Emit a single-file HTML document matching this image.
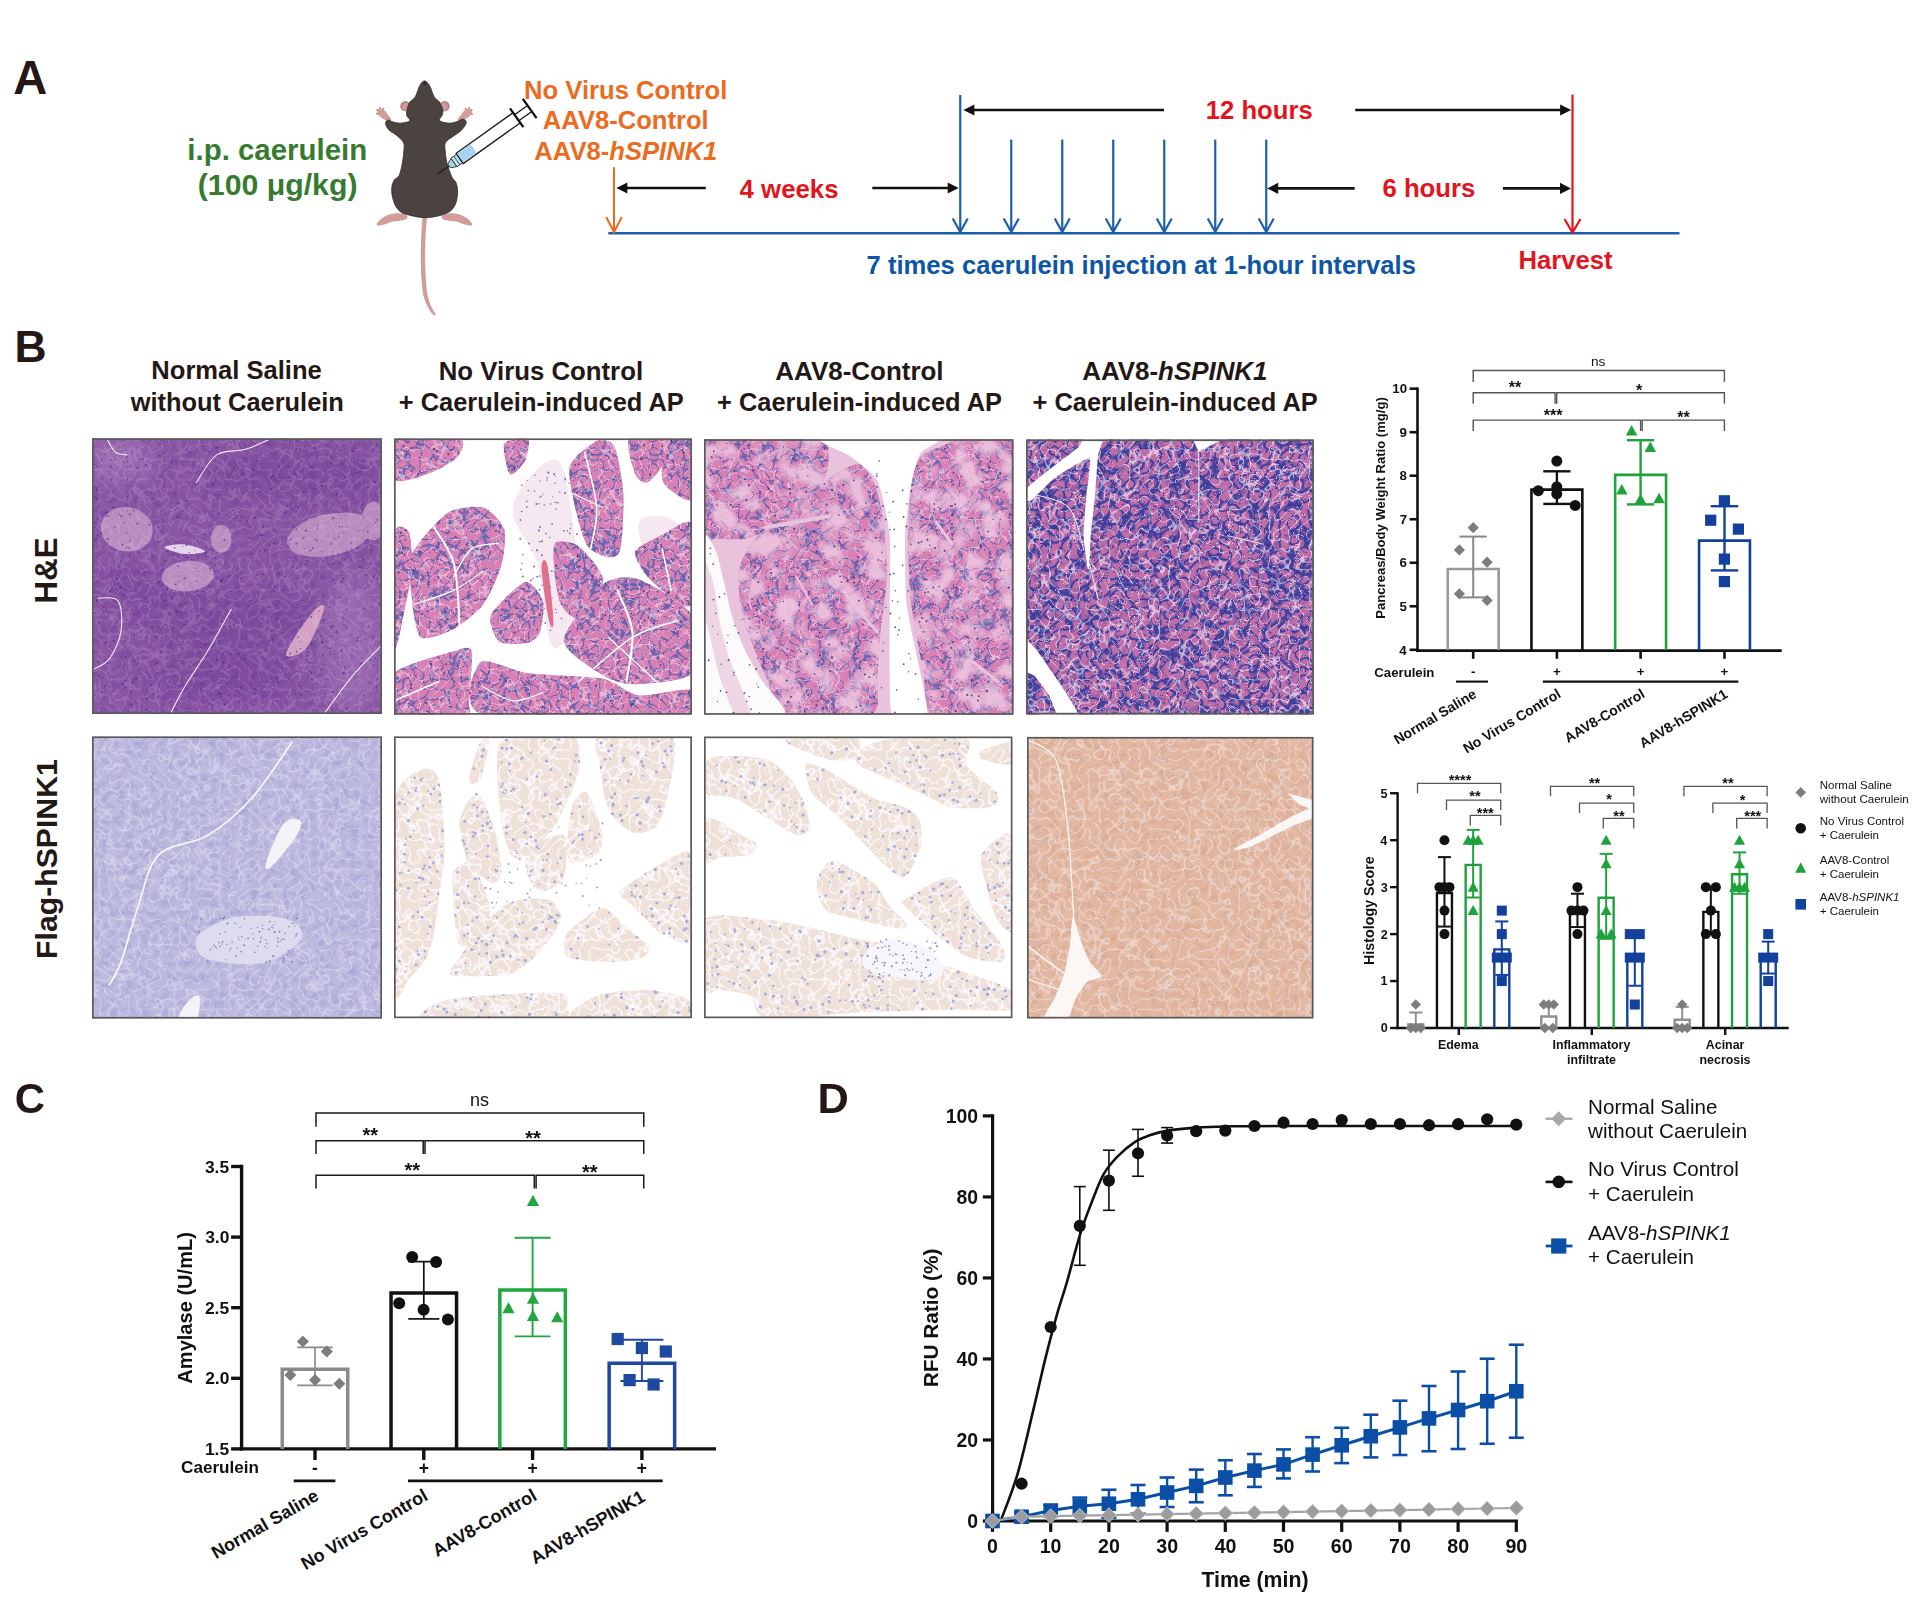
<!DOCTYPE html>
<html><head><meta charset="utf-8"><title>Figure</title>
<style>html,body{margin:0;padding:0;background:#fff;width:1920px;height:1608px;overflow:hidden;font-family:"Liberation Sans",sans-serif}svg{display:block}</style>
</head><body>
<svg width="1920" height="1608" viewBox="0 0 1920 1608"><text x="13.22" y="93.70" font-size="47.16" fill="#231815" font-family="'Liberation Sans', sans-serif"><tspan font-weight="bold" font-style="normal">A</tspan></text>
<text x="187.34" y="160.00" font-size="29.43" fill="#367b2f" font-family="'Liberation Sans', sans-serif"><tspan font-weight="bold" font-style="normal">i.p. caerulein</tspan></text>
<text x="197.79" y="194.60" font-size="30.25" fill="#367b2f" font-family="'Liberation Sans', sans-serif"><tspan font-weight="bold" font-style="normal">(100 μg/kg)</tspan></text>
<text x="523.93" y="98.70" font-size="25.66" fill="#eb6c1f" font-family="'Liberation Sans', sans-serif"><tspan font-weight="bold" font-style="normal">No Virus Control</tspan></text>
<text x="542.86" y="129.30" font-size="25.59" fill="#eb6c1f" font-family="'Liberation Sans', sans-serif"><tspan font-weight="bold" font-style="normal">AAV8-Control</tspan></text>
<text x="534.36" y="159.80" font-size="25.60" fill="#eb6c1f" font-family="'Liberation Sans', sans-serif"><tspan font-weight="bold" font-style="normal">AAV8-</tspan><tspan font-weight="bold" font-style="italic">hSPINK1</tspan></text>
<text x="739.61" y="197.70" font-size="25.77" fill="#e2141c" font-family="'Liberation Sans', sans-serif"><tspan font-weight="bold" font-style="normal">4 weeks</tspan></text>
<text x="1205.76" y="119.30" font-size="25.66" fill="#e2141c" font-family="'Liberation Sans', sans-serif"><tspan font-weight="bold" font-style="normal">12 hours</tspan></text>
<text x="1382.50" y="197.40" font-size="25.69" fill="#e2141c" font-family="'Liberation Sans', sans-serif"><tspan font-weight="bold" font-style="normal">6 hours</tspan></text>
<text x="1518.43" y="269.10" font-size="25.68" fill="#e2141c" font-family="'Liberation Sans', sans-serif"><tspan font-weight="bold" font-style="normal">Harvest</tspan></text>
<text x="866.58" y="274.00" font-size="25.62" fill="#0d56a6" font-family="'Liberation Sans', sans-serif"><tspan font-weight="bold" font-style="normal">7 times caerulein injection at 1-hour intervals</tspan></text>
<line x1="608.30" y1="233.30" x2="1679.50" y2="233.30" stroke="#1b5fae" stroke-width="2.40" stroke-linecap="butt" />
<line x1="614.00" y1="167.30" x2="614.00" y2="231.00" stroke="#eb6c1f" stroke-width="2.00" stroke-linecap="butt" /><polyline points="606.20,217.00 614.00,232.00 621.80,217.00" fill="none" stroke="#eb6c1f" stroke-width="2.00"/>
<line x1="960.25" y1="95.00" x2="960.25" y2="231.00" stroke="#1b5fae" stroke-width="2.20" stroke-linecap="butt" /><polyline points="952.75,218.50 960.25,232.00 967.75,218.50" fill="none" stroke="#1b5fae" stroke-width="2.20"/>
<line x1="1011.25" y1="139.60" x2="1011.25" y2="231.00" stroke="#1b5fae" stroke-width="2.20" stroke-linecap="butt" /><polyline points="1003.75,218.50 1011.25,232.00 1018.75,218.50" fill="none" stroke="#1b5fae" stroke-width="2.20"/>
<line x1="1062.25" y1="139.60" x2="1062.25" y2="231.00" stroke="#1b5fae" stroke-width="2.20" stroke-linecap="butt" /><polyline points="1054.75,218.50 1062.25,232.00 1069.75,218.50" fill="none" stroke="#1b5fae" stroke-width="2.20"/>
<line x1="1113.25" y1="139.60" x2="1113.25" y2="231.00" stroke="#1b5fae" stroke-width="2.20" stroke-linecap="butt" /><polyline points="1105.75,218.50 1113.25,232.00 1120.75,218.50" fill="none" stroke="#1b5fae" stroke-width="2.20"/>
<line x1="1164.25" y1="139.60" x2="1164.25" y2="231.00" stroke="#1b5fae" stroke-width="2.20" stroke-linecap="butt" /><polyline points="1156.75,218.50 1164.25,232.00 1171.75,218.50" fill="none" stroke="#1b5fae" stroke-width="2.20"/>
<line x1="1215.25" y1="139.60" x2="1215.25" y2="231.00" stroke="#1b5fae" stroke-width="2.20" stroke-linecap="butt" /><polyline points="1207.75,218.50 1215.25,232.00 1222.75,218.50" fill="none" stroke="#1b5fae" stroke-width="2.20"/>
<line x1="1266.25" y1="139.60" x2="1266.25" y2="231.00" stroke="#1b5fae" stroke-width="2.20" stroke-linecap="butt" /><polyline points="1258.75,218.50 1266.25,232.00 1273.75,218.50" fill="none" stroke="#1b5fae" stroke-width="2.20"/>
<line x1="1572.50" y1="94.60" x2="1572.50" y2="231.50" stroke="#e2141c" stroke-width="2.20" stroke-linecap="butt" /><polyline points="1564.50,219.00 1572.50,232.50 1580.50,219.00" fill="none" stroke="#e2141c" stroke-width="2.20"/>
<line x1="626.40" y1="188.00" x2="705.80" y2="188.00" stroke="#111111" stroke-width="2.60" stroke-linecap="butt" /><polygon points="616.40,188.00 627.40,182.40 627.40,193.60" fill="#111111" />
<line x1="872.30" y1="188.00" x2="948.70" y2="188.00" stroke="#111111" stroke-width="2.60" stroke-linecap="butt" /><polygon points="958.70,188.00 947.70,182.40 947.70,193.60" fill="#111111" />
<line x1="973.40" y1="110.00" x2="1164.00" y2="110.00" stroke="#111111" stroke-width="2.60" stroke-linecap="butt" /><polygon points="963.40,110.00 974.40,104.40 974.40,115.60" fill="#111111" />
<line x1="1355.20" y1="110.00" x2="1561.10" y2="110.00" stroke="#111111" stroke-width="2.60" stroke-linecap="butt" /><polygon points="1571.10,110.00 1560.10,104.40 1560.10,115.60" fill="#111111" />
<line x1="1277.20" y1="188.40" x2="1354.70" y2="188.40" stroke="#111111" stroke-width="2.60" stroke-linecap="butt" /><polygon points="1267.20,188.40 1278.20,182.80 1278.20,194.00" fill="#111111" />
<line x1="1502.90" y1="188.40" x2="1561.00" y2="188.40" stroke="#111111" stroke-width="2.60" stroke-linecap="butt" /><polygon points="1571.00,188.40 1560.00,182.80 1560.00,194.00" fill="#111111" />
<g transform="translate(360,70) scale(0.15545)"><path d="M403,940 C390,1080 384,1260 402,1420 C415,1500 448,1552 476,1580 L490,1572 C462,1540 440,1490 430,1420 C414,1270 416,1090 432,940 Z" fill="#d29d99" stroke="none" stroke-width="1.00" /><path d="M300.0,935.0 C292.0,929.0 270.0,922.5 250.0,922.0 C230.0,921.5 200.3,924.8 180.0,932.0 C159.7,939.2 140.0,954.0 128.0,965.0 C116.0,976.0 104.3,992.8 108.0,998.0 C111.7,1003.2 134.7,999.3 150.0,996.0 C165.3,992.7 184.2,982.0 200.0,978.0 C215.8,974.0 228.7,975.3 245.0,972.0 C261.3,968.7 288.8,964.2 298.0,958.0 C307.2,951.8 308.0,941.0 300.0,935.0 Z" fill="#d29d99" stroke="none" stroke-width="1.00" /><path d="M530.0,935.0 C538.0,929.0 560.0,922.5 580.0,922.0 C600.0,921.5 629.7,924.8 650.0,932.0 C670.3,939.2 690.0,954.0 702.0,965.0 C714.0,976.0 725.7,992.8 722.0,998.0 C718.3,1003.2 695.3,999.3 680.0,996.0 C664.7,992.7 645.8,982.0 630.0,978.0 C614.2,974.0 601.3,975.3 585.0,972.0 C568.7,968.7 541.2,964.2 532.0,958.0 C522.8,951.8 522.0,941.0 530.0,935.0 Z" fill="#d29d99" stroke="none" stroke-width="1.00" /><path d="M190.0,330.0 C181.7,330.0 162.0,321.7 150.0,315.0 C138.0,308.3 124.3,298.8 118.0,290.0 C111.7,281.2 109.7,268.7 112.0,262.0 C114.3,255.3 124.0,250.0 132.0,250.0 C140.0,250.0 152.0,255.3 160.0,262.0 C168.0,268.7 173.3,281.2 180.0,290.0 C186.7,298.8 198.3,308.3 200.0,315.0 C201.7,321.7 198.3,330.0 190.0,330.0 Z" fill="#d29d99" stroke="none" stroke-width="1.00" /><path d="M640.0,330.0 C648.3,330.0 668.0,321.7 680.0,315.0 C692.0,308.3 705.7,298.8 712.0,290.0 C718.3,281.2 720.3,268.7 718.0,262.0 C715.7,255.3 706.0,250.0 698.0,250.0 C690.0,250.0 678.0,255.3 670.0,262.0 C662.0,268.7 656.7,281.2 650.0,290.0 C643.3,298.8 631.7,308.3 630.0,315.0 C628.3,321.7 631.7,330.0 640.0,330.0 Z" fill="#d29d99" stroke="none" stroke-width="1.00" /><circle cx="112.00" cy="258.00" r="7.00" fill="#c08c8a" /><circle cx="128.00" cy="245.00" r="7.00" fill="#c08c8a" /><circle cx="150.00" cy="250.00" r="7.00" fill="#c08c8a" /><circle cx="110.00" cy="282.00" r="7.00" fill="#c08c8a" /><circle cx="718.00" cy="258.00" r="7.00" fill="#c08c8a" /><circle cx="702.00" cy="245.00" r="7.00" fill="#c08c8a" /><circle cx="680.00" cy="250.00" r="7.00" fill="#c08c8a" /><circle cx="720.00" cy="282.00" r="7.00" fill="#c08c8a" /><circle cx="292.00" cy="233.00" r="33.00" fill="#b98280" /><circle cx="296.00" cy="236.00" r="24.00" fill="#d29d99" /><circle cx="544.00" cy="233.00" r="33.00" fill="#b98280" /><circle cx="540.00" cy="236.00" r="24.00" fill="#d29d99" /><path d="M415.0,70.0 C425.3,70.0 436.7,82.0 447.0,99.0 C457.3,116.0 466.5,154.3 477.0,172.0 C487.5,189.7 500.8,191.5 510.0,205.0 C519.2,218.5 528.8,238.8 532.0,253.0 C535.2,267.2 532.3,278.0 529.0,290.0 C525.7,302.0 504.7,316.3 512.0,325.0 C519.3,333.7 553.3,341.2 573.0,342.0 C592.7,342.8 615.2,334.3 630.0,330.0 C644.8,325.7 653.0,314.7 662.0,316.0 C671.0,317.3 685.3,326.3 684.0,338.0 C682.7,349.7 668.8,370.7 654.0,386.0 C639.2,401.3 612.3,416.5 595.0,430.0 C577.7,443.5 557.8,452.0 550.0,467.0 C542.2,482.0 546.3,497.8 548.0,520.0 C549.7,542.2 552.7,571.7 560.0,600.0 C567.3,628.3 582.3,669.2 592.0,690.0 C601.7,710.8 612.0,709.2 618.0,725.0 C624.0,740.8 628.0,763.8 628.0,785.0 C628.0,806.2 624.0,833.2 618.0,852.0 C612.0,870.8 601.7,886.7 592.0,898.0 C582.3,909.3 572.8,913.7 560.0,920.0 C547.2,926.3 530.3,931.7 515.0,936.0 C499.7,940.3 484.7,943.7 468.0,946.0 C451.3,948.3 432.7,950.3 415.0,950.0 C397.3,949.7 379.2,947.0 362.0,944.0 C344.8,941.0 327.7,936.3 312.0,932.0 C296.3,927.7 281.3,926.7 268.0,918.0 C254.7,909.3 241.7,896.0 232.0,880.0 C222.3,864.0 214.7,842.0 210.0,822.0 C205.3,802.0 202.3,779.0 204.0,760.0 C205.7,741.0 212.0,721.7 220.0,708.0 C228.0,694.3 243.3,696.0 252.0,678.0 C260.7,660.0 267.0,626.3 272.0,600.0 C277.0,573.7 280.7,542.2 282.0,520.0 C283.3,497.8 288.0,483.8 280.0,467.0 C272.0,450.2 249.7,432.5 234.0,419.0 C218.3,405.5 197.5,398.3 186.0,386.0 C174.5,373.7 166.3,355.7 165.0,345.0 C163.7,334.3 169.7,323.7 178.0,322.0 C186.3,320.3 200.8,331.7 215.0,335.0 C229.2,338.3 245.5,343.3 263.0,342.0 C280.5,340.7 313.8,335.7 320.0,327.0 C326.2,318.3 302.2,304.7 300.0,290.0 C297.8,275.3 303.3,253.2 307.0,239.0 C310.7,224.8 313.8,216.2 322.0,205.0 C330.2,193.8 345.5,189.7 356.0,172.0 C366.5,154.3 375.2,116.0 385.0,99.0 C394.8,82.0 404.7,70.0 415.0,70.0 Z" fill="#4a4340" stroke="#2f2a28" stroke-width="5.00" /><path d="M415.0,72.0 C418.3,72.0 425.0,84.0 425.0,88.0 C425.0,92.0 418.3,96.0 415.0,96.0 C411.7,96.0 405.0,92.0 405.0,88.0 C405.0,84.0 411.7,72.0 415.0,72.0 Z" fill="#2a2524" stroke="none" stroke-width="1.00" /></g>
<g transform="translate(437.7,174.1) rotate(-35.5)"><line x1="0.00" y1="0.00" x2="15.00" y2="0.00" stroke="#222" stroke-width="1.30" stroke-linecap="butt" /><polygon points="14.00,-2.20 20.00,-5.00 20.00,5.00 14.00,2.20" fill="#a8d8ec" stroke="#333" stroke-width="0.9"/><rect x="20.00" y="-5.20" width="7.00" height="10.40" fill="#bfe3f1" stroke="#333" stroke-width="0.9"/><line x1="23.50" y1="-5.20" x2="23.50" y2="5.20" stroke="#333" stroke-width="0.80" stroke-linecap="butt" /><rect x="27.00" y="-6.20" width="70.00" height="12.40" fill="#ffffff" stroke="#1a1a1a" stroke-width="1.3"/><rect x="27.70" y="-5.50" width="16.50" height="11.00" fill="#a9d2ee" /><line x1="97.00" y1="-11.50" x2="97.00" y2="11.50" stroke="#111" stroke-width="2.30" stroke-linecap="butt" /><line x1="97.00" y1="-3.60" x2="113.00" y2="-3.60" stroke="#111" stroke-width="1.20" stroke-linecap="butt" /><line x1="97.00" y1="3.60" x2="113.00" y2="3.60" stroke="#111" stroke-width="1.20" stroke-linecap="butt" /><line x1="113.00" y1="-11.80" x2="113.00" y2="11.80" stroke="#111" stroke-width="2.30" stroke-linecap="butt" /></g>
<text x="14.41" y="361.50" font-size="44.43" fill="#231815" font-family="'Liberation Sans', sans-serif"><tspan font-weight="bold" font-style="normal">B</tspan></text>
<text x="151.34" y="379.40" font-size="25.57" fill="#231815" font-family="'Liberation Sans', sans-serif"><tspan font-weight="bold" font-style="normal">Normal Saline</tspan></text>
<text x="130.73" y="411.00" font-size="25.42" fill="#231815" font-family="'Liberation Sans', sans-serif"><tspan font-weight="bold" font-style="normal">without Caerulein</tspan></text>
<text x="438.72" y="379.50" font-size="25.79" fill="#231815" font-family="'Liberation Sans', sans-serif"><tspan font-weight="bold" font-style="normal">No Virus Control</tspan></text>
<text x="398.78" y="411.00" font-size="25.41" fill="#231815" font-family="'Liberation Sans', sans-serif"><tspan font-weight="bold" font-style="normal">+ Caerulein-induced AP</tspan></text>
<text x="775.35" y="379.50" font-size="25.96" fill="#231815" font-family="'Liberation Sans', sans-serif"><tspan font-weight="bold" font-style="normal">AAV8-Control</tspan></text>
<text x="717.08" y="411.00" font-size="25.41" fill="#231815" font-family="'Liberation Sans', sans-serif"><tspan font-weight="bold" font-style="normal">+ Caerulein-induced AP</tspan></text>
<text x="1082.35" y="379.50" font-size="25.90" fill="#231815" font-family="'Liberation Sans', sans-serif"><tspan font-weight="bold" font-style="normal">AAV8-</tspan><tspan font-weight="bold" font-style="italic">hSPINK1</tspan></text>
<text x="1032.48" y="411.00" font-size="25.45" fill="#231815" font-family="'Liberation Sans', sans-serif"><tspan font-weight="bold" font-style="normal">+ Caerulein-induced AP</tspan></text>
<text transform="translate(57.20,603.43) rotate(-90)" x="0" y="0" font-size="31.24" fill="#231815" font-family="'Liberation Sans', sans-serif"><tspan font-weight="bold" font-style="normal">H&amp;E</tspan></text>
<text transform="translate(57.20,958.96) rotate(-90)" x="0" y="0" font-size="30.21" fill="#231815" font-family="'Liberation Sans', sans-serif"><tspan font-weight="bold" font-style="normal">Flag-hSPINK1</tspan></text>
<defs><clipPath id="c0"><rect x="92.00" y="438.30" width="290.00" height="275.70"/></clipPath><clipPath id="c1"><rect x="394.00" y="438.40" width="298.00" height="276.30"/></clipPath><clipPath id="c2"><rect x="704.00" y="439.20" width="309.50" height="275.60"/></clipPath><clipPath id="c3"><rect x="1026.00" y="439.40" width="288.00" height="275.10"/></clipPath><clipPath id="c4"><rect x="92.00" y="736.40" width="290.00" height="282.20"/></clipPath><clipPath id="c5"><rect x="394.00" y="736.40" width="298.00" height="281.80"/></clipPath><clipPath id="c6"><rect x="704.00" y="736.50" width="308.50" height="281.70"/></clipPath><clipPath id="c7"><rect x="1027.00" y="736.90" width="286.50" height="281.60"/></clipPath><filter id="t1" x="0" y="0" width="100%" height="100%" color-interpolation-filters="sRGB"><feTurbulence type="fractalNoise" baseFrequency="0.12" numOctaves="2" seed="3"/><feColorMatrix type="matrix" values="0 0 0 0 0.373 0 0 0 0 0.196 0 0 0 0 0.588 1.500 0 0 0 -0.600"/></filter><filter id="t1b" x="0" y="0" width="100%" height="100%" color-interpolation-filters="sRGB"><feTurbulence type="turbulence" baseFrequency="0.1" numOctaves="1" seed="7"/><feColorMatrix type="matrix" values="0 0 0 0 0.922 0 0 0 0 0.843 0 0 0 0 0.941 -9.00 0 0 0 1.00"/></filter><filter id="t2" x="0" y="0" width="100%" height="100%" color-interpolation-filters="sRGB"><feTurbulence type="turbulence" baseFrequency="0.1" numOctaves="1" seed="5"/><feColorMatrix type="matrix" values="0 0 0 0 0.333 0 0 0 0 0.361 0 0 0 0 0.675 -11.00 0 0 0 1.15"/></filter><filter id="t2b" x="0" y="0" width="100%" height="100%" color-interpolation-filters="sRGB"><feTurbulence type="turbulence" baseFrequency="0.1" numOctaves="1" seed="6"/><feColorMatrix type="matrix" values="0 0 0 0 1.000 0 0 0 0 0.980 0 0 0 0 1.000 -12.00 0 0 0 0.90"/></filter><filter id="t4" x="0" y="0" width="100%" height="100%" color-interpolation-filters="sRGB"><feTurbulence type="turbulence" baseFrequency="0.1" numOctaves="1" seed="9"/><feColorMatrix type="matrix" values="0 0 0 0 0.243 0 0 0 0 0.251 0 0 0 0 0.620 -8.00 0 0 0 1.30"/></filter><filter id="t4b" x="0" y="0" width="100%" height="100%" color-interpolation-filters="sRGB"><feTurbulence type="turbulence" baseFrequency="0.1" numOctaves="1" seed="10"/><feColorMatrix type="matrix" values="0 0 0 0 0.980 0 0 0 0 0.961 0 0 0 0 1.000 -11.00 0 0 0 1.00"/></filter><filter id="t4c" x="0" y="0" width="100%" height="100%" color-interpolation-filters="sRGB"><feTurbulence type="fractalNoise" baseFrequency="0.15" numOctaves="1" seed="12"/><feColorMatrix type="matrix" values="0 0 0 0 0.235 0 0 0 0 0.196 0 0 0 0 0.588 3.000 0 0 0 -1.600"/></filter><filter id="t3p" x="0" y="0" width="100%" height="100%" color-interpolation-filters="sRGB"><feTurbulence type="fractalNoise" baseFrequency="0.045" numOctaves="2" seed="31"/><feColorMatrix type="matrix" values="0 0 0 0 0.933 0 0 0 0 0.769 0 0 0 0 0.871 4.000 0 0 0 -1.750"/></filter><filter id="t5" x="0" y="0" width="100%" height="100%" color-interpolation-filters="sRGB"><feTurbulence type="fractalNoise" baseFrequency="0.12" numOctaves="2" seed="11"/><feColorMatrix type="matrix" values="0 0 0 0 0.588 0 0 0 0 0.569 0 0 0 0 0.804 1.500 0 0 0 -0.600"/></filter><filter id="t5b" x="0" y="0" width="100%" height="100%" color-interpolation-filters="sRGB"><feTurbulence type="turbulence" baseFrequency="0.1" numOctaves="1" seed="13"/><feColorMatrix type="matrix" values="0 0 0 0 0.973 0 0 0 0 0.973 0 0 0 0 1.000 -10.00 0 0 0 1.00"/></filter><filter id="t6" x="0" y="0" width="100%" height="100%" color-interpolation-filters="sRGB"><feTurbulence type="turbulence" baseFrequency="0.1" numOctaves="1" seed="17"/><feColorMatrix type="matrix" values="0 0 0 0 0.988 0 0 0 0 0.980 0 0 0 0 1.000 -9.00 0 0 0 1.10"/></filter><filter id="t8" x="0" y="0" width="100%" height="100%" color-interpolation-filters="sRGB"><feTurbulence type="fractalNoise" baseFrequency="0.12" numOctaves="2" seed="19"/><feColorMatrix type="matrix" values="0 0 0 0 0.784 0 0 0 0 0.529 0 0 0 0 0.412 1.400 0 0 0 -0.600"/></filter><filter id="t8b" x="0" y="0" width="100%" height="100%" color-interpolation-filters="sRGB"><feTurbulence type="turbulence" baseFrequency="0.1" numOctaves="1" seed="23"/><feColorMatrix type="matrix" values="0 0 0 0 0.973 0 0 0 0 0.933 0 0 0 0 0.949 -9.00 0 0 0 1.00"/></filter><filter id="blur8" x="-50%" y="-50%" width="200%" height="200%"><feGaussianBlur stdDeviation="10"/></filter></defs>
<g clip-path="url(#c0)"><rect x="92.00" y="438.30" width="290.00" height="275.70" fill="#8c58a5" /><rect x="92.00" y="438.30" width="290.00" height="275.70" fill="#000" filter="url(#t1)" opacity="0.55"/><g filter="url(#blur8)"><ellipse cx="295.0" cy="474.2" rx="87.0" ry="22.1" fill="#5a2a88" opacity="0.25"/><ellipse cx="135.5" cy="590.1" rx="43.5" ry="16.6" fill="#5a2a88" opacity="0.22"/><ellipse cx="237.0" cy="620.5" rx="87.0" ry="27.6" fill="#5a2a88" opacity="0.25"/><ellipse cx="222.5" cy="675.7" rx="72.5" ry="24.8" fill="#5a2a88" opacity="0.22"/><ellipse cx="121.0" cy="460.4" rx="34.8" ry="22.1" fill="#d8b8e0" opacity="0.25"/><ellipse cx="353.0" cy="645.3" rx="29.0" ry="69.0" fill="#d8b8e0" opacity="0.20"/></g><ellipse cx="126.8" cy="529.3" rx="26.1" ry="22.1" fill="#b98cbf" transform="rotate(10 126.8 529.3)"/><ellipse cx="221.1" cy="538.9" rx="10.2" ry="13.8" fill="#b98cbf" transform="rotate(0 221.1 538.9)"/><ellipse cx="187.7" cy="576.1" rx="26.1" ry="15.2" fill="#b98cbf" transform="rotate(-5 187.7 576.1)"/><ellipse cx="329.8" cy="534.8" rx="43.5" ry="20.7" fill="#b98cbf" transform="rotate(-12 329.8 534.8)"/><ellipse cx="373.3" cy="521.0" rx="11.6" ry="19.3" fill="#b98cbf" transform="rotate(0 373.3 521.0)"/><path d="M164.50,547.20 C164.50,545.59 178.03,543.76 184.80,544.44 C191.57,545.13 205.10,549.73 205.10,551.34 C205.10,552.95 191.57,554.78 184.80,554.09 C178.03,553.40 164.50,548.81 164.50,547.20 Z" fill="#e6d2ea" stroke="none" stroke-width="1.00" /><path d="M295.00,636.80 C299.83,628.99 310.47,613.83 315.30,609.23 C320.13,604.64 325.45,602.80 324.00,609.23 C322.55,615.67 312.88,640.02 306.60,647.83 C300.32,655.64 288.23,657.94 286.30,656.10 C284.37,654.27 290.17,644.62 295.00,636.80 Z" fill="#d3a0c4" stroke="none" stroke-width="1.00" /><rect x="92.00" y="438.30" width="290.00" height="275.70" fill="#000" filter="url(#t1b)" opacity="0.18"/><g fill="#3e2478" opacity="0.60"><circle cx="260.5" cy="492.0" r="1.0"/><circle cx="360.0" cy="567.1" r="0.8"/><circle cx="154.2" cy="499.4" r="0.6"/><circle cx="292.8" cy="496.9" r="1.0"/><circle cx="112.4" cy="491.6" r="0.5"/><circle cx="315.3" cy="539.3" r="0.7"/><circle cx="186.5" cy="614.0" r="0.7"/><circle cx="152.4" cy="556.9" r="0.7"/><circle cx="124.1" cy="665.3" r="0.8"/><circle cx="284.8" cy="681.6" r="0.7"/><circle cx="202.0" cy="554.9" r="0.7"/><circle cx="286.0" cy="440.1" r="0.7"/><circle cx="247.2" cy="533.6" r="0.5"/><circle cx="296.3" cy="440.9" r="0.8"/><circle cx="136.5" cy="447.8" r="0.6"/><circle cx="111.1" cy="479.9" r="0.8"/><circle cx="303.2" cy="538.3" r="0.8"/><circle cx="229.8" cy="575.7" r="0.9"/><circle cx="182.3" cy="678.2" r="0.8"/><circle cx="290.2" cy="439.9" r="0.5"/><circle cx="101.3" cy="533.6" r="1.0"/><circle cx="346.0" cy="669.5" r="0.6"/><circle cx="296.7" cy="651.8" r="0.9"/><circle cx="321.7" cy="477.0" r="0.6"/><circle cx="321.8" cy="641.8" r="0.9"/><circle cx="221.5" cy="683.6" r="0.6"/><circle cx="369.6" cy="682.1" r="0.7"/><circle cx="111.6" cy="589.5" r="0.8"/><circle cx="193.6" cy="454.2" r="0.6"/><circle cx="331.1" cy="463.3" r="1.0"/><circle cx="164.5" cy="494.7" r="0.6"/><circle cx="376.5" cy="686.7" r="0.7"/><circle cx="119.7" cy="618.4" r="0.9"/><circle cx="95.5" cy="612.8" r="0.9"/><circle cx="225.1" cy="595.3" r="0.9"/><circle cx="161.2" cy="513.6" r="0.8"/><circle cx="252.2" cy="585.9" r="0.7"/><circle cx="363.7" cy="517.7" r="0.8"/><circle cx="351.3" cy="548.8" r="0.5"/><circle cx="155.9" cy="456.6" r="0.6"/><circle cx="126.9" cy="532.7" r="0.7"/><circle cx="221.7" cy="621.7" r="0.8"/><circle cx="291.3" cy="538.8" r="0.8"/><circle cx="251.4" cy="473.5" r="0.8"/><circle cx="184.3" cy="624.6" r="0.9"/><circle cx="161.8" cy="558.3" r="0.7"/><circle cx="178.1" cy="449.5" r="0.5"/><circle cx="379.9" cy="642.3" r="0.7"/><circle cx="285.3" cy="512.5" r="0.9"/><circle cx="367.7" cy="651.5" r="0.7"/><circle cx="377.2" cy="692.5" r="0.5"/><circle cx="211.4" cy="562.9" r="0.6"/><circle cx="270.8" cy="477.8" r="0.9"/><circle cx="340.7" cy="455.3" r="0.8"/><circle cx="169.1" cy="614.3" r="0.8"/><circle cx="375.2" cy="658.3" r="0.7"/><circle cx="303.7" cy="478.8" r="0.9"/><circle cx="213.0" cy="511.4" r="0.6"/><circle cx="154.9" cy="657.9" r="0.5"/><circle cx="159.4" cy="491.3" r="0.6"/><circle cx="303.7" cy="600.2" r="0.8"/><circle cx="353.1" cy="562.0" r="0.5"/><circle cx="146.9" cy="580.7" r="0.9"/><circle cx="358.4" cy="579.2" r="0.6"/><circle cx="263.9" cy="696.0" r="0.7"/><circle cx="362.0" cy="687.5" r="0.8"/><circle cx="231.5" cy="473.8" r="0.6"/><circle cx="103.9" cy="606.9" r="0.9"/><circle cx="380.1" cy="604.4" r="1.0"/><circle cx="208.8" cy="475.2" r="0.5"/><circle cx="175.6" cy="584.6" r="1.0"/><circle cx="178.2" cy="503.1" r="0.9"/><circle cx="204.6" cy="592.2" r="0.6"/><circle cx="339.4" cy="691.8" r="0.9"/><circle cx="363.4" cy="530.0" r="0.5"/><circle cx="180.4" cy="685.8" r="0.7"/><circle cx="150.1" cy="480.0" r="0.6"/><circle cx="219.3" cy="693.5" r="0.9"/><circle cx="311.7" cy="646.8" r="0.6"/><circle cx="317.5" cy="500.1" r="0.8"/><circle cx="101.7" cy="684.3" r="0.6"/><circle cx="263.9" cy="620.9" r="0.8"/><circle cx="289.9" cy="540.1" r="0.9"/><circle cx="364.2" cy="608.4" r="1.0"/><circle cx="338.5" cy="453.6" r="0.8"/><circle cx="118.5" cy="620.6" r="0.7"/><circle cx="339.8" cy="450.6" r="1.0"/><circle cx="104.6" cy="453.9" r="0.5"/><circle cx="128.4" cy="710.2" r="0.9"/><circle cx="357.9" cy="489.7" r="0.8"/><circle cx="322.6" cy="638.7" r="0.6"/><circle cx="373.5" cy="639.1" r="0.8"/><circle cx="174.5" cy="547.8" r="0.9"/><circle cx="241.7" cy="572.8" r="1.0"/><circle cx="213.9" cy="675.1" r="0.5"/><circle cx="245.8" cy="634.9" r="0.5"/><circle cx="293.9" cy="517.2" r="0.8"/><circle cx="272.7" cy="475.9" r="1.0"/><circle cx="162.4" cy="475.9" r="0.7"/><circle cx="110.6" cy="466.2" r="0.9"/><circle cx="120.3" cy="587.5" r="0.9"/><circle cx="223.6" cy="662.8" r="0.9"/><circle cx="139.7" cy="459.4" r="0.9"/><circle cx="343.2" cy="673.5" r="0.9"/><circle cx="239.9" cy="702.4" r="0.9"/><circle cx="313.2" cy="689.6" r="0.5"/><circle cx="306.9" cy="599.4" r="0.5"/><circle cx="166.1" cy="635.7" r="0.8"/><circle cx="255.1" cy="517.5" r="0.8"/><circle cx="346.9" cy="708.5" r="0.8"/><circle cx="304.1" cy="462.4" r="0.6"/><circle cx="254.2" cy="666.2" r="0.6"/><circle cx="134.8" cy="576.1" r="0.7"/><circle cx="132.7" cy="482.0" r="0.7"/><circle cx="321.9" cy="485.5" r="0.9"/><circle cx="113.6" cy="507.4" r="0.8"/><circle cx="94.1" cy="527.1" r="0.6"/><circle cx="158.8" cy="682.8" r="0.6"/><circle cx="300.8" cy="689.2" r="0.6"/><circle cx="342.1" cy="526.7" r="0.9"/><circle cx="260.5" cy="534.9" r="0.9"/><circle cx="293.8" cy="526.3" r="0.8"/><circle cx="177.4" cy="517.1" r="1.0"/><circle cx="374.9" cy="481.8" r="1.0"/><circle cx="299.0" cy="441.4" r="0.6"/><circle cx="218.4" cy="683.0" r="0.9"/><circle cx="164.7" cy="561.1" r="1.0"/><circle cx="152.8" cy="467.1" r="0.7"/><circle cx="289.4" cy="678.9" r="0.9"/><circle cx="95.4" cy="486.7" r="0.6"/><circle cx="264.8" cy="550.2" r="1.0"/><circle cx="270.5" cy="607.8" r="0.8"/><circle cx="151.4" cy="685.0" r="0.9"/><circle cx="330.5" cy="654.0" r="0.6"/><circle cx="107.4" cy="538.9" r="0.9"/><circle cx="150.2" cy="677.9" r="0.9"/><circle cx="294.0" cy="571.8" r="0.6"/><circle cx="326.7" cy="485.9" r="0.7"/><circle cx="311.9" cy="613.5" r="0.6"/><circle cx="346.9" cy="526.7" r="0.7"/><circle cx="219.2" cy="631.7" r="0.5"/><circle cx="277.1" cy="572.8" r="0.9"/><circle cx="198.1" cy="595.8" r="1.0"/><circle cx="108.9" cy="656.7" r="0.7"/><circle cx="179.0" cy="514.0" r="0.6"/><circle cx="336.6" cy="494.2" r="1.0"/><circle cx="241.8" cy="516.9" r="0.9"/><circle cx="260.6" cy="682.1" r="0.6"/><circle cx="292.7" cy="446.0" r="0.6"/><circle cx="212.3" cy="524.6" r="0.6"/><circle cx="257.1" cy="644.2" r="0.7"/><circle cx="239.5" cy="653.9" r="0.6"/><circle cx="381.4" cy="444.8" r="0.7"/><circle cx="331.3" cy="503.2" r="0.7"/><circle cx="141.5" cy="706.9" r="0.9"/><circle cx="115.6" cy="586.8" r="0.6"/><circle cx="97.2" cy="499.2" r="0.9"/><circle cx="245.3" cy="517.5" r="0.8"/><circle cx="115.9" cy="532.7" r="0.5"/><circle cx="331.0" cy="543.8" r="0.9"/><circle cx="189.3" cy="552.8" r="0.8"/><circle cx="167.2" cy="589.2" r="0.9"/><circle cx="113.5" cy="493.1" r="0.5"/><circle cx="233.7" cy="468.7" r="0.8"/><circle cx="138.7" cy="583.3" r="0.6"/><circle cx="309.3" cy="663.1" r="1.0"/><circle cx="226.4" cy="683.5" r="0.9"/><circle cx="189.4" cy="708.5" r="1.0"/><circle cx="137.6" cy="645.5" r="0.8"/><circle cx="270.7" cy="634.3" r="0.6"/><circle cx="333.9" cy="637.3" r="0.6"/><circle cx="372.1" cy="640.5" r="0.5"/><circle cx="101.4" cy="485.0" r="0.8"/><circle cx="301.5" cy="695.0" r="0.9"/><circle cx="151.3" cy="491.9" r="0.5"/><circle cx="205.1" cy="555.0" r="0.7"/><circle cx="330.1" cy="607.3" r="0.9"/><circle cx="342.1" cy="649.3" r="0.8"/><circle cx="210.7" cy="586.1" r="0.7"/><circle cx="285.9" cy="673.2" r="0.8"/><circle cx="165.8" cy="593.9" r="0.7"/><circle cx="127.7" cy="467.4" r="0.7"/><circle cx="364.9" cy="632.1" r="0.5"/><circle cx="357.8" cy="638.1" r="0.8"/><circle cx="93.8" cy="523.8" r="0.7"/><circle cx="231.9" cy="472.1" r="0.8"/><circle cx="269.4" cy="614.9" r="0.7"/><circle cx="253.7" cy="469.5" r="0.9"/><circle cx="343.8" cy="673.0" r="0.9"/><circle cx="162.3" cy="519.3" r="0.5"/><circle cx="319.8" cy="675.3" r="1.0"/><circle cx="266.2" cy="658.6" r="0.9"/><circle cx="127.0" cy="457.1" r="0.9"/><circle cx="373.5" cy="635.7" r="0.8"/><circle cx="206.8" cy="675.0" r="0.6"/><circle cx="107.7" cy="659.9" r="0.5"/><circle cx="299.6" cy="617.5" r="0.6"/><circle cx="218.6" cy="513.4" r="0.9"/><circle cx="317.4" cy="529.1" r="0.6"/><circle cx="191.3" cy="559.5" r="0.8"/><circle cx="366.9" cy="526.8" r="0.6"/><circle cx="273.6" cy="555.6" r="0.9"/><circle cx="284.0" cy="589.2" r="0.9"/><circle cx="148.8" cy="654.1" r="0.6"/><circle cx="231.1" cy="591.5" r="0.8"/><circle cx="124.5" cy="564.9" r="0.6"/><circle cx="172.2" cy="554.5" r="0.7"/><circle cx="151.9" cy="627.3" r="1.0"/><circle cx="366.9" cy="488.0" r="0.6"/><circle cx="210.0" cy="602.2" r="0.8"/><circle cx="262.9" cy="574.2" r="1.0"/><circle cx="370.8" cy="659.9" r="0.6"/><circle cx="314.5" cy="448.2" r="1.0"/><circle cx="295.4" cy="693.4" r="0.7"/><circle cx="298.2" cy="507.4" r="1.0"/><circle cx="143.8" cy="440.8" r="0.6"/><circle cx="284.7" cy="586.4" r="0.9"/><circle cx="290.3" cy="653.5" r="1.0"/><circle cx="111.2" cy="467.5" r="0.6"/><circle cx="130.8" cy="590.4" r="0.9"/><circle cx="144.7" cy="575.1" r="0.6"/><circle cx="96.9" cy="511.3" r="0.6"/><circle cx="291.5" cy="705.4" r="0.5"/><circle cx="234.2" cy="566.3" r="0.8"/><circle cx="135.0" cy="702.0" r="0.6"/><circle cx="259.8" cy="550.9" r="0.8"/><circle cx="347.3" cy="608.6" r="0.7"/><circle cx="368.2" cy="486.8" r="1.0"/><circle cx="287.3" cy="505.8" r="1.0"/><circle cx="343.1" cy="578.5" r="0.9"/><circle cx="119.2" cy="514.1" r="0.7"/><circle cx="365.7" cy="540.2" r="1.0"/><circle cx="260.2" cy="636.3" r="0.9"/><circle cx="130.4" cy="691.6" r="0.8"/><circle cx="127.4" cy="480.0" r="0.9"/><circle cx="254.9" cy="694.0" r="0.9"/><circle cx="251.2" cy="553.8" r="0.9"/><circle cx="375.6" cy="522.8" r="0.8"/><circle cx="126.3" cy="450.5" r="0.5"/><circle cx="200.6" cy="608.5" r="0.9"/><circle cx="309.5" cy="704.0" r="0.6"/><circle cx="339.7" cy="526.7" r="0.7"/><circle cx="249.6" cy="713.0" r="0.7"/><circle cx="108.9" cy="539.3" r="0.8"/><circle cx="290.1" cy="480.6" r="0.6"/><circle cx="140.2" cy="579.7" r="0.7"/><circle cx="184.5" cy="578.4" r="0.9"/><circle cx="270.7" cy="640.6" r="0.7"/><circle cx="360.6" cy="470.5" r="0.5"/><circle cx="120.0" cy="570.8" r="0.7"/><circle cx="149.6" cy="440.3" r="0.9"/><circle cx="108.8" cy="612.4" r="1.0"/><circle cx="165.1" cy="600.7" r="0.9"/><circle cx="219.1" cy="691.8" r="0.5"/><circle cx="258.0" cy="652.7" r="0.7"/><circle cx="332.5" cy="708.9" r="0.9"/><circle cx="230.8" cy="628.9" r="0.9"/><circle cx="272.7" cy="451.1" r="0.6"/><circle cx="269.1" cy="470.1" r="0.6"/><circle cx="373.9" cy="576.7" r="1.0"/><circle cx="334.9" cy="654.1" r="0.7"/><circle cx="159.9" cy="456.6" r="0.6"/><circle cx="236.1" cy="606.2" r="0.6"/><circle cx="224.4" cy="539.9" r="0.9"/><circle cx="178.5" cy="669.2" r="0.8"/><circle cx="363.4" cy="515.3" r="0.6"/><circle cx="233.3" cy="510.2" r="0.8"/><circle cx="368.3" cy="584.9" r="0.6"/><circle cx="107.4" cy="611.9" r="0.7"/><circle cx="94.7" cy="539.8" r="0.9"/><circle cx="273.7" cy="530.6" r="1.0"/><circle cx="376.7" cy="445.7" r="0.6"/><circle cx="268.9" cy="532.0" r="0.6"/><circle cx="325.0" cy="687.3" r="0.7"/><circle cx="371.6" cy="597.0" r="0.8"/><circle cx="241.3" cy="657.7" r="1.0"/><circle cx="237.3" cy="570.0" r="0.9"/><circle cx="336.0" cy="619.7" r="0.6"/><circle cx="129.4" cy="538.7" r="0.5"/><circle cx="194.4" cy="538.1" r="0.6"/><circle cx="133.7" cy="614.1" r="0.9"/><circle cx="155.7" cy="637.5" r="0.7"/><circle cx="95.1" cy="695.4" r="0.6"/><circle cx="231.6" cy="443.0" r="0.6"/><circle cx="194.5" cy="542.9" r="0.8"/><circle cx="372.5" cy="607.3" r="0.7"/><circle cx="333.6" cy="563.8" r="0.8"/><circle cx="221.4" cy="644.4" r="0.5"/><circle cx="142.2" cy="630.6" r="0.9"/><circle cx="196.6" cy="449.7" r="0.8"/><circle cx="122.4" cy="545.0" r="0.9"/><circle cx="324.2" cy="664.9" r="0.6"/><circle cx="304.3" cy="446.6" r="1.0"/><circle cx="307.5" cy="651.4" r="0.9"/><circle cx="329.9" cy="648.3" r="1.0"/><circle cx="110.9" cy="460.2" r="0.9"/><circle cx="126.2" cy="659.7" r="0.7"/><circle cx="310.5" cy="467.4" r="0.8"/><circle cx="300.3" cy="641.8" r="0.6"/><circle cx="161.9" cy="672.2" r="0.9"/><circle cx="239.6" cy="443.5" r="0.9"/><circle cx="311.0" cy="617.0" r="1.0"/><circle cx="275.6" cy="663.3" r="0.6"/><circle cx="175.6" cy="708.5" r="1.0"/><circle cx="123.2" cy="610.1" r="0.8"/><circle cx="268.9" cy="545.3" r="0.7"/><circle cx="359.4" cy="476.8" r="0.5"/><circle cx="308.8" cy="442.3" r="0.7"/><circle cx="254.3" cy="625.4" r="0.6"/><circle cx="276.7" cy="619.3" r="0.9"/><circle cx="228.8" cy="695.2" r="0.7"/><circle cx="357.7" cy="547.8" r="0.9"/><circle cx="176.6" cy="611.3" r="0.9"/><circle cx="109.9" cy="651.8" r="0.5"/><circle cx="321.0" cy="477.9" r="0.6"/><circle cx="183.3" cy="510.7" r="0.8"/><circle cx="193.2" cy="665.0" r="0.7"/><circle cx="317.6" cy="525.5" r="0.8"/><circle cx="262.4" cy="535.1" r="0.9"/><circle cx="273.7" cy="591.1" r="0.8"/><circle cx="158.3" cy="526.8" r="0.9"/><circle cx="293.0" cy="566.5" r="1.0"/><circle cx="365.5" cy="633.8" r="0.6"/><circle cx="205.3" cy="546.8" r="0.8"/><circle cx="178.1" cy="566.2" r="0.9"/><circle cx="124.2" cy="462.4" r="0.8"/><circle cx="96.8" cy="538.6" r="0.6"/><circle cx="315.6" cy="489.1" r="0.8"/><circle cx="344.0" cy="624.4" r="0.7"/><circle cx="146.8" cy="699.0" r="0.9"/><circle cx="291.8" cy="508.9" r="0.6"/><circle cx="345.0" cy="667.5" r="0.9"/><circle cx="180.2" cy="635.6" r="0.9"/><circle cx="351.9" cy="634.9" r="0.5"/><circle cx="107.4" cy="516.1" r="0.9"/><circle cx="189.7" cy="452.0" r="0.7"/><circle cx="139.0" cy="552.2" r="0.9"/><circle cx="237.8" cy="587.8" r="0.8"/><circle cx="371.2" cy="694.2" r="0.8"/><circle cx="126.3" cy="630.4" r="0.6"/><circle cx="94.8" cy="464.3" r="0.7"/><circle cx="340.4" cy="575.6" r="0.9"/><circle cx="245.9" cy="637.7" r="0.8"/><circle cx="304.2" cy="536.4" r="0.6"/><circle cx="322.8" cy="655.0" r="0.9"/><circle cx="287.8" cy="657.0" r="0.8"/><circle cx="284.4" cy="629.2" r="0.7"/><circle cx="103.0" cy="677.6" r="0.9"/><circle cx="186.0" cy="557.3" r="0.6"/><circle cx="362.7" cy="459.5" r="0.7"/><circle cx="99.4" cy="675.7" r="0.8"/><circle cx="315.5" cy="597.3" r="0.8"/><circle cx="354.6" cy="462.7" r="0.6"/><circle cx="125.2" cy="568.5" r="0.5"/><circle cx="276.9" cy="605.3" r="0.9"/><circle cx="332.1" cy="456.4" r="0.5"/><circle cx="221.0" cy="581.7" r="0.9"/><circle cx="189.3" cy="696.6" r="0.8"/><circle cx="233.7" cy="625.0" r="1.0"/><circle cx="306.2" cy="683.7" r="0.6"/><circle cx="123.4" cy="444.8" r="0.8"/><circle cx="302.8" cy="492.1" r="0.8"/><circle cx="152.4" cy="601.5" r="1.0"/><circle cx="345.4" cy="514.7" r="0.5"/><circle cx="162.6" cy="585.7" r="0.7"/><circle cx="221.4" cy="580.4" r="1.0"/><circle cx="194.7" cy="550.6" r="0.7"/><circle cx="252.5" cy="482.1" r="0.8"/><circle cx="241.8" cy="659.0" r="0.8"/><circle cx="359.0" cy="531.0" r="0.7"/><circle cx="193.9" cy="439.1" r="0.9"/><circle cx="294.9" cy="704.0" r="0.5"/><circle cx="341.1" cy="651.0" r="0.9"/><circle cx="133.8" cy="510.6" r="0.9"/><circle cx="288.0" cy="465.7" r="0.5"/><circle cx="372.5" cy="636.9" r="0.7"/><circle cx="228.2" cy="483.9" r="0.6"/><circle cx="370.7" cy="463.9" r="1.0"/><circle cx="317.0" cy="540.4" r="0.9"/><circle cx="250.6" cy="614.2" r="0.8"/><circle cx="213.7" cy="699.7" r="0.9"/><circle cx="208.8" cy="586.5" r="0.6"/><circle cx="129.7" cy="514.5" r="0.9"/><circle cx="158.2" cy="512.2" r="0.5"/><circle cx="376.2" cy="510.3" r="0.6"/><circle cx="298.8" cy="463.9" r="0.9"/><circle cx="300.5" cy="449.0" r="0.9"/><circle cx="154.5" cy="464.3" r="0.9"/><circle cx="362.1" cy="538.1" r="0.6"/><circle cx="237.7" cy="654.6" r="1.0"/><circle cx="289.0" cy="543.9" r="0.7"/><circle cx="343.7" cy="512.5" r="0.7"/><circle cx="146.9" cy="709.5" r="0.9"/><circle cx="161.2" cy="652.6" r="1.0"/><circle cx="180.3" cy="529.4" r="0.6"/><circle cx="339.0" cy="562.7" r="0.9"/><circle cx="205.4" cy="644.8" r="1.0"/><circle cx="232.7" cy="488.4" r="0.9"/><circle cx="371.1" cy="550.1" r="0.9"/><circle cx="380.4" cy="705.0" r="0.9"/><circle cx="223.9" cy="528.2" r="0.6"/><circle cx="166.0" cy="514.1" r="0.6"/><circle cx="92.3" cy="525.5" r="0.6"/><circle cx="310.4" cy="550.4" r="1.0"/><circle cx="290.5" cy="505.9" r="0.8"/><circle cx="266.0" cy="706.3" r="0.9"/><circle cx="170.9" cy="486.8" r="0.7"/><circle cx="186.7" cy="500.9" r="0.9"/><circle cx="179.7" cy="581.1" r="0.7"/><circle cx="276.3" cy="486.9" r="0.7"/><circle cx="171.9" cy="598.5" r="0.8"/><circle cx="342.1" cy="621.2" r="0.5"/><circle cx="309.6" cy="671.3" r="1.0"/><circle cx="158.2" cy="599.5" r="0.6"/><circle cx="273.2" cy="639.3" r="0.9"/><circle cx="243.4" cy="593.5" r="0.6"/><circle cx="119.8" cy="555.2" r="0.6"/><circle cx="291.0" cy="503.8" r="0.7"/><circle cx="95.6" cy="523.4" r="0.9"/><circle cx="125.4" cy="577.7" r="0.9"/><circle cx="365.4" cy="616.0" r="0.5"/><circle cx="311.6" cy="673.0" r="0.9"/><circle cx="320.9" cy="636.0" r="0.9"/><circle cx="217.8" cy="454.2" r="0.6"/><circle cx="228.3" cy="577.3" r="1.0"/><circle cx="198.0" cy="558.2" r="0.9"/><circle cx="176.4" cy="542.5" r="0.6"/><circle cx="233.4" cy="478.7" r="0.8"/><circle cx="222.0" cy="491.1" r="0.6"/><circle cx="263.0" cy="526.8" r="1.0"/><circle cx="372.5" cy="546.3" r="0.8"/><circle cx="164.2" cy="486.1" r="0.9"/><circle cx="363.0" cy="505.3" r="0.7"/><circle cx="274.1" cy="480.2" r="0.6"/><circle cx="234.4" cy="558.8" r="0.6"/><circle cx="234.8" cy="515.2" r="0.7"/><circle cx="319.2" cy="600.6" r="0.7"/><circle cx="224.5" cy="704.8" r="1.0"/><circle cx="346.1" cy="646.2" r="0.7"/><circle cx="242.6" cy="473.9" r="1.0"/><circle cx="142.9" cy="458.4" r="0.8"/><circle cx="122.8" cy="643.6" r="0.7"/><circle cx="306.2" cy="589.7" r="0.6"/><circle cx="241.7" cy="622.1" r="0.5"/><circle cx="130.4" cy="541.2" r="0.8"/><circle cx="210.0" cy="549.8" r="0.8"/><circle cx="162.1" cy="520.1" r="0.7"/><circle cx="363.0" cy="549.7" r="0.5"/><circle cx="158.7" cy="582.0" r="1.0"/><circle cx="278.8" cy="585.2" r="0.6"/><circle cx="189.2" cy="679.6" r="1.0"/><circle cx="199.2" cy="615.8" r="0.8"/><circle cx="302.7" cy="516.6" r="0.6"/><circle cx="198.9" cy="571.5" r="0.6"/><circle cx="102.2" cy="691.7" r="0.7"/><circle cx="234.4" cy="518.2" r="1.0"/><circle cx="282.0" cy="675.5" r="0.6"/><circle cx="313.2" cy="559.1" r="0.6"/><circle cx="279.0" cy="466.4" r="1.0"/><circle cx="133.6" cy="660.7" r="0.7"/><circle cx="133.2" cy="651.8" r="0.5"/><circle cx="330.3" cy="500.1" r="0.6"/><circle cx="101.7" cy="460.1" r="0.9"/><circle cx="322.5" cy="561.1" r="0.9"/><circle cx="173.2" cy="556.1" r="0.7"/><circle cx="196.0" cy="581.4" r="0.7"/><circle cx="300.4" cy="648.8" r="0.7"/><circle cx="216.8" cy="592.6" r="0.6"/><circle cx="112.2" cy="449.9" r="0.9"/><circle cx="137.8" cy="467.9" r="0.9"/><circle cx="286.7" cy="559.9" r="0.6"/><circle cx="354.1" cy="503.6" r="0.6"/><circle cx="305.8" cy="501.9" r="1.0"/><circle cx="351.1" cy="559.5" r="0.9"/><circle cx="137.2" cy="624.5" r="0.7"/><circle cx="146.6" cy="636.8" r="1.0"/><circle cx="250.2" cy="654.8" r="0.7"/><circle cx="195.5" cy="633.2" r="0.8"/><circle cx="95.3" cy="496.5" r="0.8"/><circle cx="238.2" cy="477.9" r="0.7"/><circle cx="360.7" cy="472.6" r="0.5"/><circle cx="109.9" cy="591.5" r="1.0"/><circle cx="371.1" cy="593.5" r="0.6"/><circle cx="125.6" cy="680.3" r="0.9"/><circle cx="273.3" cy="701.0" r="0.8"/><circle cx="304.7" cy="548.7" r="0.5"/><circle cx="353.8" cy="565.4" r="0.5"/><circle cx="326.0" cy="473.6" r="0.6"/><circle cx="330.9" cy="627.0" r="1.0"/><circle cx="343.7" cy="533.0" r="0.7"/><circle cx="137.9" cy="658.7" r="0.9"/><circle cx="216.8" cy="660.1" r="1.0"/><circle cx="279.6" cy="574.3" r="0.8"/><circle cx="250.3" cy="538.1" r="0.8"/><circle cx="339.1" cy="513.1" r="0.5"/><circle cx="370.0" cy="485.2" r="0.6"/><circle cx="176.2" cy="704.6" r="0.8"/><circle cx="331.6" cy="635.9" r="0.9"/><circle cx="96.8" cy="466.6" r="0.8"/><circle cx="314.8" cy="653.6" r="0.7"/><circle cx="200.8" cy="688.7" r="0.9"/><circle cx="190.7" cy="635.2" r="0.5"/><circle cx="316.4" cy="517.0" r="0.6"/><circle cx="265.2" cy="587.2" r="0.8"/><circle cx="157.8" cy="672.5" r="0.8"/><circle cx="99.2" cy="708.0" r="0.6"/><circle cx="116.3" cy="622.1" r="0.8"/><circle cx="126.9" cy="497.2" r="0.7"/><circle cx="340.8" cy="486.3" r="0.6"/><circle cx="97.5" cy="535.3" r="0.5"/><circle cx="224.6" cy="563.1" r="0.6"/><circle cx="197.4" cy="590.5" r="0.9"/><circle cx="356.8" cy="472.7" r="0.9"/><circle cx="215.6" cy="480.4" r="0.7"/><circle cx="163.7" cy="674.2" r="0.5"/><circle cx="153.6" cy="587.3" r="0.6"/><circle cx="342.0" cy="463.8" r="1.0"/><circle cx="285.0" cy="675.5" r="0.7"/><circle cx="107.6" cy="662.9" r="0.7"/><circle cx="256.3" cy="644.6" r="0.6"/><circle cx="160.9" cy="526.2" r="0.6"/><circle cx="343.4" cy="617.5" r="0.7"/><circle cx="307.9" cy="648.7" r="0.7"/><circle cx="311.6" cy="643.5" r="0.9"/><circle cx="327.7" cy="445.7" r="0.7"/><circle cx="215.1" cy="558.3" r="1.0"/><circle cx="264.1" cy="685.7" r="0.7"/><circle cx="213.0" cy="516.6" r="0.8"/><circle cx="329.4" cy="635.3" r="0.5"/><circle cx="189.8" cy="440.2" r="0.6"/><circle cx="152.2" cy="498.5" r="0.6"/><circle cx="148.5" cy="698.1" r="0.5"/><circle cx="321.4" cy="668.9" r="0.9"/><circle cx="132.4" cy="682.6" r="1.0"/><circle cx="325.2" cy="694.7" r="0.7"/><circle cx="321.7" cy="559.7" r="0.5"/><circle cx="253.3" cy="469.7" r="0.9"/><circle cx="302.5" cy="582.3" r="0.9"/><circle cx="360.2" cy="513.3" r="0.8"/><circle cx="316.4" cy="450.8" r="0.6"/><circle cx="370.6" cy="564.0" r="1.0"/><circle cx="241.4" cy="687.8" r="1.0"/><circle cx="300.9" cy="668.8" r="0.9"/><circle cx="251.0" cy="526.1" r="0.9"/><circle cx="357.0" cy="669.5" r="0.8"/><circle cx="180.8" cy="642.4" r="0.6"/><circle cx="134.2" cy="635.3" r="0.6"/><circle cx="316.5" cy="640.8" r="0.7"/><circle cx="377.1" cy="500.6" r="0.7"/><circle cx="295.2" cy="450.0" r="0.7"/><circle cx="254.8" cy="689.0" r="1.0"/><circle cx="147.3" cy="505.5" r="0.7"/><circle cx="159.6" cy="455.2" r="0.8"/><circle cx="296.3" cy="449.1" r="1.0"/><circle cx="276.3" cy="628.0" r="0.7"/><circle cx="342.5" cy="657.7" r="0.7"/><circle cx="251.7" cy="683.8" r="0.8"/><circle cx="110.7" cy="446.5" r="0.9"/><circle cx="296.5" cy="568.4" r="0.8"/><circle cx="224.9" cy="455.1" r="0.8"/><circle cx="108.5" cy="501.9" r="0.7"/><circle cx="210.3" cy="613.3" r="0.9"/><circle cx="221.5" cy="581.4" r="0.8"/><circle cx="291.1" cy="501.2" r="0.7"/><circle cx="338.6" cy="537.2" r="0.8"/><circle cx="340.2" cy="597.3" r="1.0"/><circle cx="229.9" cy="522.8" r="0.7"/><circle cx="218.5" cy="601.8" r="1.0"/><circle cx="338.0" cy="556.9" r="0.7"/><circle cx="115.5" cy="459.4" r="0.9"/><circle cx="229.9" cy="626.5" r="1.0"/><circle cx="256.5" cy="674.5" r="0.7"/><circle cx="151.6" cy="643.9" r="0.7"/><circle cx="139.5" cy="668.7" r="1.0"/><circle cx="158.8" cy="632.1" r="0.9"/><circle cx="205.7" cy="553.3" r="1.0"/><circle cx="106.5" cy="513.0" r="0.8"/><circle cx="156.6" cy="663.0" r="1.0"/><circle cx="209.9" cy="568.2" r="1.0"/><circle cx="276.7" cy="613.3" r="0.7"/><circle cx="276.1" cy="553.5" r="0.9"/><circle cx="124.9" cy="687.3" r="0.8"/><circle cx="366.2" cy="575.1" r="0.9"/><circle cx="205.0" cy="706.3" r="0.6"/><circle cx="166.7" cy="698.4" r="0.6"/><circle cx="134.0" cy="660.5" r="0.9"/><circle cx="296.1" cy="506.3" r="0.6"/><circle cx="292.4" cy="689.0" r="0.6"/><circle cx="216.4" cy="447.8" r="1.0"/><circle cx="113.5" cy="669.4" r="0.8"/><circle cx="149.1" cy="559.6" r="0.9"/><circle cx="218.4" cy="447.4" r="0.9"/><circle cx="201.8" cy="461.9" r="0.5"/><circle cx="248.3" cy="605.8" r="0.7"/><circle cx="324.1" cy="619.8" r="0.8"/><circle cx="189.7" cy="699.6" r="0.9"/><circle cx="237.1" cy="516.0" r="0.9"/><circle cx="293.0" cy="486.6" r="0.9"/><circle cx="118.8" cy="602.2" r="0.7"/><circle cx="347.1" cy="627.3" r="0.9"/><circle cx="322.0" cy="551.7" r="0.8"/><circle cx="142.3" cy="585.6" r="0.6"/><circle cx="302.3" cy="471.1" r="0.5"/><circle cx="340.0" cy="518.2" r="0.5"/><circle cx="113.8" cy="640.7" r="1.0"/><circle cx="203.6" cy="629.1" r="1.0"/><circle cx="123.5" cy="594.8" r="0.9"/><circle cx="331.7" cy="504.3" r="0.7"/><circle cx="167.4" cy="605.4" r="0.7"/><circle cx="360.9" cy="641.5" r="0.5"/><circle cx="261.5" cy="611.8" r="0.9"/><circle cx="222.3" cy="677.1" r="0.7"/><circle cx="196.7" cy="443.6" r="0.5"/><circle cx="238.8" cy="605.4" r="0.8"/><circle cx="349.2" cy="466.3" r="0.7"/><circle cx="201.5" cy="684.0" r="0.8"/><circle cx="118.5" cy="626.5" r="0.6"/><circle cx="125.2" cy="708.5" r="0.6"/><circle cx="127.9" cy="670.4" r="0.7"/><circle cx="231.1" cy="654.1" r="0.9"/><circle cx="363.6" cy="695.3" r="0.9"/><circle cx="158.4" cy="630.3" r="0.5"/><circle cx="158.5" cy="541.8" r="0.9"/><circle cx="96.6" cy="489.6" r="0.9"/><circle cx="103.6" cy="631.1" r="0.6"/><circle cx="348.6" cy="589.7" r="0.9"/><circle cx="144.0" cy="597.5" r="1.0"/><circle cx="177.8" cy="645.1" r="0.9"/><circle cx="131.5" cy="704.8" r="0.8"/><circle cx="148.9" cy="674.6" r="0.7"/><circle cx="378.6" cy="575.6" r="0.6"/><circle cx="188.1" cy="558.3" r="0.8"/><circle cx="375.9" cy="537.6" r="0.6"/><circle cx="184.3" cy="666.1" r="0.6"/><circle cx="218.4" cy="453.1" r="0.8"/><circle cx="282.5" cy="632.4" r="0.6"/><circle cx="212.9" cy="484.7" r="1.0"/><circle cx="283.0" cy="668.6" r="1.0"/><circle cx="97.3" cy="661.6" r="0.7"/><circle cx="105.7" cy="642.5" r="1.0"/><circle cx="122.5" cy="684.2" r="0.9"/><circle cx="124.2" cy="523.0" r="0.8"/><circle cx="273.8" cy="501.9" r="0.7"/><circle cx="92.8" cy="636.6" r="0.6"/><circle cx="181.7" cy="653.4" r="0.7"/><circle cx="121.5" cy="475.3" r="0.7"/><circle cx="209.0" cy="619.1" r="0.7"/><circle cx="97.4" cy="535.6" r="0.9"/><circle cx="341.8" cy="581.6" r="0.9"/><circle cx="105.9" cy="497.6" r="0.8"/><circle cx="320.1" cy="507.8" r="0.6"/><circle cx="168.8" cy="445.5" r="0.6"/><circle cx="247.8" cy="495.7" r="0.7"/><circle cx="234.9" cy="602.5" r="0.5"/><circle cx="159.4" cy="628.0" r="0.8"/><circle cx="268.2" cy="486.8" r="0.6"/><circle cx="121.1" cy="516.1" r="1.0"/><circle cx="105.6" cy="512.5" r="0.9"/><circle cx="201.2" cy="500.9" r="0.6"/><circle cx="199.9" cy="652.9" r="0.8"/><circle cx="361.3" cy="663.6" r="0.9"/><circle cx="93.1" cy="663.8" r="1.0"/><circle cx="163.5" cy="464.4" r="0.7"/><circle cx="145.8" cy="464.8" r="1.0"/><circle cx="354.3" cy="469.5" r="0.6"/><circle cx="261.2" cy="516.1" r="0.8"/><circle cx="283.2" cy="462.1" r="0.5"/><circle cx="188.2" cy="689.3" r="0.5"/><circle cx="362.4" cy="658.5" r="0.8"/><circle cx="93.2" cy="539.8" r="0.6"/><circle cx="209.8" cy="472.0" r="0.8"/><circle cx="186.5" cy="517.1" r="0.7"/><circle cx="344.6" cy="559.7" r="0.9"/><circle cx="160.2" cy="444.2" r="0.9"/><circle cx="284.5" cy="576.8" r="1.0"/><circle cx="202.9" cy="591.1" r="0.9"/><circle cx="256.4" cy="660.5" r="0.7"/><circle cx="305.9" cy="564.4" r="0.9"/><circle cx="242.4" cy="494.0" r="0.9"/><circle cx="359.4" cy="630.4" r="0.6"/><circle cx="171.6" cy="462.2" r="0.8"/><circle cx="208.7" cy="451.7" r="0.8"/><circle cx="181.1" cy="606.0" r="0.8"/><circle cx="282.5" cy="591.1" r="0.7"/><circle cx="351.4" cy="543.0" r="0.7"/><circle cx="348.0" cy="455.4" r="0.6"/><circle cx="270.8" cy="489.0" r="1.0"/><circle cx="336.6" cy="632.2" r="0.9"/><circle cx="257.5" cy="461.1" r="0.8"/><circle cx="200.7" cy="514.1" r="0.6"/><circle cx="175.0" cy="660.9" r="0.5"/><circle cx="254.6" cy="518.5" r="0.7"/><circle cx="280.8" cy="702.3" r="0.8"/><circle cx="149.2" cy="524.7" r="0.9"/><circle cx="302.5" cy="606.6" r="0.5"/><circle cx="96.3" cy="573.8" r="0.7"/><circle cx="179.1" cy="660.5" r="0.8"/><circle cx="288.5" cy="546.8" r="0.9"/><circle cx="178.6" cy="655.6" r="0.6"/><circle cx="377.4" cy="519.8" r="0.9"/><circle cx="362.8" cy="509.4" r="0.8"/><circle cx="247.3" cy="520.9" r="0.9"/><circle cx="222.4" cy="693.6" r="0.9"/><circle cx="267.5" cy="607.2" r="0.8"/><circle cx="125.1" cy="640.9" r="0.9"/><circle cx="170.7" cy="598.2" r="0.7"/><circle cx="153.4" cy="694.0" r="1.0"/><circle cx="305.9" cy="530.8" r="1.0"/><circle cx="167.6" cy="550.8" r="0.8"/><circle cx="125.6" cy="657.5" r="0.9"/><circle cx="261.0" cy="690.1" r="0.9"/><circle cx="180.4" cy="530.2" r="0.7"/><circle cx="338.8" cy="554.6" r="0.9"/><circle cx="111.1" cy="595.3" r="0.5"/><circle cx="182.6" cy="641.6" r="0.9"/><circle cx="238.3" cy="623.5" r="0.6"/><circle cx="274.3" cy="487.1" r="0.5"/><circle cx="356.4" cy="672.4" r="0.7"/><circle cx="190.5" cy="709.9" r="0.7"/><circle cx="144.3" cy="572.5" r="0.6"/><circle cx="166.1" cy="624.3" r="0.9"/><circle cx="129.1" cy="547.8" r="0.9"/><circle cx="363.9" cy="467.9" r="1.0"/><circle cx="129.8" cy="643.4" r="0.7"/><circle cx="237.0" cy="676.8" r="0.6"/><circle cx="96.3" cy="561.9" r="0.6"/><circle cx="318.3" cy="637.6" r="0.6"/><circle cx="116.2" cy="665.7" r="0.6"/><circle cx="170.8" cy="644.7" r="0.7"/><circle cx="238.6" cy="501.9" r="0.7"/><circle cx="277.8" cy="681.9" r="0.9"/><circle cx="319.3" cy="441.7" r="0.8"/><circle cx="376.3" cy="687.7" r="0.6"/><circle cx="174.1" cy="492.8" r="0.9"/><circle cx="127.1" cy="547.3" r="0.7"/><circle cx="275.1" cy="586.8" r="1.0"/><circle cx="376.8" cy="679.8" r="0.9"/><circle cx="328.0" cy="679.5" r="0.7"/><circle cx="175.6" cy="683.2" r="0.6"/><circle cx="194.8" cy="473.3" r="0.7"/><circle cx="375.9" cy="455.0" r="0.8"/><circle cx="298.3" cy="637.1" r="0.8"/><circle cx="344.4" cy="458.1" r="0.8"/><circle cx="203.9" cy="534.1" r="0.6"/><circle cx="272.4" cy="703.7" r="0.9"/><circle cx="242.7" cy="560.5" r="0.6"/><circle cx="171.0" cy="522.1" r="0.8"/><circle cx="250.5" cy="600.7" r="0.8"/><circle cx="115.1" cy="526.9" r="0.8"/><circle cx="228.6" cy="477.0" r="0.6"/><circle cx="245.2" cy="658.9" r="0.9"/><circle cx="211.2" cy="671.2" r="0.7"/><circle cx="202.7" cy="666.9" r="0.7"/><circle cx="186.2" cy="481.4" r="0.7"/><circle cx="210.4" cy="570.2" r="0.7"/><circle cx="274.3" cy="543.3" r="1.0"/><circle cx="297.5" cy="671.6" r="0.8"/><circle cx="202.7" cy="690.4" r="0.8"/><circle cx="322.6" cy="595.2" r="0.7"/><circle cx="290.2" cy="674.7" r="0.8"/><circle cx="176.6" cy="638.5" r="0.8"/><circle cx="322.5" cy="465.5" r="0.6"/><circle cx="137.8" cy="539.3" r="0.7"/><circle cx="252.9" cy="475.4" r="0.9"/><circle cx="104.3" cy="686.4" r="0.8"/><circle cx="305.3" cy="474.0" r="0.5"/><circle cx="260.3" cy="446.0" r="0.6"/><circle cx="257.9" cy="707.4" r="0.5"/><circle cx="337.0" cy="695.3" r="0.7"/><circle cx="305.4" cy="560.8" r="0.6"/><circle cx="288.4" cy="477.0" r="0.6"/><circle cx="292.7" cy="526.3" r="0.7"/><circle cx="239.7" cy="591.0" r="0.7"/><circle cx="217.8" cy="610.5" r="0.6"/><circle cx="153.6" cy="693.7" r="0.8"/><circle cx="247.1" cy="438.4" r="0.9"/><circle cx="132.2" cy="656.8" r="0.7"/><circle cx="289.7" cy="556.8" r="0.5"/><circle cx="373.9" cy="664.9" r="0.7"/><circle cx="258.0" cy="440.1" r="0.8"/><circle cx="93.5" cy="456.4" r="0.8"/><circle cx="136.0" cy="606.9" r="0.6"/><circle cx="360.1" cy="483.8" r="1.0"/><circle cx="219.0" cy="640.4" r="0.9"/><circle cx="135.9" cy="643.8" r="0.6"/><circle cx="281.7" cy="668.3" r="0.8"/><circle cx="213.2" cy="499.7" r="0.8"/><circle cx="296.4" cy="529.1" r="0.9"/><circle cx="333.1" cy="579.2" r="0.8"/><circle cx="211.0" cy="695.1" r="0.9"/><circle cx="127.9" cy="587.1" r="0.5"/><circle cx="198.7" cy="604.5" r="0.5"/><circle cx="241.1" cy="578.0" r="0.9"/><circle cx="137.3" cy="523.5" r="0.9"/><circle cx="184.9" cy="685.4" r="0.8"/><circle cx="315.3" cy="504.6" r="0.6"/><circle cx="127.0" cy="500.4" r="0.8"/><circle cx="313.0" cy="548.3" r="1.0"/><circle cx="129.5" cy="555.2" r="0.7"/><circle cx="295.4" cy="557.3" r="0.9"/><circle cx="130.8" cy="465.9" r="0.8"/><circle cx="182.7" cy="546.4" r="0.6"/><circle cx="261.8" cy="443.9" r="0.7"/><circle cx="289.7" cy="471.1" r="0.6"/><circle cx="96.9" cy="600.7" r="0.9"/><circle cx="142.1" cy="459.0" r="0.9"/><circle cx="242.4" cy="645.9" r="0.7"/><circle cx="207.9" cy="491.7" r="1.0"/><circle cx="102.2" cy="584.1" r="0.5"/><circle cx="146.8" cy="672.3" r="0.8"/><circle cx="118.0" cy="583.8" r="0.8"/><circle cx="307.3" cy="560.2" r="0.8"/><circle cx="308.7" cy="602.1" r="0.6"/><circle cx="212.3" cy="647.7" r="0.6"/><circle cx="270.7" cy="518.2" r="0.9"/><circle cx="297.4" cy="578.2" r="0.7"/><circle cx="97.5" cy="518.8" r="0.9"/><circle cx="345.2" cy="477.8" r="0.9"/><circle cx="368.7" cy="626.4" r="1.0"/><circle cx="354.0" cy="511.6" r="0.7"/><circle cx="357.5" cy="640.7" r="1.0"/><circle cx="163.2" cy="453.6" r="0.8"/><circle cx="233.0" cy="710.2" r="0.8"/><circle cx="262.6" cy="481.8" r="0.6"/><circle cx="333.2" cy="518.3" r="1.0"/><circle cx="334.8" cy="538.4" r="0.7"/><circle cx="256.3" cy="575.4" r="0.8"/><circle cx="374.4" cy="645.2" r="0.8"/><circle cx="104.9" cy="712.2" r="0.8"/><circle cx="370.0" cy="656.2" r="0.9"/><circle cx="304.9" cy="491.2" r="0.8"/><circle cx="303.8" cy="465.0" r="0.8"/><circle cx="210.1" cy="438.6" r="0.9"/><circle cx="206.3" cy="662.6" r="0.9"/><circle cx="127.5" cy="461.3" r="0.7"/><circle cx="322.3" cy="642.0" r="1.0"/><circle cx="136.2" cy="678.4" r="0.9"/><circle cx="179.1" cy="637.4" r="0.5"/><circle cx="329.2" cy="560.1" r="0.5"/><circle cx="93.0" cy="643.7" r="0.9"/><circle cx="197.4" cy="540.9" r="0.8"/><circle cx="208.6" cy="624.0" r="0.6"/><circle cx="333.1" cy="626.0" r="0.9"/><circle cx="319.1" cy="611.2" r="0.7"/><circle cx="353.2" cy="451.5" r="0.9"/><circle cx="156.3" cy="637.4" r="0.7"/><circle cx="215.1" cy="565.4" r="0.6"/><circle cx="97.4" cy="487.4" r="0.8"/><circle cx="195.2" cy="568.5" r="0.7"/><circle cx="284.5" cy="620.4" r="0.6"/><circle cx="200.7" cy="647.6" r="0.7"/><circle cx="179.2" cy="461.4" r="0.5"/><circle cx="281.4" cy="439.1" r="0.8"/><circle cx="180.6" cy="490.6" r="0.7"/><circle cx="146.9" cy="465.3" r="0.5"/><circle cx="363.0" cy="559.4" r="0.9"/><circle cx="219.0" cy="668.0" r="0.7"/><circle cx="186.4" cy="545.3" r="1.0"/><circle cx="376.7" cy="444.4" r="0.9"/><circle cx="213.8" cy="482.8" r="0.8"/><circle cx="226.9" cy="686.2" r="0.7"/><circle cx="222.8" cy="673.6" r="0.9"/><circle cx="144.0" cy="467.0" r="0.6"/><circle cx="110.2" cy="613.6" r="0.6"/><circle cx="99.1" cy="623.3" r="0.7"/><circle cx="307.1" cy="655.9" r="0.8"/><circle cx="164.7" cy="457.1" r="0.8"/><circle cx="235.0" cy="695.5" r="0.9"/><circle cx="127.6" cy="511.6" r="0.6"/><circle cx="328.2" cy="472.1" r="0.7"/><circle cx="332.5" cy="692.1" r="1.0"/><circle cx="372.9" cy="558.8" r="0.6"/><circle cx="345.2" cy="461.1" r="0.8"/><circle cx="222.7" cy="653.7" r="1.0"/><circle cx="205.1" cy="533.7" r="0.9"/><circle cx="193.7" cy="686.1" r="0.5"/><circle cx="239.8" cy="520.6" r="0.8"/><circle cx="189.0" cy="607.1" r="0.6"/><circle cx="260.1" cy="543.9" r="0.7"/><circle cx="224.9" cy="458.4" r="0.6"/><circle cx="311.9" cy="679.8" r="0.9"/><circle cx="188.3" cy="693.3" r="0.7"/><circle cx="367.8" cy="531.5" r="0.9"/><circle cx="377.8" cy="670.4" r="0.7"/><circle cx="157.7" cy="544.3" r="0.6"/><circle cx="175.2" cy="509.9" r="0.9"/><circle cx="358.7" cy="459.9" r="0.8"/><circle cx="296.4" cy="543.7" r="0.9"/><circle cx="199.6" cy="663.4" r="0.9"/><circle cx="94.0" cy="592.3" r="0.7"/><circle cx="267.8" cy="512.7" r="0.9"/><circle cx="149.8" cy="580.3" r="0.7"/><circle cx="219.1" cy="503.1" r="0.5"/><circle cx="116.6" cy="578.8" r="0.9"/><circle cx="116.7" cy="660.0" r="0.8"/><circle cx="295.1" cy="474.6" r="0.9"/><circle cx="118.7" cy="659.9" r="0.6"/><circle cx="223.7" cy="653.1" r="0.5"/><circle cx="296.8" cy="475.7" r="0.7"/><circle cx="134.0" cy="575.1" r="0.5"/></g><path d="M97.80,598.21 C101.18,598.67 114.23,595.45 118.10,600.96 C121.97,606.48 122.45,621.64 121.00,631.29 C119.55,640.94 114.23,652.43 109.40,658.86 C104.57,665.29 94.90,668.05 92.00,669.89" fill="none" stroke="#f4ecf6" stroke-width="1.10" stroke-linecap="round" stroke-linejoin="round"/><path d="M231.20,609.23 C227.33,616.13 215.73,637.72 208.00,650.59 C200.27,663.45 191.08,675.86 184.80,686.43 C178.52,697.00 172.72,709.40 170.30,714.00" fill="none" stroke="#f4ecf6" stroke-width="1.10" stroke-linecap="round" stroke-linejoin="round"/><path d="M382.00,645.08 C377.17,650.13 362.67,663.91 353.00,675.40 C343.33,686.89 328.83,707.57 324.00,714.00" fill="none" stroke="#f4ecf6" stroke-width="1.10" stroke-linecap="round" stroke-linejoin="round"/><path d="M196.40,482.41 C199.78,477.82 208.48,460.36 216.70,454.84 C224.92,449.33 236.52,452.09 245.70,449.33 C254.88,446.57 267.45,440.14 271.80,438.30" fill="none" stroke="#f4ecf6" stroke-width="1.10" stroke-linecap="round" stroke-linejoin="round"/><path d="M106.50,438.30 C107.95,440.60 111.82,449.33 115.20,452.09 C118.58,454.84 124.87,454.38 126.80,454.84" fill="none" stroke="#f4ecf6" stroke-width="1.10" stroke-linecap="round" stroke-linejoin="round"/></g>
<defs><clipPath id="L1"><path d="M394.00,438.40 C402.19,433.22 451.74,435.98 459.56,438.40 C467.38,440.82 460.68,453.25 456.58,457.74 C452.48,462.23 434.60,471.56 426.78,474.32 C418.96,477.08 398.10,484.33 394.00,479.84 C389.90,475.36 385.81,443.58 394.00,438.40 Z" fill="none" stroke="none" stroke-width="1.00" /><path d="M504.26,443.93 C506.50,439.44 525.49,436.33 528.10,438.40 C530.71,440.47 527.36,456.01 525.12,460.50 C522.88,464.99 512.83,476.39 510.22,474.32 C507.61,472.25 502.02,448.42 504.26,443.93 Z" fill="none" stroke="none" stroke-width="1.00" /><path d="M411.88,554.45 C416.35,543.74 438.70,518.87 447.64,513.00 C456.58,507.13 476.32,505.40 483.40,507.48 C490.48,509.55 502.02,522.33 504.26,529.58 C506.50,536.83 503.89,556.17 501.28,565.50 C498.67,574.82 489.36,596.24 483.40,604.18 C477.44,612.12 461.42,624.90 453.60,629.05 C445.78,633.19 426.03,641.14 420.82,637.34 C415.61,633.54 413.00,609.02 411.88,598.65 C410.76,588.29 407.41,565.15 411.88,554.45 Z" fill="none" stroke="none" stroke-width="1.00" /><path d="M394.00,535.11 C395.86,520.60 406.66,528.20 408.90,532.34 C411.13,536.49 412.62,557.55 411.88,568.26 C411.13,578.97 405.18,607.98 402.94,618.00 C400.70,628.01 395.12,658.75 394.00,648.39 C392.88,638.03 392.14,549.61 394.00,535.11 Z" fill="none" stroke="none" stroke-width="1.00" /><path d="M569.82,466.03 C572.43,457.40 591.05,443.58 596.64,441.16 C602.23,438.75 611.17,440.13 614.52,446.69 C617.87,453.25 622.72,480.88 623.46,493.66 C624.21,506.44 622.34,540.98 620.48,548.92 C618.62,556.86 612.66,557.55 608.56,557.21 C604.46,556.86 591.80,552.03 587.70,546.16 C583.60,540.29 578.01,520.25 575.78,510.24 C573.54,500.22 567.21,474.66 569.82,466.03 Z" fill="none" stroke="none" stroke-width="1.00" /><path d="M629.42,438.40 C633.89,433.91 667.04,434.95 671.14,438.40 C675.24,441.85 665.18,460.50 662.20,466.03 C659.22,471.56 650.65,481.57 647.30,482.61 C643.95,483.64 637.62,479.84 635.38,474.32 C633.14,468.79 624.95,442.89 629.42,438.40 Z" fill="none" stroke="none" stroke-width="1.00" /><path d="M674.12,438.40 C677.85,434.95 689.76,430.80 692.00,438.40 C694.24,446.00 695.35,493.31 692.00,499.19 C688.65,505.06 668.91,489.52 665.18,485.37 C661.46,481.23 661.08,471.90 662.20,466.03 C663.32,460.16 670.39,441.85 674.12,438.40 Z" fill="none" stroke="none" stroke-width="1.00" /><path d="M554.92,543.39 C557.90,539.59 572.80,542.01 578.76,546.16 C584.72,550.30 600.37,569.30 602.60,576.55 C604.84,583.80 599.99,599.00 596.64,604.18 C593.29,609.36 580.25,618.00 575.78,618.00 C571.31,618.00 563.49,609.36 560.88,604.18 C558.27,599.00 555.67,584.15 554.92,576.55 C554.18,568.95 551.94,547.19 554.92,543.39 Z" fill="none" stroke="none" stroke-width="1.00" /><path d="M492.34,612.47 C496.44,606.60 518.79,583.46 525.12,582.08 C531.45,580.69 541.14,595.20 543.00,601.42 C544.86,607.63 541.88,626.63 540.02,631.81 C538.16,636.99 532.94,641.48 528.10,642.86 C523.26,644.24 505.75,644.59 501.28,642.86 C496.81,641.14 493.46,632.85 492.34,629.05 C491.22,625.25 488.24,618.34 492.34,612.47 Z" fill="none" stroke="none" stroke-width="1.00" /><path d="M635.38,551.68 C637.24,546.50 655.12,538.56 662.20,535.11 C669.28,531.65 688.27,515.76 692.00,524.05 C695.73,532.34 693.86,591.75 692.00,601.42 C690.14,611.09 682.69,604.53 677.10,601.42 C671.51,598.31 652.51,582.77 647.30,576.55 C642.08,570.33 633.52,556.86 635.38,551.68 Z" fill="none" stroke="none" stroke-width="1.00" /><path d="M563.86,640.10 C564.23,629.05 593.29,592.44 602.60,584.84 C611.91,577.24 627.19,575.51 638.36,579.31 C649.53,583.11 685.29,603.49 692.00,615.23 C698.71,626.97 699.45,664.62 692.00,673.25 C684.55,681.89 643.95,684.31 632.40,684.31 C620.85,684.31 608.19,678.78 599.62,673.25 C591.05,667.73 563.49,651.15 563.86,640.10 Z" fill="none" stroke="none" stroke-width="1.00" /><path d="M394.00,673.25 C401.45,665.31 443.92,653.91 453.60,651.15 C463.29,648.39 469.62,644.93 471.48,651.15 C473.34,657.37 469.25,692.94 468.50,700.88 C467.75,708.83 474.83,712.97 465.52,714.70 C456.21,716.43 402.94,719.88 394.00,714.70 C385.06,709.52 386.55,681.20 394.00,673.25 Z" fill="none" stroke="none" stroke-width="1.00" /><path d="M480.42,662.20 C486.01,657.02 512.83,671.18 528.10,673.25 C543.37,675.33 588.82,676.02 602.60,678.78 C616.38,681.54 627.19,693.98 638.36,695.36 C649.53,696.74 685.29,687.42 692.00,689.83 C698.71,692.25 718.08,711.59 692.00,714.70 C665.92,717.81 509.85,721.26 483.40,714.70 C456.95,708.14 474.83,667.38 480.42,662.20 Z" fill="none" stroke="none" stroke-width="1.00" /></clipPath></defs><g clip-path="url(#c1)"><rect x="394.00" y="438.40" width="298.00" height="276.30" fill="#ffffff" /><path d="M525.12,482.61 C532.57,473.40 549.95,454.06 557.90,460.50 C565.85,466.95 569.32,496.42 572.80,521.29 C576.28,546.16 580.75,588.98 578.76,609.71 C576.77,630.43 565.85,641.02 560.88,645.62 C555.91,650.23 552.93,651.15 548.96,637.34 C544.99,623.52 543.00,583.00 537.04,562.74 C531.08,542.47 515.19,529.12 513.20,515.76 C511.21,502.41 517.67,491.82 525.12,482.61 Z" fill="#f6e8f0" stroke="none" stroke-width="1.00" /><path d="M638.36,524.05 C640.84,513.00 668.16,513.00 677.10,524.05 C686.04,535.11 694.48,579.31 692.00,590.37 C689.52,601.42 671.14,601.42 662.20,590.37 C653.26,579.31 635.88,535.11 638.36,524.05 Z" fill="#f6e8f0" stroke="none" stroke-width="1.00" /><g fill="#3a3c8a" opacity="0.70"><circle cx="564.7" cy="575.2" r="0.8"/><circle cx="531.0" cy="580.4" r="1.0"/><circle cx="544.7" cy="608.3" r="0.6"/><circle cx="550.6" cy="504.0" r="0.8"/><circle cx="555.6" cy="609.2" r="0.8"/><circle cx="570.9" cy="524.1" r="0.7"/><circle cx="546.9" cy="586.6" r="0.9"/><circle cx="521.4" cy="511.6" r="0.7"/><circle cx="547.3" cy="610.1" r="0.7"/><circle cx="521.9" cy="615.9" r="0.9"/><circle cx="565.1" cy="477.9" r="0.7"/><circle cx="529.7" cy="618.6" r="0.6"/><circle cx="526.8" cy="507.1" r="0.9"/><circle cx="531.0" cy="629.6" r="0.7"/><circle cx="557.9" cy="502.5" r="0.7"/><circle cx="570.7" cy="631.9" r="0.7"/><circle cx="540.0" cy="480.9" r="0.7"/><circle cx="542.0" cy="555.4" r="0.8"/><circle cx="540.0" cy="497.0" r="0.8"/><circle cx="540.0" cy="527.1" r="1.0"/><circle cx="554.2" cy="474.1" r="1.0"/><circle cx="577.0" cy="534.3" r="1.0"/><circle cx="525.4" cy="619.2" r="0.7"/><circle cx="570.7" cy="580.5" r="1.0"/><circle cx="537.2" cy="576.7" r="1.0"/><circle cx="526.8" cy="501.4" r="0.8"/><circle cx="527.1" cy="480.4" r="0.6"/><circle cx="539.8" cy="576.1" r="0.8"/><circle cx="555.2" cy="475.9" r="0.6"/><circle cx="552.9" cy="496.8" r="0.6"/><circle cx="522.8" cy="576.4" r="1.0"/><circle cx="548.7" cy="472.7" r="0.7"/><circle cx="559.8" cy="599.0" r="0.7"/><circle cx="547.0" cy="477.5" r="0.8"/><circle cx="564.2" cy="551.9" r="0.9"/><circle cx="533.1" cy="578.6" r="0.8"/><circle cx="555.1" cy="483.3" r="0.8"/><circle cx="556.1" cy="509.3" r="0.8"/><circle cx="520.3" cy="538.8" r="1.0"/><circle cx="557.7" cy="553.0" r="0.9"/><circle cx="560.5" cy="553.4" r="0.8"/><circle cx="571.2" cy="562.3" r="0.8"/><circle cx="541.3" cy="496.2" r="0.7"/><circle cx="555.1" cy="558.0" r="0.9"/><circle cx="545.9" cy="533.4" r="0.8"/><circle cx="534.1" cy="626.1" r="0.9"/><circle cx="537.1" cy="550.6" r="0.9"/><circle cx="575.8" cy="584.1" r="1.0"/><circle cx="567.2" cy="530.7" r="0.8"/><circle cx="546.9" cy="480.0" r="0.8"/><circle cx="552.1" cy="598.1" r="0.7"/><circle cx="577.4" cy="590.3" r="0.8"/><circle cx="532.7" cy="621.7" r="0.9"/><circle cx="556.9" cy="502.8" r="0.7"/><circle cx="530.9" cy="619.2" r="0.8"/><circle cx="561.0" cy="582.8" r="0.9"/><circle cx="536.4" cy="504.1" r="1.0"/><circle cx="527.5" cy="632.3" r="0.8"/><circle cx="520.4" cy="520.0" r="0.9"/><circle cx="543.3" cy="494.0" r="0.6"/><circle cx="522.1" cy="563.5" r="0.7"/><circle cx="559.6" cy="491.9" r="0.7"/><circle cx="552.1" cy="523.9" r="0.9"/><circle cx="534.7" cy="592.3" r="0.9"/><circle cx="543.7" cy="584.8" r="0.7"/><circle cx="574.0" cy="590.8" r="0.7"/><circle cx="569.8" cy="572.5" r="0.9"/><circle cx="561.5" cy="618.5" r="0.8"/><circle cx="539.7" cy="589.8" r="1.0"/><circle cx="550.4" cy="586.7" r="0.8"/><circle cx="539.0" cy="503.8" r="0.8"/><circle cx="529.1" cy="543.5" r="0.9"/><circle cx="541.9" cy="541.2" r="1.0"/><circle cx="554.4" cy="558.5" r="0.7"/><circle cx="563.8" cy="530.8" r="0.9"/><circle cx="576.0" cy="605.2" r="0.7"/><circle cx="574.5" cy="578.6" r="0.7"/><circle cx="521.8" cy="511.5" r="0.8"/><circle cx="548.1" cy="472.4" r="1.0"/><circle cx="523.1" cy="606.4" r="0.8"/><circle cx="566.8" cy="601.8" r="0.9"/><circle cx="541.7" cy="555.0" r="0.7"/><circle cx="534.8" cy="475.2" r="0.7"/><circle cx="572.9" cy="587.3" r="0.6"/><circle cx="539.6" cy="541.8" r="0.8"/><circle cx="549.6" cy="606.2" r="0.7"/><circle cx="557.3" cy="575.7" r="0.6"/><circle cx="528.2" cy="490.6" r="0.8"/><circle cx="570.3" cy="613.3" r="0.9"/><circle cx="551.8" cy="571.1" r="0.9"/><circle cx="537.0" cy="549.5" r="0.7"/><circle cx="538.9" cy="530.4" r="1.0"/><circle cx="531.6" cy="550.1" r="0.6"/><circle cx="522.8" cy="554.6" r="0.8"/><circle cx="550.4" cy="630.4" r="0.8"/><circle cx="556.5" cy="612.4" r="0.7"/><circle cx="565.0" cy="492.9" r="1.0"/><circle cx="564.4" cy="597.1" r="0.9"/><circle cx="521.8" cy="485.1" r="0.8"/><circle cx="523.1" cy="618.0" r="0.7"/><circle cx="533.0" cy="588.1" r="0.6"/><circle cx="570.5" cy="528.2" r="0.8"/><circle cx="569.0" cy="483.3" r="0.7"/><circle cx="541.9" cy="585.3" r="0.7"/><circle cx="544.3" cy="505.0" r="0.8"/><circle cx="544.1" cy="575.8" r="0.6"/><circle cx="552.4" cy="623.3" r="0.7"/><circle cx="533.3" cy="595.7" r="0.7"/><circle cx="549.6" cy="537.5" r="0.7"/><circle cx="538.8" cy="599.9" r="0.9"/><circle cx="534.0" cy="566.6" r="1.0"/><circle cx="528.5" cy="588.8" r="0.7"/><circle cx="534.6" cy="491.1" r="0.8"/><circle cx="558.2" cy="586.0" r="0.8"/><circle cx="555.0" cy="502.2" r="0.7"/><circle cx="527.1" cy="629.5" r="0.6"/><circle cx="569.7" cy="533.3" r="0.9"/><circle cx="545.3" cy="623.0" r="0.9"/><circle cx="565.3" cy="479.5" r="0.9"/><circle cx="520.9" cy="569.4" r="0.8"/></g><g clip-path="url(#L1)"><rect x="394.00" y="438.40" width="298.00" height="276.30" fill="#d880b4" /><rect x="394.00" y="438.40" width="298.00" height="276.30" fill="#000" filter="url(#t2)" opacity="0.85"/><rect x="394.00" y="438.40" width="298.00" height="276.30" fill="#000" filter="url(#t2b)" opacity="0.50"/><g fill="#2c2f80" opacity="0.80"><circle cx="512.8" cy="659.3" r="0.8"/><circle cx="530.8" cy="503.6" r="0.9"/><circle cx="470.0" cy="706.7" r="0.7"/><circle cx="680.6" cy="464.8" r="0.8"/><circle cx="558.7" cy="701.1" r="1.0"/><circle cx="486.4" cy="613.4" r="1.0"/><circle cx="446.1" cy="664.3" r="1.0"/><circle cx="681.4" cy="499.1" r="1.0"/><circle cx="530.4" cy="702.4" r="1.0"/><circle cx="399.2" cy="698.8" r="1.0"/><circle cx="478.6" cy="704.9" r="0.7"/><circle cx="674.3" cy="603.1" r="0.6"/><circle cx="635.7" cy="525.8" r="0.6"/><circle cx="443.2" cy="462.5" r="0.8"/><circle cx="479.5" cy="692.3" r="0.8"/><circle cx="425.8" cy="439.5" r="1.0"/><circle cx="426.2" cy="703.1" r="1.0"/><circle cx="563.4" cy="596.6" r="0.7"/><circle cx="663.2" cy="524.0" r="0.7"/><circle cx="566.3" cy="677.5" r="1.1"/><circle cx="507.1" cy="504.5" r="0.8"/><circle cx="426.0" cy="603.9" r="0.7"/><circle cx="482.5" cy="656.1" r="1.1"/><circle cx="578.9" cy="516.3" r="1.1"/><circle cx="571.5" cy="591.2" r="0.8"/><circle cx="640.2" cy="527.6" r="0.7"/><circle cx="500.7" cy="526.0" r="0.7"/><circle cx="432.0" cy="630.9" r="0.7"/><circle cx="651.6" cy="618.1" r="1.0"/><circle cx="593.5" cy="454.7" r="1.0"/><circle cx="402.2" cy="552.9" r="1.0"/><circle cx="557.8" cy="689.5" r="0.9"/><circle cx="624.4" cy="548.0" r="0.8"/><circle cx="584.0" cy="571.1" r="0.8"/><circle cx="629.5" cy="547.3" r="1.1"/><circle cx="547.3" cy="552.8" r="1.1"/><circle cx="553.0" cy="545.7" r="0.9"/><circle cx="544.2" cy="448.4" r="0.7"/><circle cx="481.2" cy="607.8" r="0.8"/><circle cx="517.7" cy="533.2" r="1.0"/><circle cx="500.4" cy="490.2" r="0.7"/><circle cx="629.0" cy="525.8" r="0.8"/><circle cx="434.0" cy="449.2" r="1.1"/><circle cx="402.5" cy="507.5" r="0.7"/><circle cx="473.9" cy="676.1" r="0.6"/><circle cx="678.4" cy="570.8" r="0.8"/><circle cx="547.6" cy="682.1" r="0.7"/><circle cx="536.3" cy="490.4" r="1.0"/><circle cx="461.3" cy="678.5" r="0.9"/><circle cx="688.6" cy="692.2" r="0.9"/><circle cx="399.1" cy="541.4" r="0.9"/><circle cx="554.5" cy="605.1" r="0.7"/><circle cx="427.2" cy="572.3" r="1.0"/><circle cx="401.3" cy="656.4" r="0.8"/><circle cx="491.2" cy="596.4" r="0.9"/><circle cx="447.5" cy="619.3" r="1.0"/><circle cx="490.5" cy="695.0" r="1.0"/><circle cx="643.6" cy="591.6" r="0.9"/><circle cx="398.6" cy="572.6" r="1.1"/><circle cx="683.7" cy="452.6" r="1.1"/><circle cx="446.1" cy="555.6" r="0.7"/><circle cx="456.1" cy="609.3" r="1.0"/><circle cx="502.4" cy="645.7" r="0.9"/><circle cx="446.8" cy="466.9" r="1.0"/><circle cx="529.5" cy="704.4" r="0.8"/><circle cx="423.8" cy="682.2" r="1.0"/><circle cx="688.3" cy="526.3" r="1.0"/><circle cx="452.4" cy="678.0" r="0.9"/><circle cx="477.1" cy="482.1" r="0.9"/><circle cx="592.7" cy="576.2" r="1.1"/><circle cx="454.7" cy="542.7" r="0.6"/><circle cx="430.7" cy="664.0" r="1.0"/><circle cx="614.8" cy="549.7" r="0.9"/><circle cx="448.4" cy="454.2" r="1.0"/><circle cx="444.7" cy="646.1" r="1.1"/><circle cx="408.9" cy="521.9" r="0.7"/><circle cx="448.8" cy="699.8" r="0.9"/><circle cx="584.8" cy="543.4" r="0.9"/><circle cx="544.2" cy="496.1" r="0.7"/><circle cx="461.2" cy="522.7" r="0.8"/><circle cx="573.2" cy="480.2" r="0.7"/><circle cx="608.5" cy="600.0" r="0.6"/><circle cx="525.6" cy="611.2" r="1.0"/><circle cx="456.9" cy="480.6" r="0.9"/><circle cx="637.2" cy="447.0" r="0.8"/><circle cx="587.3" cy="531.3" r="0.6"/><circle cx="661.4" cy="626.9" r="0.7"/><circle cx="418.7" cy="513.0" r="0.9"/><circle cx="606.2" cy="713.8" r="0.6"/><circle cx="567.9" cy="662.6" r="0.7"/><circle cx="469.9" cy="693.1" r="0.9"/><circle cx="662.6" cy="499.0" r="1.0"/><circle cx="657.7" cy="568.2" r="0.6"/><circle cx="657.6" cy="658.8" r="1.0"/><circle cx="587.1" cy="632.4" r="0.7"/><circle cx="410.7" cy="684.5" r="0.9"/><circle cx="577.2" cy="628.4" r="0.7"/><circle cx="626.5" cy="692.9" r="1.0"/><circle cx="503.3" cy="487.1" r="0.9"/><circle cx="444.2" cy="673.4" r="1.1"/><circle cx="516.8" cy="608.3" r="1.1"/><circle cx="558.1" cy="615.2" r="1.0"/><circle cx="544.9" cy="679.6" r="0.6"/><circle cx="592.3" cy="668.2" r="0.8"/><circle cx="473.1" cy="682.4" r="0.9"/><circle cx="401.5" cy="449.9" r="1.0"/><circle cx="401.5" cy="622.3" r="0.8"/><circle cx="656.5" cy="480.3" r="1.0"/><circle cx="551.6" cy="607.5" r="0.8"/><circle cx="482.6" cy="554.2" r="0.6"/><circle cx="520.2" cy="552.1" r="0.8"/><circle cx="669.7" cy="675.5" r="0.7"/><circle cx="579.6" cy="566.4" r="1.0"/><circle cx="496.0" cy="531.0" r="0.9"/><circle cx="551.3" cy="463.9" r="0.9"/><circle cx="621.8" cy="613.7" r="0.9"/><circle cx="515.4" cy="563.6" r="0.8"/><circle cx="653.5" cy="578.4" r="1.1"/><circle cx="449.8" cy="706.8" r="0.6"/><circle cx="425.8" cy="510.9" r="0.9"/><circle cx="552.6" cy="640.5" r="1.0"/><circle cx="578.5" cy="464.2" r="1.0"/><circle cx="471.9" cy="697.4" r="0.9"/><circle cx="420.4" cy="551.9" r="1.1"/><circle cx="556.1" cy="565.5" r="1.1"/><circle cx="666.9" cy="504.5" r="0.7"/><circle cx="635.9" cy="551.7" r="1.0"/><circle cx="398.7" cy="493.6" r="0.8"/><circle cx="610.4" cy="701.1" r="0.7"/><circle cx="396.8" cy="651.1" r="0.8"/><circle cx="590.0" cy="570.1" r="0.7"/><circle cx="529.8" cy="498.1" r="1.0"/><circle cx="455.9" cy="462.8" r="1.1"/><circle cx="667.6" cy="454.9" r="1.0"/><circle cx="525.5" cy="470.1" r="1.0"/><circle cx="402.9" cy="482.2" r="0.7"/><circle cx="435.9" cy="460.1" r="0.9"/><circle cx="546.2" cy="607.1" r="0.7"/><circle cx="674.7" cy="487.7" r="0.9"/><circle cx="441.5" cy="440.1" r="0.9"/><circle cx="404.6" cy="554.7" r="0.9"/><circle cx="552.3" cy="667.7" r="1.0"/><circle cx="540.1" cy="615.3" r="1.0"/><circle cx="514.5" cy="467.1" r="1.0"/><circle cx="625.2" cy="681.1" r="0.7"/><circle cx="584.8" cy="546.8" r="1.0"/><circle cx="617.1" cy="585.5" r="0.6"/><circle cx="605.2" cy="615.1" r="1.1"/><circle cx="578.0" cy="556.3" r="1.1"/><circle cx="685.0" cy="619.6" r="0.6"/><circle cx="573.1" cy="698.2" r="0.9"/><circle cx="404.7" cy="626.7" r="0.6"/><circle cx="633.1" cy="693.6" r="0.6"/><circle cx="584.3" cy="651.6" r="0.9"/><circle cx="632.2" cy="618.7" r="0.8"/><circle cx="577.0" cy="492.5" r="1.1"/><circle cx="493.7" cy="526.8" r="0.7"/><circle cx="680.5" cy="590.3" r="0.7"/><circle cx="590.1" cy="660.4" r="0.9"/><circle cx="644.0" cy="445.2" r="1.0"/><circle cx="668.7" cy="462.3" r="0.6"/><circle cx="550.4" cy="585.1" r="0.8"/><circle cx="499.8" cy="582.8" r="0.9"/><circle cx="579.1" cy="559.9" r="0.9"/><circle cx="636.8" cy="537.0" r="1.0"/><circle cx="397.6" cy="483.6" r="1.1"/><circle cx="598.7" cy="678.8" r="0.8"/><circle cx="560.8" cy="614.5" r="0.9"/><circle cx="631.5" cy="613.6" r="0.8"/><circle cx="533.9" cy="512.4" r="1.0"/><circle cx="650.3" cy="474.4" r="1.1"/><circle cx="632.2" cy="703.8" r="0.9"/><circle cx="631.1" cy="462.5" r="0.7"/><circle cx="644.2" cy="546.9" r="1.0"/><circle cx="506.8" cy="447.8" r="0.7"/><circle cx="474.1" cy="695.4" r="0.7"/><circle cx="620.7" cy="596.0" r="1.0"/><circle cx="642.0" cy="622.6" r="0.6"/><circle cx="419.9" cy="644.9" r="0.7"/><circle cx="591.4" cy="607.5" r="0.8"/><circle cx="502.4" cy="610.5" r="0.7"/><circle cx="594.2" cy="655.0" r="0.6"/><circle cx="436.0" cy="465.3" r="0.7"/><circle cx="406.3" cy="454.5" r="1.0"/><circle cx="631.8" cy="704.9" r="1.1"/><circle cx="508.1" cy="441.6" r="0.9"/><circle cx="680.7" cy="467.1" r="0.6"/><circle cx="405.1" cy="540.0" r="0.7"/><circle cx="453.7" cy="612.8" r="0.8"/><circle cx="498.7" cy="507.2" r="0.6"/><circle cx="591.2" cy="509.7" r="0.7"/><circle cx="592.3" cy="657.7" r="0.8"/><circle cx="631.2" cy="570.5" r="1.1"/><circle cx="600.7" cy="519.4" r="0.6"/><circle cx="444.3" cy="688.1" r="0.7"/><circle cx="619.3" cy="661.2" r="0.6"/><circle cx="628.4" cy="491.3" r="0.6"/><circle cx="542.4" cy="706.9" r="1.1"/><circle cx="527.7" cy="677.8" r="0.7"/><circle cx="474.6" cy="579.5" r="0.6"/><circle cx="664.3" cy="589.9" r="0.6"/><circle cx="547.8" cy="506.9" r="0.7"/><circle cx="428.8" cy="581.7" r="1.1"/><circle cx="418.2" cy="474.1" r="1.1"/><circle cx="436.2" cy="450.7" r="0.7"/><circle cx="484.7" cy="474.6" r="1.1"/><circle cx="450.8" cy="645.5" r="0.8"/><circle cx="396.8" cy="555.5" r="1.1"/><circle cx="649.4" cy="608.8" r="1.0"/><circle cx="504.7" cy="709.4" r="1.0"/><circle cx="395.8" cy="620.9" r="0.6"/><circle cx="560.2" cy="523.3" r="0.8"/><circle cx="450.6" cy="449.9" r="1.0"/><circle cx="639.9" cy="573.4" r="0.7"/><circle cx="557.0" cy="684.2" r="0.7"/><circle cx="599.9" cy="604.8" r="0.7"/><circle cx="411.7" cy="492.3" r="0.8"/><circle cx="594.3" cy="670.1" r="0.6"/><circle cx="508.9" cy="691.6" r="0.9"/><circle cx="653.5" cy="623.5" r="0.8"/><circle cx="495.4" cy="485.9" r="0.8"/><circle cx="453.4" cy="528.9" r="0.7"/><circle cx="639.8" cy="535.1" r="0.9"/><circle cx="589.6" cy="508.3" r="0.6"/><circle cx="538.1" cy="460.3" r="1.0"/><circle cx="681.3" cy="501.2" r="0.6"/><circle cx="500.0" cy="679.6" r="0.9"/><circle cx="542.8" cy="613.6" r="0.9"/><circle cx="524.3" cy="531.6" r="0.8"/><circle cx="466.5" cy="544.9" r="1.1"/><circle cx="644.1" cy="590.0" r="0.7"/><circle cx="612.7" cy="610.4" r="0.6"/><circle cx="563.7" cy="623.9" r="1.0"/><circle cx="656.1" cy="508.6" r="0.8"/><circle cx="468.1" cy="482.3" r="1.1"/><circle cx="536.1" cy="536.6" r="0.6"/><circle cx="536.7" cy="667.7" r="0.7"/><circle cx="472.9" cy="672.4" r="0.8"/><circle cx="442.8" cy="484.9" r="0.8"/><circle cx="413.9" cy="570.5" r="0.9"/><circle cx="526.0" cy="480.3" r="0.9"/><circle cx="658.5" cy="654.4" r="0.6"/><circle cx="463.0" cy="633.2" r="0.9"/><circle cx="508.5" cy="470.6" r="1.1"/><circle cx="463.3" cy="647.0" r="1.1"/><circle cx="592.6" cy="510.1" r="0.9"/><circle cx="592.5" cy="511.4" r="0.9"/><circle cx="555.7" cy="584.4" r="0.9"/><circle cx="662.2" cy="446.1" r="0.9"/><circle cx="672.7" cy="607.4" r="0.7"/><circle cx="640.8" cy="481.4" r="1.1"/><circle cx="523.5" cy="465.0" r="0.9"/><circle cx="691.0" cy="523.0" r="0.9"/><circle cx="411.9" cy="585.5" r="0.8"/><circle cx="640.3" cy="458.3" r="0.9"/><circle cx="450.4" cy="706.7" r="0.6"/><circle cx="652.6" cy="445.2" r="1.0"/><circle cx="422.3" cy="613.8" r="1.0"/><circle cx="537.2" cy="630.3" r="0.7"/><circle cx="657.3" cy="591.7" r="0.9"/><circle cx="534.3" cy="663.4" r="0.8"/><circle cx="464.1" cy="493.2" r="0.7"/><circle cx="668.7" cy="592.7" r="1.1"/><circle cx="618.3" cy="709.1" r="0.8"/><circle cx="671.7" cy="441.1" r="0.9"/><circle cx="569.7" cy="649.5" r="1.0"/><circle cx="605.4" cy="583.4" r="0.8"/><circle cx="459.6" cy="569.6" r="0.8"/><circle cx="538.7" cy="614.2" r="0.6"/><circle cx="557.4" cy="665.1" r="0.7"/><circle cx="471.7" cy="465.8" r="1.0"/><circle cx="406.1" cy="530.2" r="1.0"/><circle cx="595.3" cy="524.0" r="0.8"/><circle cx="541.3" cy="464.9" r="0.8"/><circle cx="550.7" cy="501.9" r="1.0"/><circle cx="446.1" cy="611.6" r="0.8"/><circle cx="675.3" cy="628.9" r="1.0"/><circle cx="546.7" cy="588.7" r="0.6"/><circle cx="424.3" cy="490.3" r="0.8"/><circle cx="610.8" cy="595.5" r="0.9"/><circle cx="472.1" cy="554.7" r="0.9"/><circle cx="596.0" cy="686.0" r="1.0"/><circle cx="536.1" cy="652.8" r="0.8"/><circle cx="403.3" cy="446.4" r="1.1"/><circle cx="407.3" cy="486.6" r="0.8"/><circle cx="424.3" cy="713.8" r="0.7"/><circle cx="644.5" cy="620.6" r="1.0"/><circle cx="424.3" cy="688.9" r="1.1"/><circle cx="607.2" cy="547.8" r="0.8"/><circle cx="515.4" cy="690.8" r="1.0"/><circle cx="455.7" cy="536.7" r="0.8"/><circle cx="463.2" cy="572.9" r="0.8"/><circle cx="427.4" cy="711.3" r="1.0"/><circle cx="546.5" cy="646.2" r="1.1"/><circle cx="654.6" cy="477.7" r="0.7"/><circle cx="411.1" cy="688.3" r="0.9"/><circle cx="563.2" cy="466.3" r="0.6"/><circle cx="467.1" cy="573.4" r="0.6"/><circle cx="639.6" cy="604.5" r="1.0"/><circle cx="427.3" cy="611.2" r="0.9"/><circle cx="560.1" cy="594.0" r="0.7"/><circle cx="561.4" cy="455.1" r="0.9"/><circle cx="485.1" cy="459.4" r="0.7"/><circle cx="642.0" cy="458.8" r="1.0"/><circle cx="601.8" cy="618.9" r="0.7"/><circle cx="409.1" cy="703.5" r="0.8"/><circle cx="507.0" cy="596.9" r="0.8"/><circle cx="430.4" cy="679.1" r="0.8"/><circle cx="438.4" cy="555.5" r="0.6"/><circle cx="595.5" cy="568.3" r="0.7"/><circle cx="479.8" cy="616.1" r="1.1"/><circle cx="561.6" cy="469.5" r="0.7"/><circle cx="457.0" cy="624.2" r="0.9"/><circle cx="585.7" cy="557.7" r="0.8"/><circle cx="467.9" cy="567.8" r="0.6"/><circle cx="437.7" cy="451.5" r="0.7"/><circle cx="485.4" cy="598.2" r="0.6"/><circle cx="640.4" cy="465.8" r="0.6"/><circle cx="575.0" cy="464.8" r="0.9"/><circle cx="646.4" cy="668.1" r="1.0"/><circle cx="547.6" cy="468.6" r="0.9"/><circle cx="412.7" cy="616.5" r="0.8"/><circle cx="490.3" cy="553.3" r="0.7"/><circle cx="614.1" cy="501.0" r="1.0"/><circle cx="512.5" cy="530.8" r="0.8"/><circle cx="673.1" cy="460.7" r="0.9"/><circle cx="634.6" cy="515.3" r="0.7"/><circle cx="618.5" cy="587.3" r="0.8"/><circle cx="645.2" cy="491.5" r="0.9"/><circle cx="505.8" cy="600.9" r="1.0"/><circle cx="531.7" cy="681.8" r="0.6"/><circle cx="473.5" cy="610.5" r="0.8"/><circle cx="626.7" cy="491.2" r="1.0"/><circle cx="585.9" cy="620.2" r="0.7"/><circle cx="506.2" cy="452.0" r="0.8"/><circle cx="660.5" cy="664.6" r="0.8"/><circle cx="657.2" cy="539.3" r="0.7"/><circle cx="575.4" cy="534.8" r="0.7"/><circle cx="659.7" cy="553.5" r="0.9"/><circle cx="557.5" cy="506.2" r="0.7"/><circle cx="519.9" cy="582.3" r="1.0"/><circle cx="627.1" cy="509.3" r="0.9"/><circle cx="426.9" cy="475.8" r="0.9"/><circle cx="609.5" cy="674.3" r="1.0"/><circle cx="552.5" cy="577.7" r="0.8"/><circle cx="418.2" cy="661.8" r="1.1"/><circle cx="496.7" cy="488.0" r="0.6"/><circle cx="490.5" cy="634.0" r="1.0"/><circle cx="443.8" cy="586.8" r="0.7"/><circle cx="442.5" cy="541.7" r="1.0"/><circle cx="505.0" cy="467.5" r="0.8"/><circle cx="534.8" cy="480.8" r="0.9"/><circle cx="464.0" cy="644.3" r="0.8"/><circle cx="528.3" cy="525.6" r="0.8"/><circle cx="400.9" cy="532.8" r="1.0"/><circle cx="608.9" cy="567.6" r="0.8"/><circle cx="478.0" cy="570.3" r="0.6"/><circle cx="577.4" cy="630.5" r="0.8"/><circle cx="619.8" cy="696.5" r="1.1"/><circle cx="608.4" cy="620.6" r="1.0"/><circle cx="443.0" cy="554.5" r="0.8"/><circle cx="434.7" cy="580.2" r="0.7"/><circle cx="569.9" cy="631.2" r="0.7"/><circle cx="612.0" cy="703.3" r="0.8"/><circle cx="478.7" cy="660.1" r="0.9"/><circle cx="596.1" cy="539.9" r="0.9"/><circle cx="619.3" cy="606.0" r="0.8"/><circle cx="589.2" cy="546.2" r="0.8"/><circle cx="619.3" cy="441.3" r="0.9"/><circle cx="423.2" cy="638.4" r="0.6"/><circle cx="418.0" cy="538.1" r="0.6"/><circle cx="571.4" cy="608.9" r="0.7"/><circle cx="658.1" cy="611.0" r="0.9"/><circle cx="411.3" cy="471.4" r="0.7"/><circle cx="480.8" cy="654.5" r="0.7"/><circle cx="570.8" cy="660.9" r="1.1"/><circle cx="636.2" cy="678.0" r="0.9"/><circle cx="575.2" cy="478.3" r="0.7"/><circle cx="506.2" cy="681.3" r="1.1"/><circle cx="682.7" cy="449.5" r="1.0"/></g><path d="M453.60,576.55 C456.58,571.94 464.03,554.45 471.48,548.92 C478.93,543.39 493.83,544.32 498.30,543.39" fill="none" stroke="#ffffff" stroke-width="1.40" stroke-linecap="round" stroke-linejoin="round"/><path d="M578.76,681.54 C587.70,674.18 616.01,647.47 632.40,637.34 C648.79,627.21 669.65,623.52 677.10,620.76" fill="none" stroke="#ffffff" stroke-width="1.40" stroke-linecap="round" stroke-linejoin="round"/><path d="M608.56,637.34 C617.50,645.62 653.26,678.78 662.20,687.07" fill="none" stroke="#ffffff" stroke-width="1.20" stroke-linecap="round" stroke-linejoin="round"/><path d="M414.86,604.18 C421.32,601.88 442.18,595.89 453.60,590.37 C465.02,584.84 478.43,574.25 483.40,571.02" fill="none" stroke="#ffffff" stroke-width="1.20" stroke-linecap="round" stroke-linejoin="round"/><path d="M572.80,493.66 C577.77,495.96 597.63,505.17 602.60,507.48" fill="none" stroke="#ffffff" stroke-width="1.20" stroke-linecap="round" stroke-linejoin="round"/><path d="M483.40,687.07 C488.37,689.37 503.27,699.96 513.20,700.88 C523.13,701.81 538.03,693.98 543.00,692.60" fill="none" stroke="#ffffff" stroke-width="1.20" stroke-linecap="round" stroke-linejoin="round"/><path d="M429.76,521.29 C433.73,528.20 448.63,545.24 453.60,562.74 C458.57,580.23 458.57,615.69 459.56,626.28" fill="none" stroke="#ffffff" stroke-width="2.00" stroke-linecap="round" stroke-linejoin="round"/><path d="M617.50,590.37 C619.98,597.27 630.91,616.61 632.40,631.81 C633.89,647.01 627.43,673.26 626.44,681.54" fill="none" stroke="#ffffff" stroke-width="2.00" stroke-linecap="round" stroke-linejoin="round"/><path d="M394.00,700.88 C401.45,697.66 431.25,684.77 438.70,681.54" fill="none" stroke="#ffffff" stroke-width="1.60" stroke-linecap="round" stroke-linejoin="round"/><path d="M584.72,452.21 C586.71,461.42 595.65,491.36 596.64,507.48 C597.63,523.59 591.67,542.01 590.68,548.92" fill="none" stroke="#ffffff" stroke-width="1.60" stroke-linecap="round" stroke-linejoin="round"/><path d="M662.20,548.92 C663.69,555.83 669.65,583.46 671.14,590.37" fill="none" stroke="#ffffff" stroke-width="1.60" stroke-linecap="round" stroke-linejoin="round"/></g><path d="M541.51,568.26 C541.26,559.05 545.48,556.75 547.47,565.50 C549.46,574.25 553.18,611.55 553.43,620.76 C553.68,629.97 550.95,629.51 548.96,620.76 C546.97,612.01 541.76,577.47 541.51,568.26 Z" fill="#e0708f" stroke="none" stroke-width="1.00" /></g>
<defs><clipPath id="L2"><path d="M704.00,439.20 C718.31,426.80 803.04,435.75 818.51,439.20 C833.99,442.64 828.19,459.87 827.80,466.76 C827.41,473.65 821.22,487.43 815.42,494.32 C809.62,501.21 789.89,516.37 781.38,521.88 C772.86,527.39 755.45,536.35 747.33,538.42 C739.21,540.48 721.80,538.42 716.38,538.42 C710.96,538.42 705.55,550.82 704.00,538.42 C702.45,526.01 689.69,451.60 704.00,439.20 Z" fill="none" stroke="none" stroke-width="1.00" /><path d="M747.33,549.44 C751.59,542.55 765.13,528.08 772.09,521.88 C779.05,515.68 795.30,505.69 803.04,499.83 C810.78,493.98 827.03,479.51 833.99,475.03 C840.95,470.55 853.72,462.97 858.75,464.00 C863.78,465.04 871.13,476.06 874.23,483.30 C877.32,490.53 881.96,510.17 883.51,521.88 C885.06,533.59 886.99,563.22 886.61,577.00 C886.22,590.78 881.58,619.72 880.41,632.12 C879.25,644.52 878.48,665.88 877.32,676.22 C876.16,686.55 882.35,709.98 871.13,714.80 C859.91,719.62 800.72,719.62 787.57,714.80 C774.41,709.98 771.32,687.93 765.90,676.22 C760.48,664.50 747.72,633.50 744.24,621.10 C740.75,608.69 737.66,585.96 738.04,577.00 C738.43,568.04 743.07,556.33 747.33,549.44 Z" fill="none" stroke="none" stroke-width="1.00" /><path d="M914.46,466.76 C918.33,455.74 926.84,450.91 939.22,447.47 C951.60,444.02 1004.22,405.78 1013.50,439.20 C1022.78,472.62 1023.56,680.35 1013.50,714.80 C1003.44,749.25 944.25,719.97 933.03,714.80 C921.81,709.63 926.45,687.24 923.75,673.46 C921.04,659.68 913.30,621.78 911.37,604.56 C909.43,587.33 907.88,552.88 908.27,535.66 C908.66,518.43 910.59,477.78 914.46,466.76 Z" fill="none" stroke="none" stroke-width="1.00" /></clipPath></defs><g clip-path="url(#c2)"><rect x="704.00" y="439.20" width="309.50" height="275.60" fill="#e9c3dc" /><path d="M704.00,521.88 C715.99,506.38 791.05,461.59 812.33,452.98 C833.60,444.37 863.78,444.37 874.23,452.98 C884.67,461.59 893.18,499.49 895.89,521.88 C898.60,544.27 896.66,608.00 895.89,632.12 C895.12,656.23 905.95,704.46 889.70,714.80 C873.45,725.13 785.24,721.69 765.90,714.80 C746.56,707.91 741.14,676.90 734.95,659.68 C728.76,642.45 720.25,594.23 716.38,577.00 C712.51,559.77 692.01,537.38 704.00,521.88 Z" fill="#e9c3dc" stroke="none" stroke-width="1.00" /><path d="M902.08,466.76 C906.72,446.09 931.48,442.64 945.41,439.20 C959.34,435.75 1004.99,404.75 1013.50,439.20 C1022.01,473.65 1025.11,680.35 1013.50,714.80 C1001.89,749.25 933.80,728.58 920.65,714.80 C907.50,701.02 910.59,635.56 908.27,604.56 C905.95,573.55 897.44,487.43 902.08,466.76 Z" fill="#e9c3dc" stroke="none" stroke-width="1.00" /><g clip-path="url(#L2)"><rect x="704.00" y="439.20" width="309.50" height="275.60" fill="#d880b4" /><rect x="704.00" y="439.20" width="309.50" height="275.60" fill="#000" filter="url(#t2)" opacity="0.85"/><rect x="704.00" y="439.20" width="309.50" height="275.60" fill="#000" filter="url(#t2b)" opacity="0.50"/><rect x="704.00" y="439.20" width="309.50" height="275.60" fill="#000" filter="url(#t3p)" opacity="0.90"/><g fill="#2c2f80" opacity="0.80"><circle cx="858.0" cy="557.1" r="1.0"/><circle cx="950.0" cy="658.0" r="0.8"/><circle cx="999.2" cy="490.8" r="1.0"/><circle cx="911.1" cy="490.9" r="1.1"/><circle cx="913.1" cy="459.6" r="1.0"/><circle cx="913.6" cy="584.4" r="0.6"/><circle cx="908.0" cy="706.6" r="1.1"/><circle cx="796.0" cy="622.9" r="0.7"/><circle cx="865.9" cy="502.8" r="0.9"/><circle cx="755.2" cy="568.0" r="0.8"/><circle cx="786.7" cy="680.6" r="1.1"/><circle cx="888.2" cy="656.9" r="0.9"/><circle cx="938.1" cy="507.4" r="0.7"/><circle cx="799.7" cy="579.0" r="0.9"/><circle cx="986.7" cy="661.6" r="0.8"/><circle cx="819.8" cy="632.7" r="1.0"/><circle cx="720.0" cy="556.0" r="0.6"/><circle cx="918.4" cy="708.9" r="0.7"/><circle cx="881.6" cy="698.3" r="0.8"/><circle cx="719.4" cy="599.8" r="0.9"/><circle cx="907.8" cy="679.9" r="0.8"/><circle cx="894.4" cy="695.6" r="0.7"/><circle cx="721.4" cy="599.6" r="0.7"/><circle cx="957.2" cy="683.7" r="0.9"/><circle cx="909.0" cy="626.1" r="0.6"/><circle cx="711.7" cy="457.2" r="1.0"/><circle cx="973.1" cy="518.0" r="0.7"/><circle cx="855.4" cy="653.8" r="0.9"/><circle cx="710.4" cy="475.7" r="0.7"/><circle cx="1005.2" cy="712.6" r="0.6"/><circle cx="955.7" cy="711.1" r="1.1"/><circle cx="780.9" cy="691.5" r="0.7"/><circle cx="704.4" cy="459.4" r="0.6"/><circle cx="1000.6" cy="570.4" r="1.0"/><circle cx="807.7" cy="594.6" r="1.0"/><circle cx="784.9" cy="705.2" r="0.6"/><circle cx="953.5" cy="472.7" r="0.9"/><circle cx="791.0" cy="662.6" r="0.7"/><circle cx="822.3" cy="637.2" r="0.9"/><circle cx="806.2" cy="491.7" r="1.0"/><circle cx="910.1" cy="443.3" r="0.8"/><circle cx="808.2" cy="704.5" r="0.6"/><circle cx="952.4" cy="505.7" r="0.8"/><circle cx="764.1" cy="688.2" r="1.1"/><circle cx="826.6" cy="512.3" r="0.8"/><circle cx="993.0" cy="468.5" r="0.7"/><circle cx="754.4" cy="677.4" r="0.7"/><circle cx="860.1" cy="668.1" r="1.1"/><circle cx="834.1" cy="713.4" r="1.1"/><circle cx="1000.3" cy="519.2" r="0.7"/><circle cx="927.4" cy="539.8" r="1.1"/><circle cx="807.0" cy="654.1" r="1.0"/><circle cx="988.1" cy="681.9" r="0.9"/><circle cx="871.3" cy="641.8" r="0.8"/><circle cx="917.8" cy="694.0" r="0.8"/><circle cx="935.1" cy="547.9" r="1.0"/><circle cx="908.7" cy="479.1" r="0.8"/><circle cx="876.0" cy="538.0" r="1.0"/><circle cx="856.2" cy="707.2" r="0.9"/><circle cx="752.6" cy="700.6" r="0.8"/><circle cx="870.7" cy="664.9" r="0.8"/><circle cx="824.3" cy="704.1" r="0.7"/><circle cx="988.4" cy="582.4" r="0.8"/><circle cx="734.1" cy="440.8" r="0.8"/><circle cx="867.7" cy="585.5" r="0.8"/><circle cx="925.3" cy="489.8" r="1.0"/><circle cx="772.5" cy="480.9" r="1.0"/><circle cx="777.6" cy="529.3" r="0.8"/><circle cx="874.9" cy="513.7" r="0.7"/><circle cx="771.6" cy="616.4" r="1.0"/><circle cx="870.4" cy="492.2" r="0.9"/><circle cx="933.7" cy="482.3" r="0.8"/><circle cx="1003.4" cy="631.0" r="0.7"/><circle cx="783.8" cy="620.7" r="0.9"/><circle cx="826.7" cy="504.7" r="1.1"/><circle cx="757.2" cy="601.4" r="0.8"/><circle cx="879.7" cy="518.2" r="0.7"/><circle cx="876.1" cy="486.2" r="1.0"/><circle cx="1002.6" cy="502.7" r="0.8"/><circle cx="847.5" cy="581.1" r="1.1"/><circle cx="748.9" cy="485.3" r="1.1"/><circle cx="983.2" cy="481.9" r="0.8"/><circle cx="936.6" cy="713.8" r="0.6"/><circle cx="796.4" cy="679.0" r="0.8"/><circle cx="823.2" cy="708.0" r="1.0"/><circle cx="762.0" cy="598.3" r="0.9"/><circle cx="770.3" cy="578.1" r="0.7"/><circle cx="938.3" cy="615.3" r="0.8"/><circle cx="808.4" cy="695.0" r="0.8"/><circle cx="794.4" cy="656.6" r="0.6"/><circle cx="925.1" cy="592.4" r="1.0"/><circle cx="830.2" cy="671.1" r="1.0"/><circle cx="863.3" cy="624.4" r="0.8"/><circle cx="843.2" cy="651.0" r="0.8"/><circle cx="978.0" cy="700.6" r="1.0"/><circle cx="705.0" cy="583.7" r="1.0"/><circle cx="922.3" cy="618.0" r="1.0"/><circle cx="753.6" cy="470.3" r="1.0"/><circle cx="716.9" cy="505.0" r="0.8"/><circle cx="762.3" cy="701.3" r="1.0"/><circle cx="834.5" cy="573.6" r="0.7"/><circle cx="757.3" cy="632.8" r="0.7"/><circle cx="878.4" cy="559.9" r="0.9"/><circle cx="738.6" cy="659.4" r="0.7"/><circle cx="757.4" cy="475.9" r="0.7"/><circle cx="925.4" cy="643.8" r="0.7"/><circle cx="775.2" cy="515.7" r="1.1"/><circle cx="832.0" cy="657.4" r="1.1"/><circle cx="799.6" cy="602.6" r="1.1"/><circle cx="881.2" cy="561.0" r="0.7"/><circle cx="858.6" cy="639.7" r="0.8"/><circle cx="952.0" cy="523.9" r="1.0"/><circle cx="968.3" cy="592.3" r="0.7"/><circle cx="920.1" cy="676.4" r="0.8"/><circle cx="742.4" cy="620.1" r="0.9"/><circle cx="841.6" cy="643.5" r="0.9"/><circle cx="1001.2" cy="507.2" r="0.8"/><circle cx="767.7" cy="487.7" r="0.6"/><circle cx="817.3" cy="518.5" r="1.0"/><circle cx="943.3" cy="590.8" r="1.0"/><circle cx="763.1" cy="603.8" r="0.9"/><circle cx="864.8" cy="655.7" r="0.6"/><circle cx="800.8" cy="651.3" r="0.9"/><circle cx="903.2" cy="549.6" r="0.6"/><circle cx="871.0" cy="529.3" r="0.9"/><circle cx="711.5" cy="523.9" r="0.8"/><circle cx="933.3" cy="587.5" r="0.9"/><circle cx="930.7" cy="564.0" r="0.7"/><circle cx="914.0" cy="656.7" r="0.7"/><circle cx="718.2" cy="577.8" r="1.0"/><circle cx="868.2" cy="597.1" r="1.0"/><circle cx="825.1" cy="562.5" r="0.9"/><circle cx="802.0" cy="439.8" r="0.9"/><circle cx="935.6" cy="439.7" r="0.8"/><circle cx="967.0" cy="637.3" r="0.8"/><circle cx="971.8" cy="607.8" r="0.8"/><circle cx="902.4" cy="695.0" r="0.7"/><circle cx="857.5" cy="561.2" r="0.9"/><circle cx="809.5" cy="558.2" r="0.7"/><circle cx="708.8" cy="503.1" r="0.6"/><circle cx="959.7" cy="685.8" r="0.6"/><circle cx="988.1" cy="531.5" r="0.9"/><circle cx="952.6" cy="539.4" r="0.8"/><circle cx="1001.5" cy="624.9" r="0.8"/><circle cx="964.8" cy="636.1" r="0.7"/><circle cx="742.3" cy="696.1" r="0.8"/><circle cx="911.1" cy="668.8" r="0.8"/><circle cx="977.8" cy="528.1" r="1.1"/><circle cx="708.5" cy="541.1" r="0.9"/><circle cx="770.4" cy="569.2" r="0.8"/><circle cx="853.8" cy="480.4" r="0.9"/><circle cx="763.2" cy="649.2" r="1.1"/><circle cx="865.0" cy="599.0" r="0.8"/><circle cx="942.6" cy="680.8" r="0.8"/><circle cx="942.9" cy="662.6" r="1.0"/><circle cx="771.7" cy="442.1" r="0.7"/><circle cx="751.1" cy="714.5" r="1.1"/><circle cx="719.5" cy="698.5" r="0.8"/><circle cx="995.0" cy="582.0" r="0.8"/><circle cx="743.6" cy="553.2" r="0.7"/><circle cx="705.8" cy="603.9" r="0.7"/><circle cx="893.6" cy="591.5" r="1.1"/><circle cx="846.1" cy="624.3" r="0.7"/><circle cx="914.1" cy="703.3" r="0.8"/><circle cx="784.1" cy="544.1" r="0.7"/><circle cx="733.5" cy="708.0" r="0.6"/><circle cx="777.2" cy="469.0" r="0.7"/><circle cx="940.3" cy="509.0" r="0.9"/><circle cx="746.2" cy="500.1" r="1.1"/><circle cx="814.6" cy="673.9" r="0.9"/><circle cx="989.6" cy="467.2" r="1.0"/><circle cx="887.4" cy="497.6" r="1.0"/><circle cx="866.6" cy="450.3" r="1.0"/><circle cx="996.1" cy="708.6" r="0.7"/><circle cx="924.3" cy="579.6" r="1.1"/><circle cx="955.1" cy="504.2" r="1.0"/><circle cx="923.5" cy="631.8" r="0.9"/><circle cx="1007.0" cy="682.3" r="0.8"/><circle cx="995.1" cy="613.0" r="0.6"/><circle cx="1000.2" cy="473.2" r="1.0"/><circle cx="922.8" cy="517.2" r="1.1"/><circle cx="909.5" cy="565.5" r="0.9"/><circle cx="746.5" cy="712.7" r="0.6"/><circle cx="807.0" cy="534.6" r="0.9"/><circle cx="1003.8" cy="492.0" r="0.9"/><circle cx="816.5" cy="705.4" r="1.1"/><circle cx="754.9" cy="657.0" r="0.8"/><circle cx="939.1" cy="586.5" r="0.8"/><circle cx="847.0" cy="537.6" r="0.6"/><circle cx="944.6" cy="550.8" r="1.0"/><circle cx="889.7" cy="641.3" r="1.1"/><circle cx="768.6" cy="489.0" r="1.0"/><circle cx="713.1" cy="667.6" r="0.8"/><circle cx="856.7" cy="646.6" r="1.0"/><circle cx="945.0" cy="448.7" r="1.0"/><circle cx="778.9" cy="666.3" r="0.9"/><circle cx="757.8" cy="517.6" r="0.9"/><circle cx="927.2" cy="570.2" r="0.7"/><circle cx="837.6" cy="613.6" r="0.8"/><circle cx="820.8" cy="439.5" r="0.8"/><circle cx="914.1" cy="690.6" r="1.1"/><circle cx="904.4" cy="640.9" r="0.7"/><circle cx="939.8" cy="529.4" r="1.0"/><circle cx="947.9" cy="607.5" r="0.8"/><circle cx="918.6" cy="542.7" r="1.0"/><circle cx="914.8" cy="673.3" r="0.8"/><circle cx="869.3" cy="677.2" r="0.9"/><circle cx="977.3" cy="638.8" r="1.1"/><circle cx="902.6" cy="479.5" r="0.7"/><circle cx="877.4" cy="580.5" r="1.0"/><circle cx="931.1" cy="696.8" r="0.8"/><circle cx="744.2" cy="449.0" r="0.8"/><circle cx="955.2" cy="680.7" r="0.6"/><circle cx="875.8" cy="465.6" r="1.0"/><circle cx="934.4" cy="509.6" r="1.0"/><circle cx="705.2" cy="532.9" r="0.9"/><circle cx="833.5" cy="593.1" r="0.8"/><circle cx="764.4" cy="711.2" r="0.7"/><circle cx="726.6" cy="627.5" r="1.0"/><circle cx="745.0" cy="479.3" r="1.0"/><circle cx="923.4" cy="445.2" r="0.7"/><circle cx="769.2" cy="480.4" r="0.7"/><circle cx="993.7" cy="661.3" r="0.7"/><circle cx="704.8" cy="538.8" r="1.1"/><circle cx="759.7" cy="668.3" r="0.9"/><circle cx="910.6" cy="579.8" r="0.8"/><circle cx="893.2" cy="475.1" r="0.8"/><circle cx="961.2" cy="476.4" r="0.8"/><circle cx="717.9" cy="664.7" r="0.9"/><circle cx="899.3" cy="577.5" r="0.7"/><circle cx="996.9" cy="510.8" r="0.6"/><circle cx="905.9" cy="542.8" r="0.9"/><circle cx="708.2" cy="552.2" r="1.0"/><circle cx="921.6" cy="453.5" r="0.6"/><circle cx="899.0" cy="501.5" r="0.6"/><circle cx="971.7" cy="680.0" r="1.0"/><circle cx="789.8" cy="489.1" r="1.1"/><circle cx="705.4" cy="538.9" r="0.8"/><circle cx="854.2" cy="671.1" r="0.9"/><circle cx="818.2" cy="666.0" r="0.9"/><circle cx="893.8" cy="614.9" r="1.1"/><circle cx="787.0" cy="706.5" r="0.7"/><circle cx="889.7" cy="566.5" r="0.7"/><circle cx="774.2" cy="705.6" r="0.7"/><circle cx="902.9" cy="527.6" r="0.7"/><circle cx="1009.7" cy="514.3" r="0.8"/><circle cx="952.2" cy="534.2" r="1.0"/><circle cx="929.8" cy="545.2" r="0.8"/><circle cx="799.2" cy="605.0" r="1.0"/><circle cx="971.7" cy="695.4" r="1.0"/><circle cx="743.8" cy="664.1" r="1.1"/><circle cx="777.2" cy="566.2" r="1.0"/><circle cx="951.4" cy="481.6" r="0.9"/><circle cx="929.9" cy="466.8" r="0.7"/><circle cx="981.0" cy="545.4" r="1.0"/><circle cx="952.7" cy="642.2" r="1.1"/><circle cx="750.0" cy="627.5" r="0.7"/><circle cx="743.4" cy="619.3" r="1.0"/><circle cx="868.0" cy="491.5" r="0.8"/><circle cx="733.5" cy="627.6" r="0.9"/><circle cx="854.6" cy="691.1" r="0.6"/><circle cx="839.7" cy="562.1" r="0.8"/><circle cx="783.3" cy="447.0" r="0.7"/><circle cx="939.3" cy="688.7" r="0.6"/><circle cx="748.3" cy="445.3" r="0.8"/><circle cx="791.0" cy="696.7" r="1.0"/><circle cx="841.5" cy="582.1" r="0.9"/><circle cx="864.8" cy="674.5" r="1.0"/><circle cx="860.7" cy="705.7" r="1.0"/><circle cx="989.0" cy="619.7" r="0.8"/><circle cx="783.2" cy="601.5" r="0.8"/><circle cx="735.7" cy="677.6" r="0.9"/><circle cx="718.3" cy="581.5" r="0.9"/><circle cx="728.8" cy="665.8" r="0.9"/><circle cx="814.2" cy="531.0" r="1.1"/><circle cx="832.9" cy="451.7" r="0.8"/><circle cx="830.2" cy="575.9" r="0.7"/><circle cx="824.8" cy="448.5" r="1.0"/><circle cx="961.4" cy="682.3" r="0.8"/><circle cx="886.8" cy="499.2" r="0.9"/><circle cx="945.8" cy="600.1" r="0.6"/><circle cx="950.9" cy="506.0" r="1.1"/><circle cx="1009.8" cy="513.4" r="0.7"/><circle cx="968.3" cy="501.5" r="0.6"/><circle cx="977.0" cy="683.1" r="1.0"/><circle cx="931.2" cy="446.6" r="0.9"/><circle cx="978.9" cy="696.3" r="1.0"/><circle cx="732.1" cy="688.2" r="1.0"/><circle cx="771.3" cy="573.0" r="1.1"/><circle cx="919.5" cy="605.5" r="0.7"/><circle cx="858.9" cy="600.8" r="1.0"/><circle cx="793.0" cy="458.8" r="1.1"/><circle cx="972.4" cy="540.5" r="1.0"/><circle cx="918.9" cy="693.0" r="0.9"/><circle cx="726.8" cy="443.4" r="0.7"/><circle cx="990.4" cy="461.4" r="0.9"/><circle cx="935.8" cy="526.5" r="0.8"/><circle cx="942.3" cy="696.5" r="1.0"/><circle cx="786.1" cy="568.1" r="0.8"/><circle cx="974.4" cy="675.5" r="1.0"/><circle cx="844.6" cy="511.4" r="0.7"/><circle cx="1009.0" cy="587.4" r="1.0"/><circle cx="739.0" cy="476.4" r="0.9"/><circle cx="882.8" cy="611.9" r="1.0"/><circle cx="951.9" cy="566.0" r="0.7"/><circle cx="759.0" cy="685.0" r="0.8"/><circle cx="829.2" cy="644.5" r="1.0"/><circle cx="787.6" cy="542.6" r="0.8"/><circle cx="906.3" cy="484.8" r="0.7"/><circle cx="986.9" cy="691.2" r="1.1"/><circle cx="949.6" cy="597.1" r="0.8"/><circle cx="1012.7" cy="460.9" r="0.8"/><circle cx="804.5" cy="710.9" r="0.8"/><circle cx="872.2" cy="712.7" r="0.9"/><circle cx="834.1" cy="546.6" r="1.0"/><circle cx="859.2" cy="530.7" r="0.6"/><circle cx="873.8" cy="674.4" r="0.9"/><circle cx="877.8" cy="480.4" r="1.1"/><circle cx="752.1" cy="599.1" r="0.9"/><circle cx="864.7" cy="529.9" r="0.8"/><circle cx="864.4" cy="574.4" r="0.8"/><circle cx="880.9" cy="654.7" r="0.9"/><circle cx="940.3" cy="681.2" r="0.8"/><circle cx="1003.7" cy="644.5" r="0.8"/><circle cx="898.1" cy="684.6" r="1.0"/><circle cx="841.2" cy="468.3" r="0.8"/><circle cx="713.8" cy="451.3" r="1.0"/><circle cx="824.4" cy="483.9" r="0.9"/><circle cx="827.2" cy="709.9" r="0.7"/><circle cx="840.0" cy="576.4" r="0.9"/><circle cx="730.8" cy="505.0" r="0.9"/><circle cx="952.5" cy="617.9" r="0.9"/><circle cx="936.2" cy="562.4" r="1.0"/><circle cx="927.2" cy="660.8" r="0.6"/><circle cx="993.2" cy="519.5" r="0.7"/><circle cx="807.8" cy="475.9" r="0.7"/><circle cx="868.1" cy="688.0" r="0.8"/><circle cx="912.1" cy="444.3" r="1.1"/><circle cx="734.3" cy="471.2" r="0.8"/><circle cx="934.2" cy="503.9" r="0.9"/><circle cx="730.2" cy="573.5" r="0.9"/><circle cx="951.3" cy="647.7" r="1.0"/><circle cx="822.9" cy="587.5" r="0.8"/><circle cx="953.6" cy="585.5" r="0.9"/><circle cx="843.3" cy="484.7" r="1.0"/><circle cx="808.5" cy="596.6" r="1.0"/><circle cx="956.6" cy="588.2" r="0.9"/><circle cx="910.4" cy="566.3" r="0.7"/><circle cx="791.5" cy="561.4" r="0.6"/><circle cx="974.7" cy="628.4" r="0.8"/><circle cx="742.2" cy="516.0" r="0.7"/><circle cx="727.1" cy="551.1" r="0.8"/><circle cx="794.0" cy="518.1" r="0.7"/><circle cx="853.9" cy="577.6" r="1.1"/><circle cx="971.6" cy="579.0" r="0.8"/><circle cx="760.1" cy="464.6" r="1.1"/><circle cx="866.0" cy="468.4" r="0.9"/><circle cx="967.9" cy="683.9" r="0.6"/><circle cx="718.4" cy="703.2" r="0.6"/><circle cx="799.1" cy="649.7" r="0.7"/><circle cx="931.1" cy="614.5" r="1.1"/><circle cx="919.6" cy="621.9" r="0.9"/><circle cx="897.5" cy="550.3" r="0.9"/><circle cx="816.6" cy="551.4" r="1.1"/><circle cx="838.4" cy="494.5" r="1.0"/><circle cx="990.9" cy="485.9" r="0.6"/><circle cx="793.7" cy="576.6" r="0.8"/><circle cx="787.9" cy="702.2" r="1.1"/><circle cx="846.7" cy="517.1" r="0.8"/><circle cx="965.1" cy="515.3" r="0.7"/><circle cx="733.9" cy="612.2" r="0.8"/><circle cx="718.9" cy="599.1" r="1.0"/><circle cx="901.8" cy="445.9" r="0.9"/><circle cx="903.6" cy="706.4" r="0.7"/><circle cx="926.4" cy="588.9" r="0.7"/><circle cx="858.2" cy="651.7" r="1.0"/><circle cx="886.7" cy="625.5" r="0.6"/><circle cx="941.2" cy="645.1" r="1.0"/><circle cx="772.9" cy="602.8" r="0.7"/><circle cx="830.4" cy="605.7" r="0.9"/><circle cx="1013.0" cy="639.6" r="0.6"/><circle cx="783.1" cy="629.8" r="0.7"/><circle cx="838.9" cy="515.1" r="0.8"/><circle cx="898.5" cy="694.2" r="1.0"/><circle cx="999.7" cy="568.4" r="1.0"/><circle cx="907.6" cy="552.4" r="0.8"/><circle cx="892.9" cy="624.7" r="0.6"/><circle cx="885.3" cy="631.8" r="0.7"/><circle cx="965.5" cy="645.1" r="0.7"/><circle cx="926.5" cy="621.3" r="1.0"/><circle cx="820.0" cy="655.6" r="1.0"/><circle cx="899.1" cy="565.4" r="0.9"/><circle cx="867.7" cy="577.3" r="0.8"/><circle cx="798.7" cy="610.1" r="0.6"/><circle cx="823.7" cy="465.8" r="0.9"/><circle cx="750.2" cy="558.9" r="0.7"/><circle cx="794.2" cy="528.7" r="1.1"/><circle cx="963.5" cy="713.0" r="0.7"/><circle cx="880.1" cy="663.1" r="1.0"/><circle cx="867.6" cy="458.6" r="0.7"/><circle cx="895.1" cy="604.7" r="0.7"/><circle cx="854.1" cy="582.4" r="1.0"/><circle cx="739.4" cy="704.8" r="1.0"/><circle cx="963.4" cy="619.4" r="1.1"/><circle cx="952.1" cy="515.0" r="1.1"/><circle cx="963.5" cy="528.7" r="0.9"/><circle cx="970.1" cy="649.8" r="1.0"/><circle cx="967.3" cy="694.9" r="1.1"/><circle cx="898.9" cy="478.9" r="0.9"/><circle cx="921.5" cy="541.7" r="0.9"/><circle cx="932.0" cy="488.3" r="0.7"/><circle cx="730.7" cy="570.4" r="0.7"/><circle cx="832.2" cy="490.3" r="1.1"/><circle cx="716.6" cy="595.3" r="0.9"/><circle cx="705.7" cy="529.6" r="0.7"/><circle cx="735.3" cy="585.9" r="0.6"/><circle cx="790.1" cy="493.3" r="1.0"/><circle cx="928.1" cy="592.0" r="0.9"/><circle cx="1004.1" cy="570.6" r="0.7"/><circle cx="1012.5" cy="608.6" r="1.1"/></g><path d="M765.90,527.39 C771.06,526.47 786.53,523.72 796.85,521.88 C807.17,520.04 822.64,517.29 827.80,516.37" fill="none" stroke="#e9c3dc" stroke-width="4.00" stroke-linecap="round" stroke-linejoin="round"/><path d="M843.27,590.78 C845.85,594.00 853.08,603.18 858.75,610.07 C864.42,616.96 874.23,628.45 877.32,632.12" fill="none" stroke="#e9c3dc" stroke-width="3.00" stroke-linecap="round" stroke-linejoin="round"/><path d="M796.85,577.00 C799.43,581.59 809.75,599.97 812.33,604.56" fill="none" stroke="#e9c3dc" stroke-width="2.00" stroke-linecap="round" stroke-linejoin="round"/><path d="M936.12,521.88 C938.70,525.55 949.02,540.25 951.60,543.93" fill="none" stroke="#e9c3dc" stroke-width="3.00" stroke-linecap="round" stroke-linejoin="round"/><path d="M970.17,659.68 C974.81,663.35 993.38,678.05 998.02,681.73" fill="none" stroke="#e9c3dc" stroke-width="3.00" stroke-linecap="round" stroke-linejoin="round"/></g><path d="M821.61,439.20 C830.28,437.55 926.22,437.82 936.12,439.20 C946.03,440.58 923.13,448.57 920.65,452.98 C918.17,457.39 912.91,475.03 911.37,483.30 C909.82,491.56 905.64,523.53 905.17,535.66 C904.71,547.79 905.48,592.16 906.72,604.56 C907.96,616.96 915.54,648.66 917.55,659.68 C919.57,670.70 929.32,709.29 926.84,714.80 C924.36,720.31 896.51,718.93 892.79,714.80 C889.08,710.67 890.01,684.48 889.70,673.46 C889.39,662.44 889.70,618.34 889.70,604.56 C889.70,590.78 890.94,548.06 889.70,535.66 C888.46,523.26 881.34,488.53 877.32,480.54 C873.30,472.55 855.04,459.87 849.47,455.74 C843.89,451.60 812.94,440.85 821.61,439.20 Z" fill="#ffffff" stroke="none" stroke-width="1.00" /><path d="M704.00,541.17 C705.24,524.91 714.37,548.06 716.38,552.20 C718.39,556.33 722.57,576.17 724.12,582.51 C725.66,588.85 729.84,608.97 731.86,615.58 C733.87,622.20 741.14,642.04 744.24,648.66 C747.33,655.27 758.78,675.11 762.80,681.73 C766.83,688.34 790.35,711.49 784.47,714.80 C778.59,718.11 712.05,732.16 704.00,714.80 C695.95,697.44 702.76,557.43 704.00,541.17 Z" fill="#fdfafc" stroke="none" stroke-width="1.00" /><path d="M704.00,560.46 C704.93,557.71 711.74,576.45 713.28,582.51 C714.83,588.58 717.93,613.65 719.48,621.10 C721.02,628.54 726.59,650.31 728.76,656.92 C730.93,663.54 738.97,681.45 741.14,687.24 C743.31,693.03 751.04,712.04 750.42,714.80 C749.81,717.56 738.05,718.66 734.95,714.80 C731.86,710.94 721.95,683.93 719.48,676.22 C717.00,668.50 711.74,644.25 710.19,637.63 C708.64,631.02 704.62,617.79 704.00,610.07 C703.38,602.36 703.07,563.22 704.00,560.46 Z" fill="#efd6e4" stroke="none" stroke-width="1.00" /><g fill="#2c2f80" opacity="0.80"><circle cx="917.1" cy="466.0" r="0.9"/><circle cx="895.3" cy="590.7" r="0.8"/><circle cx="895.2" cy="627.2" r="0.9"/><circle cx="882.9" cy="650.9" r="0.8"/><circle cx="899.0" cy="630.2" r="0.9"/><circle cx="910.2" cy="573.1" r="0.9"/><circle cx="914.6" cy="570.8" r="0.7"/><circle cx="889.3" cy="512.1" r="0.7"/><circle cx="922.1" cy="471.6" r="0.9"/><circle cx="903.6" cy="517.0" r="0.9"/><circle cx="893.2" cy="501.6" r="0.9"/><circle cx="908.9" cy="653.7" r="0.8"/><circle cx="903.7" cy="664.2" r="0.9"/><circle cx="886.1" cy="564.8" r="0.7"/><circle cx="876.7" cy="476.0" r="0.9"/><circle cx="894.2" cy="529.3" r="0.9"/><circle cx="918.3" cy="699.0" r="0.7"/><circle cx="879.1" cy="461.1" r="0.8"/><circle cx="915.6" cy="673.9" r="0.9"/><circle cx="917.7" cy="605.1" r="0.7"/><circle cx="876.9" cy="473.8" r="0.7"/><circle cx="908.1" cy="590.9" r="0.8"/><circle cx="897.8" cy="634.8" r="0.8"/><circle cx="910.9" cy="544.4" r="0.8"/><circle cx="874.2" cy="696.7" r="0.8"/><circle cx="883.4" cy="643.1" r="0.7"/><circle cx="886.8" cy="492.3" r="0.6"/><circle cx="894.8" cy="546.6" r="0.8"/><circle cx="908.6" cy="671.7" r="0.7"/><circle cx="881.6" cy="687.7" r="0.8"/><circle cx="918.2" cy="588.6" r="0.9"/><circle cx="876.9" cy="486.9" r="0.9"/><circle cx="875.4" cy="591.9" r="0.8"/><circle cx="914.8" cy="612.7" r="0.8"/><circle cx="907.7" cy="440.0" r="0.8"/><circle cx="892.4" cy="600.8" r="0.7"/><circle cx="885.8" cy="519.4" r="1.0"/><circle cx="902.6" cy="490.2" r="0.9"/><circle cx="924.0" cy="552.1" r="0.7"/><circle cx="882.8" cy="506.0" r="0.9"/><circle cx="894.8" cy="712.4" r="0.9"/><circle cx="885.9" cy="607.5" r="0.7"/><circle cx="882.0" cy="552.3" r="0.8"/><circle cx="926.5" cy="579.4" r="0.9"/><circle cx="925.7" cy="567.9" r="0.7"/><circle cx="910.6" cy="658.9" r="0.6"/><circle cx="906.8" cy="503.9" r="0.8"/><circle cx="911.9" cy="527.8" r="0.9"/><circle cx="902.8" cy="565.4" r="0.8"/><circle cx="920.5" cy="502.8" r="0.6"/><circle cx="890.0" cy="574.4" r="0.9"/><circle cx="890.4" cy="613.5" r="1.0"/><circle cx="911.6" cy="572.0" r="0.7"/><circle cx="896.7" cy="690.1" r="0.8"/><circle cx="899.3" cy="618.1" r="0.7"/><circle cx="893.7" cy="573.4" r="0.9"/><circle cx="906.4" cy="526.4" r="1.0"/><circle cx="914.0" cy="589.0" r="0.7"/><circle cx="889.9" cy="529.8" r="0.7"/><circle cx="897.8" cy="601.8" r="0.8"/></g><g fill="#2c2f80" opacity="0.80"><circle cx="719.4" cy="597.0" r="0.9"/><circle cx="759.5" cy="713.1" r="0.9"/><circle cx="733.5" cy="712.7" r="1.0"/><circle cx="756.1" cy="669.1" r="1.0"/><circle cx="728.6" cy="660.1" r="1.0"/><circle cx="744.4" cy="693.3" r="1.0"/><circle cx="713.2" cy="564.2" r="0.9"/><circle cx="763.9" cy="640.3" r="0.9"/><circle cx="749.4" cy="618.8" r="0.9"/><circle cx="750.9" cy="709.2" r="0.9"/><circle cx="704.2" cy="657.0" r="0.9"/><circle cx="749.0" cy="587.9" r="0.7"/><circle cx="726.6" cy="692.3" r="0.9"/><circle cx="764.1" cy="557.0" r="0.8"/><circle cx="756.9" cy="609.9" r="1.0"/><circle cx="738.5" cy="632.9" r="0.9"/><circle cx="733.8" cy="672.4" r="0.8"/><circle cx="750.1" cy="554.6" r="0.7"/><circle cx="708.7" cy="660.2" r="1.0"/><circle cx="749.5" cy="664.9" r="0.8"/><circle cx="747.6" cy="605.0" r="0.8"/><circle cx="762.0" cy="651.4" r="0.7"/><circle cx="724.6" cy="593.9" r="0.8"/><circle cx="712.5" cy="626.3" r="0.6"/><circle cx="713.5" cy="599.6" r="0.9"/><circle cx="727.1" cy="642.8" r="0.8"/><circle cx="710.4" cy="553.7" r="0.7"/><circle cx="758.2" cy="582.2" r="1.0"/><circle cx="721.0" cy="664.3" r="0.7"/><circle cx="741.3" cy="567.9" r="0.8"/><circle cx="746.9" cy="701.4" r="0.8"/><circle cx="717.5" cy="701.4" r="0.6"/><circle cx="720.6" cy="690.9" r="0.9"/><circle cx="758.3" cy="687.1" r="0.8"/><circle cx="757.2" cy="598.9" r="0.7"/><circle cx="749.3" cy="696.6" r="0.8"/><circle cx="728.0" cy="635.4" r="0.7"/><circle cx="733.7" cy="674.9" r="0.7"/><circle cx="762.0" cy="620.0" r="1.0"/><circle cx="745.3" cy="607.1" r="0.7"/><circle cx="710.2" cy="548.3" r="0.8"/><circle cx="734.7" cy="625.8" r="0.8"/><circle cx="763.6" cy="656.7" r="0.8"/><circle cx="754.9" cy="566.6" r="1.0"/><circle cx="742.0" cy="619.6" r="0.6"/><circle cx="756.6" cy="684.0" r="0.6"/><circle cx="705.0" cy="685.4" r="0.9"/><circle cx="715.7" cy="613.2" r="0.8"/><circle cx="757.6" cy="658.3" r="0.7"/><circle cx="717.7" cy="634.1" r="0.6"/></g></g>
<g clip-path="url(#c3)"><rect x="1026.00" y="439.40" width="288.00" height="275.10" fill="#bf6ea8" /><rect x="1026.00" y="439.40" width="288.00" height="275.10" fill="#000" filter="url(#t4)" opacity="1.00"/><rect x="1026.00" y="439.40" width="288.00" height="275.10" fill="#000" filter="url(#t4c)" opacity="0.50"/><rect x="1026.00" y="439.40" width="288.00" height="275.10" fill="#000" filter="url(#t4b)" opacity="0.60"/><g fill="#2a2a80" opacity="0.70"><circle cx="1210.2" cy="612.4" r="0.7"/><circle cx="1258.4" cy="532.0" r="0.8"/><circle cx="1232.8" cy="536.2" r="1.1"/><circle cx="1158.3" cy="542.0" r="0.6"/><circle cx="1244.0" cy="498.2" r="0.8"/><circle cx="1220.5" cy="567.8" r="1.1"/><circle cx="1139.5" cy="537.9" r="0.7"/><circle cx="1034.3" cy="471.9" r="0.9"/><circle cx="1059.2" cy="576.7" r="0.7"/><circle cx="1254.8" cy="449.3" r="1.0"/><circle cx="1295.2" cy="700.0" r="0.8"/><circle cx="1259.4" cy="486.4" r="1.1"/><circle cx="1307.2" cy="637.3" r="1.1"/><circle cx="1205.8" cy="706.7" r="0.8"/><circle cx="1049.4" cy="496.6" r="1.0"/><circle cx="1268.5" cy="545.0" r="1.0"/><circle cx="1285.4" cy="535.4" r="0.7"/><circle cx="1309.6" cy="540.9" r="1.1"/><circle cx="1099.1" cy="704.2" r="0.6"/><circle cx="1127.8" cy="560.0" r="0.6"/><circle cx="1260.1" cy="698.1" r="0.8"/><circle cx="1226.1" cy="512.1" r="0.8"/><circle cx="1218.7" cy="580.7" r="0.7"/><circle cx="1311.1" cy="711.6" r="0.9"/><circle cx="1292.1" cy="531.6" r="0.8"/><circle cx="1209.4" cy="459.9" r="0.6"/><circle cx="1173.7" cy="493.2" r="1.0"/><circle cx="1208.5" cy="551.6" r="0.8"/><circle cx="1224.9" cy="474.7" r="1.0"/><circle cx="1265.8" cy="495.7" r="0.7"/><circle cx="1242.9" cy="620.5" r="1.0"/><circle cx="1313.7" cy="636.5" r="1.1"/><circle cx="1085.6" cy="549.9" r="1.0"/><circle cx="1231.3" cy="616.2" r="0.8"/><circle cx="1093.3" cy="677.5" r="0.6"/><circle cx="1284.6" cy="669.8" r="1.1"/><circle cx="1036.5" cy="587.8" r="1.0"/><circle cx="1142.5" cy="701.1" r="0.9"/><circle cx="1266.7" cy="451.1" r="1.1"/><circle cx="1076.8" cy="525.4" r="0.8"/><circle cx="1244.8" cy="465.3" r="0.8"/><circle cx="1272.7" cy="599.6" r="0.8"/><circle cx="1188.6" cy="482.8" r="0.6"/><circle cx="1155.1" cy="506.6" r="0.9"/><circle cx="1058.8" cy="486.7" r="0.9"/><circle cx="1253.7" cy="477.1" r="1.0"/><circle cx="1245.5" cy="630.9" r="0.9"/><circle cx="1058.2" cy="519.7" r="0.6"/><circle cx="1274.5" cy="674.5" r="0.6"/><circle cx="1275.6" cy="503.2" r="1.1"/><circle cx="1225.7" cy="538.2" r="0.8"/><circle cx="1209.2" cy="574.9" r="0.9"/><circle cx="1258.4" cy="459.1" r="0.8"/><circle cx="1296.9" cy="626.6" r="0.8"/><circle cx="1026.1" cy="657.8" r="0.8"/><circle cx="1169.4" cy="503.3" r="0.7"/><circle cx="1304.3" cy="517.0" r="1.0"/><circle cx="1054.7" cy="660.6" r="1.0"/><circle cx="1209.6" cy="566.3" r="0.7"/><circle cx="1054.7" cy="600.1" r="1.1"/><circle cx="1166.7" cy="627.7" r="0.7"/><circle cx="1180.0" cy="667.3" r="1.1"/><circle cx="1163.4" cy="631.9" r="1.0"/><circle cx="1207.0" cy="512.5" r="0.6"/><circle cx="1248.3" cy="473.4" r="1.0"/><circle cx="1129.1" cy="621.4" r="0.8"/><circle cx="1049.1" cy="601.4" r="0.9"/><circle cx="1233.9" cy="541.5" r="1.0"/><circle cx="1165.8" cy="450.5" r="0.8"/><circle cx="1073.7" cy="470.4" r="0.7"/><circle cx="1193.8" cy="452.4" r="0.7"/><circle cx="1074.1" cy="521.5" r="0.8"/><circle cx="1278.7" cy="662.8" r="1.1"/><circle cx="1042.5" cy="506.6" r="0.8"/><circle cx="1180.9" cy="484.6" r="0.7"/><circle cx="1287.7" cy="575.7" r="0.7"/><circle cx="1111.2" cy="521.2" r="0.9"/><circle cx="1096.1" cy="463.6" r="0.7"/><circle cx="1094.0" cy="659.2" r="0.7"/><circle cx="1302.1" cy="498.4" r="0.7"/><circle cx="1197.5" cy="481.7" r="1.0"/><circle cx="1246.7" cy="592.9" r="0.7"/><circle cx="1229.4" cy="645.3" r="0.7"/><circle cx="1124.2" cy="597.2" r="1.0"/><circle cx="1284.0" cy="475.4" r="0.8"/><circle cx="1055.8" cy="442.5" r="0.6"/><circle cx="1095.1" cy="481.3" r="0.9"/><circle cx="1263.4" cy="627.8" r="0.6"/><circle cx="1147.2" cy="514.9" r="1.1"/><circle cx="1068.6" cy="484.8" r="0.8"/><circle cx="1035.5" cy="704.9" r="0.7"/><circle cx="1214.1" cy="661.2" r="0.8"/><circle cx="1206.1" cy="636.9" r="1.0"/><circle cx="1159.2" cy="479.3" r="0.8"/><circle cx="1176.2" cy="514.2" r="0.9"/><circle cx="1167.9" cy="694.2" r="0.8"/><circle cx="1103.3" cy="537.9" r="0.9"/><circle cx="1170.4" cy="580.5" r="0.8"/><circle cx="1068.8" cy="485.2" r="0.7"/><circle cx="1228.9" cy="658.1" r="1.0"/><circle cx="1234.6" cy="648.7" r="0.8"/><circle cx="1061.6" cy="612.2" r="1.0"/><circle cx="1031.2" cy="471.5" r="0.8"/><circle cx="1299.0" cy="562.3" r="0.8"/><circle cx="1056.5" cy="620.8" r="0.6"/><circle cx="1161.2" cy="545.5" r="0.8"/><circle cx="1177.3" cy="669.3" r="0.9"/><circle cx="1134.8" cy="492.4" r="0.8"/><circle cx="1229.4" cy="599.6" r="1.0"/><circle cx="1060.1" cy="519.0" r="0.6"/><circle cx="1287.7" cy="442.9" r="0.9"/><circle cx="1140.8" cy="441.2" r="0.8"/><circle cx="1226.2" cy="612.0" r="0.6"/><circle cx="1145.3" cy="573.2" r="0.6"/><circle cx="1028.6" cy="520.9" r="0.7"/><circle cx="1183.5" cy="450.4" r="0.7"/><circle cx="1195.8" cy="543.4" r="1.0"/><circle cx="1173.0" cy="539.3" r="1.0"/><circle cx="1207.9" cy="578.7" r="0.8"/><circle cx="1240.6" cy="651.0" r="0.7"/><circle cx="1113.6" cy="712.4" r="0.9"/><circle cx="1293.5" cy="586.1" r="0.8"/><circle cx="1290.9" cy="636.7" r="0.9"/><circle cx="1310.0" cy="669.2" r="0.9"/><circle cx="1091.8" cy="682.5" r="1.1"/><circle cx="1276.0" cy="553.3" r="0.7"/><circle cx="1110.5" cy="439.6" r="1.1"/><circle cx="1154.6" cy="635.7" r="0.7"/><circle cx="1253.3" cy="650.6" r="0.8"/><circle cx="1297.9" cy="464.8" r="1.0"/><circle cx="1232.4" cy="526.6" r="0.9"/><circle cx="1207.8" cy="596.2" r="0.7"/><circle cx="1294.7" cy="688.6" r="0.7"/><circle cx="1082.9" cy="467.0" r="0.8"/><circle cx="1305.7" cy="527.6" r="0.6"/><circle cx="1106.4" cy="495.2" r="0.9"/><circle cx="1107.7" cy="444.8" r="0.7"/><circle cx="1301.6" cy="586.0" r="0.7"/><circle cx="1172.3" cy="516.2" r="0.7"/><circle cx="1250.0" cy="639.0" r="0.7"/><circle cx="1132.5" cy="537.2" r="0.7"/><circle cx="1160.2" cy="593.3" r="0.7"/><circle cx="1058.0" cy="558.9" r="0.9"/><circle cx="1309.5" cy="506.5" r="0.9"/><circle cx="1197.5" cy="468.0" r="1.0"/><circle cx="1103.2" cy="694.4" r="0.7"/><circle cx="1276.5" cy="539.5" r="0.8"/><circle cx="1294.8" cy="590.9" r="0.9"/><circle cx="1220.9" cy="624.0" r="0.9"/><circle cx="1207.6" cy="525.8" r="0.9"/><circle cx="1221.0" cy="452.4" r="0.7"/><circle cx="1226.4" cy="539.5" r="0.8"/><circle cx="1133.5" cy="669.5" r="0.9"/><circle cx="1027.0" cy="713.5" r="0.7"/><circle cx="1204.4" cy="523.2" r="1.0"/><circle cx="1275.6" cy="554.3" r="0.9"/><circle cx="1033.2" cy="607.8" r="0.7"/><circle cx="1206.1" cy="596.9" r="0.7"/><circle cx="1227.9" cy="586.4" r="1.1"/><circle cx="1216.0" cy="529.1" r="1.1"/><circle cx="1107.5" cy="442.7" r="0.7"/><circle cx="1259.6" cy="700.0" r="0.7"/><circle cx="1118.1" cy="663.7" r="0.9"/><circle cx="1272.3" cy="649.9" r="0.7"/><circle cx="1030.7" cy="472.6" r="0.9"/><circle cx="1252.4" cy="544.2" r="0.8"/><circle cx="1086.5" cy="619.5" r="0.8"/><circle cx="1238.1" cy="699.0" r="1.0"/><circle cx="1169.2" cy="635.0" r="0.6"/><circle cx="1107.3" cy="506.8" r="0.7"/><circle cx="1169.8" cy="477.2" r="0.9"/><circle cx="1268.9" cy="458.7" r="0.8"/><circle cx="1200.6" cy="677.8" r="0.8"/><circle cx="1207.7" cy="537.6" r="0.8"/><circle cx="1240.1" cy="574.6" r="0.6"/><circle cx="1210.7" cy="507.4" r="0.8"/><circle cx="1151.5" cy="596.8" r="0.8"/><circle cx="1152.0" cy="585.5" r="1.1"/><circle cx="1190.1" cy="467.2" r="0.9"/><circle cx="1206.7" cy="514.8" r="0.8"/><circle cx="1109.7" cy="470.3" r="0.7"/><circle cx="1253.3" cy="553.8" r="0.8"/><circle cx="1040.3" cy="653.5" r="1.1"/><circle cx="1145.5" cy="592.1" r="1.1"/><circle cx="1258.0" cy="482.4" r="0.8"/><circle cx="1257.9" cy="524.5" r="0.9"/><circle cx="1099.8" cy="489.9" r="0.8"/><circle cx="1156.2" cy="669.7" r="1.0"/><circle cx="1250.4" cy="704.8" r="1.1"/><circle cx="1109.4" cy="652.5" r="1.1"/><circle cx="1265.0" cy="624.6" r="1.0"/><circle cx="1235.9" cy="669.2" r="0.8"/><circle cx="1033.6" cy="674.9" r="0.7"/><circle cx="1087.2" cy="610.8" r="0.6"/><circle cx="1040.9" cy="566.9" r="0.6"/><circle cx="1034.2" cy="450.0" r="0.7"/><circle cx="1175.1" cy="680.0" r="0.7"/><circle cx="1237.7" cy="597.8" r="0.7"/><circle cx="1228.4" cy="518.4" r="0.8"/><circle cx="1167.4" cy="586.7" r="0.9"/><circle cx="1313.8" cy="491.4" r="1.0"/><circle cx="1133.8" cy="610.6" r="0.9"/><circle cx="1159.7" cy="713.1" r="0.9"/><circle cx="1175.1" cy="705.1" r="0.9"/><circle cx="1247.9" cy="552.9" r="0.7"/><circle cx="1153.3" cy="597.6" r="0.9"/><circle cx="1301.7" cy="617.4" r="1.0"/><circle cx="1267.8" cy="544.3" r="0.9"/><circle cx="1261.7" cy="651.5" r="1.0"/><circle cx="1178.0" cy="629.9" r="0.8"/><circle cx="1117.2" cy="636.4" r="1.1"/><circle cx="1225.0" cy="479.9" r="0.9"/><circle cx="1164.4" cy="641.9" r="1.0"/><circle cx="1123.6" cy="709.5" r="0.9"/><circle cx="1125.9" cy="711.7" r="0.7"/><circle cx="1264.7" cy="475.5" r="1.1"/><circle cx="1099.7" cy="662.2" r="0.8"/><circle cx="1110.0" cy="442.1" r="0.8"/><circle cx="1303.6" cy="690.5" r="0.9"/><circle cx="1089.1" cy="479.8" r="0.8"/><circle cx="1285.5" cy="626.2" r="0.6"/><circle cx="1144.9" cy="635.1" r="1.1"/><circle cx="1256.4" cy="585.3" r="0.7"/><circle cx="1028.1" cy="587.4" r="0.8"/><circle cx="1236.8" cy="627.0" r="1.0"/><circle cx="1073.1" cy="447.3" r="1.1"/><circle cx="1204.7" cy="543.6" r="1.0"/><circle cx="1206.1" cy="450.5" r="0.9"/><circle cx="1057.9" cy="691.8" r="0.7"/><circle cx="1294.4" cy="537.1" r="1.1"/><circle cx="1178.4" cy="693.0" r="0.8"/><circle cx="1153.2" cy="509.6" r="0.8"/><circle cx="1088.1" cy="539.0" r="0.7"/><circle cx="1065.7" cy="662.6" r="1.0"/><circle cx="1175.7" cy="506.4" r="1.0"/><circle cx="1116.2" cy="603.8" r="0.6"/><circle cx="1178.3" cy="593.2" r="0.7"/><circle cx="1120.5" cy="569.8" r="1.1"/><circle cx="1035.2" cy="549.5" r="0.7"/><circle cx="1213.3" cy="457.3" r="1.0"/><circle cx="1098.4" cy="670.8" r="0.7"/><circle cx="1209.0" cy="576.9" r="0.8"/><circle cx="1073.2" cy="511.7" r="1.1"/><circle cx="1095.8" cy="595.9" r="0.8"/><circle cx="1184.8" cy="506.2" r="0.8"/><circle cx="1279.1" cy="452.8" r="0.9"/><circle cx="1180.7" cy="482.0" r="0.9"/><circle cx="1310.8" cy="464.8" r="0.6"/><circle cx="1172.4" cy="574.4" r="1.1"/><circle cx="1061.9" cy="457.4" r="1.0"/><circle cx="1188.9" cy="627.7" r="1.0"/><circle cx="1076.2" cy="699.4" r="0.6"/><circle cx="1082.3" cy="518.6" r="0.8"/><circle cx="1118.9" cy="640.4" r="0.6"/><circle cx="1093.1" cy="481.6" r="0.6"/><circle cx="1096.1" cy="577.0" r="1.0"/><circle cx="1177.2" cy="446.1" r="0.9"/><circle cx="1279.0" cy="490.5" r="0.9"/><circle cx="1217.9" cy="489.0" r="0.9"/><circle cx="1163.1" cy="637.3" r="1.0"/><circle cx="1240.6" cy="531.2" r="0.7"/><circle cx="1222.9" cy="631.7" r="0.6"/><circle cx="1275.4" cy="611.2" r="0.6"/><circle cx="1276.9" cy="452.3" r="0.9"/><circle cx="1086.7" cy="503.4" r="1.1"/><circle cx="1142.1" cy="542.0" r="1.0"/><circle cx="1182.1" cy="611.6" r="0.8"/><circle cx="1193.6" cy="670.6" r="0.8"/><circle cx="1035.8" cy="531.4" r="0.9"/><circle cx="1077.9" cy="448.1" r="1.0"/><circle cx="1090.6" cy="545.9" r="0.9"/><circle cx="1049.6" cy="459.6" r="0.8"/><circle cx="1054.5" cy="528.2" r="0.9"/><circle cx="1150.3" cy="523.4" r="0.9"/><circle cx="1306.1" cy="665.0" r="0.9"/><circle cx="1293.5" cy="631.2" r="0.8"/><circle cx="1064.6" cy="494.7" r="0.7"/><circle cx="1254.9" cy="672.1" r="0.7"/><circle cx="1131.7" cy="465.9" r="1.0"/><circle cx="1152.5" cy="527.4" r="1.0"/><circle cx="1184.5" cy="493.6" r="1.1"/><circle cx="1097.6" cy="461.5" r="1.0"/><circle cx="1137.5" cy="554.7" r="0.7"/><circle cx="1160.5" cy="534.4" r="1.0"/><circle cx="1247.5" cy="676.9" r="0.9"/><circle cx="1256.7" cy="614.8" r="0.9"/><circle cx="1311.0" cy="677.0" r="1.0"/><circle cx="1059.3" cy="451.8" r="0.7"/><circle cx="1142.3" cy="545.3" r="0.9"/><circle cx="1185.0" cy="603.2" r="1.1"/><circle cx="1112.3" cy="557.7" r="0.9"/><circle cx="1192.6" cy="686.9" r="0.9"/><circle cx="1082.9" cy="443.0" r="0.8"/><circle cx="1093.9" cy="556.5" r="1.1"/><circle cx="1193.7" cy="555.9" r="1.0"/><circle cx="1046.4" cy="569.9" r="1.0"/><circle cx="1203.4" cy="614.8" r="0.7"/><circle cx="1262.3" cy="493.9" r="1.1"/><circle cx="1117.5" cy="582.0" r="0.9"/><circle cx="1109.2" cy="523.7" r="1.0"/><circle cx="1175.6" cy="624.6" r="0.8"/><circle cx="1240.3" cy="532.9" r="0.8"/><circle cx="1189.6" cy="520.7" r="1.1"/><circle cx="1167.2" cy="693.0" r="0.9"/><circle cx="1173.6" cy="572.7" r="0.9"/><circle cx="1039.2" cy="600.0" r="1.0"/><circle cx="1066.2" cy="708.9" r="1.0"/><circle cx="1234.0" cy="690.0" r="0.7"/><circle cx="1140.5" cy="712.2" r="0.8"/><circle cx="1076.1" cy="671.8" r="0.7"/><circle cx="1288.6" cy="679.5" r="1.1"/><circle cx="1298.0" cy="646.8" r="0.6"/><circle cx="1063.6" cy="443.7" r="1.1"/><circle cx="1223.0" cy="459.5" r="1.0"/><circle cx="1037.3" cy="533.6" r="1.0"/><circle cx="1263.4" cy="461.1" r="0.7"/><circle cx="1113.9" cy="594.0" r="1.0"/><circle cx="1099.7" cy="495.2" r="0.7"/><circle cx="1262.0" cy="619.3" r="0.8"/><circle cx="1102.0" cy="592.8" r="0.9"/><circle cx="1105.1" cy="523.5" r="0.7"/><circle cx="1111.7" cy="461.5" r="1.0"/><circle cx="1262.1" cy="649.9" r="1.0"/><circle cx="1271.2" cy="575.5" r="0.9"/><circle cx="1101.5" cy="557.5" r="0.8"/><circle cx="1254.8" cy="590.7" r="0.7"/><circle cx="1108.9" cy="584.1" r="0.8"/><circle cx="1251.2" cy="694.0" r="1.0"/><circle cx="1266.2" cy="452.2" r="0.6"/><circle cx="1308.8" cy="560.3" r="0.7"/><circle cx="1134.8" cy="646.2" r="0.7"/><circle cx="1086.4" cy="707.5" r="1.0"/><circle cx="1097.0" cy="606.9" r="0.9"/><circle cx="1165.5" cy="541.6" r="1.0"/><circle cx="1265.6" cy="603.9" r="1.1"/><circle cx="1313.5" cy="468.0" r="0.8"/><circle cx="1191.6" cy="670.4" r="0.8"/><circle cx="1291.7" cy="560.7" r="0.7"/><circle cx="1060.9" cy="562.3" r="0.7"/><circle cx="1095.2" cy="672.0" r="0.9"/><circle cx="1285.8" cy="588.7" r="1.0"/><circle cx="1167.4" cy="622.3" r="1.0"/><circle cx="1110.8" cy="445.1" r="0.9"/><circle cx="1243.7" cy="475.5" r="0.6"/><circle cx="1228.0" cy="680.7" r="1.1"/><circle cx="1262.0" cy="452.0" r="0.8"/><circle cx="1092.8" cy="557.6" r="0.8"/><circle cx="1053.2" cy="472.7" r="1.1"/><circle cx="1124.7" cy="555.6" r="0.9"/><circle cx="1054.9" cy="626.5" r="1.1"/><circle cx="1190.5" cy="474.8" r="0.8"/><circle cx="1098.8" cy="707.1" r="1.1"/><circle cx="1264.6" cy="662.2" r="1.0"/><circle cx="1296.0" cy="628.1" r="0.7"/><circle cx="1264.8" cy="555.9" r="0.8"/><circle cx="1274.0" cy="537.9" r="0.7"/><circle cx="1107.9" cy="572.8" r="0.9"/><circle cx="1296.0" cy="444.8" r="0.6"/><circle cx="1285.4" cy="498.4" r="1.1"/><circle cx="1134.7" cy="626.2" r="1.0"/><circle cx="1291.6" cy="628.8" r="0.9"/><circle cx="1213.0" cy="566.6" r="0.8"/><circle cx="1216.5" cy="609.4" r="1.0"/><circle cx="1154.5" cy="704.4" r="1.1"/><circle cx="1171.3" cy="563.2" r="1.0"/><circle cx="1200.9" cy="537.4" r="0.9"/><circle cx="1157.5" cy="652.6" r="0.7"/><circle cx="1076.3" cy="705.8" r="1.1"/><circle cx="1114.5" cy="508.0" r="0.7"/><circle cx="1247.5" cy="645.1" r="1.0"/><circle cx="1155.2" cy="447.7" r="1.1"/><circle cx="1293.9" cy="652.4" r="1.0"/><circle cx="1119.3" cy="697.8" r="0.8"/><circle cx="1242.5" cy="638.4" r="0.9"/><circle cx="1096.0" cy="645.6" r="0.9"/><circle cx="1176.1" cy="636.2" r="0.9"/><circle cx="1111.5" cy="692.8" r="0.9"/><circle cx="1075.5" cy="707.6" r="0.7"/><circle cx="1052.9" cy="554.6" r="1.0"/><circle cx="1096.6" cy="635.8" r="0.9"/><circle cx="1221.5" cy="442.3" r="1.0"/><circle cx="1080.2" cy="658.6" r="0.8"/><circle cx="1216.9" cy="492.6" r="1.0"/><circle cx="1135.9" cy="491.2" r="1.0"/><circle cx="1073.1" cy="456.5" r="0.8"/><circle cx="1261.5" cy="686.0" r="0.8"/><circle cx="1266.9" cy="708.2" r="0.8"/><circle cx="1222.2" cy="613.5" r="1.0"/><circle cx="1310.1" cy="535.0" r="0.8"/><circle cx="1215.7" cy="538.1" r="0.7"/><circle cx="1080.6" cy="575.1" r="0.7"/><circle cx="1205.1" cy="658.8" r="0.6"/><circle cx="1164.3" cy="558.1" r="0.7"/><circle cx="1092.4" cy="464.6" r="0.9"/><circle cx="1299.2" cy="451.3" r="0.7"/><circle cx="1132.7" cy="571.6" r="0.8"/><circle cx="1154.4" cy="568.6" r="0.7"/><circle cx="1040.3" cy="554.1" r="1.0"/><circle cx="1147.5" cy="616.0" r="1.0"/><circle cx="1240.4" cy="523.7" r="1.1"/><circle cx="1079.5" cy="518.5" r="0.9"/><circle cx="1248.6" cy="551.7" r="0.7"/><circle cx="1074.6" cy="540.4" r="0.8"/><circle cx="1110.8" cy="567.4" r="0.9"/><circle cx="1158.0" cy="647.8" r="0.9"/><circle cx="1234.8" cy="483.8" r="0.7"/><circle cx="1091.3" cy="711.2" r="0.8"/><circle cx="1196.8" cy="575.2" r="1.0"/><circle cx="1208.2" cy="701.7" r="0.6"/><circle cx="1137.6" cy="606.9" r="0.9"/><circle cx="1186.7" cy="644.7" r="0.9"/><circle cx="1201.0" cy="579.1" r="0.8"/><circle cx="1174.1" cy="483.5" r="1.0"/><circle cx="1125.3" cy="602.6" r="0.9"/><circle cx="1034.5" cy="641.3" r="1.0"/><circle cx="1269.2" cy="507.5" r="0.6"/><circle cx="1078.6" cy="474.8" r="0.9"/><circle cx="1128.4" cy="710.2" r="1.1"/><circle cx="1058.8" cy="704.5" r="0.6"/><circle cx="1153.5" cy="667.9" r="0.6"/><circle cx="1116.7" cy="572.8" r="0.6"/><circle cx="1242.4" cy="464.8" r="1.0"/><circle cx="1164.5" cy="547.0" r="1.0"/><circle cx="1062.3" cy="454.9" r="0.7"/><circle cx="1131.8" cy="562.8" r="0.8"/><circle cx="1225.7" cy="638.0" r="0.9"/><circle cx="1259.3" cy="656.9" r="0.9"/><circle cx="1159.8" cy="653.6" r="1.0"/><circle cx="1266.3" cy="473.9" r="0.7"/><circle cx="1139.6" cy="612.4" r="0.7"/><circle cx="1105.1" cy="674.0" r="0.6"/><circle cx="1099.7" cy="463.9" r="1.0"/><circle cx="1252.8" cy="516.4" r="0.8"/><circle cx="1255.7" cy="599.3" r="0.8"/><circle cx="1255.2" cy="571.0" r="0.7"/><circle cx="1304.4" cy="564.2" r="1.0"/><circle cx="1206.4" cy="690.9" r="1.0"/><circle cx="1293.8" cy="625.1" r="0.7"/><circle cx="1304.6" cy="595.7" r="0.9"/><circle cx="1106.6" cy="455.0" r="0.9"/><circle cx="1063.4" cy="613.9" r="0.6"/><circle cx="1030.7" cy="679.6" r="0.9"/><circle cx="1156.9" cy="646.2" r="1.0"/><circle cx="1109.6" cy="697.6" r="0.7"/><circle cx="1112.5" cy="547.4" r="0.8"/><circle cx="1211.4" cy="521.6" r="0.9"/><circle cx="1106.4" cy="560.4" r="0.8"/><circle cx="1074.6" cy="600.7" r="0.9"/><circle cx="1112.6" cy="613.1" r="0.7"/><circle cx="1162.4" cy="497.6" r="0.8"/><circle cx="1164.8" cy="618.5" r="0.8"/><circle cx="1115.1" cy="597.5" r="0.9"/><circle cx="1152.0" cy="541.2" r="0.6"/><circle cx="1150.1" cy="648.2" r="1.0"/><circle cx="1108.8" cy="646.0" r="0.9"/><circle cx="1237.8" cy="463.9" r="0.7"/><circle cx="1147.2" cy="601.4" r="0.9"/><circle cx="1157.9" cy="560.3" r="0.8"/><circle cx="1184.2" cy="461.2" r="0.9"/><circle cx="1135.5" cy="632.8" r="0.8"/><circle cx="1159.9" cy="536.8" r="1.0"/><circle cx="1029.3" cy="607.4" r="0.6"/><circle cx="1261.4" cy="595.1" r="0.9"/><circle cx="1135.6" cy="571.1" r="1.1"/><circle cx="1310.7" cy="702.8" r="0.8"/><circle cx="1217.8" cy="603.2" r="1.0"/><circle cx="1071.2" cy="707.9" r="0.9"/><circle cx="1308.9" cy="618.5" r="1.1"/><circle cx="1199.2" cy="568.5" r="1.1"/><circle cx="1233.1" cy="584.2" r="0.8"/><circle cx="1292.8" cy="594.1" r="0.7"/><circle cx="1237.8" cy="685.1" r="0.7"/><circle cx="1159.3" cy="517.9" r="1.0"/><circle cx="1306.1" cy="626.7" r="1.0"/><circle cx="1161.6" cy="637.2" r="1.0"/><circle cx="1307.0" cy="440.6" r="0.6"/><circle cx="1313.1" cy="556.3" r="0.7"/><circle cx="1173.4" cy="660.3" r="1.1"/><circle cx="1040.6" cy="684.5" r="0.8"/><circle cx="1255.3" cy="500.6" r="1.0"/><circle cx="1122.8" cy="504.6" r="0.9"/><circle cx="1164.2" cy="703.2" r="0.9"/><circle cx="1209.6" cy="502.0" r="0.9"/><circle cx="1197.4" cy="516.9" r="1.0"/><circle cx="1217.7" cy="704.5" r="0.7"/><circle cx="1080.6" cy="630.5" r="0.7"/><circle cx="1030.0" cy="523.6" r="0.9"/><circle cx="1220.0" cy="700.3" r="0.8"/><circle cx="1286.1" cy="639.3" r="0.7"/><circle cx="1100.9" cy="682.4" r="0.8"/><circle cx="1229.0" cy="439.5" r="1.1"/><circle cx="1107.2" cy="710.6" r="1.0"/><circle cx="1087.8" cy="487.7" r="0.7"/><circle cx="1123.8" cy="605.1" r="0.8"/><circle cx="1267.5" cy="545.1" r="1.0"/><circle cx="1121.4" cy="525.3" r="1.0"/><circle cx="1173.5" cy="584.9" r="0.9"/><circle cx="1176.3" cy="713.1" r="1.0"/><circle cx="1182.4" cy="479.6" r="0.7"/><circle cx="1291.4" cy="572.8" r="0.9"/><circle cx="1180.3" cy="647.6" r="1.0"/><circle cx="1171.6" cy="627.3" r="1.0"/><circle cx="1194.6" cy="693.3" r="1.0"/><circle cx="1105.9" cy="670.3" r="1.1"/><circle cx="1301.6" cy="694.0" r="0.8"/><circle cx="1113.4" cy="688.2" r="0.8"/><circle cx="1283.2" cy="490.3" r="0.6"/><circle cx="1174.1" cy="592.6" r="0.8"/><circle cx="1066.2" cy="665.8" r="0.8"/><circle cx="1311.2" cy="524.7" r="0.9"/><circle cx="1306.0" cy="531.6" r="0.8"/><circle cx="1116.5" cy="664.8" r="0.6"/><circle cx="1296.8" cy="572.1" r="0.9"/><circle cx="1280.4" cy="610.8" r="0.7"/><circle cx="1290.4" cy="706.5" r="1.1"/><circle cx="1118.4" cy="524.5" r="0.7"/><circle cx="1072.0" cy="458.6" r="0.7"/><circle cx="1150.2" cy="581.4" r="0.9"/><circle cx="1071.4" cy="585.5" r="0.7"/><circle cx="1126.2" cy="580.4" r="0.6"/><circle cx="1312.8" cy="614.1" r="1.1"/><circle cx="1289.9" cy="714.2" r="1.0"/><circle cx="1113.1" cy="546.4" r="1.0"/><circle cx="1172.3" cy="510.2" r="1.0"/><circle cx="1132.1" cy="489.7" r="0.9"/><circle cx="1271.9" cy="624.0" r="0.8"/><circle cx="1149.1" cy="530.1" r="0.8"/><circle cx="1300.3" cy="600.9" r="0.7"/><circle cx="1273.2" cy="637.6" r="0.8"/><circle cx="1216.0" cy="592.5" r="0.7"/><circle cx="1117.2" cy="461.4" r="1.1"/><circle cx="1118.1" cy="580.7" r="0.6"/><circle cx="1066.7" cy="526.4" r="0.8"/><circle cx="1206.7" cy="454.2" r="0.8"/><circle cx="1297.9" cy="647.4" r="0.8"/><circle cx="1041.3" cy="455.5" r="1.0"/><circle cx="1212.8" cy="561.0" r="1.0"/><circle cx="1113.1" cy="626.6" r="0.8"/><circle cx="1160.8" cy="537.3" r="1.0"/><circle cx="1057.4" cy="457.7" r="1.0"/><circle cx="1035.9" cy="629.6" r="1.0"/><circle cx="1213.4" cy="631.0" r="0.7"/><circle cx="1177.1" cy="461.6" r="1.1"/><circle cx="1058.2" cy="644.4" r="0.6"/><circle cx="1286.4" cy="449.2" r="1.0"/><circle cx="1270.0" cy="542.4" r="0.9"/><circle cx="1114.2" cy="567.9" r="0.7"/><circle cx="1078.3" cy="633.2" r="1.0"/><circle cx="1291.0" cy="692.7" r="0.6"/><circle cx="1117.7" cy="659.7" r="0.7"/><circle cx="1312.1" cy="668.2" r="0.6"/><circle cx="1173.0" cy="706.2" r="0.8"/><circle cx="1226.1" cy="673.4" r="1.0"/><circle cx="1202.3" cy="538.3" r="0.9"/><circle cx="1281.5" cy="467.0" r="0.7"/><circle cx="1266.3" cy="507.7" r="1.0"/><circle cx="1142.9" cy="596.5" r="0.9"/><circle cx="1048.8" cy="489.8" r="1.1"/><circle cx="1228.7" cy="556.9" r="0.9"/><circle cx="1185.9" cy="698.9" r="1.1"/><circle cx="1106.2" cy="565.0" r="0.9"/><circle cx="1297.7" cy="603.6" r="0.6"/><circle cx="1114.1" cy="571.5" r="0.9"/><circle cx="1036.3" cy="454.9" r="0.9"/><circle cx="1103.6" cy="506.7" r="0.9"/><circle cx="1139.5" cy="588.3" r="0.9"/><circle cx="1067.5" cy="487.3" r="0.8"/><circle cx="1083.9" cy="564.8" r="1.0"/><circle cx="1215.7" cy="546.7" r="1.0"/><circle cx="1045.7" cy="490.5" r="1.1"/><circle cx="1153.6" cy="506.1" r="0.7"/><circle cx="1171.6" cy="650.9" r="0.7"/><circle cx="1069.9" cy="470.6" r="1.0"/><circle cx="1056.1" cy="474.7" r="0.7"/><circle cx="1075.9" cy="604.3" r="0.8"/><circle cx="1248.2" cy="445.8" r="0.8"/><circle cx="1200.5" cy="495.4" r="1.1"/><circle cx="1076.8" cy="487.5" r="0.6"/><circle cx="1107.5" cy="575.7" r="1.0"/><circle cx="1107.5" cy="703.2" r="1.0"/><circle cx="1310.7" cy="490.6" r="1.1"/><circle cx="1130.1" cy="489.1" r="1.1"/><circle cx="1236.8" cy="687.4" r="1.0"/><circle cx="1257.6" cy="557.4" r="0.9"/><circle cx="1080.7" cy="530.4" r="0.6"/><circle cx="1157.6" cy="672.3" r="0.7"/><circle cx="1133.0" cy="531.3" r="0.7"/><circle cx="1115.6" cy="712.8" r="0.8"/><circle cx="1204.7" cy="633.9" r="0.7"/><circle cx="1056.0" cy="456.8" r="1.0"/><circle cx="1294.3" cy="614.3" r="0.7"/><circle cx="1185.0" cy="491.3" r="1.0"/><circle cx="1302.4" cy="693.5" r="0.8"/><circle cx="1100.6" cy="567.5" r="0.9"/><circle cx="1170.6" cy="456.1" r="1.0"/><circle cx="1281.0" cy="654.9" r="1.0"/><circle cx="1194.3" cy="576.7" r="0.7"/><circle cx="1028.8" cy="476.1" r="0.9"/><circle cx="1112.8" cy="474.8" r="0.8"/><circle cx="1102.1" cy="681.3" r="1.0"/><circle cx="1093.6" cy="713.9" r="0.9"/><circle cx="1283.4" cy="472.2" r="1.0"/><circle cx="1236.9" cy="511.5" r="1.0"/><circle cx="1245.9" cy="709.8" r="1.0"/><circle cx="1312.0" cy="680.0" r="1.0"/><circle cx="1074.6" cy="530.5" r="0.8"/><circle cx="1252.4" cy="606.1" r="1.0"/><circle cx="1091.0" cy="531.9" r="0.9"/><circle cx="1228.5" cy="532.2" r="0.8"/><circle cx="1055.2" cy="441.4" r="0.9"/><circle cx="1186.8" cy="546.9" r="0.7"/><circle cx="1064.3" cy="527.6" r="0.9"/><circle cx="1250.0" cy="569.2" r="0.7"/><circle cx="1153.5" cy="686.7" r="0.6"/><circle cx="1124.9" cy="552.9" r="0.7"/><circle cx="1041.2" cy="571.5" r="0.9"/><circle cx="1090.5" cy="538.1" r="1.0"/><circle cx="1195.9" cy="614.2" r="0.7"/><circle cx="1054.3" cy="504.6" r="0.8"/><circle cx="1044.8" cy="564.8" r="1.0"/><circle cx="1309.2" cy="515.5" r="0.9"/><circle cx="1276.4" cy="462.2" r="0.9"/><circle cx="1293.2" cy="463.0" r="0.7"/><circle cx="1227.2" cy="480.0" r="0.7"/><circle cx="1127.0" cy="613.1" r="0.9"/><circle cx="1223.7" cy="501.9" r="0.7"/><circle cx="1135.7" cy="701.4" r="0.6"/><circle cx="1263.0" cy="540.3" r="0.6"/><circle cx="1127.5" cy="638.0" r="1.0"/><circle cx="1159.7" cy="458.0" r="0.8"/><circle cx="1086.1" cy="709.5" r="1.0"/><circle cx="1086.6" cy="651.4" r="0.8"/><circle cx="1280.3" cy="613.7" r="1.1"/><circle cx="1029.3" cy="676.7" r="0.9"/><circle cx="1282.7" cy="479.8" r="0.8"/><circle cx="1270.4" cy="632.8" r="1.1"/><circle cx="1234.1" cy="694.3" r="0.8"/><circle cx="1045.6" cy="642.7" r="1.1"/><circle cx="1204.9" cy="602.4" r="0.8"/><circle cx="1027.8" cy="664.8" r="1.0"/><circle cx="1278.4" cy="713.7" r="0.7"/><circle cx="1143.3" cy="478.7" r="0.9"/><circle cx="1192.9" cy="635.5" r="0.9"/><circle cx="1141.8" cy="614.6" r="0.9"/><circle cx="1040.5" cy="580.2" r="0.8"/><circle cx="1312.9" cy="536.8" r="1.1"/><circle cx="1094.6" cy="508.9" r="0.8"/><circle cx="1143.0" cy="507.2" r="1.0"/><circle cx="1092.2" cy="623.3" r="0.7"/><circle cx="1138.2" cy="504.8" r="0.7"/><circle cx="1243.3" cy="583.6" r="0.7"/><circle cx="1226.0" cy="612.0" r="0.9"/><circle cx="1076.6" cy="543.8" r="0.8"/><circle cx="1190.7" cy="513.6" r="1.1"/><circle cx="1093.6" cy="591.1" r="0.8"/><circle cx="1044.1" cy="584.7" r="1.0"/><circle cx="1185.5" cy="535.2" r="1.0"/><circle cx="1045.8" cy="472.3" r="0.8"/><circle cx="1176.1" cy="493.1" r="0.8"/><circle cx="1310.0" cy="531.1" r="0.9"/><circle cx="1165.7" cy="549.8" r="0.9"/><circle cx="1084.4" cy="515.4" r="0.7"/><circle cx="1102.4" cy="499.2" r="1.1"/><circle cx="1220.6" cy="567.1" r="0.9"/><circle cx="1047.8" cy="447.0" r="1.0"/><circle cx="1215.7" cy="635.4" r="0.8"/><circle cx="1299.5" cy="506.0" r="0.9"/><circle cx="1266.3" cy="591.8" r="0.7"/><circle cx="1064.0" cy="474.3" r="0.7"/><circle cx="1171.3" cy="630.9" r="0.6"/><circle cx="1093.4" cy="518.6" r="1.0"/><circle cx="1160.1" cy="659.0" r="0.7"/><circle cx="1287.1" cy="698.0" r="1.0"/><circle cx="1027.2" cy="605.5" r="1.0"/><circle cx="1127.6" cy="519.7" r="1.0"/><circle cx="1304.9" cy="499.4" r="0.9"/><circle cx="1048.2" cy="613.5" r="0.6"/><circle cx="1114.1" cy="524.3" r="0.9"/><circle cx="1055.6" cy="702.0" r="1.1"/><circle cx="1293.3" cy="548.7" r="0.8"/><circle cx="1260.5" cy="598.5" r="0.8"/><circle cx="1305.2" cy="529.7" r="0.9"/><circle cx="1192.7" cy="648.2" r="0.6"/><circle cx="1299.6" cy="615.7" r="0.7"/><circle cx="1284.2" cy="596.1" r="0.8"/><circle cx="1179.3" cy="575.7" r="0.8"/><circle cx="1262.4" cy="546.0" r="0.6"/><circle cx="1307.2" cy="668.5" r="0.7"/><circle cx="1084.1" cy="509.9" r="1.0"/><circle cx="1198.2" cy="555.7" r="1.0"/><circle cx="1187.6" cy="549.9" r="0.6"/><circle cx="1184.0" cy="670.3" r="0.9"/><circle cx="1032.5" cy="467.4" r="0.9"/><circle cx="1055.6" cy="501.4" r="0.9"/><circle cx="1223.9" cy="675.5" r="0.9"/><circle cx="1181.9" cy="641.5" r="1.0"/><circle cx="1059.0" cy="703.2" r="1.1"/><circle cx="1239.6" cy="503.6" r="0.9"/><circle cx="1251.5" cy="677.7" r="0.8"/><circle cx="1196.3" cy="624.7" r="0.6"/><circle cx="1306.1" cy="552.6" r="0.8"/><circle cx="1076.3" cy="654.6" r="0.7"/><circle cx="1226.3" cy="573.7" r="1.1"/><circle cx="1300.7" cy="445.3" r="1.0"/><circle cx="1027.3" cy="605.6" r="0.8"/><circle cx="1280.3" cy="576.2" r="1.1"/><circle cx="1149.2" cy="516.1" r="1.0"/><circle cx="1309.5" cy="642.6" r="0.7"/><circle cx="1140.4" cy="517.8" r="1.0"/><circle cx="1209.1" cy="618.6" r="0.8"/><circle cx="1271.1" cy="499.9" r="0.8"/><circle cx="1312.3" cy="548.7" r="0.8"/><circle cx="1050.2" cy="471.9" r="0.8"/><circle cx="1173.3" cy="468.8" r="1.0"/><circle cx="1125.5" cy="517.3" r="0.8"/><circle cx="1067.6" cy="522.2" r="0.6"/><circle cx="1186.8" cy="539.0" r="0.7"/><circle cx="1140.6" cy="531.3" r="1.1"/><circle cx="1048.5" cy="660.9" r="0.9"/><circle cx="1295.4" cy="577.7" r="1.0"/><circle cx="1305.9" cy="493.8" r="0.6"/><circle cx="1136.5" cy="498.1" r="0.9"/><circle cx="1097.5" cy="533.4" r="0.7"/><circle cx="1161.8" cy="680.6" r="0.9"/><circle cx="1307.8" cy="487.4" r="0.6"/><circle cx="1240.4" cy="516.2" r="0.9"/><circle cx="1026.9" cy="525.6" r="0.7"/><circle cx="1116.2" cy="605.5" r="1.0"/><circle cx="1217.8" cy="602.9" r="0.7"/><circle cx="1071.4" cy="631.7" r="1.0"/><circle cx="1251.4" cy="520.8" r="0.8"/><circle cx="1108.6" cy="494.1" r="1.1"/><circle cx="1298.3" cy="686.6" r="0.6"/><circle cx="1081.7" cy="653.3" r="0.7"/><circle cx="1154.2" cy="561.0" r="0.6"/><circle cx="1289.2" cy="504.6" r="0.8"/><circle cx="1174.8" cy="607.4" r="0.9"/><circle cx="1125.0" cy="551.6" r="1.0"/><circle cx="1070.9" cy="600.3" r="1.0"/><circle cx="1155.1" cy="626.4" r="1.0"/><circle cx="1204.8" cy="468.0" r="0.7"/><circle cx="1256.2" cy="622.7" r="0.9"/><circle cx="1159.0" cy="685.7" r="0.7"/><circle cx="1151.2" cy="558.9" r="0.7"/><circle cx="1045.7" cy="697.1" r="1.0"/><circle cx="1180.0" cy="648.2" r="0.7"/><circle cx="1166.6" cy="580.7" r="0.7"/><circle cx="1106.0" cy="558.0" r="0.8"/><circle cx="1219.5" cy="642.4" r="0.7"/><circle cx="1150.9" cy="702.3" r="0.9"/><circle cx="1177.7" cy="568.8" r="1.0"/><circle cx="1206.3" cy="468.8" r="0.9"/><circle cx="1211.0" cy="497.5" r="0.7"/><circle cx="1118.9" cy="555.9" r="0.8"/><circle cx="1158.5" cy="619.1" r="1.1"/><circle cx="1238.4" cy="491.5" r="0.6"/><circle cx="1116.0" cy="618.2" r="0.9"/><circle cx="1076.6" cy="642.0" r="0.9"/><circle cx="1028.6" cy="447.0" r="1.1"/><circle cx="1280.9" cy="623.5" r="0.7"/><circle cx="1304.4" cy="502.9" r="0.8"/><circle cx="1301.0" cy="710.5" r="0.8"/><circle cx="1181.4" cy="540.6" r="0.9"/><circle cx="1079.8" cy="494.5" r="0.7"/><circle cx="1294.2" cy="625.2" r="0.6"/><circle cx="1283.4" cy="461.2" r="0.9"/><circle cx="1290.8" cy="447.8" r="0.9"/><circle cx="1188.2" cy="522.3" r="0.9"/><circle cx="1071.3" cy="599.5" r="0.7"/><circle cx="1190.8" cy="454.8" r="0.9"/><circle cx="1038.9" cy="670.9" r="1.1"/><circle cx="1117.9" cy="589.8" r="0.6"/><circle cx="1275.7" cy="582.3" r="1.0"/><circle cx="1208.4" cy="460.7" r="1.1"/><circle cx="1100.4" cy="597.8" r="0.8"/><circle cx="1188.2" cy="563.5" r="1.0"/><circle cx="1206.2" cy="462.5" r="0.8"/><circle cx="1029.0" cy="673.7" r="0.9"/><circle cx="1226.7" cy="527.1" r="0.8"/><circle cx="1118.6" cy="667.6" r="1.0"/><circle cx="1207.1" cy="598.3" r="1.0"/><circle cx="1184.7" cy="702.6" r="0.9"/><circle cx="1035.2" cy="468.3" r="0.6"/><circle cx="1173.7" cy="706.9" r="1.1"/><circle cx="1092.1" cy="530.6" r="0.8"/><circle cx="1242.3" cy="532.4" r="0.7"/><circle cx="1305.3" cy="668.4" r="0.9"/><circle cx="1178.3" cy="597.0" r="1.0"/><circle cx="1181.7" cy="568.6" r="0.9"/><circle cx="1059.2" cy="571.9" r="0.8"/><circle cx="1118.2" cy="583.8" r="0.9"/><circle cx="1041.0" cy="582.1" r="0.6"/><circle cx="1177.7" cy="700.2" r="0.9"/><circle cx="1087.6" cy="542.6" r="1.0"/><circle cx="1159.7" cy="599.5" r="0.7"/><circle cx="1140.1" cy="654.8" r="0.9"/><circle cx="1226.7" cy="645.0" r="0.8"/><circle cx="1251.8" cy="624.6" r="0.7"/><circle cx="1097.4" cy="711.3" r="1.0"/><circle cx="1154.3" cy="482.9" r="0.7"/></g><path d="M1083.60,439.40 C1085.64,438.71 1101.12,438.02 1102.32,439.40 C1103.52,440.78 1098.60,451.32 1098.00,455.91 C1097.40,460.49 1095.72,487.77 1095.12,494.42 C1094.52,501.07 1091.28,529.95 1090.80,535.68 C1090.32,541.42 1089.60,560.44 1089.36,563.19 C1089.12,565.95 1088.40,570.99 1087.92,568.70 C1087.44,566.40 1083.72,541.87 1083.60,535.68 C1083.48,529.50 1086.00,500.84 1086.48,494.42 C1086.96,488.00 1092.00,460.03 1089.36,458.66 C1086.72,457.28 1059.60,474.48 1054.80,477.91 C1050.00,481.35 1034.16,498.09 1031.76,499.92 C1029.36,501.76 1026.48,500.84 1026.00,499.92 C1025.52,499.00 1024.08,491.44 1026.00,488.92 C1027.92,486.40 1044.72,473.10 1049.04,469.66 C1053.36,466.22 1074.96,450.17 1077.84,447.65 C1080.72,445.13 1081.56,440.09 1083.60,439.40 Z" fill="#ffffff" stroke="none" stroke-width="1.00" /><polygon points="1193.04,439.40 1221.84,439.40 1198.80,451.78" fill="#ffffff" /><path d="M1026.00,640.22 C1026.96,638.62 1035.12,648.25 1037.52,651.23 C1039.92,654.21 1052.16,672.09 1054.80,675.99 C1057.44,679.88 1067.28,694.78 1069.20,697.99 C1071.12,701.20 1078.80,713.12 1077.84,714.50 C1076.88,715.88 1060.08,716.10 1057.68,714.50 C1055.28,712.90 1050.96,698.45 1049.04,695.24 C1047.12,692.03 1036.56,678.05 1034.64,675.99 C1032.72,673.92 1026.72,673.46 1026.00,670.48 C1025.28,667.50 1025.04,641.83 1026.00,640.22 Z" fill="#ffffff" stroke="none" stroke-width="1.00" /><path d="M1034.64,494.42 C1040.40,496.71 1061.04,499.00 1069.20,508.17 C1077.36,517.35 1081.20,542.56 1083.60,549.44" fill="none" stroke="#f4eef8" stroke-width="1.00" stroke-linecap="round" stroke-linejoin="round"/><path d="M1089.36,563.19 C1090.80,569.16 1096.56,593.00 1098.00,598.96" fill="none" stroke="#f4eef8" stroke-width="1.00" stroke-linecap="round" stroke-linejoin="round"/><path d="M1198.80,450.40 C1198.80,462.32 1198.80,510.01 1198.80,521.93" fill="none" stroke="#f4eef8" stroke-width="1.00" stroke-linecap="round" stroke-linejoin="round"/><path d="M1227.60,535.68 C1233.36,537.06 1256.40,542.56 1262.16,543.94" fill="none" stroke="#f4eef8" stroke-width="1.00" stroke-linecap="round" stroke-linejoin="round"/></g>
<g clip-path="url(#c4)"><rect x="92.00" y="736.40" width="290.00" height="282.20" fill="#bebbdf" /><rect x="92.00" y="736.40" width="290.00" height="282.20" fill="#000" filter="url(#t5)" opacity="0.75"/><rect x="92.00" y="736.40" width="290.00" height="282.20" fill="#000" filter="url(#t5b)" opacity="0.35"/><path d="M199.30,933.94 C205.58,927.83 222.02,919.36 237.00,917.01 C251.98,914.66 278.57,916.07 289.20,919.83 C299.83,923.59 304.67,932.53 300.80,939.58 C296.93,946.64 279.05,958.40 266.00,962.16 C252.95,965.92 233.62,963.57 222.50,962.16 C211.38,960.75 203.17,958.40 199.30,953.69 C195.43,948.99 193.02,940.05 199.30,933.94 Z" fill="#dcdcee" stroke="none" stroke-width="1.00" /><g fill="#5a5aa8" opacity="0.80"><circle cx="218.9" cy="942.5" r="0.8"/><circle cx="210.4" cy="949.8" r="0.7"/><circle cx="287.2" cy="954.3" r="0.6"/><circle cx="266.9" cy="943.7" r="0.7"/><circle cx="267.0" cy="947.9" r="0.6"/><circle cx="232.1" cy="942.0" r="0.7"/><circle cx="271.4" cy="927.0" r="0.6"/><circle cx="244.4" cy="919.0" r="0.8"/><circle cx="224.4" cy="917.0" r="0.8"/><circle cx="239.0" cy="939.7" r="0.6"/><circle cx="261.1" cy="938.9" r="0.5"/><circle cx="269.7" cy="921.5" r="0.8"/><circle cx="261.0" cy="937.2" r="0.6"/><circle cx="292.0" cy="961.9" r="0.8"/><circle cx="279.6" cy="931.7" r="0.9"/><circle cx="243.4" cy="945.0" r="0.6"/><circle cx="268.9" cy="929.3" r="0.9"/><circle cx="295.1" cy="926.0" r="0.6"/><circle cx="278.3" cy="941.9" r="0.8"/><circle cx="280.7" cy="941.0" r="0.6"/><circle cx="225.1" cy="931.8" r="0.7"/><circle cx="245.0" cy="939.4" r="0.5"/><circle cx="257.5" cy="927.3" r="0.6"/><circle cx="253.4" cy="939.0" r="0.8"/><circle cx="269.8" cy="960.7" r="0.7"/><circle cx="229.6" cy="950.3" r="0.6"/><circle cx="220.1" cy="933.7" r="0.7"/><circle cx="288.0" cy="950.6" r="0.7"/><circle cx="214.0" cy="944.9" r="0.7"/><circle cx="223.5" cy="918.6" r="0.8"/><circle cx="289.4" cy="950.8" r="0.6"/><circle cx="219.9" cy="918.4" r="0.8"/><circle cx="284.9" cy="933.3" r="0.8"/><circle cx="266.2" cy="961.5" r="0.7"/><circle cx="272.9" cy="956.1" r="0.9"/><circle cx="220.1" cy="946.5" r="0.8"/><circle cx="252.9" cy="933.6" r="0.6"/><circle cx="238.3" cy="937.0" r="0.6"/><circle cx="287.8" cy="918.3" r="0.7"/><circle cx="226.7" cy="944.4" r="0.6"/><circle cx="289.0" cy="926.6" r="0.8"/><circle cx="230.8" cy="948.4" r="0.7"/><circle cx="278.8" cy="959.0" r="0.6"/><circle cx="225.4" cy="959.4" r="0.5"/><circle cx="236.2" cy="955.9" r="0.8"/><circle cx="264.5" cy="946.4" r="0.6"/><circle cx="291.9" cy="922.9" r="0.6"/><circle cx="251.4" cy="928.5" r="0.6"/><circle cx="240.0" cy="927.6" r="0.7"/><circle cx="199.4" cy="931.6" r="0.9"/><circle cx="241.0" cy="951.7" r="0.8"/><circle cx="266.0" cy="939.9" r="0.7"/><circle cx="237.0" cy="948.1" r="0.7"/><circle cx="215.1" cy="946.6" r="0.7"/><circle cx="244.4" cy="945.4" r="0.8"/><circle cx="207.7" cy="960.5" r="0.7"/><circle cx="204.0" cy="918.8" r="0.6"/><circle cx="216.4" cy="947.9" r="0.7"/><circle cx="262.6" cy="928.8" r="0.7"/><circle cx="297.0" cy="918.4" r="0.8"/><circle cx="274.5" cy="932.0" r="0.9"/><circle cx="255.1" cy="952.3" r="0.7"/><circle cx="274.2" cy="955.9" r="0.7"/><circle cx="260.4" cy="941.6" r="0.9"/><circle cx="293.6" cy="923.8" r="0.7"/><circle cx="262.1" cy="925.2" r="0.6"/><circle cx="277.8" cy="938.5" r="0.6"/><circle cx="211.8" cy="947.2" r="0.5"/><circle cx="281.9" cy="939.3" r="0.8"/><circle cx="284.1" cy="939.3" r="0.7"/><circle cx="227.5" cy="923.5" r="0.9"/><circle cx="272.5" cy="927.7" r="0.6"/><circle cx="273.2" cy="925.1" r="0.7"/><circle cx="235.3" cy="923.2" r="0.8"/><circle cx="241.9" cy="936.8" r="0.8"/><circle cx="222.7" cy="941.6" r="0.8"/><circle cx="283.5" cy="958.3" r="0.9"/><circle cx="295.9" cy="936.0" r="0.8"/><circle cx="259.6" cy="931.6" r="0.9"/><circle cx="296.5" cy="934.1" r="0.8"/><circle cx="284.3" cy="960.3" r="0.6"/><circle cx="277.6" cy="938.5" r="0.7"/><circle cx="275.7" cy="922.0" r="0.5"/><circle cx="248.1" cy="938.4" r="0.8"/><circle cx="221.9" cy="943.9" r="0.6"/><circle cx="216.2" cy="919.6" r="0.5"/><circle cx="200.9" cy="919.4" r="0.7"/><circle cx="257.7" cy="946.2" r="0.7"/><circle cx="277.3" cy="946.3" r="0.7"/><circle cx="283.1" cy="961.8" r="0.8"/></g><path d="M266.00,863.39 C267.93,856.34 277.60,830.94 283.40,823.88 C289.20,816.83 298.87,818.71 300.80,821.06 C302.73,823.41 299.83,830.47 295.00,837.99 C290.17,845.52 276.63,861.98 271.80,866.21 C266.97,870.44 264.07,870.44 266.00,863.39 Z" fill="#f4f4f8" stroke="none" stroke-width="1.00" /><path d="M292.10,742.04 C285.33,751.45 265.52,782.96 251.50,798.48 C237.48,814.00 223.47,825.76 208.00,835.17 C192.53,844.58 170.30,843.17 158.70,854.92 C147.10,866.68 144.68,887.85 138.40,905.72 C132.12,923.59 125.83,948.99 121.00,962.16 C116.17,975.33 111.33,980.97 109.40,984.74" fill="none" stroke="#f6f6fa" stroke-width="1.80" stroke-linecap="round" stroke-linejoin="round"/><path d="M179.00,1018.60 C177.55,1015.78 184.32,1005.43 187.70,1001.67 C191.08,997.91 197.85,993.20 199.30,996.02 C200.75,998.85 199.78,1014.84 196.40,1018.60 C193.02,1022.36 180.45,1021.42 179.00,1018.60 Z" fill="#f4f4f8" stroke="none" stroke-width="1.00" /></g>
<defs><clipPath id="L5"><path d="M394.00,804.03 C397.35,776.56 415.23,773.39 420.82,770.22 C426.41,767.05 435.72,768.81 438.70,778.67 C441.68,788.53 444.66,833.97 444.66,849.12 C444.66,864.27 440.19,888.57 438.70,899.84 C437.21,911.12 434.60,931.55 432.74,939.30 C430.88,947.05 426.78,956.91 423.80,961.84 C420.82,966.77 412.62,975.23 408.90,978.75 C405.17,982.27 395.86,1011.86 394.00,990.02 C392.14,968.18 390.65,831.51 394.00,804.03 Z" fill="none" stroke="none" stroke-width="1.00" /><path d="M468.50,781.49 C468.50,776.91 477.81,746.97 480.42,742.04 C483.03,737.10 489.36,737.46 489.36,742.04 C489.36,746.62 483.03,773.74 480.42,778.67 C477.81,783.60 468.50,786.07 468.50,781.49 Z" fill="none" stroke="none" stroke-width="1.00" /><path d="M459.56,820.94 C460.68,812.13 472.97,791.35 477.44,792.76 C481.91,794.17 492.34,822.35 495.32,832.21 C498.30,842.08 501.65,865.32 501.28,871.66 C500.91,878.00 496.44,883.99 492.34,882.94 C488.24,881.88 472.60,870.96 468.50,863.21 C464.40,855.46 458.44,829.75 459.56,820.94 Z" fill="none" stroke="none" stroke-width="1.00" /><path d="M501.28,742.04 C510.22,731.47 563.12,732.88 572.80,736.40 C582.48,739.92 580.62,759.65 578.76,770.22 C576.90,780.78 563.49,811.08 557.90,820.94 C552.31,830.80 539.65,844.54 534.06,849.12 C528.47,853.70 517.30,861.10 513.20,857.57 C509.10,854.05 502.77,835.38 501.28,820.94 C499.79,806.50 492.34,752.60 501.28,742.04 Z" fill="none" stroke="none" stroke-width="1.00" /><path d="M528.10,849.12 C532.57,843.84 559.39,831.51 563.86,835.03 C568.33,838.55 566.47,870.25 563.86,877.30 C561.25,884.34 547.47,891.39 543.00,891.39 C538.53,891.39 529.96,882.58 528.10,877.30 C526.24,872.02 523.63,854.40 528.10,849.12 Z" fill="none" stroke="none" stroke-width="1.00" /><path d="M599.62,736.40 C608.56,732.88 662.57,729.36 671.14,736.40 C679.71,743.44 670.02,781.49 668.16,792.76 C666.30,804.03 660.71,821.64 656.24,826.58 C651.77,831.51 638.36,834.33 632.40,832.21 C626.44,830.10 612.66,818.12 608.56,809.67 C604.46,801.21 600.74,773.74 599.62,764.58 C598.50,755.42 590.68,739.92 599.62,736.40 Z" fill="none" stroke="none" stroke-width="1.00" /><path d="M572.80,804.03 C575.41,796.99 583.98,788.89 587.70,792.76 C591.43,796.63 601.48,827.28 602.60,835.03 C603.72,842.78 600.37,851.23 596.64,854.76 C592.91,858.28 576.52,863.91 572.80,863.21 C569.07,862.51 566.84,856.52 566.84,849.12 C566.84,841.72 570.19,811.08 572.80,804.03 Z" fill="none" stroke="none" stroke-width="1.00" /><path d="M453.60,871.66 C455.84,866.38 467.01,858.98 471.48,863.21 C475.95,867.44 487.87,895.97 489.36,905.48 C490.85,914.99 487.12,934.36 483.40,939.30 C479.67,944.23 463.28,949.16 459.56,944.93 C455.84,940.71 454.35,914.64 453.60,905.48 C452.86,896.32 451.37,876.95 453.60,871.66 Z" fill="none" stroke="none" stroke-width="1.00" /><path d="M450.62,970.29 C455.09,961.49 491.97,914.29 504.26,905.48 C516.55,896.67 541.88,898.08 548.96,899.84 C556.04,901.61 561.62,913.58 560.88,919.57 C560.13,925.56 548.96,941.06 543.00,947.75 C537.04,954.44 522.51,969.59 513.20,973.11 C503.89,976.63 476.32,976.28 468.50,975.93 C460.68,975.58 446.15,979.10 450.62,970.29 Z" fill="none" stroke="none" stroke-width="1.00" /><path d="M566.84,933.66 C571.31,927.67 595.15,909.00 602.60,908.30 C610.05,907.59 620.48,923.09 626.44,928.02 C632.40,932.96 648.79,943.88 650.28,947.75 C651.77,951.62 644.32,957.26 638.36,959.02 C632.40,960.78 611.54,962.19 602.60,961.84 C593.66,961.49 571.31,959.73 566.84,956.20 C562.37,952.68 562.37,939.65 566.84,933.66 Z" fill="none" stroke="none" stroke-width="1.00" /><path d="M620.48,891.39 C624.21,886.11 653.26,867.79 662.20,863.21 C671.14,858.63 688.27,845.25 692.00,854.76 C695.73,864.27 695.73,929.43 692.00,939.30 C688.27,949.16 669.65,937.89 662.20,933.66 C654.75,929.43 637.62,910.76 632.40,905.48 C627.18,900.20 616.75,896.67 620.48,891.39 Z" fill="none" stroke="none" stroke-width="1.00" /><path d="M423.80,1018.20 C410.76,1015.73 436.84,1001.64 453.60,998.47 C470.36,995.30 543.75,991.78 557.90,992.84 C572.05,993.89 566.84,1003.76 566.84,1006.93 C566.84,1010.10 575.78,1016.79 557.90,1018.20 C540.02,1019.61 436.84,1020.67 423.80,1018.20 Z" fill="none" stroke="none" stroke-width="1.00" /><path d="M572.80,1018.20 C560.88,1015.38 587.33,999.18 596.64,995.66 C605.95,992.13 636.12,989.67 647.30,990.02 C658.47,990.37 680.45,994.95 686.04,998.47 C691.63,1002.00 706.15,1015.73 692.00,1018.20 C677.85,1020.67 584.72,1021.02 572.80,1018.20 Z" fill="none" stroke="none" stroke-width="1.00" /></clipPath></defs><g clip-path="url(#c5)"><rect x="394.00" y="736.40" width="298.00" height="281.80" fill="#ffffff" /><g fill="#7f88d0" opacity="0.80"><circle cx="583.6" cy="857.8" r="1.0"/><circle cx="519.8" cy="858.9" r="1.0"/><circle cx="522.0" cy="909.6" r="0.7"/><circle cx="526.4" cy="829.7" r="0.7"/><circle cx="561.7" cy="883.5" r="0.8"/><circle cx="508.1" cy="915.2" r="0.8"/><circle cx="555.3" cy="911.8" r="1.1"/><circle cx="543.7" cy="878.0" r="0.8"/><circle cx="526.2" cy="845.7" r="0.9"/><circle cx="498.5" cy="919.1" r="0.9"/><circle cx="485.7" cy="887.8" r="0.9"/><circle cx="563.3" cy="851.8" r="0.9"/><circle cx="509.6" cy="882.3" r="0.8"/><circle cx="565.6" cy="885.5" r="1.0"/><circle cx="599.5" cy="908.4" r="1.0"/><circle cx="509.6" cy="872.3" r="1.0"/><circle cx="545.9" cy="917.3" r="0.7"/><circle cx="534.0" cy="886.6" r="0.7"/><circle cx="496.5" cy="902.6" r="0.8"/><circle cx="524.5" cy="837.2" r="0.6"/><circle cx="529.5" cy="897.4" r="1.0"/><circle cx="494.5" cy="857.9" r="0.6"/><circle cx="596.5" cy="863.9" r="0.9"/><circle cx="488.5" cy="858.6" r="0.7"/><circle cx="530.4" cy="890.0" r="0.7"/><circle cx="522.1" cy="849.2" r="0.8"/><circle cx="485.3" cy="888.0" r="1.0"/><circle cx="602.6" cy="823.4" r="1.1"/><circle cx="498.1" cy="891.9" r="0.8"/><circle cx="528.2" cy="858.6" r="0.8"/><circle cx="504.6" cy="882.3" r="0.8"/><circle cx="582.8" cy="896.1" r="1.1"/><circle cx="597.1" cy="887.5" r="1.0"/><circle cx="589.1" cy="905.3" r="0.7"/><circle cx="590.2" cy="866.1" r="0.8"/><circle cx="541.3" cy="866.9" r="0.8"/><circle cx="558.4" cy="827.1" r="0.7"/><circle cx="586.4" cy="877.9" r="0.6"/><circle cx="556.4" cy="856.9" r="1.0"/><circle cx="511.6" cy="883.1" r="1.0"/><circle cx="581.4" cy="883.5" r="0.8"/><circle cx="596.8" cy="911.3" r="0.7"/><circle cx="526.8" cy="861.7" r="0.8"/><circle cx="554.7" cy="917.2" r="0.7"/><circle cx="551.6" cy="831.3" r="0.6"/><circle cx="496.6" cy="857.7" r="0.9"/><circle cx="488.3" cy="863.3" r="1.0"/><circle cx="510.8" cy="837.4" r="1.0"/><circle cx="517.6" cy="869.1" r="0.8"/><circle cx="541.2" cy="851.8" r="1.0"/><circle cx="486.3" cy="902.0" r="0.6"/><circle cx="532.6" cy="853.7" r="0.9"/><circle cx="586.3" cy="865.1" r="0.8"/><circle cx="571.3" cy="859.2" r="0.9"/><circle cx="541.4" cy="855.6" r="0.8"/><circle cx="484.9" cy="871.1" r="0.7"/><circle cx="575.5" cy="844.3" r="0.7"/><circle cx="518.4" cy="828.3" r="0.8"/><circle cx="576.3" cy="883.5" r="0.8"/><circle cx="552.3" cy="878.6" r="0.7"/><circle cx="492.1" cy="902.8" r="1.0"/><circle cx="507.2" cy="901.4" r="0.7"/><circle cx="556.5" cy="892.7" r="1.0"/><circle cx="582.6" cy="855.7" r="0.8"/><circle cx="590.5" cy="829.8" r="1.0"/><circle cx="600.7" cy="860.2" r="1.1"/><circle cx="553.0" cy="850.3" r="0.7"/><circle cx="508.5" cy="863.9" r="1.0"/><circle cx="490.5" cy="888.8" r="1.0"/><circle cx="592.7" cy="827.7" r="1.0"/><circle cx="596.8" cy="916.9" r="0.7"/><circle cx="546.5" cy="883.6" r="0.9"/><circle cx="524.3" cy="900.5" r="1.1"/><circle cx="484.1" cy="917.4" r="1.0"/><circle cx="527.3" cy="893.4" r="1.0"/><circle cx="512.6" cy="853.5" r="1.0"/><circle cx="493.0" cy="907.5" r="0.7"/><circle cx="589.7" cy="852.7" r="0.6"/><circle cx="488.8" cy="917.8" r="1.1"/><circle cx="537.4" cy="839.9" r="1.1"/></g><g clip-path="url(#L5)"><rect x="394.00" y="736.40" width="298.00" height="281.80" fill="#efe1d8" /><rect x="394.00" y="736.40" width="298.00" height="281.80" fill="#000" filter="url(#t6)" opacity="0.90"/><g fill="#9aa3dc" opacity="0.85"><circle cx="616.6" cy="877.1" r="1.0"/><circle cx="557.8" cy="804.5" r="1.3"/><circle cx="691.0" cy="888.2" r="0.9"/><circle cx="446.9" cy="989.8" r="1.0"/><circle cx="506.7" cy="748.8" r="1.2"/><circle cx="501.7" cy="1012.5" r="1.6"/><circle cx="428.3" cy="954.3" r="1.1"/><circle cx="554.9" cy="881.8" r="1.3"/><circle cx="560.5" cy="858.0" r="1.3"/><circle cx="511.1" cy="791.1" r="1.1"/><circle cx="399.2" cy="927.0" r="1.6"/><circle cx="686.5" cy="941.1" r="1.5"/><circle cx="613.9" cy="962.0" r="1.1"/><circle cx="543.2" cy="860.3" r="1.0"/><circle cx="669.6" cy="928.6" r="1.5"/><circle cx="584.0" cy="769.3" r="1.7"/><circle cx="417.6" cy="1001.2" r="1.1"/><circle cx="543.3" cy="991.2" r="1.2"/><circle cx="655.2" cy="1016.8" r="1.1"/><circle cx="691.3" cy="1009.3" r="1.7"/><circle cx="536.8" cy="847.0" r="1.5"/><circle cx="405.0" cy="804.3" r="1.0"/><circle cx="681.2" cy="765.1" r="1.0"/><circle cx="560.1" cy="803.5" r="1.6"/><circle cx="660.1" cy="810.9" r="1.3"/><circle cx="658.3" cy="741.3" r="1.3"/><circle cx="418.5" cy="954.7" r="1.6"/><circle cx="489.4" cy="751.4" r="1.3"/><circle cx="652.7" cy="743.7" r="1.4"/><circle cx="600.6" cy="767.8" r="1.5"/><circle cx="690.6" cy="747.4" r="1.2"/><circle cx="681.6" cy="863.4" r="1.5"/><circle cx="637.5" cy="855.4" r="1.0"/><circle cx="470.5" cy="999.0" r="1.6"/><circle cx="638.2" cy="798.1" r="1.1"/><circle cx="607.1" cy="996.1" r="1.5"/><circle cx="681.2" cy="850.7" r="1.5"/><circle cx="483.5" cy="749.9" r="1.6"/><circle cx="417.6" cy="808.5" r="1.6"/><circle cx="633.2" cy="975.5" r="1.5"/><circle cx="468.5" cy="903.1" r="1.1"/><circle cx="661.7" cy="840.4" r="1.2"/><circle cx="542.0" cy="907.1" r="1.0"/><circle cx="662.7" cy="1001.1" r="1.0"/><circle cx="604.2" cy="901.7" r="1.0"/><circle cx="527.4" cy="997.8" r="1.3"/><circle cx="637.0" cy="936.9" r="1.5"/><circle cx="675.1" cy="743.6" r="1.3"/><circle cx="455.6" cy="1000.7" r="1.4"/><circle cx="437.6" cy="1006.6" r="1.3"/><circle cx="404.5" cy="862.3" r="1.3"/><circle cx="566.0" cy="891.6" r="1.3"/><circle cx="621.3" cy="997.5" r="1.6"/><circle cx="525.9" cy="883.4" r="1.1"/><circle cx="678.1" cy="1012.6" r="1.6"/><circle cx="477.4" cy="816.0" r="1.5"/><circle cx="396.0" cy="969.6" r="1.3"/><circle cx="677.2" cy="819.6" r="1.3"/><circle cx="526.9" cy="938.6" r="1.7"/><circle cx="679.1" cy="897.6" r="1.6"/><circle cx="410.2" cy="836.8" r="1.3"/><circle cx="396.9" cy="738.6" r="1.6"/><circle cx="558.8" cy="973.0" r="1.3"/><circle cx="464.5" cy="843.8" r="1.2"/><circle cx="662.3" cy="829.2" r="1.3"/><circle cx="547.7" cy="854.3" r="1.3"/><circle cx="417.9" cy="755.9" r="1.1"/><circle cx="464.3" cy="902.8" r="1.5"/><circle cx="466.7" cy="849.0" r="1.2"/><circle cx="502.4" cy="856.1" r="1.0"/><circle cx="634.1" cy="980.9" r="1.0"/><circle cx="628.2" cy="780.9" r="1.4"/><circle cx="465.4" cy="963.0" r="1.0"/><circle cx="442.7" cy="830.8" r="1.5"/><circle cx="524.9" cy="899.9" r="0.9"/><circle cx="612.5" cy="813.7" r="1.7"/><circle cx="546.5" cy="760.9" r="1.2"/><circle cx="515.9" cy="1007.1" r="1.0"/><circle cx="487.4" cy="823.2" r="1.6"/><circle cx="618.8" cy="837.0" r="1.1"/><circle cx="685.9" cy="792.8" r="1.2"/><circle cx="487.0" cy="823.4" r="1.5"/><circle cx="650.6" cy="930.7" r="1.6"/><circle cx="664.6" cy="894.1" r="1.6"/><circle cx="493.9" cy="788.8" r="0.9"/><circle cx="646.7" cy="801.7" r="1.7"/><circle cx="422.7" cy="778.3" r="1.0"/><circle cx="549.8" cy="967.5" r="1.2"/><circle cx="685.8" cy="845.6" r="1.0"/><circle cx="396.3" cy="890.4" r="1.4"/><circle cx="559.2" cy="970.7" r="1.1"/><circle cx="481.4" cy="771.2" r="0.9"/><circle cx="489.9" cy="821.5" r="0.9"/><circle cx="675.8" cy="868.9" r="1.2"/><circle cx="675.6" cy="777.3" r="1.2"/><circle cx="425.7" cy="957.7" r="1.3"/><circle cx="475.3" cy="878.8" r="1.5"/><circle cx="675.5" cy="824.8" r="1.5"/><circle cx="651.4" cy="908.8" r="1.5"/><circle cx="530.8" cy="836.3" r="1.0"/><circle cx="608.3" cy="902.5" r="1.0"/><circle cx="496.2" cy="849.7" r="0.9"/><circle cx="642.1" cy="914.4" r="1.1"/><circle cx="437.1" cy="871.5" r="1.2"/><circle cx="657.8" cy="953.9" r="1.1"/><circle cx="399.5" cy="873.3" r="1.1"/><circle cx="691.8" cy="920.9" r="0.9"/><circle cx="493.6" cy="935.6" r="1.3"/><circle cx="468.1" cy="886.3" r="1.2"/><circle cx="533.3" cy="991.4" r="1.6"/><circle cx="502.6" cy="911.2" r="0.9"/><circle cx="420.9" cy="780.1" r="1.5"/><circle cx="577.0" cy="903.1" r="1.0"/><circle cx="499.2" cy="979.7" r="1.4"/><circle cx="638.0" cy="752.7" r="1.5"/><circle cx="613.2" cy="804.0" r="1.7"/><circle cx="503.2" cy="792.4" r="1.2"/><circle cx="550.4" cy="814.2" r="1.3"/><circle cx="492.4" cy="988.6" r="1.7"/><circle cx="654.7" cy="991.1" r="1.5"/><circle cx="441.5" cy="846.8" r="0.9"/><circle cx="429.5" cy="867.2" r="1.4"/><circle cx="663.3" cy="984.5" r="1.3"/><circle cx="536.9" cy="776.6" r="1.3"/><circle cx="479.4" cy="744.8" r="1.0"/><circle cx="518.0" cy="937.0" r="0.9"/><circle cx="681.4" cy="981.6" r="1.5"/><circle cx="520.0" cy="878.2" r="1.3"/><circle cx="522.2" cy="979.2" r="1.2"/><circle cx="513.3" cy="839.5" r="1.5"/><circle cx="471.7" cy="949.6" r="1.7"/><circle cx="571.2" cy="949.0" r="1.6"/><circle cx="423.2" cy="868.8" r="1.3"/><circle cx="482.0" cy="812.1" r="1.7"/><circle cx="637.7" cy="814.4" r="1.3"/><circle cx="691.5" cy="955.1" r="1.5"/><circle cx="561.7" cy="874.9" r="1.5"/><circle cx="633.3" cy="912.6" r="1.6"/><circle cx="511.0" cy="747.9" r="0.9"/><circle cx="422.2" cy="917.3" r="1.5"/><circle cx="554.8" cy="921.4" r="1.6"/><circle cx="567.8" cy="884.4" r="1.0"/><circle cx="645.4" cy="833.7" r="1.7"/><circle cx="415.9" cy="964.9" r="1.6"/><circle cx="590.1" cy="830.5" r="1.0"/><circle cx="415.0" cy="754.2" r="1.6"/><circle cx="567.6" cy="974.6" r="1.2"/><circle cx="596.1" cy="860.0" r="1.0"/><circle cx="671.9" cy="738.9" r="1.1"/><circle cx="416.3" cy="787.8" r="1.2"/><circle cx="614.8" cy="793.7" r="1.5"/><circle cx="502.6" cy="856.4" r="1.1"/><circle cx="523.2" cy="887.6" r="1.5"/><circle cx="691.1" cy="870.7" r="1.5"/><circle cx="487.8" cy="927.9" r="1.3"/><circle cx="496.0" cy="888.0" r="1.5"/><circle cx="674.8" cy="815.0" r="1.0"/><circle cx="488.9" cy="1017.4" r="1.3"/><circle cx="532.5" cy="870.0" r="1.0"/><circle cx="399.4" cy="803.3" r="1.6"/><circle cx="476.0" cy="977.4" r="1.0"/><circle cx="478.6" cy="1017.0" r="1.4"/><circle cx="609.7" cy="897.3" r="1.5"/><circle cx="609.0" cy="912.7" r="1.0"/><circle cx="434.5" cy="959.3" r="1.2"/><circle cx="477.1" cy="917.3" r="1.5"/><circle cx="455.9" cy="814.6" r="0.9"/><circle cx="463.7" cy="948.9" r="1.7"/><circle cx="564.9" cy="890.0" r="1.2"/><circle cx="659.5" cy="806.7" r="1.3"/><circle cx="498.4" cy="905.5" r="1.6"/><circle cx="676.0" cy="820.2" r="1.2"/><circle cx="691.1" cy="984.6" r="1.5"/><circle cx="656.8" cy="902.8" r="1.5"/><circle cx="512.6" cy="881.5" r="1.1"/><circle cx="559.6" cy="915.6" r="1.2"/><circle cx="509.5" cy="983.2" r="1.1"/><circle cx="664.2" cy="766.8" r="1.5"/><circle cx="640.0" cy="823.0" r="1.7"/><circle cx="513.6" cy="789.1" r="1.7"/><circle cx="588.6" cy="1016.1" r="1.0"/><circle cx="670.6" cy="905.5" r="1.2"/><circle cx="677.5" cy="809.6" r="1.1"/><circle cx="501.6" cy="762.6" r="1.0"/><circle cx="427.7" cy="890.6" r="1.2"/><circle cx="592.2" cy="777.5" r="1.5"/><circle cx="575.2" cy="1003.0" r="1.1"/><circle cx="503.1" cy="955.1" r="1.6"/><circle cx="578.4" cy="790.9" r="1.5"/><circle cx="646.0" cy="755.5" r="1.1"/><circle cx="455.2" cy="1014.4" r="1.6"/><circle cx="524.5" cy="993.1" r="1.1"/><circle cx="399.1" cy="961.0" r="1.5"/><circle cx="448.6" cy="961.9" r="1.1"/><circle cx="474.9" cy="896.5" r="1.2"/><circle cx="523.0" cy="922.6" r="1.3"/><circle cx="631.5" cy="892.3" r="1.3"/><circle cx="416.2" cy="882.7" r="1.0"/><circle cx="444.1" cy="1009.2" r="1.6"/><circle cx="446.0" cy="858.2" r="1.2"/><circle cx="491.2" cy="749.4" r="1.1"/><circle cx="479.4" cy="739.1" r="1.0"/><circle cx="472.4" cy="832.0" r="1.0"/><circle cx="641.5" cy="833.4" r="0.9"/><circle cx="625.1" cy="872.2" r="1.6"/><circle cx="622.2" cy="912.9" r="1.5"/><circle cx="620.4" cy="815.1" r="1.5"/><circle cx="557.0" cy="798.8" r="1.0"/><circle cx="532.4" cy="895.3" r="1.6"/><circle cx="662.8" cy="763.2" r="1.2"/><circle cx="611.8" cy="797.4" r="1.3"/><circle cx="456.0" cy="972.7" r="1.5"/><circle cx="570.9" cy="962.3" r="1.5"/><circle cx="517.9" cy="909.1" r="1.1"/><circle cx="457.7" cy="894.7" r="1.6"/><circle cx="598.8" cy="928.8" r="1.0"/><circle cx="440.2" cy="988.5" r="1.7"/><circle cx="615.9" cy="846.6" r="1.5"/><circle cx="546.8" cy="892.4" r="1.5"/><circle cx="544.3" cy="740.7" r="1.0"/><circle cx="588.3" cy="914.8" r="1.3"/><circle cx="409.3" cy="989.0" r="1.5"/><circle cx="511.3" cy="748.0" r="1.6"/><circle cx="446.3" cy="833.7" r="1.3"/><circle cx="506.4" cy="981.9" r="1.3"/><circle cx="472.5" cy="920.5" r="1.1"/><circle cx="669.3" cy="908.8" r="1.1"/><circle cx="479.4" cy="878.6" r="1.3"/><circle cx="646.4" cy="916.6" r="1.1"/><circle cx="576.2" cy="897.1" r="1.1"/><circle cx="456.7" cy="771.2" r="1.4"/><circle cx="457.8" cy="907.7" r="1.1"/><circle cx="434.5" cy="992.9" r="1.4"/><circle cx="566.8" cy="931.2" r="1.3"/><circle cx="438.2" cy="893.9" r="1.4"/><circle cx="591.3" cy="883.9" r="1.0"/><circle cx="569.2" cy="810.0" r="1.3"/><circle cx="642.6" cy="930.2" r="1.1"/><circle cx="535.9" cy="927.8" r="1.6"/><circle cx="611.7" cy="745.6" r="1.6"/><circle cx="683.4" cy="949.7" r="1.5"/><circle cx="655.9" cy="992.6" r="1.5"/><circle cx="396.0" cy="948.5" r="1.5"/><circle cx="660.1" cy="1006.6" r="1.2"/><circle cx="591.8" cy="853.8" r="1.1"/><circle cx="490.4" cy="962.4" r="1.6"/><circle cx="501.9" cy="950.8" r="1.3"/><circle cx="457.9" cy="872.2" r="1.2"/><circle cx="424.6" cy="865.8" r="1.4"/><circle cx="588.0" cy="894.2" r="1.1"/><circle cx="568.1" cy="823.4" r="1.2"/><circle cx="402.4" cy="799.6" r="1.0"/><circle cx="476.2" cy="854.0" r="0.9"/><circle cx="405.0" cy="1017.6" r="1.4"/><circle cx="425.5" cy="1011.9" r="1.7"/><circle cx="517.0" cy="853.2" r="1.0"/><circle cx="535.9" cy="959.1" r="1.3"/><circle cx="509.7" cy="770.6" r="1.2"/><circle cx="476.8" cy="943.2" r="1.2"/><circle cx="481.3" cy="785.2" r="1.3"/><circle cx="608.7" cy="750.9" r="1.6"/><circle cx="691.3" cy="875.9" r="1.0"/><circle cx="525.0" cy="832.6" r="1.6"/><circle cx="678.2" cy="874.3" r="1.0"/><circle cx="589.7" cy="761.0" r="1.2"/><circle cx="548.5" cy="836.1" r="1.1"/><circle cx="642.6" cy="775.7" r="1.0"/><circle cx="688.9" cy="1007.8" r="1.0"/><circle cx="670.8" cy="746.4" r="1.2"/><circle cx="430.4" cy="754.8" r="1.1"/><circle cx="411.7" cy="1011.3" r="1.1"/><circle cx="494.4" cy="996.8" r="1.1"/><circle cx="632.9" cy="1009.2" r="1.3"/><circle cx="433.4" cy="863.0" r="1.4"/><circle cx="476.5" cy="794.3" r="1.4"/><circle cx="575.8" cy="993.1" r="1.7"/><circle cx="472.8" cy="995.8" r="1.7"/><circle cx="567.9" cy="921.8" r="1.5"/><circle cx="406.2" cy="838.9" r="0.9"/><circle cx="482.4" cy="793.7" r="1.1"/><circle cx="405.1" cy="971.8" r="1.0"/><circle cx="488.1" cy="877.5" r="1.0"/><circle cx="573.7" cy="888.3" r="1.3"/><circle cx="438.2" cy="952.8" r="1.0"/><circle cx="570.5" cy="774.5" r="1.3"/><circle cx="641.3" cy="985.7" r="0.9"/><circle cx="463.0" cy="840.7" r="1.5"/><circle cx="543.0" cy="870.3" r="1.6"/><circle cx="418.1" cy="911.9" r="1.4"/><circle cx="428.2" cy="791.0" r="1.1"/><circle cx="623.2" cy="761.0" r="1.2"/><circle cx="658.6" cy="922.7" r="1.6"/><circle cx="532.5" cy="958.7" r="1.2"/><circle cx="452.1" cy="989.8" r="1.5"/><circle cx="685.9" cy="928.4" r="1.4"/><circle cx="688.0" cy="928.9" r="0.9"/><circle cx="404.8" cy="844.7" r="1.2"/><circle cx="408.6" cy="870.6" r="1.3"/><circle cx="650.3" cy="856.9" r="0.9"/><circle cx="557.3" cy="915.0" r="1.5"/><circle cx="639.4" cy="870.4" r="1.5"/><circle cx="429.7" cy="857.5" r="1.2"/><circle cx="688.5" cy="979.3" r="1.4"/><circle cx="571.8" cy="813.7" r="1.3"/><circle cx="464.3" cy="935.6" r="1.4"/><circle cx="518.4" cy="892.8" r="1.5"/><circle cx="422.5" cy="997.2" r="1.1"/><circle cx="545.4" cy="794.6" r="1.6"/><circle cx="417.5" cy="951.4" r="1.1"/><circle cx="395.4" cy="890.1" r="1.5"/><circle cx="550.9" cy="769.7" r="1.6"/><circle cx="522.2" cy="912.8" r="0.9"/><circle cx="671.5" cy="751.0" r="1.4"/><circle cx="458.3" cy="756.9" r="1.4"/><circle cx="403.6" cy="747.5" r="1.0"/><circle cx="481.5" cy="941.3" r="1.0"/><circle cx="529.8" cy="875.6" r="1.1"/><circle cx="502.5" cy="783.8" r="1.2"/><circle cx="664.1" cy="944.9" r="1.1"/><circle cx="486.8" cy="953.5" r="1.4"/><circle cx="612.8" cy="908.3" r="0.9"/><circle cx="632.1" cy="895.5" r="1.3"/><circle cx="655.3" cy="855.3" r="1.1"/><circle cx="546.9" cy="860.2" r="1.2"/><circle cx="576.2" cy="755.4" r="1.4"/><circle cx="487.5" cy="856.5" r="1.5"/><circle cx="415.5" cy="790.7" r="1.4"/><circle cx="454.6" cy="774.9" r="1.4"/><circle cx="582.1" cy="834.5" r="1.6"/><circle cx="530.7" cy="999.0" r="1.5"/><circle cx="645.7" cy="872.3" r="1.3"/><circle cx="395.0" cy="745.7" r="1.1"/><circle cx="477.3" cy="807.6" r="1.2"/><circle cx="567.5" cy="919.1" r="1.3"/><circle cx="570.2" cy="784.5" r="1.2"/><circle cx="481.2" cy="1010.5" r="1.6"/><circle cx="573.7" cy="841.5" r="1.2"/><circle cx="579.1" cy="834.9" r="1.4"/><circle cx="582.5" cy="839.2" r="1.5"/><circle cx="645.0" cy="873.8" r="1.3"/><circle cx="573.4" cy="868.1" r="1.6"/><circle cx="599.2" cy="834.0" r="0.9"/><circle cx="656.4" cy="771.9" r="1.6"/><circle cx="591.3" cy="866.6" r="1.4"/><circle cx="563.3" cy="990.2" r="1.6"/><circle cx="526.5" cy="843.9" r="1.3"/><circle cx="555.5" cy="1012.2" r="1.1"/><circle cx="536.2" cy="968.3" r="1.1"/><circle cx="482.8" cy="941.3" r="0.9"/><circle cx="488.7" cy="803.9" r="1.5"/><circle cx="578.2" cy="938.3" r="1.2"/><circle cx="627.8" cy="977.2" r="1.2"/><circle cx="485.5" cy="1004.0" r="1.4"/><circle cx="473.7" cy="988.9" r="0.9"/><circle cx="609.6" cy="869.1" r="1.7"/><circle cx="525.3" cy="960.6" r="1.6"/><circle cx="681.9" cy="949.4" r="1.1"/><circle cx="672.9" cy="810.0" r="1.5"/><circle cx="556.4" cy="1014.5" r="1.6"/><circle cx="554.8" cy="881.8" r="1.5"/><circle cx="538.9" cy="848.8" r="1.1"/><circle cx="440.1" cy="794.7" r="1.4"/><circle cx="557.8" cy="960.5" r="1.5"/><circle cx="581.2" cy="782.4" r="1.2"/><circle cx="488.2" cy="846.1" r="1.3"/><circle cx="494.6" cy="795.0" r="1.4"/><circle cx="409.0" cy="792.4" r="1.2"/><circle cx="516.9" cy="885.5" r="1.0"/><circle cx="454.6" cy="805.7" r="1.6"/><circle cx="464.7" cy="821.2" r="1.5"/><circle cx="430.5" cy="973.4" r="1.3"/><circle cx="506.4" cy="740.0" r="1.6"/><circle cx="600.8" cy="767.3" r="1.4"/><circle cx="518.6" cy="959.9" r="1.1"/><circle cx="550.5" cy="904.1" r="1.0"/><circle cx="509.3" cy="885.1" r="1.0"/><circle cx="572.1" cy="843.3" r="1.0"/><circle cx="596.0" cy="739.6" r="1.4"/><circle cx="425.0" cy="896.6" r="1.2"/><circle cx="601.1" cy="742.9" r="1.5"/><circle cx="526.0" cy="822.4" r="1.0"/><circle cx="591.7" cy="912.8" r="1.5"/><circle cx="467.0" cy="852.9" r="0.9"/><circle cx="544.0" cy="816.3" r="1.4"/><circle cx="562.6" cy="967.5" r="1.1"/><circle cx="546.2" cy="948.3" r="1.5"/><circle cx="612.8" cy="805.8" r="1.4"/><circle cx="641.6" cy="984.5" r="1.5"/><circle cx="626.6" cy="806.1" r="1.2"/><circle cx="626.9" cy="1007.7" r="1.6"/><circle cx="594.6" cy="905.6" r="1.1"/><circle cx="516.2" cy="850.8" r="1.0"/><circle cx="548.7" cy="919.2" r="1.1"/><circle cx="589.0" cy="979.4" r="1.4"/><circle cx="426.7" cy="905.6" r="0.9"/><circle cx="605.0" cy="780.1" r="1.2"/><circle cx="448.0" cy="818.9" r="1.6"/><circle cx="488.1" cy="817.4" r="0.9"/><circle cx="477.7" cy="787.2" r="1.7"/><circle cx="534.3" cy="929.4" r="1.4"/><circle cx="562.5" cy="831.8" r="1.1"/><circle cx="497.3" cy="871.1" r="1.2"/><circle cx="394.4" cy="790.5" r="1.6"/><circle cx="501.4" cy="871.4" r="1.0"/><circle cx="439.9" cy="801.4" r="1.4"/><circle cx="561.1" cy="904.9" r="1.6"/><circle cx="441.6" cy="855.8" r="1.2"/><circle cx="429.7" cy="902.9" r="1.1"/><circle cx="514.5" cy="937.0" r="1.4"/><circle cx="681.8" cy="810.7" r="1.3"/><circle cx="512.7" cy="901.9" r="1.3"/><circle cx="408.6" cy="820.7" r="1.6"/><circle cx="605.2" cy="759.5" r="1.2"/><circle cx="643.7" cy="973.8" r="1.5"/><circle cx="649.8" cy="978.5" r="1.0"/><circle cx="675.3" cy="906.9" r="0.9"/><circle cx="620.2" cy="780.0" r="1.0"/><circle cx="574.9" cy="761.3" r="1.0"/><circle cx="528.3" cy="813.7" r="1.6"/><circle cx="652.5" cy="915.9" r="1.7"/><circle cx="506.4" cy="827.3" r="1.7"/><circle cx="648.5" cy="798.4" r="1.7"/><circle cx="553.3" cy="748.6" r="1.1"/><circle cx="530.9" cy="871.2" r="1.2"/><circle cx="585.4" cy="872.5" r="1.0"/><circle cx="610.0" cy="863.8" r="0.9"/><circle cx="543.0" cy="922.0" r="1.1"/><circle cx="641.5" cy="960.2" r="1.1"/><circle cx="430.0" cy="839.2" r="1.0"/><circle cx="499.8" cy="741.4" r="0.9"/><circle cx="606.9" cy="894.8" r="1.5"/><circle cx="587.6" cy="926.6" r="1.3"/><circle cx="439.3" cy="784.8" r="1.6"/><circle cx="676.9" cy="843.6" r="0.9"/><circle cx="458.7" cy="861.2" r="1.4"/><circle cx="593.1" cy="755.4" r="1.5"/><circle cx="465.7" cy="750.2" r="1.1"/><circle cx="414.9" cy="736.6" r="1.1"/><circle cx="675.8" cy="897.9" r="0.9"/><circle cx="482.6" cy="830.4" r="1.2"/><circle cx="621.2" cy="994.0" r="1.2"/><circle cx="566.0" cy="787.3" r="1.3"/><circle cx="686.5" cy="772.6" r="1.1"/><circle cx="468.4" cy="748.6" r="1.6"/><circle cx="669.4" cy="933.3" r="1.4"/><circle cx="424.8" cy="951.0" r="1.4"/><circle cx="581.7" cy="759.9" r="1.2"/><circle cx="519.4" cy="924.1" r="1.2"/><circle cx="567.5" cy="906.9" r="1.6"/><circle cx="429.8" cy="953.7" r="1.7"/><circle cx="671.2" cy="857.0" r="1.3"/><circle cx="501.2" cy="786.4" r="1.1"/><circle cx="622.1" cy="820.6" r="1.5"/><circle cx="633.4" cy="923.0" r="1.3"/><circle cx="579.7" cy="908.4" r="1.7"/><circle cx="414.8" cy="777.7" r="1.2"/><circle cx="655.1" cy="869.7" r="1.6"/><circle cx="627.1" cy="920.5" r="1.7"/><circle cx="427.0" cy="969.5" r="1.3"/><circle cx="475.2" cy="943.0" r="0.9"/><circle cx="559.3" cy="975.3" r="1.2"/><circle cx="439.6" cy="750.2" r="1.6"/><circle cx="430.7" cy="794.0" r="1.4"/><circle cx="618.2" cy="928.8" r="1.3"/><circle cx="595.3" cy="837.9" r="1.3"/><circle cx="671.0" cy="842.1" r="1.3"/><circle cx="413.2" cy="916.5" r="1.2"/><circle cx="549.6" cy="915.8" r="1.2"/><circle cx="557.5" cy="863.3" r="1.0"/><circle cx="509.4" cy="764.0" r="1.6"/><circle cx="609.6" cy="944.7" r="1.0"/><circle cx="584.5" cy="884.3" r="1.4"/><circle cx="549.4" cy="973.0" r="1.0"/><circle cx="408.4" cy="888.2" r="1.5"/><circle cx="646.7" cy="885.4" r="1.2"/><circle cx="688.3" cy="944.9" r="1.3"/><circle cx="404.5" cy="854.0" r="1.6"/><circle cx="467.7" cy="933.5" r="1.2"/><circle cx="577.0" cy="958.4" r="1.4"/><circle cx="683.0" cy="745.1" r="1.1"/><circle cx="428.3" cy="933.8" r="1.1"/><circle cx="663.1" cy="849.1" r="1.4"/><circle cx="517.8" cy="1017.1" r="1.2"/><circle cx="461.0" cy="1009.4" r="0.9"/><circle cx="473.7" cy="805.0" r="1.2"/><circle cx="443.7" cy="881.2" r="1.5"/><circle cx="464.9" cy="756.6" r="1.6"/><circle cx="674.0" cy="936.8" r="0.9"/><circle cx="546.4" cy="929.1" r="1.5"/><circle cx="434.0" cy="789.0" r="1.4"/><circle cx="615.2" cy="832.1" r="1.4"/><circle cx="596.3" cy="880.2" r="1.7"/><circle cx="635.1" cy="896.9" r="1.1"/><circle cx="422.6" cy="878.7" r="1.7"/><circle cx="515.8" cy="935.2" r="1.5"/><circle cx="578.9" cy="786.0" r="1.6"/><circle cx="667.1" cy="847.6" r="1.2"/><circle cx="467.8" cy="924.8" r="1.3"/><circle cx="653.2" cy="1016.5" r="1.1"/><circle cx="451.5" cy="935.8" r="1.1"/><circle cx="406.6" cy="966.4" r="0.9"/><circle cx="534.1" cy="989.4" r="1.4"/><circle cx="546.7" cy="761.2" r="1.7"/><circle cx="496.7" cy="956.6" r="1.6"/><circle cx="505.8" cy="790.2" r="1.0"/><circle cx="403.9" cy="736.8" r="0.9"/><circle cx="613.9" cy="962.8" r="1.2"/><circle cx="448.3" cy="880.3" r="0.9"/><circle cx="490.6" cy="828.3" r="1.2"/><circle cx="639.9" cy="829.8" r="1.0"/><circle cx="495.6" cy="870.0" r="1.3"/><circle cx="421.3" cy="755.1" r="1.3"/><circle cx="612.4" cy="855.6" r="0.9"/><circle cx="671.0" cy="777.7" r="1.0"/><circle cx="610.1" cy="759.0" r="1.0"/><circle cx="541.4" cy="988.7" r="1.0"/><circle cx="396.0" cy="781.0" r="1.3"/><circle cx="686.4" cy="836.3" r="1.4"/><circle cx="531.8" cy="994.6" r="1.2"/><circle cx="442.4" cy="786.2" r="1.2"/><circle cx="417.9" cy="987.4" r="1.6"/><circle cx="401.5" cy="873.0" r="1.1"/><circle cx="445.1" cy="812.0" r="1.4"/><circle cx="569.4" cy="816.9" r="1.1"/><circle cx="675.9" cy="958.1" r="1.1"/><circle cx="482.8" cy="825.9" r="1.4"/><circle cx="450.5" cy="963.8" r="1.2"/><circle cx="686.8" cy="748.4" r="1.4"/><circle cx="478.4" cy="938.5" r="1.4"/><circle cx="667.4" cy="851.7" r="1.3"/><circle cx="579.4" cy="761.5" r="1.6"/><circle cx="584.1" cy="988.5" r="1.6"/><circle cx="642.3" cy="764.7" r="0.9"/><circle cx="617.7" cy="862.8" r="1.7"/><circle cx="506.5" cy="833.2" r="1.3"/><circle cx="604.3" cy="847.4" r="1.1"/><circle cx="459.4" cy="751.7" r="1.5"/><circle cx="440.0" cy="743.3" r="1.4"/><circle cx="606.4" cy="997.3" r="1.0"/><circle cx="430.2" cy="926.6" r="1.7"/><circle cx="475.1" cy="833.1" r="1.6"/><circle cx="624.0" cy="758.3" r="1.4"/><circle cx="450.8" cy="887.3" r="1.2"/><circle cx="595.0" cy="965.6" r="1.1"/><circle cx="460.7" cy="860.3" r="1.4"/><circle cx="610.1" cy="895.6" r="1.0"/><circle cx="527.0" cy="892.0" r="1.2"/><circle cx="430.7" cy="976.5" r="1.3"/><circle cx="432.2" cy="1005.2" r="1.5"/><circle cx="423.5" cy="805.7" r="1.1"/><circle cx="419.6" cy="877.7" r="1.5"/><circle cx="527.2" cy="779.0" r="1.1"/><circle cx="492.5" cy="890.2" r="1.4"/><circle cx="636.6" cy="815.3" r="1.3"/><circle cx="486.6" cy="944.5" r="1.7"/><circle cx="419.2" cy="999.4" r="1.0"/><circle cx="512.8" cy="987.5" r="1.6"/><circle cx="463.2" cy="773.1" r="1.7"/><circle cx="510.2" cy="956.1" r="1.6"/><circle cx="468.9" cy="771.7" r="1.5"/><circle cx="689.8" cy="1010.8" r="1.5"/><circle cx="522.2" cy="758.0" r="1.6"/><circle cx="689.0" cy="856.1" r="1.3"/><circle cx="643.3" cy="766.2" r="1.4"/><circle cx="591.8" cy="776.7" r="1.3"/><circle cx="519.6" cy="887.8" r="1.4"/><circle cx="647.5" cy="800.3" r="1.4"/><circle cx="556.2" cy="922.9" r="1.3"/><circle cx="526.8" cy="881.6" r="1.0"/><circle cx="566.6" cy="889.3" r="1.3"/><circle cx="473.7" cy="768.4" r="1.2"/><circle cx="609.8" cy="890.4" r="1.1"/><circle cx="508.0" cy="986.9" r="1.6"/><circle cx="455.2" cy="915.2" r="1.4"/><circle cx="640.3" cy="896.8" r="1.6"/><circle cx="520.7" cy="895.1" r="1.4"/><circle cx="555.6" cy="974.2" r="1.4"/><circle cx="658.1" cy="970.8" r="1.1"/><circle cx="673.8" cy="833.4" r="1.3"/><circle cx="595.0" cy="1003.5" r="1.2"/><circle cx="550.4" cy="971.2" r="1.6"/><circle cx="554.7" cy="747.3" r="1.1"/><circle cx="491.7" cy="940.9" r="1.2"/><circle cx="527.8" cy="880.2" r="1.3"/><circle cx="520.7" cy="758.8" r="1.0"/><circle cx="666.7" cy="754.8" r="1.3"/><circle cx="455.6" cy="763.0" r="1.6"/><circle cx="551.3" cy="917.4" r="1.7"/><circle cx="558.6" cy="739.6" r="1.3"/><circle cx="595.7" cy="780.8" r="1.5"/><circle cx="531.2" cy="837.5" r="1.0"/><circle cx="500.8" cy="899.6" r="1.1"/><circle cx="463.8" cy="951.7" r="1.4"/><circle cx="503.5" cy="994.6" r="1.4"/><circle cx="523.7" cy="894.7" r="1.6"/><circle cx="451.6" cy="845.5" r="1.2"/><circle cx="530.9" cy="974.3" r="1.3"/><circle cx="635.8" cy="885.6" r="1.6"/><circle cx="519.1" cy="873.2" r="1.2"/><circle cx="525.9" cy="866.1" r="1.0"/><circle cx="584.1" cy="1018.0" r="1.5"/><circle cx="665.4" cy="751.1" r="1.7"/><circle cx="488.9" cy="976.6" r="1.5"/><circle cx="430.6" cy="882.7" r="1.3"/><circle cx="493.0" cy="915.0" r="1.6"/><circle cx="423.6" cy="744.2" r="1.2"/><circle cx="676.4" cy="892.1" r="0.9"/><circle cx="614.2" cy="1015.2" r="1.6"/><circle cx="529.4" cy="1014.2" r="1.7"/><circle cx="691.5" cy="926.6" r="1.3"/><circle cx="663.6" cy="933.4" r="1.5"/><circle cx="686.7" cy="921.5" r="1.7"/><circle cx="487.9" cy="812.0" r="1.4"/><circle cx="479.4" cy="954.0" r="1.1"/><circle cx="531.1" cy="752.6" r="1.2"/><circle cx="400.3" cy="885.2" r="1.1"/><circle cx="583.0" cy="816.8" r="1.2"/><circle cx="673.8" cy="813.0" r="1.3"/><circle cx="630.9" cy="774.2" r="1.2"/><circle cx="408.2" cy="996.8" r="1.0"/><circle cx="449.4" cy="869.6" r="1.2"/><circle cx="496.8" cy="917.3" r="1.1"/><circle cx="576.3" cy="900.7" r="1.6"/><circle cx="468.6" cy="768.6" r="1.5"/><circle cx="437.1" cy="952.2" r="1.1"/><circle cx="446.8" cy="1012.1" r="1.6"/><circle cx="473.3" cy="836.4" r="1.4"/><circle cx="482.0" cy="756.3" r="1.6"/><circle cx="604.3" cy="1015.0" r="1.2"/><circle cx="579.7" cy="806.5" r="1.2"/><circle cx="539.0" cy="884.3" r="0.9"/><circle cx="636.3" cy="966.7" r="1.4"/><circle cx="502.0" cy="748.1" r="1.5"/><circle cx="641.7" cy="761.7" r="1.6"/><circle cx="407.3" cy="1011.7" r="1.0"/><circle cx="413.9" cy="830.5" r="1.1"/><circle cx="630.0" cy="973.5" r="1.4"/><circle cx="535.7" cy="840.7" r="1.6"/><circle cx="683.9" cy="929.9" r="1.5"/><circle cx="649.1" cy="797.4" r="1.1"/><circle cx="522.1" cy="970.2" r="1.5"/><circle cx="630.5" cy="968.6" r="1.2"/><circle cx="488.8" cy="794.2" r="1.6"/><circle cx="684.4" cy="916.0" r="1.4"/><circle cx="522.0" cy="807.0" r="1.3"/><circle cx="635.4" cy="798.0" r="1.3"/><circle cx="507.0" cy="943.0" r="1.4"/><circle cx="481.9" cy="987.2" r="1.1"/><circle cx="505.5" cy="793.6" r="0.9"/><circle cx="487.8" cy="790.9" r="1.0"/></g></g></g>
<defs><clipPath id="L6"><path d="M704.00,764.67 C705.93,760.09 711.71,756.92 719.42,756.22 C727.14,755.51 756.83,756.22 765.70,759.04 C774.57,761.85 785.37,772.77 790.38,778.75 C795.39,784.74 803.49,800.59 805.81,806.92 C808.12,813.26 810.05,825.94 808.89,829.46 C807.73,832.98 801.18,836.15 796.55,835.10 C791.92,834.04 779.58,825.59 771.87,821.01 C764.16,816.43 743.33,802.00 734.85,798.47 C726.37,794.95 707.86,797.07 704.00,792.84 C700.14,788.61 702.07,769.25 704.00,764.67 Z" fill="none" stroke="none" stroke-width="1.00" /><path d="M704.00,821.01 C705.93,815.73 714.80,819.25 719.42,821.01 C724.05,822.77 736.39,832.28 741.02,835.10 C745.65,837.91 755.29,841.08 756.45,843.55 C757.60,846.01 754.90,853.05 750.27,854.81 C745.65,856.57 725.21,856.57 719.42,857.63 C713.64,858.69 705.93,867.84 704.00,863.26 C702.07,858.69 702.07,826.29 704.00,821.01 Z" fill="none" stroke="none" stroke-width="1.00" /><path d="M805.81,764.67 C807.73,761.85 818.92,766.08 827.40,770.30 C835.88,774.53 864.03,793.90 873.67,798.47 C883.32,803.05 898.74,804.11 904.52,806.92 C910.31,809.74 918.02,815.73 919.95,821.01 C921.88,826.29 921.88,842.14 919.95,849.18 C918.02,856.22 909.15,875.59 904.52,877.35 C899.90,879.11 890.64,870.31 882.93,863.26 C875.22,856.22 851.69,829.81 842.83,821.01 C833.96,812.21 816.60,799.88 811.98,792.84 C807.35,785.80 803.88,767.49 805.81,764.67 Z" fill="none" stroke="none" stroke-width="1.00" /><path d="M787.29,739.32 C795.01,738.26 850.15,736.85 858.25,739.32 C866.35,741.78 855.94,756.57 852.08,759.04 C848.22,761.50 834.34,760.44 827.40,759.04 C820.46,757.63 801.56,750.23 796.55,747.77 C791.54,745.30 779.58,740.37 787.29,739.32 Z" fill="none" stroke="none" stroke-width="1.00" /><path d="M858.25,750.59 C862.11,747.42 875.60,740.73 889.10,739.32 C902.60,737.91 956.58,736.15 966.22,739.32 C975.87,742.49 962.37,757.98 966.22,764.67 C970.08,771.36 993.99,787.56 997.08,792.84 C1000.16,798.12 996.69,805.16 990.90,806.92 C985.12,808.69 959.67,808.69 950.80,806.92 C941.93,805.16 927.66,796.36 919.95,792.84 C912.24,789.32 896.81,782.28 889.10,778.75 C881.39,775.23 862.11,768.19 858.25,764.67 C854.39,761.15 854.39,753.75 858.25,750.59 Z" fill="none" stroke="none" stroke-width="1.00" /><path d="M981.65,750.59 C985.51,748.47 1008.64,740.37 1012.50,742.13 C1016.36,743.89 1016.36,762.56 1012.50,764.67 C1008.64,766.78 985.51,760.80 981.65,759.04 C977.79,757.28 977.79,752.70 981.65,750.59 Z" fill="none" stroke="none" stroke-width="1.00" /><path d="M818.14,877.35 C820.07,873.12 826.63,859.74 833.57,860.45 C840.51,861.15 866.73,877.35 873.67,882.98 C880.62,888.62 884.86,900.24 889.10,905.52 C893.34,910.80 906.84,922.42 907.61,925.24 C908.38,928.06 901.44,928.76 895.27,928.06 C889.10,927.35 866.73,921.72 858.25,919.61 C849.77,917.49 832.41,914.32 827.40,911.15 C822.39,907.98 819.30,898.48 818.14,894.25 C816.99,890.03 816.22,881.58 818.14,877.35 Z" fill="none" stroke="none" stroke-width="1.00" /><path d="M904.52,899.89 C910.31,896.36 941.93,875.94 950.80,877.35 C959.67,878.76 968.92,902.35 975.48,911.15 C982.04,919.96 1000.16,941.44 1003.25,947.78 C1006.33,954.11 1004.79,960.80 1000.16,961.86 C995.53,962.92 974.32,959.75 966.22,956.23 C958.13,952.70 943.09,940.03 935.38,933.69 C927.66,927.35 908.38,909.75 904.52,905.52 C900.67,901.29 898.74,903.41 904.52,899.89 Z" fill="none" stroke="none" stroke-width="1.00" /><path d="M981.65,854.81 C984.74,847.77 1008.64,825.94 1012.50,835.10 C1016.36,844.25 1014.43,917.49 1012.50,928.06 C1010.57,938.62 1000.16,924.18 997.08,919.61 C993.99,915.03 989.75,899.53 987.82,891.44 C985.89,883.34 978.57,861.86 981.65,854.81 Z" fill="none" stroke="none" stroke-width="1.00" /><path d="M704.00,919.61 C711.71,910.80 752.20,918.55 765.70,919.61 C779.20,920.66 800.41,925.59 811.98,928.06 C823.54,930.52 848.61,937.21 858.25,939.32 C867.89,941.44 877.53,941.44 889.10,944.96 C900.67,948.48 935.38,961.86 950.80,967.49 C966.22,973.13 1004.79,984.75 1012.50,990.03 C1020.21,995.31 1020.21,1007.28 1012.50,1009.75 C1004.79,1012.21 970.08,1009.40 950.80,1009.75 C931.52,1010.10 881.39,1011.51 858.25,1012.57 C835.11,1013.62 779.20,1020.31 765.70,1018.20 C752.20,1016.09 756.06,999.19 750.27,995.66 C744.49,992.14 725.21,990.73 719.42,990.03 C713.64,989.33 705.93,998.83 704.00,990.03 C702.07,981.23 696.29,928.41 704.00,919.61 Z" fill="none" stroke="none" stroke-width="1.00" /></clipPath></defs><g clip-path="url(#c6)"><rect x="704.00" y="736.50" width="308.50" height="281.70" fill="#ffffff" /><g clip-path="url(#L6)"><rect x="704.00" y="736.50" width="308.50" height="281.70" fill="#efe1d8" /><rect x="704.00" y="736.50" width="308.50" height="281.70" fill="#000" filter="url(#t6)" opacity="0.90"/><g fill="#9aa3dc" opacity="0.85"><circle cx="940.1" cy="959.9" r="1.0"/><circle cx="979.5" cy="971.0" r="1.6"/><circle cx="922.4" cy="1009.2" r="1.6"/><circle cx="982.2" cy="854.3" r="1.0"/><circle cx="1010.0" cy="945.5" r="1.7"/><circle cx="957.9" cy="1012.7" r="1.5"/><circle cx="728.4" cy="946.0" r="1.2"/><circle cx="959.4" cy="759.1" r="1.4"/><circle cx="777.1" cy="759.4" r="1.4"/><circle cx="975.0" cy="768.9" r="1.3"/><circle cx="871.0" cy="909.7" r="1.6"/><circle cx="734.5" cy="867.7" r="1.0"/><circle cx="941.4" cy="945.6" r="1.4"/><circle cx="755.2" cy="866.4" r="1.4"/><circle cx="804.7" cy="856.9" r="1.0"/><circle cx="901.9" cy="887.5" r="1.6"/><circle cx="841.7" cy="921.1" r="1.2"/><circle cx="797.6" cy="961.1" r="1.1"/><circle cx="823.0" cy="910.3" r="1.6"/><circle cx="936.9" cy="961.6" r="1.6"/><circle cx="840.6" cy="797.7" r="1.3"/><circle cx="863.8" cy="1004.9" r="1.5"/><circle cx="849.3" cy="934.8" r="1.4"/><circle cx="914.9" cy="947.6" r="1.0"/><circle cx="710.2" cy="854.4" r="1.5"/><circle cx="865.5" cy="1007.7" r="1.1"/><circle cx="775.5" cy="918.1" r="1.1"/><circle cx="938.3" cy="844.3" r="1.3"/><circle cx="919.3" cy="901.4" r="1.1"/><circle cx="715.2" cy="943.0" r="1.0"/><circle cx="735.5" cy="757.2" r="1.6"/><circle cx="771.4" cy="953.6" r="1.0"/><circle cx="997.2" cy="802.2" r="1.0"/><circle cx="842.9" cy="767.2" r="1.3"/><circle cx="926.3" cy="757.2" r="1.1"/><circle cx="773.8" cy="785.6" r="1.1"/><circle cx="975.1" cy="995.4" r="1.0"/><circle cx="860.8" cy="852.7" r="1.2"/><circle cx="712.3" cy="975.3" r="1.1"/><circle cx="773.4" cy="985.9" r="1.2"/><circle cx="800.7" cy="932.1" r="1.2"/><circle cx="954.1" cy="738.5" r="0.9"/><circle cx="951.8" cy="961.0" r="1.6"/><circle cx="822.4" cy="929.3" r="1.6"/><circle cx="885.2" cy="885.2" r="0.9"/><circle cx="847.9" cy="1018.0" r="1.1"/><circle cx="933.0" cy="954.8" r="1.0"/><circle cx="946.8" cy="844.6" r="1.7"/><circle cx="983.7" cy="1012.1" r="1.7"/><circle cx="1002.2" cy="803.4" r="1.5"/><circle cx="905.2" cy="802.6" r="1.1"/><circle cx="925.4" cy="925.1" r="1.0"/><circle cx="891.0" cy="949.6" r="1.5"/><circle cx="788.5" cy="951.8" r="1.7"/><circle cx="989.1" cy="988.7" r="1.4"/><circle cx="863.6" cy="926.3" r="1.4"/><circle cx="965.6" cy="843.1" r="1.0"/><circle cx="827.5" cy="809.0" r="1.1"/><circle cx="925.5" cy="854.7" r="1.0"/><circle cx="878.6" cy="1008.4" r="1.2"/><circle cx="1008.0" cy="928.0" r="1.3"/><circle cx="753.5" cy="890.8" r="1.1"/><circle cx="869.3" cy="906.4" r="0.9"/><circle cx="787.6" cy="849.8" r="1.3"/><circle cx="753.9" cy="777.7" r="1.0"/><circle cx="750.6" cy="915.3" r="1.7"/><circle cx="920.5" cy="785.3" r="0.9"/><circle cx="741.7" cy="944.6" r="1.4"/><circle cx="868.3" cy="1000.2" r="1.4"/><circle cx="801.2" cy="910.9" r="1.6"/><circle cx="778.1" cy="1008.6" r="1.3"/><circle cx="782.2" cy="858.6" r="1.0"/><circle cx="994.8" cy="771.5" r="1.4"/><circle cx="898.1" cy="833.0" r="1.6"/><circle cx="892.3" cy="771.1" r="1.0"/><circle cx="771.7" cy="963.5" r="1.6"/><circle cx="816.0" cy="860.7" r="1.0"/><circle cx="759.0" cy="928.9" r="1.3"/><circle cx="733.9" cy="750.4" r="1.6"/><circle cx="710.6" cy="932.1" r="1.1"/><circle cx="979.6" cy="759.4" r="1.3"/><circle cx="907.1" cy="830.8" r="1.4"/><circle cx="729.2" cy="981.5" r="1.0"/><circle cx="769.6" cy="861.0" r="1.3"/><circle cx="725.3" cy="908.3" r="1.5"/><circle cx="1004.4" cy="814.0" r="1.6"/><circle cx="987.5" cy="994.3" r="1.7"/><circle cx="744.7" cy="928.8" r="1.0"/><circle cx="967.3" cy="907.6" r="1.5"/><circle cx="847.5" cy="922.3" r="1.4"/><circle cx="912.2" cy="898.6" r="1.5"/><circle cx="860.4" cy="788.9" r="1.1"/><circle cx="840.1" cy="1000.4" r="1.2"/><circle cx="765.7" cy="785.1" r="1.1"/><circle cx="708.1" cy="752.5" r="1.0"/><circle cx="910.4" cy="1013.3" r="1.3"/><circle cx="983.6" cy="769.6" r="1.2"/><circle cx="915.0" cy="855.7" r="1.5"/><circle cx="837.8" cy="919.3" r="1.1"/><circle cx="752.5" cy="947.6" r="1.6"/><circle cx="906.2" cy="888.5" r="0.9"/><circle cx="967.1" cy="980.8" r="1.3"/><circle cx="725.4" cy="944.5" r="1.1"/><circle cx="893.8" cy="872.1" r="1.6"/><circle cx="754.4" cy="785.0" r="1.3"/><circle cx="810.5" cy="841.6" r="0.9"/><circle cx="960.3" cy="765.9" r="1.7"/><circle cx="1004.1" cy="863.4" r="1.4"/><circle cx="878.6" cy="949.8" r="1.6"/><circle cx="750.6" cy="900.0" r="1.4"/><circle cx="849.3" cy="878.5" r="1.6"/><circle cx="983.8" cy="852.6" r="1.4"/><circle cx="755.3" cy="859.3" r="1.6"/><circle cx="997.5" cy="862.8" r="1.4"/><circle cx="916.5" cy="760.4" r="1.3"/><circle cx="791.0" cy="901.6" r="1.1"/><circle cx="872.1" cy="855.4" r="1.5"/><circle cx="843.1" cy="923.9" r="1.2"/><circle cx="736.0" cy="998.6" r="1.5"/><circle cx="1012.1" cy="898.6" r="1.3"/><circle cx="901.1" cy="946.6" r="1.2"/><circle cx="927.7" cy="854.0" r="0.9"/><circle cx="797.9" cy="910.8" r="1.3"/><circle cx="910.4" cy="796.6" r="1.0"/><circle cx="976.5" cy="942.9" r="1.1"/><circle cx="887.7" cy="1005.7" r="1.5"/><circle cx="786.6" cy="889.3" r="1.2"/><circle cx="882.7" cy="981.5" r="1.3"/><circle cx="964.7" cy="914.8" r="1.4"/><circle cx="807.9" cy="774.4" r="1.4"/><circle cx="773.6" cy="873.9" r="1.5"/><circle cx="851.8" cy="816.9" r="1.3"/><circle cx="1002.5" cy="999.2" r="1.1"/><circle cx="741.3" cy="999.9" r="1.3"/><circle cx="802.3" cy="805.1" r="1.1"/><circle cx="953.6" cy="953.3" r="1.0"/><circle cx="719.3" cy="880.7" r="1.2"/><circle cx="933.1" cy="916.3" r="1.2"/><circle cx="949.4" cy="863.4" r="1.3"/><circle cx="906.5" cy="849.1" r="1.4"/><circle cx="965.5" cy="927.3" r="1.4"/><circle cx="976.0" cy="765.2" r="1.6"/><circle cx="854.8" cy="792.0" r="1.6"/><circle cx="981.1" cy="747.4" r="1.7"/><circle cx="974.4" cy="859.9" r="1.2"/><circle cx="775.2" cy="841.9" r="0.9"/><circle cx="771.1" cy="740.6" r="1.1"/><circle cx="935.0" cy="926.7" r="1.3"/><circle cx="970.8" cy="991.1" r="1.3"/><circle cx="988.3" cy="953.1" r="1.1"/><circle cx="762.0" cy="957.7" r="1.4"/><circle cx="888.4" cy="849.6" r="1.7"/><circle cx="726.6" cy="813.8" r="0.9"/><circle cx="948.9" cy="920.2" r="1.3"/><circle cx="769.0" cy="844.7" r="1.3"/><circle cx="896.7" cy="795.4" r="1.6"/><circle cx="746.4" cy="1015.7" r="1.3"/><circle cx="861.0" cy="818.9" r="1.2"/><circle cx="850.5" cy="931.2" r="1.2"/><circle cx="854.1" cy="908.6" r="1.6"/><circle cx="881.2" cy="990.1" r="1.4"/><circle cx="870.2" cy="816.2" r="1.2"/><circle cx="730.1" cy="840.2" r="1.0"/><circle cx="779.1" cy="917.7" r="1.4"/><circle cx="981.0" cy="822.3" r="1.7"/><circle cx="985.8" cy="769.4" r="1.5"/><circle cx="995.9" cy="964.8" r="1.1"/><circle cx="953.6" cy="800.1" r="1.5"/><circle cx="958.2" cy="753.8" r="1.0"/><circle cx="769.8" cy="975.3" r="1.3"/><circle cx="885.7" cy="768.0" r="1.2"/><circle cx="916.6" cy="872.3" r="1.5"/><circle cx="951.0" cy="911.4" r="0.9"/><circle cx="817.2" cy="955.7" r="1.5"/><circle cx="860.5" cy="852.3" r="1.5"/><circle cx="851.2" cy="960.9" r="1.1"/><circle cx="920.2" cy="767.3" r="1.6"/><circle cx="856.2" cy="996.4" r="1.0"/><circle cx="754.6" cy="949.8" r="0.9"/><circle cx="1012.3" cy="873.3" r="1.2"/><circle cx="760.4" cy="882.0" r="1.5"/><circle cx="723.1" cy="1008.6" r="1.1"/><circle cx="779.9" cy="749.3" r="1.7"/><circle cx="856.7" cy="768.4" r="1.1"/><circle cx="1003.4" cy="976.5" r="1.1"/><circle cx="916.0" cy="833.2" r="1.1"/><circle cx="709.2" cy="795.1" r="1.0"/><circle cx="950.0" cy="754.4" r="1.4"/><circle cx="905.0" cy="772.2" r="1.4"/><circle cx="814.8" cy="959.8" r="1.0"/><circle cx="959.4" cy="828.6" r="1.4"/><circle cx="962.3" cy="875.2" r="0.9"/><circle cx="988.9" cy="922.7" r="1.4"/><circle cx="986.5" cy="947.4" r="1.7"/><circle cx="733.9" cy="983.3" r="1.5"/><circle cx="941.0" cy="884.5" r="1.3"/><circle cx="959.9" cy="948.0" r="1.4"/><circle cx="770.5" cy="955.1" r="1.2"/><circle cx="875.1" cy="769.5" r="1.3"/><circle cx="824.8" cy="916.4" r="1.3"/><circle cx="810.5" cy="803.8" r="1.4"/><circle cx="781.5" cy="907.9" r="1.3"/><circle cx="726.2" cy="954.2" r="1.0"/><circle cx="802.4" cy="768.1" r="1.4"/><circle cx="810.2" cy="800.4" r="1.1"/><circle cx="729.6" cy="1003.8" r="1.6"/><circle cx="741.0" cy="776.3" r="1.4"/><circle cx="921.5" cy="846.5" r="1.0"/><circle cx="882.9" cy="836.2" r="1.2"/><circle cx="730.2" cy="798.6" r="0.9"/><circle cx="945.0" cy="740.0" r="1.2"/><circle cx="742.5" cy="951.4" r="1.4"/><circle cx="947.5" cy="840.5" r="1.0"/><circle cx="745.3" cy="741.9" r="1.3"/><circle cx="748.6" cy="970.3" r="1.6"/><circle cx="734.8" cy="929.6" r="1.4"/><circle cx="803.0" cy="862.0" r="1.7"/><circle cx="822.9" cy="1004.2" r="1.5"/><circle cx="869.3" cy="1006.2" r="1.0"/><circle cx="981.3" cy="883.1" r="1.2"/><circle cx="894.5" cy="846.6" r="1.5"/><circle cx="863.7" cy="967.3" r="0.9"/><circle cx="922.3" cy="981.9" r="1.1"/><circle cx="895.8" cy="958.6" r="1.0"/><circle cx="867.0" cy="943.3" r="0.9"/><circle cx="899.9" cy="1013.9" r="1.4"/><circle cx="737.2" cy="967.3" r="1.1"/><circle cx="858.2" cy="898.5" r="1.2"/><circle cx="954.0" cy="856.3" r="1.0"/><circle cx="704.9" cy="832.1" r="1.3"/><circle cx="932.5" cy="806.9" r="0.9"/><circle cx="808.4" cy="788.6" r="1.6"/><circle cx="757.8" cy="857.5" r="1.4"/><circle cx="983.2" cy="832.1" r="1.4"/><circle cx="745.5" cy="756.0" r="1.0"/><circle cx="963.7" cy="885.2" r="1.6"/><circle cx="804.0" cy="1009.4" r="1.3"/><circle cx="802.0" cy="798.6" r="1.2"/><circle cx="865.9" cy="877.4" r="1.5"/><circle cx="939.9" cy="795.6" r="1.6"/><circle cx="750.8" cy="878.0" r="1.0"/><circle cx="715.9" cy="873.8" r="1.4"/><circle cx="940.8" cy="972.3" r="1.6"/><circle cx="794.0" cy="824.4" r="1.0"/><circle cx="877.5" cy="790.3" r="1.4"/><circle cx="889.5" cy="932.3" r="1.1"/><circle cx="724.8" cy="934.7" r="1.1"/><circle cx="819.6" cy="920.3" r="1.4"/><circle cx="953.3" cy="1001.1" r="1.6"/><circle cx="714.7" cy="959.5" r="1.1"/><circle cx="955.2" cy="913.3" r="0.9"/><circle cx="773.4" cy="996.3" r="1.6"/><circle cx="854.3" cy="1005.2" r="0.9"/><circle cx="944.4" cy="794.7" r="1.5"/><circle cx="726.2" cy="790.8" r="1.2"/><circle cx="759.6" cy="763.5" r="1.3"/><circle cx="706.3" cy="883.1" r="1.2"/><circle cx="872.1" cy="784.4" r="1.0"/><circle cx="709.3" cy="873.5" r="1.7"/><circle cx="856.0" cy="893.8" r="0.9"/><circle cx="753.7" cy="743.7" r="1.2"/><circle cx="885.7" cy="795.7" r="1.6"/><circle cx="896.0" cy="752.5" r="1.0"/><circle cx="966.3" cy="891.5" r="1.2"/><circle cx="876.9" cy="1008.7" r="1.4"/><circle cx="950.4" cy="895.8" r="1.5"/><circle cx="1005.4" cy="990.8" r="1.6"/><circle cx="750.6" cy="782.5" r="1.2"/><circle cx="724.3" cy="872.2" r="1.1"/><circle cx="805.7" cy="851.1" r="1.1"/><circle cx="843.2" cy="908.5" r="1.4"/><circle cx="983.7" cy="908.4" r="1.7"/><circle cx="892.5" cy="833.4" r="0.9"/><circle cx="764.4" cy="784.8" r="1.6"/><circle cx="760.7" cy="822.6" r="1.0"/><circle cx="999.7" cy="886.1" r="1.5"/><circle cx="904.3" cy="838.0" r="1.3"/><circle cx="823.1" cy="769.7" r="1.5"/><circle cx="789.3" cy="743.9" r="1.7"/><circle cx="1005.2" cy="736.8" r="1.6"/><circle cx="976.4" cy="800.1" r="1.6"/><circle cx="931.9" cy="918.6" r="1.2"/><circle cx="979.4" cy="881.1" r="1.0"/><circle cx="985.5" cy="775.2" r="1.5"/><circle cx="1006.4" cy="996.6" r="1.3"/><circle cx="803.1" cy="815.2" r="1.6"/><circle cx="967.9" cy="747.6" r="1.0"/><circle cx="989.5" cy="933.5" r="1.2"/><circle cx="789.7" cy="887.4" r="1.2"/><circle cx="779.7" cy="895.3" r="1.6"/><circle cx="743.0" cy="1013.9" r="1.2"/><circle cx="923.7" cy="791.4" r="1.6"/><circle cx="984.2" cy="989.5" r="1.6"/><circle cx="975.0" cy="844.4" r="1.3"/><circle cx="849.8" cy="763.0" r="1.5"/><circle cx="780.7" cy="960.0" r="1.2"/><circle cx="796.7" cy="872.8" r="1.2"/><circle cx="749.7" cy="886.2" r="1.5"/><circle cx="740.5" cy="978.4" r="0.9"/><circle cx="740.6" cy="869.6" r="1.1"/><circle cx="728.7" cy="1003.2" r="1.3"/><circle cx="897.9" cy="810.1" r="1.5"/><circle cx="979.0" cy="879.7" r="1.2"/><circle cx="752.5" cy="914.9" r="1.6"/><circle cx="769.8" cy="926.3" r="1.3"/><circle cx="777.8" cy="872.5" r="1.1"/><circle cx="942.1" cy="845.5" r="1.0"/><circle cx="737.6" cy="999.2" r="1.2"/><circle cx="909.1" cy="811.5" r="1.7"/><circle cx="979.8" cy="869.3" r="1.2"/><circle cx="1010.1" cy="860.3" r="1.1"/><circle cx="748.7" cy="988.6" r="1.1"/><circle cx="994.6" cy="887.6" r="1.6"/><circle cx="962.2" cy="808.5" r="1.1"/><circle cx="828.5" cy="1012.3" r="1.3"/><circle cx="801.3" cy="864.0" r="1.7"/><circle cx="712.2" cy="967.8" r="1.1"/><circle cx="990.1" cy="859.8" r="1.0"/><circle cx="812.5" cy="857.9" r="1.6"/><circle cx="952.5" cy="782.5" r="1.2"/><circle cx="799.9" cy="930.9" r="1.6"/><circle cx="865.6" cy="863.1" r="1.4"/><circle cx="815.5" cy="847.9" r="1.7"/><circle cx="983.3" cy="976.6" r="1.6"/><circle cx="853.5" cy="773.2" r="1.2"/><circle cx="780.5" cy="843.3" r="1.2"/><circle cx="973.6" cy="931.1" r="1.7"/><circle cx="805.1" cy="979.6" r="1.1"/><circle cx="933.4" cy="965.3" r="1.6"/><circle cx="959.2" cy="743.9" r="1.3"/><circle cx="841.5" cy="891.8" r="1.7"/><circle cx="721.5" cy="741.6" r="1.5"/><circle cx="715.9" cy="950.7" r="1.1"/><circle cx="741.9" cy="755.0" r="1.0"/><circle cx="933.4" cy="993.9" r="1.5"/><circle cx="962.0" cy="979.1" r="1.2"/><circle cx="831.8" cy="752.7" r="1.7"/><circle cx="848.0" cy="920.9" r="1.3"/><circle cx="929.8" cy="897.3" r="1.3"/><circle cx="923.8" cy="784.5" r="1.2"/><circle cx="746.8" cy="807.3" r="0.9"/><circle cx="868.6" cy="916.9" r="1.0"/><circle cx="844.7" cy="902.5" r="1.0"/><circle cx="988.5" cy="810.1" r="1.2"/><circle cx="974.6" cy="895.0" r="1.2"/><circle cx="926.7" cy="958.1" r="1.6"/><circle cx="761.1" cy="883.6" r="1.3"/><circle cx="947.5" cy="1017.3" r="1.0"/><circle cx="930.4" cy="770.5" r="1.1"/><circle cx="933.8" cy="889.1" r="1.7"/><circle cx="925.9" cy="992.6" r="0.9"/><circle cx="772.3" cy="872.8" r="1.4"/><circle cx="943.0" cy="934.8" r="1.3"/><circle cx="721.5" cy="737.7" r="0.9"/><circle cx="832.3" cy="876.0" r="1.0"/><circle cx="743.1" cy="819.9" r="1.6"/><circle cx="944.1" cy="844.9" r="1.4"/><circle cx="878.9" cy="986.4" r="1.1"/><circle cx="876.7" cy="876.9" r="0.9"/><circle cx="866.1" cy="917.7" r="1.4"/><circle cx="953.4" cy="753.6" r="1.2"/><circle cx="970.4" cy="1005.9" r="1.0"/><circle cx="984.1" cy="811.6" r="1.5"/><circle cx="934.8" cy="934.4" r="1.6"/><circle cx="733.1" cy="1004.2" r="1.4"/><circle cx="894.8" cy="804.8" r="1.3"/><circle cx="812.8" cy="847.5" r="1.5"/><circle cx="764.1" cy="765.0" r="1.3"/><circle cx="919.1" cy="893.0" r="1.3"/><circle cx="988.1" cy="885.7" r="1.1"/><circle cx="990.5" cy="944.9" r="1.5"/><circle cx="716.7" cy="765.1" r="1.1"/><circle cx="766.3" cy="854.5" r="1.2"/><circle cx="769.3" cy="896.7" r="1.1"/><circle cx="879.8" cy="807.8" r="1.7"/><circle cx="950.3" cy="986.7" r="1.3"/><circle cx="1000.6" cy="962.3" r="1.6"/><circle cx="858.1" cy="1001.1" r="1.0"/><circle cx="910.3" cy="762.3" r="1.3"/><circle cx="846.2" cy="1000.4" r="0.9"/><circle cx="933.7" cy="972.0" r="0.9"/><circle cx="840.0" cy="827.7" r="1.0"/><circle cx="973.1" cy="760.5" r="1.1"/><circle cx="940.2" cy="964.8" r="1.5"/><circle cx="749.7" cy="1014.2" r="0.9"/><circle cx="972.7" cy="917.9" r="1.3"/><circle cx="986.4" cy="829.0" r="0.9"/><circle cx="764.1" cy="753.0" r="1.5"/><circle cx="807.8" cy="983.8" r="1.2"/><circle cx="781.5" cy="996.5" r="1.2"/><circle cx="998.5" cy="852.8" r="1.4"/><circle cx="735.0" cy="1017.4" r="1.3"/><circle cx="916.0" cy="844.8" r="1.0"/><circle cx="764.5" cy="810.9" r="1.1"/><circle cx="770.6" cy="737.0" r="1.2"/><circle cx="941.9" cy="895.6" r="1.5"/><circle cx="955.4" cy="952.6" r="1.6"/><circle cx="725.4" cy="854.4" r="0.9"/><circle cx="877.4" cy="939.4" r="1.5"/><circle cx="817.2" cy="914.5" r="1.2"/><circle cx="812.6" cy="812.8" r="1.0"/><circle cx="775.3" cy="864.3" r="0.9"/><circle cx="899.9" cy="848.7" r="1.0"/><circle cx="887.8" cy="1009.3" r="1.1"/><circle cx="708.8" cy="747.9" r="1.5"/><circle cx="888.0" cy="996.8" r="1.1"/><circle cx="855.1" cy="834.7" r="1.2"/><circle cx="934.7" cy="970.8" r="1.4"/><circle cx="984.9" cy="921.1" r="1.7"/><circle cx="708.0" cy="983.8" r="1.3"/><circle cx="824.8" cy="951.9" r="1.6"/><circle cx="947.8" cy="941.8" r="1.7"/><circle cx="937.0" cy="844.0" r="1.2"/><circle cx="975.7" cy="834.3" r="1.4"/><circle cx="933.2" cy="877.1" r="1.4"/><circle cx="848.0" cy="803.7" r="1.6"/><circle cx="951.3" cy="1008.5" r="1.2"/><circle cx="877.9" cy="799.2" r="1.4"/><circle cx="976.2" cy="961.8" r="0.9"/><circle cx="917.8" cy="1002.9" r="1.2"/><circle cx="723.0" cy="914.8" r="1.6"/><circle cx="1001.9" cy="918.1" r="1.1"/><circle cx="817.4" cy="954.9" r="1.6"/><circle cx="753.4" cy="904.0" r="1.2"/><circle cx="769.8" cy="858.0" r="0.9"/><circle cx="964.7" cy="857.4" r="1.5"/><circle cx="784.8" cy="883.5" r="1.6"/><circle cx="791.4" cy="821.6" r="1.0"/><circle cx="996.2" cy="926.6" r="1.5"/><circle cx="717.2" cy="987.1" r="1.1"/><circle cx="725.3" cy="909.2" r="1.7"/><circle cx="907.4" cy="783.1" r="1.1"/><circle cx="796.3" cy="904.1" r="1.5"/><circle cx="910.9" cy="874.9" r="1.6"/><circle cx="796.6" cy="827.1" r="1.2"/><circle cx="817.6" cy="779.2" r="1.3"/><circle cx="782.6" cy="1003.6" r="1.1"/><circle cx="935.2" cy="933.4" r="1.0"/><circle cx="942.4" cy="883.8" r="1.7"/><circle cx="904.8" cy="857.0" r="1.5"/><circle cx="792.6" cy="843.5" r="1.1"/><circle cx="955.3" cy="957.8" r="1.7"/><circle cx="994.9" cy="772.6" r="1.2"/><circle cx="961.1" cy="938.0" r="1.7"/><circle cx="1005.5" cy="907.1" r="1.6"/><circle cx="921.7" cy="924.1" r="1.6"/><circle cx="780.1" cy="928.7" r="1.4"/><circle cx="865.7" cy="980.3" r="1.3"/><circle cx="904.1" cy="874.4" r="1.1"/><circle cx="960.4" cy="887.1" r="1.4"/><circle cx="760.4" cy="1006.8" r="1.7"/><circle cx="857.1" cy="943.3" r="1.6"/><circle cx="832.0" cy="863.8" r="1.4"/><circle cx="989.6" cy="890.2" r="1.4"/><circle cx="752.0" cy="900.9" r="1.5"/><circle cx="939.3" cy="747.5" r="0.9"/><circle cx="789.4" cy="772.8" r="1.4"/><circle cx="961.3" cy="847.5" r="1.5"/><circle cx="731.3" cy="961.7" r="1.0"/><circle cx="871.1" cy="892.3" r="1.0"/><circle cx="914.1" cy="958.4" r="1.4"/><circle cx="957.5" cy="801.7" r="1.4"/><circle cx="802.9" cy="831.3" r="1.3"/><circle cx="823.0" cy="846.2" r="1.3"/><circle cx="908.5" cy="873.0" r="1.6"/><circle cx="921.2" cy="927.3" r="1.6"/><circle cx="725.6" cy="751.7" r="1.2"/><circle cx="915.9" cy="947.1" r="1.4"/><circle cx="908.5" cy="932.6" r="1.1"/><circle cx="795.6" cy="803.0" r="1.0"/><circle cx="947.2" cy="947.8" r="1.2"/><circle cx="861.4" cy="955.4" r="1.3"/><circle cx="820.9" cy="914.0" r="1.4"/><circle cx="959.5" cy="855.5" r="1.6"/><circle cx="918.0" cy="747.4" r="1.6"/><circle cx="760.8" cy="736.5" r="1.2"/><circle cx="747.3" cy="900.0" r="1.1"/><circle cx="973.3" cy="851.6" r="1.4"/><circle cx="984.5" cy="832.2" r="1.3"/><circle cx="802.4" cy="977.9" r="1.1"/><circle cx="818.9" cy="941.0" r="1.7"/><circle cx="769.0" cy="975.5" r="1.1"/><circle cx="739.7" cy="985.0" r="1.1"/><circle cx="825.7" cy="895.5" r="1.3"/><circle cx="1003.2" cy="998.5" r="1.1"/><circle cx="878.4" cy="892.0" r="1.6"/><circle cx="727.6" cy="741.1" r="1.2"/><circle cx="879.4" cy="928.2" r="1.4"/><circle cx="853.2" cy="858.4" r="1.3"/><circle cx="796.6" cy="1001.6" r="1.7"/><circle cx="796.3" cy="838.0" r="1.6"/><circle cx="1009.7" cy="910.5" r="1.6"/><circle cx="967.5" cy="818.2" r="1.2"/><circle cx="898.8" cy="1010.2" r="1.0"/><circle cx="797.2" cy="859.9" r="1.1"/><circle cx="1000.0" cy="942.0" r="1.4"/><circle cx="768.2" cy="872.2" r="1.4"/><circle cx="720.5" cy="801.7" r="1.5"/><circle cx="918.9" cy="971.3" r="1.1"/><circle cx="902.1" cy="813.3" r="1.4"/><circle cx="819.5" cy="896.6" r="0.9"/><circle cx="1008.0" cy="895.6" r="1.6"/><circle cx="924.9" cy="755.7" r="1.2"/><circle cx="963.8" cy="933.2" r="1.1"/><circle cx="919.8" cy="919.5" r="1.2"/><circle cx="921.9" cy="816.7" r="1.3"/><circle cx="745.1" cy="797.3" r="1.3"/><circle cx="993.8" cy="812.9" r="1.0"/><circle cx="755.9" cy="813.4" r="1.7"/><circle cx="915.2" cy="927.9" r="1.4"/><circle cx="871.5" cy="790.0" r="1.1"/><circle cx="973.7" cy="753.5" r="1.1"/><circle cx="999.0" cy="768.1" r="1.3"/><circle cx="982.5" cy="960.0" r="1.1"/><circle cx="980.6" cy="793.5" r="0.9"/><circle cx="784.0" cy="860.1" r="1.3"/><circle cx="959.9" cy="787.7" r="1.6"/><circle cx="725.6" cy="746.5" r="1.4"/><circle cx="790.0" cy="807.9" r="1.0"/><circle cx="874.1" cy="995.5" r="1.3"/><circle cx="890.1" cy="812.0" r="1.2"/><circle cx="746.7" cy="917.4" r="1.2"/><circle cx="765.4" cy="994.1" r="1.5"/><circle cx="877.0" cy="779.6" r="1.3"/><circle cx="961.3" cy="943.5" r="1.1"/><circle cx="829.0" cy="1001.7" r="1.6"/><circle cx="995.7" cy="792.6" r="1.0"/><circle cx="994.3" cy="989.5" r="1.5"/><circle cx="839.2" cy="869.2" r="1.1"/><circle cx="1008.8" cy="863.0" r="1.6"/><circle cx="769.5" cy="801.6" r="1.4"/><circle cx="842.1" cy="828.8" r="1.7"/><circle cx="870.1" cy="800.4" r="1.0"/><circle cx="843.2" cy="872.0" r="1.6"/><circle cx="1010.4" cy="931.7" r="1.1"/><circle cx="942.3" cy="755.4" r="1.7"/><circle cx="769.6" cy="947.8" r="1.2"/><circle cx="708.3" cy="797.1" r="1.0"/><circle cx="753.2" cy="782.8" r="1.5"/><circle cx="996.1" cy="900.4" r="1.2"/><circle cx="980.4" cy="923.3" r="1.6"/><circle cx="967.9" cy="919.0" r="0.9"/><circle cx="829.4" cy="997.3" r="1.2"/><circle cx="739.0" cy="885.2" r="1.3"/><circle cx="871.9" cy="829.1" r="1.1"/><circle cx="996.7" cy="934.8" r="1.2"/><circle cx="841.1" cy="835.1" r="1.7"/><circle cx="734.6" cy="786.0" r="0.9"/><circle cx="913.4" cy="755.3" r="1.3"/><circle cx="780.9" cy="916.2" r="1.5"/><circle cx="967.5" cy="814.6" r="1.7"/><circle cx="971.5" cy="970.8" r="1.5"/><circle cx="926.4" cy="810.5" r="1.1"/><circle cx="820.0" cy="874.6" r="1.5"/><circle cx="734.7" cy="737.3" r="1.3"/><circle cx="797.7" cy="1004.3" r="1.2"/><circle cx="950.1" cy="808.9" r="0.9"/><circle cx="804.1" cy="802.7" r="1.6"/><circle cx="726.1" cy="782.5" r="1.4"/><circle cx="778.4" cy="769.8" r="1.1"/><circle cx="914.2" cy="990.8" r="1.6"/><circle cx="729.6" cy="751.5" r="0.9"/><circle cx="842.0" cy="830.4" r="1.1"/><circle cx="784.0" cy="805.5" r="1.3"/><circle cx="917.1" cy="958.7" r="1.6"/><circle cx="749.7" cy="819.1" r="1.6"/><circle cx="858.8" cy="758.4" r="1.5"/><circle cx="988.1" cy="988.7" r="1.6"/><circle cx="931.1" cy="902.0" r="1.6"/><circle cx="890.7" cy="788.8" r="1.7"/><circle cx="957.4" cy="972.7" r="1.0"/><circle cx="994.6" cy="801.6" r="1.2"/><circle cx="997.3" cy="884.4" r="1.1"/><circle cx="718.0" cy="974.0" r="1.5"/><circle cx="806.5" cy="865.4" r="0.9"/><circle cx="955.0" cy="743.4" r="0.9"/><circle cx="863.6" cy="900.6" r="1.0"/><circle cx="746.1" cy="742.4" r="1.4"/><circle cx="816.6" cy="880.0" r="1.0"/><circle cx="791.0" cy="938.3" r="1.0"/><circle cx="1003.0" cy="882.7" r="1.0"/><circle cx="994.8" cy="893.3" r="1.1"/><circle cx="782.6" cy="789.2" r="1.6"/><circle cx="839.4" cy="823.0" r="1.1"/><circle cx="872.6" cy="877.0" r="1.4"/><circle cx="772.3" cy="841.1" r="1.3"/><circle cx="828.8" cy="930.7" r="1.4"/><circle cx="846.1" cy="943.0" r="1.4"/><circle cx="974.8" cy="801.4" r="0.9"/><circle cx="717.0" cy="966.6" r="1.7"/><circle cx="761.5" cy="820.7" r="1.5"/><circle cx="958.4" cy="971.7" r="1.5"/><circle cx="852.5" cy="1001.4" r="1.5"/><circle cx="809.1" cy="798.2" r="1.4"/><circle cx="817.3" cy="1017.1" r="1.4"/><circle cx="755.2" cy="982.3" r="1.5"/><circle cx="794.5" cy="997.3" r="1.3"/><circle cx="731.5" cy="909.3" r="1.3"/><circle cx="762.8" cy="876.7" r="1.3"/><circle cx="997.1" cy="843.6" r="1.6"/><circle cx="957.1" cy="880.7" r="1.4"/><circle cx="738.7" cy="762.2" r="1.4"/><circle cx="849.0" cy="985.2" r="1.2"/><circle cx="949.6" cy="790.1" r="1.4"/><circle cx="725.2" cy="907.8" r="1.4"/><circle cx="935.1" cy="957.6" r="1.4"/><circle cx="916.7" cy="872.3" r="1.3"/><circle cx="888.9" cy="763.1" r="1.2"/><circle cx="833.8" cy="948.7" r="1.3"/><circle cx="910.3" cy="748.8" r="1.4"/><circle cx="870.8" cy="810.7" r="1.2"/><circle cx="967.8" cy="830.6" r="1.3"/><circle cx="1009.4" cy="976.0" r="1.4"/><circle cx="1010.6" cy="946.2" r="1.2"/><circle cx="742.1" cy="1005.0" r="1.1"/><circle cx="760.3" cy="941.8" r="0.9"/><circle cx="816.8" cy="870.6" r="1.7"/><circle cx="976.7" cy="946.1" r="1.4"/><circle cx="782.4" cy="886.3" r="1.3"/><circle cx="819.6" cy="956.0" r="1.3"/><circle cx="974.9" cy="872.9" r="1.0"/><circle cx="734.8" cy="931.5" r="1.5"/><circle cx="829.9" cy="881.7" r="0.9"/><circle cx="933.3" cy="849.0" r="1.2"/><circle cx="751.7" cy="745.5" r="1.2"/><circle cx="906.8" cy="935.5" r="1.2"/><circle cx="917.1" cy="808.2" r="1.2"/><circle cx="976.2" cy="854.6" r="1.2"/><circle cx="976.8" cy="987.1" r="1.4"/><circle cx="946.9" cy="887.1" r="1.2"/><circle cx="997.7" cy="843.6" r="1.3"/><circle cx="830.4" cy="760.6" r="1.5"/><circle cx="998.9" cy="984.7" r="1.2"/><circle cx="846.0" cy="954.0" r="1.7"/><circle cx="902.8" cy="929.5" r="1.1"/><circle cx="705.0" cy="919.0" r="1.1"/><circle cx="885.2" cy="809.0" r="0.9"/><circle cx="956.4" cy="995.6" r="1.6"/><circle cx="862.7" cy="892.7" r="1.7"/><circle cx="913.2" cy="827.4" r="1.2"/><circle cx="810.8" cy="1007.6" r="1.6"/><circle cx="951.0" cy="818.7" r="1.1"/><circle cx="752.3" cy="922.4" r="1.3"/><circle cx="865.4" cy="836.5" r="1.2"/><circle cx="840.1" cy="872.0" r="1.6"/><circle cx="970.0" cy="796.4" r="1.2"/><circle cx="988.0" cy="888.3" r="1.0"/><circle cx="721.8" cy="781.0" r="1.4"/><circle cx="846.5" cy="748.9" r="1.6"/><circle cx="863.4" cy="788.5" r="1.4"/></g></g><path d="M867.50,950.59 C872.65,945.90 883.96,938.85 895.27,939.32 C906.58,939.79 928.18,946.84 935.38,953.41 C942.57,959.98 946.17,975.01 938.46,978.76 C930.75,982.52 901.44,977.82 889.10,975.95 C876.76,974.07 868.02,971.72 864.42,967.49 C860.82,963.27 862.36,955.29 867.50,950.59 Z" fill="#f8f6fb" stroke="none" stroke-width="1.00" /><g fill="#5a62c0" opacity="0.80"><circle cx="867.9" cy="945.6" r="1.0"/><circle cx="882.6" cy="942.6" r="0.6"/><circle cx="903.1" cy="955.1" r="0.9"/><circle cx="889.2" cy="945.9" r="0.9"/><circle cx="874.8" cy="962.0" r="0.9"/><circle cx="882.0" cy="947.5" r="0.8"/><circle cx="873.0" cy="964.1" r="0.8"/><circle cx="926.9" cy="941.4" r="0.8"/><circle cx="872.4" cy="976.5" r="0.8"/><circle cx="891.9" cy="966.0" r="0.8"/><circle cx="890.1" cy="954.2" r="0.7"/><circle cx="935.4" cy="959.0" r="0.6"/><circle cx="915.2" cy="946.1" r="0.9"/><circle cx="916.1" cy="951.8" r="0.9"/><circle cx="876.2" cy="956.0" r="0.8"/><circle cx="891.8" cy="966.6" r="0.8"/><circle cx="877.5" cy="961.1" r="0.8"/><circle cx="896.8" cy="954.5" r="0.7"/><circle cx="928.8" cy="976.0" r="0.8"/><circle cx="908.1" cy="970.2" r="0.7"/><circle cx="899.0" cy="941.0" r="0.8"/><circle cx="889.6" cy="975.1" r="0.8"/><circle cx="926.0" cy="967.3" r="0.9"/><circle cx="930.3" cy="975.5" r="0.8"/><circle cx="867.7" cy="946.9" r="1.0"/><circle cx="910.4" cy="970.0" r="0.6"/><circle cx="878.7" cy="977.0" r="1.0"/><circle cx="892.8" cy="955.7" r="0.7"/><circle cx="889.1" cy="975.8" r="0.8"/><circle cx="916.8" cy="957.4" r="0.9"/><circle cx="876.7" cy="958.6" r="1.0"/><circle cx="904.2" cy="970.0" r="0.7"/><circle cx="878.1" cy="948.0" r="0.9"/><circle cx="934.5" cy="951.5" r="0.7"/><circle cx="916.8" cy="971.7" r="0.8"/><circle cx="933.1" cy="942.9" r="0.6"/><circle cx="868.4" cy="976.4" r="0.8"/><circle cx="921.0" cy="976.2" r="0.8"/><circle cx="912.8" cy="969.2" r="0.8"/><circle cx="879.4" cy="974.2" r="0.9"/><circle cx="923.3" cy="954.2" r="0.6"/><circle cx="884.8" cy="962.9" r="0.9"/><circle cx="927.6" cy="959.9" r="1.0"/><circle cx="907.3" cy="962.0" r="0.6"/><circle cx="869.1" cy="970.6" r="0.7"/><circle cx="886.3" cy="939.6" r="0.9"/><circle cx="885.3" cy="946.4" r="0.7"/><circle cx="924.7" cy="977.9" r="0.7"/><circle cx="884.0" cy="965.5" r="0.9"/><circle cx="911.3" cy="963.5" r="0.7"/><circle cx="902.9" cy="962.8" r="0.9"/><circle cx="921.6" cy="972.8" r="0.8"/><circle cx="867.6" cy="955.8" r="1.0"/><circle cx="883.2" cy="976.1" r="0.6"/><circle cx="928.8" cy="960.0" r="0.8"/><circle cx="930.7" cy="974.2" r="0.9"/><circle cx="896.3" cy="962.7" r="0.9"/><circle cx="903.1" cy="943.3" r="0.8"/><circle cx="875.7" cy="957.4" r="0.6"/><circle cx="911.5" cy="951.6" r="0.7"/><circle cx="929.3" cy="947.9" r="0.7"/><circle cx="904.0" cy="959.2" r="0.9"/><circle cx="866.9" cy="943.6" r="0.8"/><circle cx="905.1" cy="975.3" r="1.0"/><circle cx="906.8" cy="945.0" r="0.7"/><circle cx="877.0" cy="968.1" r="0.7"/><circle cx="888.9" cy="949.7" r="0.9"/><circle cx="882.3" cy="962.8" r="0.7"/><circle cx="935.6" cy="943.2" r="0.9"/><circle cx="880.8" cy="941.4" r="0.9"/><circle cx="880.0" cy="978.4" r="0.8"/><circle cx="895.3" cy="954.1" r="0.8"/><circle cx="937.1" cy="946.2" r="1.0"/><circle cx="930.9" cy="948.4" r="0.8"/><circle cx="870.2" cy="976.0" r="0.7"/><circle cx="870.3" cy="972.7" r="0.8"/><circle cx="921.9" cy="975.1" r="0.8"/><circle cx="884.0" cy="972.5" r="0.6"/><circle cx="900.8" cy="969.6" r="0.7"/><circle cx="906.9" cy="968.5" r="0.8"/></g></g>
<g clip-path="url(#c7)"><rect x="1027.00" y="736.90" width="286.50" height="281.60" fill="#e3b9a3" /><rect x="1027.00" y="736.90" width="286.50" height="281.60" fill="#000" filter="url(#t8)" opacity="0.50"/><rect x="1027.00" y="736.90" width="286.50" height="281.60" fill="#000" filter="url(#t8b)" opacity="0.50"/><g fill="#9aa0d8" opacity="0.70"><circle cx="1057.1" cy="837.0" r="0.9"/><circle cx="1168.4" cy="876.7" r="0.9"/><circle cx="1065.1" cy="830.3" r="0.7"/><circle cx="1273.8" cy="872.1" r="0.9"/><circle cx="1112.7" cy="901.3" r="0.6"/><circle cx="1298.5" cy="831.2" r="0.7"/><circle cx="1307.0" cy="882.6" r="0.8"/><circle cx="1231.5" cy="876.8" r="1.0"/><circle cx="1110.9" cy="845.6" r="0.8"/><circle cx="1128.8" cy="812.1" r="0.9"/><circle cx="1255.5" cy="1017.4" r="0.9"/><circle cx="1175.8" cy="931.1" r="0.6"/><circle cx="1085.8" cy="950.8" r="0.9"/><circle cx="1123.1" cy="988.9" r="1.0"/><circle cx="1280.0" cy="1002.6" r="0.8"/><circle cx="1207.9" cy="772.2" r="0.8"/><circle cx="1234.9" cy="865.5" r="0.8"/><circle cx="1107.4" cy="957.2" r="0.8"/><circle cx="1046.9" cy="872.2" r="1.0"/><circle cx="1232.0" cy="801.2" r="0.7"/><circle cx="1221.7" cy="874.7" r="0.6"/><circle cx="1278.2" cy="891.7" r="0.6"/><circle cx="1259.7" cy="761.0" r="0.9"/><circle cx="1159.2" cy="839.0" r="0.8"/><circle cx="1264.8" cy="937.8" r="0.7"/><circle cx="1101.8" cy="997.5" r="0.7"/><circle cx="1287.0" cy="994.8" r="1.0"/><circle cx="1094.8" cy="834.5" r="0.9"/><circle cx="1194.3" cy="754.7" r="0.8"/><circle cx="1219.7" cy="821.6" r="0.7"/><circle cx="1207.5" cy="969.3" r="0.6"/><circle cx="1027.4" cy="974.9" r="0.6"/><circle cx="1119.5" cy="792.3" r="0.8"/><circle cx="1059.5" cy="948.4" r="0.7"/><circle cx="1059.4" cy="881.9" r="0.9"/><circle cx="1103.3" cy="840.2" r="0.7"/><circle cx="1040.3" cy="1005.7" r="0.9"/><circle cx="1190.6" cy="906.6" r="0.8"/><circle cx="1061.8" cy="855.6" r="0.8"/><circle cx="1248.6" cy="940.8" r="0.9"/><circle cx="1162.8" cy="876.5" r="0.6"/><circle cx="1175.2" cy="880.2" r="0.9"/><circle cx="1232.0" cy="901.8" r="1.0"/><circle cx="1249.7" cy="775.9" r="0.7"/><circle cx="1263.8" cy="817.6" r="0.6"/><circle cx="1103.7" cy="821.2" r="0.8"/><circle cx="1146.1" cy="757.1" r="0.9"/><circle cx="1294.0" cy="996.2" r="0.7"/><circle cx="1183.1" cy="930.5" r="0.9"/><circle cx="1138.4" cy="910.8" r="0.6"/><circle cx="1067.1" cy="926.3" r="0.6"/><circle cx="1297.5" cy="847.6" r="0.6"/><circle cx="1028.0" cy="886.3" r="0.7"/><circle cx="1111.7" cy="809.4" r="0.9"/><circle cx="1288.3" cy="876.3" r="0.8"/><circle cx="1307.4" cy="924.6" r="0.8"/><circle cx="1097.8" cy="791.2" r="0.8"/><circle cx="1236.6" cy="820.6" r="0.6"/><circle cx="1031.4" cy="940.9" r="0.9"/><circle cx="1143.1" cy="825.3" r="1.0"/><circle cx="1087.5" cy="983.3" r="0.9"/><circle cx="1027.9" cy="926.1" r="1.0"/><circle cx="1235.0" cy="925.3" r="1.0"/><circle cx="1151.5" cy="981.3" r="0.6"/><circle cx="1049.7" cy="940.8" r="0.7"/><circle cx="1298.0" cy="990.5" r="0.8"/><circle cx="1091.1" cy="780.0" r="0.9"/><circle cx="1118.9" cy="931.8" r="0.9"/><circle cx="1039.0" cy="895.8" r="0.9"/><circle cx="1186.9" cy="991.4" r="0.9"/><circle cx="1162.8" cy="847.8" r="0.6"/><circle cx="1304.5" cy="890.2" r="0.7"/><circle cx="1173.3" cy="987.0" r="0.9"/><circle cx="1286.6" cy="816.3" r="0.9"/><circle cx="1179.1" cy="867.8" r="0.8"/><circle cx="1093.6" cy="820.5" r="0.7"/><circle cx="1052.0" cy="738.2" r="0.9"/><circle cx="1238.5" cy="922.5" r="0.8"/><circle cx="1313.3" cy="963.1" r="0.9"/><circle cx="1286.4" cy="875.0" r="0.9"/><circle cx="1286.9" cy="853.2" r="1.0"/><circle cx="1300.0" cy="910.0" r="0.7"/><circle cx="1151.5" cy="956.8" r="1.0"/><circle cx="1112.5" cy="753.7" r="0.6"/><circle cx="1103.8" cy="901.3" r="0.8"/><circle cx="1250.2" cy="965.5" r="1.0"/><circle cx="1262.6" cy="973.2" r="0.7"/><circle cx="1109.1" cy="752.3" r="0.9"/><circle cx="1192.3" cy="886.7" r="0.7"/><circle cx="1050.7" cy="825.6" r="1.0"/><circle cx="1245.8" cy="884.2" r="0.6"/><circle cx="1097.3" cy="765.1" r="0.7"/><circle cx="1287.6" cy="744.4" r="0.7"/><circle cx="1224.4" cy="898.2" r="0.6"/><circle cx="1074.4" cy="755.1" r="1.0"/><circle cx="1168.2" cy="805.1" r="0.6"/><circle cx="1295.7" cy="784.5" r="0.9"/><circle cx="1137.5" cy="948.2" r="0.7"/><circle cx="1225.7" cy="951.0" r="0.6"/><circle cx="1142.0" cy="842.4" r="0.8"/><circle cx="1164.0" cy="990.0" r="1.0"/><circle cx="1204.8" cy="775.2" r="0.6"/><circle cx="1114.8" cy="952.1" r="0.9"/><circle cx="1212.3" cy="963.2" r="0.8"/><circle cx="1121.9" cy="863.6" r="1.0"/><circle cx="1200.3" cy="809.2" r="0.9"/><circle cx="1229.6" cy="948.5" r="0.8"/><circle cx="1222.1" cy="913.7" r="0.7"/><circle cx="1115.1" cy="883.0" r="0.8"/><circle cx="1227.3" cy="912.9" r="0.8"/><circle cx="1226.4" cy="889.8" r="0.8"/><circle cx="1142.8" cy="910.6" r="1.0"/><circle cx="1289.1" cy="808.2" r="0.9"/><circle cx="1266.2" cy="770.0" r="0.9"/><circle cx="1169.2" cy="987.8" r="1.0"/><circle cx="1120.2" cy="825.4" r="0.7"/><circle cx="1040.1" cy="979.0" r="0.6"/><circle cx="1193.3" cy="842.7" r="0.8"/><circle cx="1175.2" cy="817.3" r="0.9"/><circle cx="1115.8" cy="740.8" r="0.7"/><circle cx="1037.3" cy="959.1" r="0.8"/><circle cx="1108.7" cy="908.0" r="0.8"/><circle cx="1238.0" cy="770.1" r="0.7"/><circle cx="1122.3" cy="1013.6" r="0.9"/><circle cx="1058.1" cy="953.9" r="0.7"/><circle cx="1116.7" cy="876.0" r="0.8"/><circle cx="1218.5" cy="737.2" r="0.9"/><circle cx="1184.9" cy="870.3" r="1.0"/><circle cx="1171.8" cy="916.8" r="1.0"/><circle cx="1159.2" cy="855.4" r="1.0"/><circle cx="1166.3" cy="760.2" r="0.7"/><circle cx="1247.0" cy="991.7" r="0.9"/><circle cx="1173.1" cy="965.2" r="0.7"/><circle cx="1280.4" cy="958.6" r="0.6"/><circle cx="1216.6" cy="961.4" r="0.8"/><circle cx="1269.0" cy="860.9" r="0.7"/><circle cx="1167.2" cy="1002.4" r="0.7"/><circle cx="1133.8" cy="750.7" r="0.8"/><circle cx="1287.6" cy="866.9" r="0.8"/><circle cx="1135.3" cy="914.5" r="0.7"/><circle cx="1046.8" cy="762.1" r="0.7"/><circle cx="1139.4" cy="760.6" r="0.8"/><circle cx="1073.6" cy="808.5" r="0.9"/><circle cx="1141.4" cy="751.0" r="0.6"/><circle cx="1246.1" cy="854.7" r="0.6"/><circle cx="1168.3" cy="778.0" r="0.7"/><circle cx="1132.0" cy="760.0" r="0.9"/><circle cx="1131.5" cy="974.1" r="0.9"/><circle cx="1255.4" cy="871.5" r="0.9"/><circle cx="1170.5" cy="872.9" r="0.6"/><circle cx="1078.9" cy="854.1" r="0.6"/><circle cx="1169.2" cy="949.9" r="0.7"/><circle cx="1043.9" cy="787.9" r="0.7"/><circle cx="1142.9" cy="926.7" r="0.8"/><circle cx="1172.3" cy="962.3" r="0.6"/><circle cx="1180.8" cy="1014.3" r="0.6"/><circle cx="1131.9" cy="931.2" r="1.0"/><circle cx="1047.8" cy="846.8" r="0.8"/><circle cx="1067.9" cy="931.3" r="1.0"/><circle cx="1098.7" cy="880.7" r="0.9"/><circle cx="1055.3" cy="1014.9" r="0.7"/><circle cx="1201.5" cy="960.9" r="0.7"/><circle cx="1138.2" cy="904.0" r="0.8"/><circle cx="1125.5" cy="829.2" r="0.7"/><circle cx="1309.8" cy="880.1" r="0.6"/><circle cx="1231.5" cy="765.1" r="0.9"/><circle cx="1243.9" cy="1004.2" r="0.9"/><circle cx="1099.2" cy="747.7" r="0.7"/><circle cx="1156.2" cy="973.4" r="0.9"/><circle cx="1233.0" cy="749.1" r="0.6"/><circle cx="1252.2" cy="762.8" r="0.6"/><circle cx="1113.5" cy="895.4" r="0.6"/><circle cx="1121.2" cy="769.2" r="0.9"/><circle cx="1254.0" cy="892.4" r="0.8"/><circle cx="1270.2" cy="795.5" r="0.7"/><circle cx="1258.4" cy="835.7" r="0.7"/><circle cx="1082.1" cy="830.9" r="0.6"/><circle cx="1090.9" cy="957.1" r="0.7"/><circle cx="1119.8" cy="868.7" r="0.9"/><circle cx="1103.7" cy="893.3" r="0.8"/><circle cx="1303.9" cy="981.1" r="0.9"/><circle cx="1073.7" cy="758.5" r="0.8"/><circle cx="1116.8" cy="803.7" r="1.0"/><circle cx="1183.1" cy="790.4" r="0.8"/><circle cx="1280.7" cy="914.5" r="0.9"/><circle cx="1254.8" cy="737.8" r="0.8"/><circle cx="1038.1" cy="1000.0" r="0.7"/><circle cx="1236.3" cy="765.4" r="1.0"/><circle cx="1083.1" cy="876.7" r="0.7"/><circle cx="1066.7" cy="739.8" r="0.7"/><circle cx="1266.5" cy="1001.5" r="0.9"/><circle cx="1213.1" cy="881.1" r="0.8"/><circle cx="1066.5" cy="978.8" r="1.0"/><circle cx="1058.2" cy="738.2" r="0.8"/><circle cx="1071.4" cy="873.1" r="0.8"/><circle cx="1175.7" cy="845.7" r="0.6"/><circle cx="1308.4" cy="764.6" r="0.9"/><circle cx="1072.3" cy="836.6" r="0.9"/><circle cx="1242.3" cy="993.2" r="0.9"/><circle cx="1202.3" cy="920.3" r="0.9"/><circle cx="1058.0" cy="824.1" r="0.8"/><circle cx="1135.7" cy="913.4" r="0.8"/><circle cx="1265.5" cy="798.7" r="0.7"/><circle cx="1284.1" cy="848.1" r="0.9"/><circle cx="1081.3" cy="908.4" r="0.7"/><circle cx="1110.4" cy="782.1" r="0.8"/><circle cx="1265.8" cy="960.5" r="0.9"/><circle cx="1286.1" cy="990.2" r="0.9"/><circle cx="1188.8" cy="797.3" r="0.6"/><circle cx="1161.5" cy="794.5" r="1.0"/><circle cx="1152.4" cy="743.0" r="0.7"/><circle cx="1308.6" cy="740.9" r="0.7"/><circle cx="1260.6" cy="899.7" r="0.8"/><circle cx="1219.1" cy="938.1" r="0.8"/><circle cx="1214.1" cy="998.7" r="0.8"/><circle cx="1292.9" cy="950.1" r="1.0"/><circle cx="1211.6" cy="990.9" r="1.0"/><circle cx="1200.9" cy="884.0" r="0.8"/><circle cx="1284.0" cy="786.9" r="0.7"/><circle cx="1282.8" cy="863.0" r="0.8"/><circle cx="1139.1" cy="969.2" r="0.7"/><circle cx="1217.7" cy="900.7" r="0.9"/><circle cx="1105.1" cy="849.9" r="0.8"/><circle cx="1161.2" cy="753.2" r="0.7"/><circle cx="1259.9" cy="898.1" r="0.7"/><circle cx="1048.2" cy="939.1" r="0.9"/><circle cx="1156.5" cy="820.6" r="0.7"/><circle cx="1243.7" cy="849.7" r="1.0"/><circle cx="1216.2" cy="878.8" r="0.9"/><circle cx="1298.6" cy="852.1" r="0.9"/><circle cx="1114.1" cy="802.8" r="0.8"/><circle cx="1206.9" cy="799.6" r="0.8"/><circle cx="1119.1" cy="796.9" r="0.7"/><circle cx="1301.1" cy="779.9" r="0.8"/><circle cx="1209.7" cy="899.9" r="0.8"/><circle cx="1253.4" cy="794.5" r="0.8"/><circle cx="1292.7" cy="748.5" r="0.6"/><circle cx="1199.7" cy="948.9" r="1.0"/><circle cx="1270.0" cy="753.3" r="0.6"/><circle cx="1220.3" cy="806.6" r="0.6"/><circle cx="1030.2" cy="812.5" r="0.9"/><circle cx="1057.2" cy="772.9" r="0.6"/><circle cx="1168.4" cy="833.6" r="0.9"/><circle cx="1248.1" cy="936.7" r="0.8"/><circle cx="1233.2" cy="833.1" r="1.0"/><circle cx="1151.7" cy="994.5" r="1.0"/><circle cx="1138.4" cy="778.4" r="0.9"/><circle cx="1209.0" cy="928.5" r="0.8"/><circle cx="1212.4" cy="807.3" r="0.8"/><circle cx="1083.5" cy="981.2" r="0.7"/><circle cx="1124.5" cy="909.0" r="0.8"/><circle cx="1132.6" cy="801.3" r="1.0"/><circle cx="1247.8" cy="782.8" r="0.8"/><circle cx="1235.9" cy="993.6" r="0.7"/><circle cx="1301.3" cy="896.1" r="0.7"/><circle cx="1212.6" cy="1004.4" r="0.9"/><circle cx="1274.9" cy="835.7" r="0.9"/><circle cx="1149.6" cy="929.8" r="0.7"/><circle cx="1173.2" cy="769.4" r="0.7"/><circle cx="1168.0" cy="879.8" r="0.8"/><circle cx="1179.0" cy="740.3" r="0.8"/><circle cx="1101.1" cy="795.4" r="0.7"/><circle cx="1038.0" cy="829.8" r="0.9"/><circle cx="1091.2" cy="885.5" r="0.9"/><circle cx="1253.6" cy="842.0" r="0.8"/><circle cx="1159.9" cy="786.1" r="0.6"/><circle cx="1235.4" cy="837.6" r="0.6"/><circle cx="1043.9" cy="880.2" r="1.0"/><circle cx="1253.8" cy="953.5" r="0.8"/><circle cx="1238.1" cy="784.0" r="0.9"/><circle cx="1212.5" cy="833.4" r="0.8"/><circle cx="1226.1" cy="858.3" r="0.9"/><circle cx="1147.4" cy="837.4" r="0.6"/><circle cx="1287.3" cy="962.2" r="0.7"/><circle cx="1238.7" cy="847.8" r="0.8"/><circle cx="1303.1" cy="956.8" r="0.9"/><circle cx="1083.1" cy="970.5" r="0.8"/><circle cx="1091.1" cy="931.3" r="0.8"/><circle cx="1057.9" cy="783.9" r="0.7"/><circle cx="1291.3" cy="986.6" r="0.7"/><circle cx="1187.3" cy="845.2" r="0.7"/><circle cx="1139.5" cy="856.6" r="1.0"/><circle cx="1245.0" cy="893.5" r="0.9"/><circle cx="1135.8" cy="916.1" r="0.7"/><circle cx="1236.5" cy="830.4" r="0.8"/><circle cx="1258.5" cy="991.6" r="0.6"/><circle cx="1300.8" cy="834.1" r="0.9"/><circle cx="1126.9" cy="930.6" r="0.7"/><circle cx="1275.5" cy="976.9" r="0.7"/><circle cx="1238.9" cy="786.4" r="0.7"/><circle cx="1144.7" cy="855.3" r="0.8"/><circle cx="1189.9" cy="894.6" r="0.9"/><circle cx="1081.7" cy="758.0" r="0.9"/><circle cx="1278.9" cy="996.7" r="0.9"/><circle cx="1037.6" cy="917.9" r="0.8"/><circle cx="1235.1" cy="753.3" r="0.9"/><circle cx="1033.5" cy="774.7" r="0.7"/><circle cx="1241.0" cy="895.1" r="0.9"/><circle cx="1248.9" cy="824.1" r="0.9"/><circle cx="1302.2" cy="939.3" r="0.7"/><circle cx="1127.9" cy="988.5" r="0.7"/><circle cx="1246.1" cy="774.5" r="1.0"/><circle cx="1069.3" cy="741.4" r="1.0"/><circle cx="1221.2" cy="780.4" r="1.0"/><circle cx="1151.5" cy="919.1" r="0.8"/><circle cx="1116.0" cy="1000.5" r="0.9"/><circle cx="1178.7" cy="939.1" r="0.8"/><circle cx="1119.9" cy="919.7" r="0.9"/><circle cx="1054.6" cy="810.3" r="0.8"/><circle cx="1215.4" cy="833.0" r="0.7"/><circle cx="1268.5" cy="756.0" r="0.9"/><circle cx="1176.2" cy="778.4" r="0.9"/><circle cx="1221.1" cy="919.5" r="0.6"/><circle cx="1127.1" cy="906.6" r="0.9"/><circle cx="1204.9" cy="1009.7" r="0.6"/><circle cx="1072.9" cy="796.0" r="0.7"/><circle cx="1104.2" cy="917.2" r="1.0"/><circle cx="1313.3" cy="848.7" r="0.8"/><circle cx="1224.7" cy="764.2" r="0.7"/><circle cx="1177.1" cy="949.6" r="0.6"/><circle cx="1286.8" cy="923.4" r="0.9"/><circle cx="1100.3" cy="964.2" r="0.9"/><circle cx="1150.4" cy="1016.3" r="1.0"/><circle cx="1123.9" cy="823.1" r="0.9"/><circle cx="1260.1" cy="779.7" r="0.7"/><circle cx="1073.2" cy="985.0" r="0.8"/><circle cx="1179.9" cy="931.0" r="0.6"/><circle cx="1152.5" cy="966.8" r="0.6"/><circle cx="1229.3" cy="807.6" r="0.9"/><circle cx="1251.6" cy="962.4" r="1.0"/><circle cx="1191.5" cy="960.0" r="0.6"/><circle cx="1103.3" cy="928.4" r="0.8"/><circle cx="1055.5" cy="890.5" r="0.9"/><circle cx="1051.1" cy="768.6" r="0.7"/><circle cx="1102.2" cy="997.6" r="0.7"/><circle cx="1058.2" cy="808.4" r="0.7"/><circle cx="1034.0" cy="904.1" r="0.9"/><circle cx="1091.7" cy="781.4" r="0.7"/><circle cx="1088.3" cy="954.2" r="0.9"/><circle cx="1120.4" cy="1000.1" r="0.6"/><circle cx="1135.4" cy="828.4" r="0.9"/><circle cx="1218.2" cy="953.0" r="0.6"/><circle cx="1051.0" cy="946.8" r="0.8"/><circle cx="1123.9" cy="787.4" r="0.8"/><circle cx="1188.2" cy="769.6" r="0.9"/><circle cx="1065.5" cy="968.7" r="0.7"/><circle cx="1166.5" cy="1017.9" r="0.9"/><circle cx="1111.4" cy="893.0" r="1.0"/><circle cx="1275.2" cy="756.0" r="0.7"/><circle cx="1166.2" cy="750.7" r="0.7"/><circle cx="1239.9" cy="786.5" r="0.6"/><circle cx="1147.3" cy="808.7" r="0.9"/><circle cx="1159.2" cy="758.3" r="0.9"/><circle cx="1030.4" cy="972.3" r="1.0"/><circle cx="1184.2" cy="755.2" r="0.9"/><circle cx="1252.9" cy="973.2" r="0.7"/><circle cx="1191.5" cy="740.6" r="0.7"/><circle cx="1292.3" cy="920.4" r="0.7"/><circle cx="1312.0" cy="913.4" r="1.0"/><circle cx="1227.0" cy="903.5" r="0.7"/><circle cx="1149.6" cy="739.8" r="0.7"/><circle cx="1171.2" cy="901.8" r="0.9"/><circle cx="1301.1" cy="1011.9" r="0.8"/><circle cx="1095.3" cy="870.4" r="0.8"/><circle cx="1132.9" cy="969.6" r="0.7"/><circle cx="1133.9" cy="918.6" r="0.9"/><circle cx="1039.3" cy="954.4" r="0.6"/><circle cx="1199.3" cy="841.3" r="0.8"/><circle cx="1292.4" cy="1003.3" r="0.9"/><circle cx="1071.3" cy="990.0" r="0.9"/><circle cx="1146.3" cy="874.8" r="0.9"/><circle cx="1095.6" cy="894.9" r="0.9"/><circle cx="1231.3" cy="840.4" r="0.9"/><circle cx="1212.1" cy="755.5" r="0.7"/><circle cx="1105.8" cy="940.0" r="0.7"/><circle cx="1137.5" cy="928.9" r="0.6"/><circle cx="1153.4" cy="856.0" r="1.0"/><circle cx="1100.7" cy="963.4" r="0.7"/><circle cx="1080.5" cy="958.4" r="1.0"/><circle cx="1119.7" cy="996.3" r="0.9"/><circle cx="1159.9" cy="750.1" r="0.8"/><circle cx="1141.6" cy="905.3" r="0.9"/><circle cx="1056.0" cy="862.9" r="0.7"/><circle cx="1088.1" cy="761.9" r="0.6"/><circle cx="1196.0" cy="884.9" r="0.6"/><circle cx="1216.2" cy="737.5" r="1.0"/><circle cx="1168.6" cy="746.4" r="0.7"/><circle cx="1288.8" cy="957.6" r="0.7"/><circle cx="1297.6" cy="880.4" r="0.7"/><circle cx="1125.1" cy="891.2" r="0.6"/><circle cx="1038.7" cy="881.7" r="1.0"/><circle cx="1139.2" cy="898.9" r="0.8"/><circle cx="1079.2" cy="866.0" r="0.7"/><circle cx="1101.9" cy="900.4" r="0.7"/><circle cx="1071.5" cy="997.2" r="0.6"/><circle cx="1030.8" cy="809.1" r="1.0"/><circle cx="1166.9" cy="760.0" r="0.9"/><circle cx="1224.8" cy="885.4" r="0.7"/><circle cx="1148.2" cy="834.3" r="0.8"/><circle cx="1062.6" cy="993.8" r="0.8"/><circle cx="1132.1" cy="960.5" r="0.6"/><circle cx="1165.4" cy="855.9" r="0.8"/><circle cx="1084.0" cy="926.0" r="1.0"/><circle cx="1115.5" cy="814.3" r="0.7"/><circle cx="1262.2" cy="928.4" r="0.9"/><circle cx="1159.8" cy="744.1" r="1.0"/><circle cx="1143.8" cy="960.3" r="0.9"/><circle cx="1261.9" cy="800.4" r="0.8"/><circle cx="1069.4" cy="950.7" r="0.7"/><circle cx="1070.5" cy="945.7" r="1.0"/><circle cx="1040.0" cy="875.4" r="0.8"/><circle cx="1162.5" cy="772.4" r="0.9"/><circle cx="1225.9" cy="915.2" r="0.6"/><circle cx="1029.6" cy="820.9" r="0.6"/><circle cx="1113.5" cy="928.6" r="0.7"/><circle cx="1159.7" cy="858.3" r="0.7"/><circle cx="1196.9" cy="940.0" r="1.0"/><circle cx="1237.1" cy="916.0" r="0.9"/><circle cx="1089.8" cy="996.9" r="0.7"/><circle cx="1122.3" cy="776.2" r="0.9"/><circle cx="1252.6" cy="742.7" r="1.0"/><circle cx="1229.9" cy="783.1" r="0.6"/><circle cx="1227.0" cy="788.9" r="0.9"/><circle cx="1284.8" cy="793.7" r="0.7"/><circle cx="1170.9" cy="821.5" r="0.6"/><circle cx="1234.0" cy="942.2" r="0.7"/><circle cx="1072.6" cy="954.2" r="0.6"/><circle cx="1239.4" cy="925.1" r="0.7"/><circle cx="1110.7" cy="1017.3" r="0.8"/><circle cx="1145.2" cy="859.1" r="0.9"/><circle cx="1226.2" cy="741.1" r="0.8"/><circle cx="1253.4" cy="1014.9" r="0.8"/><circle cx="1112.1" cy="738.8" r="0.9"/><circle cx="1062.9" cy="754.0" r="0.9"/><circle cx="1246.3" cy="760.3" r="0.8"/><circle cx="1033.5" cy="947.4" r="0.8"/><circle cx="1208.5" cy="980.9" r="0.7"/><circle cx="1145.5" cy="890.7" r="0.7"/><circle cx="1037.4" cy="875.4" r="0.7"/><circle cx="1029.6" cy="943.9" r="0.7"/><circle cx="1286.1" cy="1001.9" r="0.8"/><circle cx="1196.4" cy="821.0" r="1.0"/><circle cx="1276.8" cy="827.6" r="0.8"/><circle cx="1153.6" cy="926.6" r="0.9"/><circle cx="1196.2" cy="868.8" r="0.6"/><circle cx="1250.1" cy="782.1" r="0.8"/><circle cx="1123.5" cy="781.6" r="0.6"/><circle cx="1096.9" cy="953.0" r="0.9"/><circle cx="1276.4" cy="848.6" r="0.8"/><circle cx="1271.1" cy="931.0" r="0.7"/><circle cx="1082.9" cy="902.7" r="1.0"/><circle cx="1068.0" cy="950.2" r="0.7"/><circle cx="1071.5" cy="739.2" r="1.0"/><circle cx="1241.3" cy="982.9" r="0.7"/><circle cx="1284.9" cy="960.5" r="0.6"/><circle cx="1271.8" cy="921.6" r="0.6"/><circle cx="1140.7" cy="880.9" r="0.7"/><circle cx="1101.7" cy="927.0" r="1.0"/><circle cx="1271.2" cy="802.6" r="0.8"/><circle cx="1187.7" cy="913.7" r="0.8"/><circle cx="1175.8" cy="795.4" r="0.8"/><circle cx="1131.9" cy="863.5" r="1.0"/><circle cx="1165.9" cy="992.7" r="0.9"/><circle cx="1028.0" cy="819.0" r="0.8"/><circle cx="1099.7" cy="779.8" r="0.7"/><circle cx="1238.3" cy="903.1" r="0.7"/><circle cx="1106.1" cy="743.9" r="0.8"/><circle cx="1308.6" cy="780.7" r="0.6"/><circle cx="1068.7" cy="975.2" r="0.6"/><circle cx="1266.4" cy="758.2" r="0.6"/><circle cx="1256.2" cy="749.6" r="0.7"/><circle cx="1031.3" cy="861.1" r="0.7"/><circle cx="1288.6" cy="954.8" r="0.7"/><circle cx="1188.3" cy="803.7" r="0.9"/><circle cx="1076.2" cy="972.5" r="1.0"/><circle cx="1208.5" cy="1001.5" r="0.9"/><circle cx="1227.0" cy="971.3" r="0.7"/><circle cx="1278.7" cy="816.3" r="0.7"/><circle cx="1061.7" cy="907.9" r="0.9"/><circle cx="1276.0" cy="831.5" r="0.8"/><circle cx="1053.0" cy="906.7" r="0.9"/><circle cx="1308.5" cy="957.6" r="0.9"/><circle cx="1103.6" cy="985.2" r="0.7"/><circle cx="1099.8" cy="843.1" r="0.8"/><circle cx="1182.9" cy="996.1" r="0.9"/><circle cx="1133.2" cy="963.9" r="0.7"/><circle cx="1259.7" cy="953.8" r="0.8"/><circle cx="1246.0" cy="755.5" r="0.9"/><circle cx="1053.2" cy="840.6" r="1.0"/><circle cx="1195.1" cy="875.3" r="0.8"/><circle cx="1293.0" cy="970.1" r="0.7"/><circle cx="1312.8" cy="783.9" r="0.7"/><circle cx="1170.9" cy="746.5" r="0.9"/><circle cx="1109.5" cy="920.2" r="0.6"/><circle cx="1127.8" cy="829.6" r="0.8"/><circle cx="1038.6" cy="913.3" r="0.7"/><circle cx="1265.1" cy="838.2" r="0.8"/><circle cx="1166.4" cy="977.7" r="1.0"/><circle cx="1274.1" cy="984.4" r="0.6"/><circle cx="1128.0" cy="792.6" r="0.9"/></g><path d="M1027.00,739.72 C1031.78,743.00 1048.97,745.82 1055.65,759.43 C1062.34,773.04 1064.48,801.67 1067.11,821.38 C1069.74,841.09 1070.21,859.87 1071.41,877.70 C1072.60,895.53 1073.80,919.94 1074.27,928.39" fill="none" stroke="#fbf6f6" stroke-width="1.30" stroke-linecap="round" stroke-linejoin="round"/><path d="M1064.24,973.44 C1060.42,970.63 1047.53,961.24 1041.33,956.55 C1035.12,951.85 1029.39,947.16 1027.00,945.28" fill="none" stroke="#fbf6f6" stroke-width="1.50" stroke-linecap="round" stroke-linejoin="round"/><path d="M1061.38,990.34 C1055.65,988.46 1032.73,980.95 1027.00,979.08" fill="none" stroke="#fbf6f6" stroke-width="1.20" stroke-linecap="round" stroke-linejoin="round"/><path d="M1072.84,917.12 C1073.99,916.84 1079.72,937.96 1081.43,942.47 C1083.15,946.97 1088.02,958.80 1090.03,962.18 C1092.04,965.56 1101.78,974.29 1101.49,976.26 C1101.20,978.23 1089.74,979.64 1087.16,981.89 C1084.59,984.14 1077.71,995.13 1075.70,998.79 C1073.70,1002.45 1070.26,1016.53 1067.11,1018.50 C1063.96,1020.47 1045.34,1020.75 1044.19,1018.50 C1043.04,1016.25 1053.64,1000.48 1055.65,995.97 C1057.66,991.47 1062.81,978.51 1064.24,973.44 C1065.68,968.38 1069.12,950.92 1069.97,945.28 C1070.83,939.65 1071.69,917.41 1072.84,917.12 Z" fill="#fbf7f5" stroke="none" stroke-width="1.00" /><path d="M1233.28,849.54 C1233.85,848.55 1250.47,840.11 1256.20,836.87 C1261.93,833.63 1284.85,820.11 1290.58,817.16 C1296.31,814.20 1311.21,807.30 1313.50,807.30 C1315.79,807.30 1315.51,815.33 1313.50,817.16 C1311.49,818.99 1299.75,822.65 1293.44,825.60 C1287.14,828.56 1256.49,844.33 1250.47,846.72 C1244.45,849.12 1232.71,850.53 1233.28,849.54 Z" fill="#fbf7f5" stroke="none" stroke-width="1.00" /><polygon points="1287.72,793.22 1313.50,800.26 1313.50,810.12 1299.17,804.48" fill="#fbf7f5" /></g>
<rect x="92.85" y="439.15" width="288.30" height="274.00" fill="none" stroke="#5a5a5a" stroke-width="1.7"/>
<rect x="394.85" y="439.25" width="296.30" height="274.60" fill="none" stroke="#5a5a5a" stroke-width="1.7"/>
<rect x="704.85" y="440.05" width="307.80" height="273.90" fill="none" stroke="#5a5a5a" stroke-width="1.7"/>
<rect x="1026.85" y="440.25" width="286.30" height="273.40" fill="none" stroke="#5a5a5a" stroke-width="1.7"/>
<rect x="92.85" y="737.25" width="288.30" height="280.50" fill="none" stroke="#5a5a5a" stroke-width="1.7"/>
<rect x="394.85" y="737.25" width="296.30" height="280.10" fill="none" stroke="#5a5a5a" stroke-width="1.7"/>
<rect x="704.85" y="737.35" width="306.80" height="280.00" fill="none" stroke="#5a5a5a" stroke-width="1.7"/>
<rect x="1027.85" y="737.75" width="284.80" height="279.90" fill="none" stroke="#5a5a5a" stroke-width="1.7"/>
<line x1="1417.50" y1="387.40" x2="1417.50" y2="651.90" stroke="#111111" stroke-width="2.60" stroke-linecap="butt" />
<line x1="1416.20" y1="650.60" x2="1781.80" y2="650.60" stroke="#111111" stroke-width="2.60" stroke-linecap="butt" />
<line x1="1409.60" y1="649.80" x2="1417.50" y2="649.80" stroke="#111111" stroke-width="2.60" stroke-linecap="butt" />
<text x="1399.18" y="654.50" font-size="13.30" fill="#111111" font-family="'Liberation Sans', sans-serif" text-anchor="start" ><tspan font-weight="bold" font-style="normal">4</tspan></text>
<line x1="1409.60" y1="606.28" x2="1417.50" y2="606.28" stroke="#111111" stroke-width="2.60" stroke-linecap="butt" />
<text x="1399.45" y="610.98" font-size="13.30" fill="#111111" font-family="'Liberation Sans', sans-serif" text-anchor="start" ><tspan font-weight="bold" font-style="normal">5</tspan></text>
<line x1="1409.60" y1="562.76" x2="1417.50" y2="562.76" stroke="#111111" stroke-width="2.60" stroke-linecap="butt" />
<text x="1399.58" y="567.46" font-size="13.30" fill="#111111" font-family="'Liberation Sans', sans-serif" text-anchor="start" ><tspan font-weight="bold" font-style="normal">6</tspan></text>
<line x1="1409.60" y1="519.24" x2="1417.50" y2="519.24" stroke="#111111" stroke-width="2.60" stroke-linecap="butt" />
<text x="1399.65" y="523.94" font-size="13.30" fill="#111111" font-family="'Liberation Sans', sans-serif" text-anchor="start" ><tspan font-weight="bold" font-style="normal">7</tspan></text>
<line x1="1409.60" y1="475.72" x2="1417.50" y2="475.72" stroke="#111111" stroke-width="2.60" stroke-linecap="butt" />
<text x="1399.52" y="480.42" font-size="13.30" fill="#111111" font-family="'Liberation Sans', sans-serif" text-anchor="start" ><tspan font-weight="bold" font-style="normal">8</tspan></text>
<line x1="1409.60" y1="432.20" x2="1417.50" y2="432.20" stroke="#111111" stroke-width="2.60" stroke-linecap="butt" />
<text x="1399.58" y="436.90" font-size="13.30" fill="#111111" font-family="'Liberation Sans', sans-serif" text-anchor="start" ><tspan font-weight="bold" font-style="normal">9</tspan></text>
<line x1="1409.60" y1="388.68" x2="1417.50" y2="388.68" stroke="#111111" stroke-width="2.60" stroke-linecap="butt" />
<text x="1392.27" y="393.38" font-size="13.30" fill="#111111" font-family="'Liberation Sans', sans-serif" text-anchor="start" ><tspan font-weight="bold" font-style="normal">10</tspan></text>
<text transform="translate(1384.90,618.65) rotate(-90)" x="0" y="0" font-size="13.08" fill="#111111" font-family="'Liberation Sans', sans-serif"><tspan font-weight="bold" font-style="normal">Pancreas/Body Weight Ratio (mg/g)</tspan></text>
<line x1="1473.20" y1="650.60" x2="1473.20" y2="658.80" stroke="#111111" stroke-width="2.60" stroke-linecap="butt" />
<line x1="1556.90" y1="650.60" x2="1556.90" y2="658.80" stroke="#111111" stroke-width="2.60" stroke-linecap="butt" />
<line x1="1640.60" y1="650.60" x2="1640.60" y2="658.80" stroke="#111111" stroke-width="2.60" stroke-linecap="butt" />
<line x1="1724.50" y1="650.60" x2="1724.50" y2="658.80" stroke="#111111" stroke-width="2.60" stroke-linecap="butt" />
<text x="1374.37" y="676.50" font-size="13.18" fill="#111111" font-family="'Liberation Sans', sans-serif"><tspan font-weight="bold" font-style="normal">Caerulein</tspan></text>
<text x="1470.96" y="676.30" font-size="13.40" fill="#111111" font-family="'Liberation Sans', sans-serif" text-anchor="start" ><tspan font-weight="bold" font-style="normal">-</tspan></text>
<text x="1552.98" y="676.30" font-size="13.40" fill="#111111" font-family="'Liberation Sans', sans-serif" text-anchor="start" ><tspan font-weight="bold" font-style="normal">+</tspan></text>
<text x="1636.68" y="676.30" font-size="13.40" fill="#111111" font-family="'Liberation Sans', sans-serif" text-anchor="start" ><tspan font-weight="bold" font-style="normal">+</tspan></text>
<text x="1720.58" y="676.30" font-size="13.40" fill="#111111" font-family="'Liberation Sans', sans-serif" text-anchor="start" ><tspan font-weight="bold" font-style="normal">+</tspan></text>
<line x1="1456.00" y1="681.60" x2="1488.00" y2="681.60" stroke="#111111" stroke-width="2.10" stroke-linecap="butt" />
<line x1="1542.90" y1="681.60" x2="1738.30" y2="681.60" stroke="#111111" stroke-width="2.10" stroke-linecap="butt" />
<path d="M1447.75,650.00 L1447.75,569.00 L1498.65,569.00 L1498.65,650.00" fill="none" stroke="#999999" stroke-width="2.60" stroke-linejoin="miter"/>
<path d="M1531.45,650.00 L1531.45,489.60 L1582.35,489.60 L1582.35,650.00" fill="none" stroke="#111111" stroke-width="2.60" stroke-linejoin="miter"/>
<path d="M1615.15,650.00 L1615.15,474.90 L1666.05,474.90 L1666.05,650.00" fill="none" stroke="#1fa23c" stroke-width="2.60" stroke-linejoin="miter"/>
<path d="M1699.05,650.00 L1699.05,540.60 L1749.95,540.60 L1749.95,650.00" fill="none" stroke="#11409d" stroke-width="2.60" stroke-linejoin="miter"/>
<line x1="1473.20" y1="569.00" x2="1473.20" y2="536.60" stroke="#888888" stroke-width="2.00" stroke-linecap="butt" /><line x1="1459.60" y1="536.60" x2="1486.80" y2="536.60" stroke="#888888" stroke-width="2.00" stroke-linecap="butt" /><line x1="1473.20" y1="569.00" x2="1473.20" y2="597.40" stroke="#888888" stroke-width="2.00" stroke-linecap="butt" /><line x1="1459.60" y1="597.40" x2="1486.80" y2="597.40" stroke="#888888" stroke-width="2.00" stroke-linecap="butt" />
<line x1="1556.90" y1="489.60" x2="1556.90" y2="471.30" stroke="#111111" stroke-width="2.40" stroke-linecap="butt" /><line x1="1543.30" y1="471.30" x2="1570.50" y2="471.30" stroke="#111111" stroke-width="2.40" stroke-linecap="butt" /><line x1="1556.90" y1="489.60" x2="1556.90" y2="503.90" stroke="#111111" stroke-width="2.40" stroke-linecap="butt" /><line x1="1543.30" y1="503.90" x2="1570.50" y2="503.90" stroke="#111111" stroke-width="2.40" stroke-linecap="butt" />
<line x1="1640.60" y1="474.90" x2="1640.60" y2="440.20" stroke="#1fa23c" stroke-width="2.40" stroke-linecap="butt" /><line x1="1627.00" y1="440.20" x2="1654.20" y2="440.20" stroke="#1fa23c" stroke-width="2.40" stroke-linecap="butt" /><line x1="1640.60" y1="474.90" x2="1640.60" y2="504.40" stroke="#1fa23c" stroke-width="2.40" stroke-linecap="butt" /><line x1="1627.00" y1="504.40" x2="1654.20" y2="504.40" stroke="#1fa23c" stroke-width="2.40" stroke-linecap="butt" />
<line x1="1724.50" y1="540.60" x2="1724.50" y2="506.20" stroke="#11409d" stroke-width="2.40" stroke-linecap="butt" /><line x1="1710.75" y1="506.20" x2="1738.25" y2="506.20" stroke="#11409d" stroke-width="2.40" stroke-linecap="butt" /><line x1="1724.50" y1="540.60" x2="1724.50" y2="570.40" stroke="#11409d" stroke-width="2.40" stroke-linecap="butt" /><line x1="1710.75" y1="570.40" x2="1738.25" y2="570.40" stroke="#11409d" stroke-width="2.40" stroke-linecap="butt" />
<polygon points="1473.20,522.10 1478.80,527.70 1473.20,533.30 1467.60,527.70" fill="#7d7d7d" />
<polygon points="1459.40,544.30 1465.00,549.90 1459.40,555.50 1453.80,549.90" fill="#7d7d7d" />
<polygon points="1487.10,556.60 1492.70,562.20 1487.10,567.80 1481.50,562.20" fill="#7d7d7d" />
<polygon points="1459.40,588.20 1465.00,593.80 1459.40,599.40 1453.80,593.80" fill="#7d7d7d" />
<polygon points="1487.10,594.80 1492.70,600.40 1487.10,606.00 1481.50,600.40" fill="#7d7d7d" />
<circle cx="1556.80" cy="461.10" r="5.50" fill="#111111" />
<circle cx="1538.30" cy="490.70" r="5.50" fill="#111111" />
<circle cx="1556.80" cy="486.80" r="5.50" fill="#111111" />
<circle cx="1556.80" cy="493.80" r="5.50" fill="#111111" />
<circle cx="1575.20" cy="505.40" r="5.50" fill="#111111" />
<polygon points="1631.60,425.03 1637.35,435.53 1625.85,435.53" fill="#1fa23c" />
<polygon points="1650.30,441.43 1656.05,451.93 1644.55,451.93" fill="#1fa23c" />
<polygon points="1621.80,484.12 1627.55,494.62 1616.05,494.62" fill="#1fa23c" />
<polygon points="1640.50,493.43 1646.25,503.93 1634.75,503.93" fill="#1fa23c" />
<polygon points="1659.10,492.73 1664.85,503.23 1653.35,503.23" fill="#1fa23c" />
<rect x="1718.80" y="495.20" width="11.20" height="11.20" fill="#11409d" />
<rect x="1705.10" y="514.60" width="11.20" height="11.20" fill="#11409d" />
<rect x="1732.80" y="523.50" width="11.20" height="11.20" fill="#11409d" />
<rect x="1718.80" y="553.50" width="11.20" height="11.20" fill="#11409d" />
<rect x="1718.80" y="576.00" width="11.20" height="11.20" fill="#11409d" />
<path d="M1473.20,381.90 L1473.20,370.50 L1724.40,370.50 L1724.40,381.90" fill="none" stroke="#555555" stroke-width="1.40"/>
<path d="M1473.20,403.70 L1473.20,392.80 L1555.10,392.80 L1555.10,403.70" fill="none" stroke="#555555" stroke-width="1.40"/>
<path d="M1556.70,403.70 L1556.70,392.80 L1724.40,392.80 L1724.40,403.70" fill="none" stroke="#555555" stroke-width="1.40"/>
<path d="M1473.20,430.90 L1473.20,420.10 L1640.60,420.10 L1640.60,430.90" fill="none" stroke="#555555" stroke-width="1.40"/>
<path d="M1642.20,430.90 L1642.20,420.10 L1724.40,420.10 L1724.40,430.90" fill="none" stroke="#555555" stroke-width="1.40"/>
<text x="1591.02" y="366.40" font-size="13.60" fill="#111111" font-family="'Liberation Sans', sans-serif" text-anchor="start" ><tspan font-weight="normal" font-style="normal">ns</tspan></text>
<text x="1508.66" y="392.82" font-size="16.00" fill="#111111" font-family="'Liberation Sans', sans-serif" text-anchor="start" ><tspan font-weight="bold" font-style="normal">**</tspan></text>
<text x="1635.88" y="395.62" font-size="16.00" fill="#111111" font-family="'Liberation Sans', sans-serif" text-anchor="start" ><tspan font-weight="bold" font-style="normal">*</tspan></text>
<text x="1543.84" y="421.32" font-size="16.00" fill="#111111" font-family="'Liberation Sans', sans-serif" text-anchor="start" ><tspan font-weight="bold" font-style="normal">***</tspan></text>
<text x="1677.16" y="422.92" font-size="16.00" fill="#111111" font-family="'Liberation Sans', sans-serif" text-anchor="start" ><tspan font-weight="bold" font-style="normal">**</tspan></text>
<text transform="translate(1477.00,697.00) rotate(-31.0)" x="-92.89" y="0" font-size="14.00" fill="#111111" font-family="'Liberation Sans', sans-serif"><tspan font-weight="bold" font-style="normal">Normal Saline</tspan></text>
<text transform="translate(1561.00,697.00) rotate(-31.0)" x="-110.04" y="0" font-size="14.00" fill="#111111" font-family="'Liberation Sans', sans-serif"><tspan font-weight="bold" font-style="normal">No Virus Control</tspan></text>
<text transform="translate(1645.00,697.00) rotate(-31.0)" x="-89.81" y="0" font-size="14.00" fill="#111111" font-family="'Liberation Sans', sans-serif"><tspan font-weight="bold" font-style="normal">AAV8-Control</tspan></text>
<text transform="translate(1728.50,697.00) rotate(-31.0)" x="-99.75" y="0" font-size="14.00" fill="#111111" font-family="'Liberation Sans', sans-serif"><tspan font-weight="bold" font-style="normal">AAV8-hSPINK1</tspan></text>
<line x1="1397.60" y1="792.20" x2="1397.60" y2="1029.20" stroke="#111111" stroke-width="2.40" stroke-linecap="butt" />
<line x1="1396.40" y1="1028.00" x2="1788.70" y2="1028.00" stroke="#111111" stroke-width="2.40" stroke-linecap="butt" />
<line x1="1390.10" y1="1028.00" x2="1397.60" y2="1028.00" stroke="#111111" stroke-width="2.40" stroke-linecap="butt" />
<text x="1380.81" y="1032.40" font-size="12.60" fill="#111111" font-family="'Liberation Sans', sans-serif" text-anchor="start" ><tspan font-weight="bold" font-style="normal">0</tspan></text>
<line x1="1390.10" y1="981.05" x2="1397.60" y2="981.05" stroke="#111111" stroke-width="2.40" stroke-linecap="butt" />
<text x="1380.62" y="985.45" font-size="12.60" fill="#111111" font-family="'Liberation Sans', sans-serif" text-anchor="start" ><tspan font-weight="bold" font-style="normal">1</tspan></text>
<line x1="1390.10" y1="934.10" x2="1397.60" y2="934.10" stroke="#111111" stroke-width="2.40" stroke-linecap="butt" />
<text x="1380.81" y="938.50" font-size="12.60" fill="#111111" font-family="'Liberation Sans', sans-serif" text-anchor="start" ><tspan font-weight="bold" font-style="normal">2</tspan></text>
<line x1="1390.10" y1="887.15" x2="1397.60" y2="887.15" stroke="#111111" stroke-width="2.40" stroke-linecap="butt" />
<text x="1380.75" y="891.55" font-size="12.60" fill="#111111" font-family="'Liberation Sans', sans-serif" text-anchor="start" ><tspan font-weight="bold" font-style="normal">3</tspan></text>
<line x1="1390.10" y1="840.20" x2="1397.60" y2="840.20" stroke="#111111" stroke-width="2.40" stroke-linecap="butt" />
<text x="1380.37" y="844.60" font-size="12.60" fill="#111111" font-family="'Liberation Sans', sans-serif" text-anchor="start" ><tspan font-weight="bold" font-style="normal">4</tspan></text>
<line x1="1390.10" y1="793.25" x2="1397.60" y2="793.25" stroke="#111111" stroke-width="2.40" stroke-linecap="butt" />
<text x="1380.62" y="797.65" font-size="12.60" fill="#111111" font-family="'Liberation Sans', sans-serif" text-anchor="start" ><tspan font-weight="bold" font-style="normal">5</tspan></text>
<text transform="translate(1373.60,964.93) rotate(-90)" x="0" y="0" font-size="14.27" fill="#111111" font-family="'Liberation Sans', sans-serif"><tspan font-weight="bold" font-style="normal">Histology Score</tspan></text>
<line x1="1458.80" y1="1028.00" x2="1458.80" y2="1035.00" stroke="#111111" stroke-width="2.40" stroke-linecap="butt" />
<line x1="1591.80" y1="1028.00" x2="1591.80" y2="1035.00" stroke="#111111" stroke-width="2.40" stroke-linecap="butt" />
<line x1="1725.20" y1="1028.00" x2="1725.20" y2="1035.00" stroke="#111111" stroke-width="2.40" stroke-linecap="butt" />
<text x="1438.00" y="1048.90" font-size="12.40" fill="#111111" font-family="'Liberation Sans', sans-serif" text-anchor="start" ><tspan font-weight="bold" font-style="normal">Edema</tspan></text>
<text x="1552.49" y="1048.90" font-size="12.40" fill="#111111" font-family="'Liberation Sans', sans-serif" text-anchor="start" ><tspan font-weight="bold" font-style="normal">Inflammatory</tspan></text>
<text x="1567.12" y="1063.80" font-size="12.40" fill="#111111" font-family="'Liberation Sans', sans-serif" text-anchor="start" ><tspan font-weight="bold" font-style="normal">infiltrate</tspan></text>
<text x="1705.83" y="1048.90" font-size="12.40" fill="#111111" font-family="'Liberation Sans', sans-serif" text-anchor="start" ><tspan font-weight="bold" font-style="normal">Acinar</tspan></text>
<text x="1699.56" y="1063.80" font-size="12.40" fill="#111111" font-family="'Liberation Sans', sans-serif" text-anchor="start" ><tspan font-weight="bold" font-style="normal">necrosis</tspan></text>
<path d="M1408.30,1028.00 L1408.30,1024.50 L1423.30,1024.50 L1423.30,1028.00" fill="none" stroke="#8f8f8f" stroke-width="2.40" stroke-linejoin="miter"/>
<path d="M1436.95,1028.00 L1436.95,893.05 L1451.95,893.05 L1451.95,1028.00" fill="none" stroke="#111111" stroke-width="2.40" stroke-linejoin="miter"/>
<path d="M1465.65,1028.00 L1465.65,864.88 L1480.65,864.88 L1480.65,1028.00" fill="none" stroke="#1fa23c" stroke-width="2.40" stroke-linejoin="miter"/>
<path d="M1494.30,1028.00 L1494.30,949.38 L1509.30,949.38 L1509.30,1028.00" fill="none" stroke="#11409d" stroke-width="2.40" stroke-linejoin="miter"/>
<line x1="1415.80" y1="1024.50" x2="1415.80" y2="1012.51" stroke="#8f8f8f" stroke-width="2.00" stroke-linecap="butt" /><line x1="1409.30" y1="1012.51" x2="1422.30" y2="1012.51" stroke="#8f8f8f" stroke-width="2.00" stroke-linecap="butt" />
<line x1="1444.45" y1="893.05" x2="1444.45" y2="857.10" stroke="#111111" stroke-width="2.00" stroke-linecap="butt" /><line x1="1437.95" y1="857.10" x2="1450.95" y2="857.10" stroke="#111111" stroke-width="2.00" stroke-linecap="butt" /><line x1="1444.45" y1="893.05" x2="1444.45" y2="926.59" stroke="#111111" stroke-width="2.00" stroke-linecap="butt" /><line x1="1437.95" y1="926.59" x2="1450.95" y2="926.59" stroke="#111111" stroke-width="2.00" stroke-linecap="butt" />
<line x1="1473.15" y1="864.88" x2="1473.15" y2="829.87" stroke="#1fa23c" stroke-width="2.00" stroke-linecap="butt" /><line x1="1466.65" y1="829.87" x2="1479.65" y2="829.87" stroke="#1fa23c" stroke-width="2.00" stroke-linecap="butt" /><line x1="1473.15" y1="864.88" x2="1473.15" y2="897.48" stroke="#1fa23c" stroke-width="2.00" stroke-linecap="butt" /><line x1="1466.65" y1="897.48" x2="1479.65" y2="897.48" stroke="#1fa23c" stroke-width="2.00" stroke-linecap="butt" />
<line x1="1501.80" y1="949.38" x2="1501.80" y2="921.42" stroke="#11409d" stroke-width="2.00" stroke-linecap="butt" /><line x1="1495.30" y1="921.42" x2="1508.30" y2="921.42" stroke="#11409d" stroke-width="2.00" stroke-linecap="butt" /><line x1="1501.80" y1="949.38" x2="1501.80" y2="974.95" stroke="#11409d" stroke-width="2.00" stroke-linecap="butt" /><line x1="1495.30" y1="974.95" x2="1508.30" y2="974.95" stroke="#11409d" stroke-width="2.00" stroke-linecap="butt" />
<polygon points="1415.80,999.32 1421.00,1004.52 1415.80,1009.73 1410.60,1004.52" fill="#7d7d7d" />
<polygon points="1410.80,1022.80 1416.00,1028.00 1410.80,1033.20 1405.60,1028.00" fill="#7d7d7d" />
<polygon points="1420.80,1022.80 1426.00,1028.00 1420.80,1033.20 1415.60,1028.00" fill="#7d7d7d" />
<polygon points="1415.80,1022.80 1421.00,1028.00 1415.80,1033.20 1410.60,1028.00" fill="#7d7d7d" />
<circle cx="1444.45" cy="840.20" r="5.00" fill="#111111" />
<circle cx="1439.45" cy="887.15" r="5.00" fill="#111111" />
<circle cx="1444.45" cy="887.15" r="5.00" fill="#111111" />
<circle cx="1449.45" cy="887.15" r="5.00" fill="#111111" />
<circle cx="1444.45" cy="910.62" r="5.00" fill="#111111" />
<circle cx="1444.45" cy="934.10" r="5.00" fill="#111111" />
<polygon points="1468.15,834.70 1473.65,844.70 1462.65,844.70" fill="#1fa23c" />
<polygon points="1473.15,834.70 1478.65,844.70 1467.65,844.70" fill="#1fa23c" />
<polygon points="1478.15,834.70 1483.65,844.70 1472.65,844.70" fill="#1fa23c" />
<polygon points="1473.15,881.65 1478.65,891.65 1467.65,891.65" fill="#1fa23c" />
<polygon points="1473.15,905.12 1478.65,915.12 1467.65,915.12" fill="#1fa23c" />
<rect x="1496.80" y="905.62" width="10.00" height="10.00" fill="#11409d" />
<rect x="1496.80" y="929.10" width="10.00" height="10.00" fill="#11409d" />
<rect x="1491.80" y="952.58" width="10.00" height="10.00" fill="#11409d" />
<rect x="1501.80" y="952.58" width="10.00" height="10.00" fill="#11409d" />
<rect x="1496.80" y="976.05" width="10.00" height="10.00" fill="#11409d" />
<path d="M1541.30,1028.00 L1541.30,1016.52 L1556.30,1016.52 L1556.30,1028.00" fill="none" stroke="#8f8f8f" stroke-width="2.40" stroke-linejoin="miter"/>
<path d="M1569.95,1028.00 L1569.95,911.83 L1584.95,911.83 L1584.95,1028.00" fill="none" stroke="#111111" stroke-width="2.40" stroke-linejoin="miter"/>
<path d="M1598.65,1028.00 L1598.65,897.74 L1613.65,897.74 L1613.65,1028.00" fill="none" stroke="#1fa23c" stroke-width="2.40" stroke-linejoin="miter"/>
<path d="M1627.30,1028.00 L1627.30,958.78 L1642.30,958.78 L1642.30,1028.00" fill="none" stroke="#11409d" stroke-width="2.40" stroke-linejoin="miter"/>
<line x1="1548.80" y1="1016.52" x2="1548.80" y2="1004.52" stroke="#8f8f8f" stroke-width="2.00" stroke-linecap="butt" /><line x1="1542.30" y1="1004.52" x2="1555.30" y2="1004.52" stroke="#8f8f8f" stroke-width="2.00" stroke-linecap="butt" />
<line x1="1577.45" y1="911.83" x2="1577.45" y2="893.72" stroke="#111111" stroke-width="2.00" stroke-linecap="butt" /><line x1="1570.95" y1="893.72" x2="1583.95" y2="893.72" stroke="#111111" stroke-width="2.00" stroke-linecap="butt" /><line x1="1577.45" y1="911.83" x2="1577.45" y2="927.06" stroke="#111111" stroke-width="2.00" stroke-linecap="butt" /><line x1="1570.95" y1="927.06" x2="1583.95" y2="927.06" stroke="#111111" stroke-width="2.00" stroke-linecap="butt" />
<line x1="1606.15" y1="897.74" x2="1606.15" y2="853.82" stroke="#1fa23c" stroke-width="2.00" stroke-linecap="butt" /><line x1="1599.65" y1="853.82" x2="1612.65" y2="853.82" stroke="#1fa23c" stroke-width="2.00" stroke-linecap="butt" /><line x1="1606.15" y1="897.74" x2="1606.15" y2="938.79" stroke="#1fa23c" stroke-width="2.00" stroke-linecap="butt" /><line x1="1599.65" y1="938.79" x2="1612.65" y2="938.79" stroke="#1fa23c" stroke-width="2.00" stroke-linecap="butt" />
<line x1="1634.80" y1="958.78" x2="1634.80" y2="931.28" stroke="#11409d" stroke-width="2.00" stroke-linecap="butt" /><line x1="1628.30" y1="931.28" x2="1641.30" y2="931.28" stroke="#11409d" stroke-width="2.00" stroke-linecap="butt" /><line x1="1634.80" y1="958.78" x2="1634.80" y2="985.75" stroke="#11409d" stroke-width="2.00" stroke-linecap="butt" /><line x1="1628.30" y1="985.75" x2="1641.30" y2="985.75" stroke="#11409d" stroke-width="2.00" stroke-linecap="butt" />
<polygon points="1543.80,999.32 1549.00,1004.52 1543.80,1009.73 1538.60,1004.52" fill="#7d7d7d" />
<polygon points="1548.80,999.32 1554.00,1004.52 1548.80,1009.73 1543.60,1004.52" fill="#7d7d7d" />
<polygon points="1553.80,999.32 1559.00,1004.52 1553.80,1009.73 1548.60,1004.52" fill="#7d7d7d" />
<polygon points="1544.80,1022.80 1550.00,1028.00 1544.80,1033.20 1539.60,1028.00" fill="#7d7d7d" />
<polygon points="1552.80,1022.80 1558.00,1028.00 1552.80,1033.20 1547.60,1028.00" fill="#7d7d7d" />
<circle cx="1577.45" cy="887.15" r="5.00" fill="#111111" />
<circle cx="1571.45" cy="910.62" r="5.00" fill="#111111" />
<circle cx="1577.45" cy="910.62" r="5.00" fill="#111111" />
<circle cx="1583.45" cy="910.62" r="5.00" fill="#111111" />
<circle cx="1577.45" cy="934.10" r="5.00" fill="#111111" />
<polygon points="1606.15,834.70 1611.65,844.70 1600.65,844.70" fill="#1fa23c" />
<polygon points="1606.15,858.17 1611.65,868.17 1600.65,868.17" fill="#1fa23c" />
<polygon points="1606.15,905.12 1611.65,915.12 1600.65,915.12" fill="#1fa23c" />
<polygon points="1601.15,928.60 1606.65,938.60 1595.65,938.60" fill="#1fa23c" />
<polygon points="1611.15,928.60 1616.65,938.60 1605.65,938.60" fill="#1fa23c" />
<rect x="1624.80" y="929.10" width="10.00" height="10.00" fill="#11409d" />
<rect x="1634.80" y="929.10" width="10.00" height="10.00" fill="#11409d" />
<rect x="1624.80" y="952.58" width="10.00" height="10.00" fill="#11409d" />
<rect x="1634.80" y="952.58" width="10.00" height="10.00" fill="#11409d" />
<rect x="1629.80" y="999.52" width="10.00" height="10.00" fill="#11409d" />
<path d="M1674.70,1028.00 L1674.70,1019.81 L1689.70,1019.81 L1689.70,1028.00" fill="none" stroke="#8f8f8f" stroke-width="2.40" stroke-linejoin="miter"/>
<path d="M1703.35,1028.00 L1703.35,911.83 L1718.35,911.83 L1718.35,1028.00" fill="none" stroke="#111111" stroke-width="2.40" stroke-linejoin="miter"/>
<path d="M1732.05,1028.00 L1732.05,874.27 L1747.05,874.27 L1747.05,1028.00" fill="none" stroke="#1fa23c" stroke-width="2.40" stroke-linejoin="miter"/>
<path d="M1760.70,1028.00 L1760.70,958.78 L1775.70,958.78 L1775.70,1028.00" fill="none" stroke="#11409d" stroke-width="2.40" stroke-linejoin="miter"/>
<line x1="1682.20" y1="1019.81" x2="1682.20" y2="1006.87" stroke="#8f8f8f" stroke-width="2.00" stroke-linecap="butt" /><line x1="1675.70" y1="1006.87" x2="1688.70" y2="1006.87" stroke="#8f8f8f" stroke-width="2.00" stroke-linecap="butt" />
<line x1="1710.85" y1="911.83" x2="1710.85" y2="887.15" stroke="#111111" stroke-width="2.00" stroke-linecap="butt" /><line x1="1704.35" y1="887.15" x2="1717.35" y2="887.15" stroke="#111111" stroke-width="2.00" stroke-linecap="butt" /><line x1="1710.85" y1="911.83" x2="1710.85" y2="934.10" stroke="#111111" stroke-width="2.00" stroke-linecap="butt" /><line x1="1704.35" y1="934.10" x2="1717.35" y2="934.10" stroke="#111111" stroke-width="2.00" stroke-linecap="butt" />
<line x1="1739.55" y1="874.27" x2="1739.55" y2="852.41" stroke="#1fa23c" stroke-width="2.00" stroke-linecap="butt" /><line x1="1733.05" y1="852.41" x2="1746.05" y2="852.41" stroke="#1fa23c" stroke-width="2.00" stroke-linecap="butt" /><line x1="1739.55" y1="874.27" x2="1739.55" y2="893.72" stroke="#1fa23c" stroke-width="2.00" stroke-linecap="butt" /><line x1="1733.05" y1="893.72" x2="1746.05" y2="893.72" stroke="#1fa23c" stroke-width="2.00" stroke-linecap="butt" />
<line x1="1768.20" y1="958.78" x2="1768.20" y2="941.61" stroke="#11409d" stroke-width="2.00" stroke-linecap="butt" /><line x1="1761.70" y1="941.61" x2="1774.70" y2="941.61" stroke="#11409d" stroke-width="2.00" stroke-linecap="butt" /><line x1="1768.20" y1="958.78" x2="1768.20" y2="973.54" stroke="#11409d" stroke-width="2.00" stroke-linecap="butt" /><line x1="1761.70" y1="973.54" x2="1774.70" y2="973.54" stroke="#11409d" stroke-width="2.00" stroke-linecap="butt" />
<polygon points="1682.20,999.32 1687.40,1004.52 1682.20,1009.73 1677.00,1004.52" fill="#7d7d7d" />
<polygon points="1677.20,1022.80 1682.40,1028.00 1677.20,1033.20 1672.00,1028.00" fill="#7d7d7d" />
<polygon points="1682.20,1022.80 1687.40,1028.00 1682.20,1033.20 1677.00,1028.00" fill="#7d7d7d" />
<polygon points="1687.20,1022.80 1692.40,1028.00 1687.20,1033.20 1682.00,1028.00" fill="#7d7d7d" />
<circle cx="1705.85" cy="887.15" r="5.00" fill="#111111" />
<circle cx="1715.85" cy="887.15" r="5.00" fill="#111111" />
<circle cx="1710.85" cy="910.62" r="5.00" fill="#111111" />
<circle cx="1705.85" cy="934.10" r="5.00" fill="#111111" />
<circle cx="1715.85" cy="934.10" r="5.00" fill="#111111" />
<polygon points="1739.55,834.70 1745.05,844.70 1734.05,844.70" fill="#1fa23c" />
<polygon points="1739.55,858.17 1745.05,868.17 1734.05,868.17" fill="#1fa23c" />
<polygon points="1734.55,881.65 1740.05,891.65 1729.05,891.65" fill="#1fa23c" />
<polygon points="1739.55,881.65 1745.05,891.65 1734.05,891.65" fill="#1fa23c" />
<polygon points="1744.55,881.65 1750.05,891.65 1739.05,891.65" fill="#1fa23c" />
<rect x="1763.20" y="929.10" width="10.00" height="10.00" fill="#11409d" />
<rect x="1758.20" y="952.58" width="10.00" height="10.00" fill="#11409d" />
<rect x="1768.20" y="952.58" width="10.00" height="10.00" fill="#11409d" />
<rect x="1763.20" y="976.05" width="10.00" height="10.00" fill="#11409d" />
<path d="M1417.50,793.30 L1417.50,783.40 L1500.70,783.40 L1500.70,793.30" fill="none" stroke="#555555" stroke-width="1.30"/>
<path d="M1446.50,810.10 L1446.50,800.20 L1500.70,800.20 L1500.70,810.10" fill="none" stroke="#555555" stroke-width="1.30"/>
<path d="M1470.30,825.60 L1470.30,815.30 L1500.70,815.30 L1500.70,825.60" fill="none" stroke="#555555" stroke-width="1.30"/>
<path d="M1550.50,796.30 L1550.50,786.40 L1633.70,786.40 L1633.70,796.30" fill="none" stroke="#555555" stroke-width="1.30"/>
<path d="M1579.50,813.10 L1579.50,803.20 L1633.70,803.20 L1633.70,813.10" fill="none" stroke="#555555" stroke-width="1.30"/>
<path d="M1603.30,828.60 L1603.30,818.30 L1633.70,818.30 L1633.70,828.60" fill="none" stroke="#555555" stroke-width="1.30"/>
<path d="M1683.90,796.30 L1683.90,786.40 L1767.10,786.40 L1767.10,796.30" fill="none" stroke="#555555" stroke-width="1.30"/>
<path d="M1712.90,813.10 L1712.90,803.20 L1767.10,803.20 L1767.10,813.10" fill="none" stroke="#555555" stroke-width="1.30"/>
<path d="M1736.70,828.60 L1736.70,818.30 L1767.10,818.30 L1767.10,828.60" fill="none" stroke="#555555" stroke-width="1.30"/>
<text x="1448.73" y="784.74" font-size="14.50" fill="#111111" font-family="'Liberation Sans', sans-serif" text-anchor="start" ><tspan font-weight="bold" font-style="normal">****</tspan></text>
<text x="1469.35" y="801.24" font-size="14.50" fill="#111111" font-family="'Liberation Sans', sans-serif" text-anchor="start" ><tspan font-weight="bold" font-style="normal">**</tspan></text>
<text x="1476.82" y="817.94" font-size="14.50" fill="#111111" font-family="'Liberation Sans', sans-serif" text-anchor="start" ><tspan font-weight="bold" font-style="normal">***</tspan></text>
<text x="1588.94" y="787.54" font-size="14.50" fill="#111111" font-family="'Liberation Sans', sans-serif" text-anchor="start" ><tspan font-weight="bold" font-style="normal">**</tspan></text>
<text x="1606.37" y="804.24" font-size="14.50" fill="#111111" font-family="'Liberation Sans', sans-serif" text-anchor="start" ><tspan font-weight="bold" font-style="normal">*</tspan></text>
<text x="1613.25" y="820.54" font-size="14.50" fill="#111111" font-family="'Liberation Sans', sans-serif" text-anchor="start" ><tspan font-weight="bold" font-style="normal">**</tspan></text>
<text x="1722.35" y="787.54" font-size="14.50" fill="#111111" font-family="'Liberation Sans', sans-serif" text-anchor="start" ><tspan font-weight="bold" font-style="normal">**</tspan></text>
<text x="1739.77" y="804.74" font-size="14.50" fill="#111111" font-family="'Liberation Sans', sans-serif" text-anchor="start" ><tspan font-weight="bold" font-style="normal">*</tspan></text>
<text x="1744.32" y="820.54" font-size="14.50" fill="#111111" font-family="'Liberation Sans', sans-serif" text-anchor="start" ><tspan font-weight="bold" font-style="normal">***</tspan></text>
<polygon points="1800.70,787.10 1806.00,792.40 1800.70,797.70 1795.40,792.40" fill="#7d7d7d" />
<circle cx="1800.70" cy="828.20" r="5.30" fill="#111111" />
<polygon points="1800.70,862.23 1806.20,872.73 1795.20,872.73" fill="#1fa23c" />
<rect x="1795.40" y="899.00" width="10.60" height="10.60" fill="#11409d" />
<text x="1819.80" y="788.90" font-size="11.50" fill="#111111" font-family="'Liberation Sans', sans-serif" text-anchor="start" ><tspan font-weight="normal" font-style="normal">Normal Saline</tspan></text>
<text x="1819.80" y="803.30" font-size="11.50" fill="#111111" font-family="'Liberation Sans', sans-serif" text-anchor="start" ><tspan font-weight="normal" font-style="normal">without Caerulein</tspan></text>
<text x="1819.80" y="824.70" font-size="11.50" fill="#111111" font-family="'Liberation Sans', sans-serif" text-anchor="start" ><tspan font-weight="normal" font-style="normal">No Virus Control</tspan></text>
<text x="1819.80" y="838.70" font-size="11.50" fill="#111111" font-family="'Liberation Sans', sans-serif" text-anchor="start" ><tspan font-weight="normal" font-style="normal">+ Caerulein</tspan></text>
<text x="1819.80" y="864.00" font-size="11.50" fill="#111111" font-family="'Liberation Sans', sans-serif" text-anchor="start" ><tspan font-weight="normal" font-style="normal">AAV8-Control</tspan></text>
<text x="1819.80" y="878.00" font-size="11.50" fill="#111111" font-family="'Liberation Sans', sans-serif" text-anchor="start" ><tspan font-weight="normal" font-style="normal">+ Caerulein</tspan></text>
<text x="1819.80" y="915.30" font-size="11.50" fill="#111111" font-family="'Liberation Sans', sans-serif" text-anchor="start" ><tspan font-weight="normal" font-style="normal">+ Caerulein</tspan></text>
<text x="1819.80" y="901.30" font-size="11.50" fill="#111111" font-family="'Liberation Sans', sans-serif" text-anchor="start" ><tspan font-weight="normal" font-style="normal">AAV8-</tspan><tspan font-weight="normal" font-style="italic">hSPINK1</tspan></text>
<text x="14.82" y="1112.60" font-size="41.98" fill="#231815" font-family="'Liberation Sans', sans-serif"><tspan font-weight="bold" font-style="normal">C</tspan></text>
<line x1="241.60" y1="1164.70" x2="241.60" y2="1450.60" stroke="#111111" stroke-width="3.40" stroke-linecap="butt" />
<line x1="239.90" y1="1448.90" x2="716.00" y2="1448.90" stroke="#111111" stroke-width="3.40" stroke-linecap="butt" />
<line x1="231.10" y1="1448.90" x2="241.60" y2="1448.90" stroke="#111111" stroke-width="3.40" stroke-linecap="butt" />
<text x="204.95" y="1454.90" font-size="17.40" fill="#111111" font-family="'Liberation Sans', sans-serif" text-anchor="start" ><tspan font-weight="bold" font-style="normal">1.5</tspan></text>
<line x1="231.10" y1="1378.30" x2="241.60" y2="1378.30" stroke="#111111" stroke-width="3.40" stroke-linecap="butt" />
<text x="205.21" y="1384.30" font-size="17.40" fill="#111111" font-family="'Liberation Sans', sans-serif" text-anchor="start" ><tspan font-weight="bold" font-style="normal">2.0</tspan></text>
<line x1="231.10" y1="1307.70" x2="241.60" y2="1307.70" stroke="#111111" stroke-width="3.40" stroke-linecap="butt" />
<text x="204.95" y="1313.70" font-size="17.40" fill="#111111" font-family="'Liberation Sans', sans-serif" text-anchor="start" ><tspan font-weight="bold" font-style="normal">2.5</tspan></text>
<line x1="231.10" y1="1237.10" x2="241.60" y2="1237.10" stroke="#111111" stroke-width="3.40" stroke-linecap="butt" />
<text x="205.21" y="1243.10" font-size="17.40" fill="#111111" font-family="'Liberation Sans', sans-serif" text-anchor="start" ><tspan font-weight="bold" font-style="normal">3.0</tspan></text>
<line x1="231.10" y1="1166.50" x2="241.60" y2="1166.50" stroke="#111111" stroke-width="3.40" stroke-linecap="butt" />
<text x="204.95" y="1172.50" font-size="17.40" fill="#111111" font-family="'Liberation Sans', sans-serif" text-anchor="start" ><tspan font-weight="bold" font-style="normal">3.5</tspan></text>
<text transform="translate(191.90,1383.70) rotate(-90)" x="0" y="0" font-size="20.07" fill="#111111" font-family="'Liberation Sans', sans-serif"><tspan font-weight="bold" font-style="normal">Amylase (U/mL)</tspan></text>
<line x1="315.00" y1="1448.90" x2="315.00" y2="1460.00" stroke="#111111" stroke-width="3.40" stroke-linecap="butt" />
<line x1="423.80" y1="1448.90" x2="423.80" y2="1460.00" stroke="#111111" stroke-width="3.40" stroke-linecap="butt" />
<line x1="532.60" y1="1448.90" x2="532.60" y2="1460.00" stroke="#111111" stroke-width="3.40" stroke-linecap="butt" />
<line x1="641.90" y1="1448.90" x2="641.90" y2="1460.00" stroke="#111111" stroke-width="3.40" stroke-linecap="butt" />
<text x="181.12" y="1473.40" font-size="17.10" fill="#111111" font-family="'Liberation Sans', sans-serif"><tspan font-weight="bold" font-style="normal">Caerulein</tspan></text>
<text x="312.07" y="1474.00" font-size="17.50" fill="#111111" font-family="'Liberation Sans', sans-serif" text-anchor="start" ><tspan font-weight="bold" font-style="normal">-</tspan></text>
<text x="418.68" y="1474.00" font-size="17.50" fill="#111111" font-family="'Liberation Sans', sans-serif" text-anchor="start" ><tspan font-weight="bold" font-style="normal">+</tspan></text>
<text x="527.48" y="1474.00" font-size="17.50" fill="#111111" font-family="'Liberation Sans', sans-serif" text-anchor="start" ><tspan font-weight="bold" font-style="normal">+</tspan></text>
<text x="636.78" y="1474.00" font-size="17.50" fill="#111111" font-family="'Liberation Sans', sans-serif" text-anchor="start" ><tspan font-weight="bold" font-style="normal">+</tspan></text>
<line x1="293.70" y1="1480.90" x2="335.40" y2="1480.90" stroke="#111111" stroke-width="2.60" stroke-linecap="butt" />
<line x1="408.00" y1="1480.90" x2="662.70" y2="1480.90" stroke="#111111" stroke-width="2.60" stroke-linecap="butt" />
<path d="M282.25,1449.00 L282.25,1369.35 L347.75,1369.35 L347.75,1449.00" fill="none" stroke="#8b8b8b" stroke-width="3.50" stroke-linejoin="miter"/>
<path d="M391.05,1449.00 L391.05,1293.05 L456.55,1293.05 L456.55,1449.00" fill="none" stroke="#111111" stroke-width="3.50" stroke-linejoin="miter"/>
<path d="M499.85,1449.00 L499.85,1289.95 L565.35,1289.95 L565.35,1449.00" fill="none" stroke="#21a640" stroke-width="3.50" stroke-linejoin="miter"/>
<path d="M609.15,1449.00 L609.15,1363.35 L674.65,1363.35 L674.65,1449.00" fill="none" stroke="#1d49a0" stroke-width="3.50" stroke-linejoin="miter"/>
<line x1="315.00" y1="1369.40" x2="315.00" y2="1347.30" stroke="#8b8b8b" stroke-width="1.70" stroke-linecap="butt" /><line x1="297.15" y1="1347.30" x2="332.85" y2="1347.30" stroke="#8b8b8b" stroke-width="1.70" stroke-linecap="butt" /><line x1="315.00" y1="1369.40" x2="315.00" y2="1385.30" stroke="#8b8b8b" stroke-width="1.70" stroke-linecap="butt" /><line x1="297.15" y1="1385.30" x2="332.85" y2="1385.30" stroke="#8b8b8b" stroke-width="1.70" stroke-linecap="butt" />
<line x1="423.80" y1="1293.00" x2="423.80" y2="1261.60" stroke="#111111" stroke-width="1.70" stroke-linecap="butt" /><line x1="408.30" y1="1261.60" x2="439.30" y2="1261.60" stroke="#111111" stroke-width="1.70" stroke-linecap="butt" /><line x1="423.80" y1="1293.00" x2="423.80" y2="1318.90" stroke="#111111" stroke-width="1.70" stroke-linecap="butt" /><line x1="408.30" y1="1318.90" x2="439.30" y2="1318.90" stroke="#111111" stroke-width="1.70" stroke-linecap="butt" />
<line x1="532.60" y1="1290.00" x2="532.60" y2="1237.70" stroke="#21a640" stroke-width="1.90" stroke-linecap="butt" /><line x1="514.60" y1="1237.70" x2="550.60" y2="1237.70" stroke="#21a640" stroke-width="1.90" stroke-linecap="butt" /><line x1="532.60" y1="1290.00" x2="532.60" y2="1336.40" stroke="#21a640" stroke-width="1.90" stroke-linecap="butt" /><line x1="514.60" y1="1336.40" x2="550.60" y2="1336.40" stroke="#21a640" stroke-width="1.90" stroke-linecap="butt" />
<line x1="641.90" y1="1363.40" x2="641.90" y2="1339.70" stroke="#1d49a0" stroke-width="1.90" stroke-linecap="butt" /><line x1="620.40" y1="1339.70" x2="663.40" y2="1339.70" stroke="#1d49a0" stroke-width="1.90" stroke-linecap="butt" /><line x1="641.90" y1="1363.40" x2="641.90" y2="1381.00" stroke="#1d49a0" stroke-width="1.90" stroke-linecap="butt" /><line x1="620.40" y1="1381.00" x2="663.40" y2="1381.00" stroke="#1d49a0" stroke-width="1.90" stroke-linecap="butt" />
<polygon points="302.80,1335.60 308.80,1341.60 302.80,1347.60 296.80,1341.60" fill="#7d7d7d" />
<polygon points="326.80,1345.50 332.80,1351.50 326.80,1357.50 320.80,1351.50" fill="#7d7d7d" />
<polygon points="290.30,1368.90 296.30,1374.90 290.30,1380.90 284.30,1374.90" fill="#7d7d7d" />
<polygon points="315.00,1374.10 321.00,1380.10 315.00,1386.10 309.00,1380.10" fill="#7d7d7d" />
<polygon points="339.30,1377.75 345.30,1383.75 339.30,1389.75 333.30,1383.75" fill="#7d7d7d" />
<circle cx="412.20" cy="1256.90" r="6.00" fill="#111111" />
<circle cx="436.10" cy="1262.10" r="6.00" fill="#111111" />
<circle cx="399.20" cy="1303.30" r="6.00" fill="#111111" />
<circle cx="423.60" cy="1309.80" r="6.00" fill="#111111" />
<circle cx="447.90" cy="1319.40" r="6.00" fill="#111111" />
<polygon points="533.00,1194.84 539.10,1206.04 526.90,1206.04" fill="#21a640" />
<polygon points="533.00,1292.44 539.10,1303.64 526.90,1303.64" fill="#21a640" />
<polygon points="508.50,1302.04 514.60,1313.24 502.40,1313.24" fill="#21a640" />
<polygon points="533.00,1309.84 539.10,1321.04 526.90,1321.04" fill="#21a640" />
<polygon points="557.20,1311.14 563.30,1322.34 551.10,1322.34" fill="#21a640" />
<rect x="611.60" y="1332.90" width="12.20" height="12.20" fill="#1d49a0" />
<rect x="635.80" y="1341.90" width="12.20" height="12.20" fill="#1d49a0" />
<rect x="659.70" y="1345.40" width="12.20" height="12.20" fill="#1d49a0" />
<rect x="623.50" y="1374.00" width="12.20" height="12.20" fill="#1d49a0" />
<rect x="647.50" y="1378.40" width="12.20" height="12.20" fill="#1d49a0" />
<path d="M316.00,1126.70 L316.00,1113.10 L643.75,1113.10 L643.75,1126.70" fill="none" stroke="#1a1a1a" stroke-width="1.50"/>
<path d="M316.00,1154.00 L316.00,1140.80 L423.20,1140.80 L423.20,1154.00" fill="none" stroke="#1a1a1a" stroke-width="1.50"/>
<path d="M425.00,1154.00 L425.00,1140.80 L643.75,1140.80 L643.75,1154.00" fill="none" stroke="#1a1a1a" stroke-width="1.50"/>
<path d="M316.00,1188.40 L316.00,1175.20 L534.30,1175.20 L534.30,1188.40" fill="none" stroke="#1a1a1a" stroke-width="1.50"/>
<path d="M536.10,1188.40 L536.10,1175.20 L643.75,1175.20 L643.75,1188.40" fill="none" stroke="#1a1a1a" stroke-width="1.50"/>
<text x="469.93" y="1106.40" font-size="18.00" fill="#111111" font-family="'Liberation Sans', sans-serif" text-anchor="start" ><tspan font-weight="normal" font-style="normal">ns</tspan></text>
<text x="362.40" y="1141.70" font-size="20.00" fill="#111111" font-family="'Liberation Sans', sans-serif" text-anchor="start" ><tspan font-weight="bold" font-style="normal">**</tspan></text>
<text x="525.30" y="1144.80" font-size="20.00" fill="#111111" font-family="'Liberation Sans', sans-serif" text-anchor="start" ><tspan font-weight="bold" font-style="normal">**</tspan></text>
<text x="404.50" y="1176.90" font-size="20.00" fill="#111111" font-family="'Liberation Sans', sans-serif" text-anchor="start" ><tspan font-weight="bold" font-style="normal">**</tspan></text>
<text x="582.00" y="1179.20" font-size="20.00" fill="#111111" font-family="'Liberation Sans', sans-serif" text-anchor="start" ><tspan font-weight="bold" font-style="normal">**</tspan></text>
<text transform="translate(319.50,1499.50) rotate(-30.0)" x="-119.43" y="0" font-size="18.00" fill="#111111" font-family="'Liberation Sans', sans-serif"><tspan font-weight="bold" font-style="normal">Normal Saline</tspan></text>
<text transform="translate(428.00,1499.50) rotate(-30.0)" x="-141.48" y="0" font-size="18.00" fill="#111111" font-family="'Liberation Sans', sans-serif"><tspan font-weight="bold" font-style="normal">No Virus Control</tspan></text>
<text transform="translate(537.00,1499.50) rotate(-30.0)" x="-115.47" y="0" font-size="18.00" fill="#111111" font-family="'Liberation Sans', sans-serif"><tspan font-weight="bold" font-style="normal">AAV8-Control</tspan></text>
<text transform="translate(646.00,1500.50) rotate(-30.0)" x="-128.25" y="0" font-size="18.00" fill="#111111" font-family="'Liberation Sans', sans-serif"><tspan font-weight="bold" font-style="normal">AAV8-hSPINK1</tspan></text>
<text x="817.58" y="1113.10" font-size="43.41" fill="#231815" font-family="'Liberation Sans', sans-serif"><tspan font-weight="bold" font-style="normal">D</tspan></text>
<line x1="992.60" y1="1114.30" x2="992.60" y2="1522.60" stroke="#111111" stroke-width="3.20" stroke-linecap="butt" />
<line x1="991.00" y1="1521.00" x2="1518.00" y2="1521.00" stroke="#111111" stroke-width="3.20" stroke-linecap="butt" />
<line x1="982.80" y1="1521.00" x2="992.60" y2="1521.00" stroke="#111111" stroke-width="3.20" stroke-linecap="butt" />
<text x="967.31" y="1527.90" font-size="19.40" fill="#111111" font-family="'Liberation Sans', sans-serif" text-anchor="start" ><tspan font-weight="bold" font-style="normal">0</tspan></text>
<line x1="982.80" y1="1439.98" x2="992.60" y2="1439.98" stroke="#111111" stroke-width="3.20" stroke-linecap="butt" />
<text x="956.54" y="1446.88" font-size="19.40" fill="#111111" font-family="'Liberation Sans', sans-serif" text-anchor="start" ><tspan font-weight="bold" font-style="normal">20</tspan></text>
<line x1="982.80" y1="1358.96" x2="992.60" y2="1358.96" stroke="#111111" stroke-width="3.20" stroke-linecap="butt" />
<text x="956.54" y="1365.86" font-size="19.40" fill="#111111" font-family="'Liberation Sans', sans-serif" text-anchor="start" ><tspan font-weight="bold" font-style="normal">40</tspan></text>
<line x1="982.80" y1="1277.94" x2="992.60" y2="1277.94" stroke="#111111" stroke-width="3.20" stroke-linecap="butt" />
<text x="956.54" y="1284.84" font-size="19.40" fill="#111111" font-family="'Liberation Sans', sans-serif" text-anchor="start" ><tspan font-weight="bold" font-style="normal">60</tspan></text>
<line x1="982.80" y1="1196.92" x2="992.60" y2="1196.92" stroke="#111111" stroke-width="3.20" stroke-linecap="butt" />
<text x="956.54" y="1203.82" font-size="19.40" fill="#111111" font-family="'Liberation Sans', sans-serif" text-anchor="start" ><tspan font-weight="bold" font-style="normal">80</tspan></text>
<line x1="982.80" y1="1115.90" x2="992.60" y2="1115.90" stroke="#111111" stroke-width="3.20" stroke-linecap="butt" />
<text x="945.77" y="1122.80" font-size="19.40" fill="#111111" font-family="'Liberation Sans', sans-serif" text-anchor="start" ><tspan font-weight="bold" font-style="normal">100</tspan></text>
<line x1="992.50" y1="1521.00" x2="992.50" y2="1531.90" stroke="#111111" stroke-width="3.20" stroke-linecap="butt" />
<text x="987.06" y="1553.40" font-size="19.60" fill="#111111" font-family="'Liberation Sans', sans-serif" text-anchor="start" ><tspan font-weight="bold" font-style="normal">0</tspan></text>
<line x1="1050.70" y1="1521.00" x2="1050.70" y2="1531.90" stroke="#111111" stroke-width="3.20" stroke-linecap="butt" />
<text x="1039.63" y="1553.40" font-size="19.60" fill="#111111" font-family="'Liberation Sans', sans-serif" text-anchor="start" ><tspan font-weight="bold" font-style="normal">10</tspan></text>
<line x1="1108.90" y1="1521.00" x2="1108.90" y2="1531.90" stroke="#111111" stroke-width="3.20" stroke-linecap="butt" />
<text x="1098.07" y="1553.40" font-size="19.60" fill="#111111" font-family="'Liberation Sans', sans-serif" text-anchor="start" ><tspan font-weight="bold" font-style="normal">20</tspan></text>
<line x1="1167.10" y1="1521.00" x2="1167.10" y2="1531.90" stroke="#111111" stroke-width="3.20" stroke-linecap="butt" />
<text x="1156.37" y="1553.40" font-size="19.60" fill="#111111" font-family="'Liberation Sans', sans-serif" text-anchor="start" ><tspan font-weight="bold" font-style="normal">30</tspan></text>
<line x1="1225.30" y1="1521.00" x2="1225.30" y2="1531.90" stroke="#111111" stroke-width="3.20" stroke-linecap="butt" />
<text x="1214.67" y="1553.40" font-size="19.60" fill="#111111" font-family="'Liberation Sans', sans-serif" text-anchor="start" ><tspan font-weight="bold" font-style="normal">40</tspan></text>
<line x1="1283.50" y1="1521.00" x2="1283.50" y2="1531.90" stroke="#111111" stroke-width="3.20" stroke-linecap="butt" />
<text x="1272.72" y="1553.40" font-size="19.60" fill="#111111" font-family="'Liberation Sans', sans-serif" text-anchor="start" ><tspan font-weight="bold" font-style="normal">50</tspan></text>
<line x1="1341.70" y1="1521.00" x2="1341.70" y2="1531.90" stroke="#111111" stroke-width="3.20" stroke-linecap="butt" />
<text x="1330.87" y="1553.40" font-size="19.60" fill="#111111" font-family="'Liberation Sans', sans-serif" text-anchor="start" ><tspan font-weight="bold" font-style="normal">60</tspan></text>
<line x1="1399.90" y1="1521.00" x2="1399.90" y2="1531.90" stroke="#111111" stroke-width="3.20" stroke-linecap="butt" />
<text x="1389.02" y="1553.40" font-size="19.60" fill="#111111" font-family="'Liberation Sans', sans-serif" text-anchor="start" ><tspan font-weight="bold" font-style="normal">70</tspan></text>
<line x1="1458.10" y1="1521.00" x2="1458.10" y2="1531.90" stroke="#111111" stroke-width="3.20" stroke-linecap="butt" />
<text x="1447.32" y="1553.40" font-size="19.60" fill="#111111" font-family="'Liberation Sans', sans-serif" text-anchor="start" ><tspan font-weight="bold" font-style="normal">80</tspan></text>
<line x1="1516.30" y1="1521.00" x2="1516.30" y2="1531.90" stroke="#111111" stroke-width="3.20" stroke-linecap="butt" />
<text x="1505.47" y="1553.40" font-size="19.60" fill="#111111" font-family="'Liberation Sans', sans-serif" text-anchor="start" ><tspan font-weight="bold" font-style="normal">90</tspan></text>
<text x="1201.39" y="1587.20" font-size="21.27" fill="#111111" font-family="'Liberation Sans', sans-serif"><tspan font-weight="bold" font-style="normal">Time (min)</tspan></text>
<text transform="translate(938.00,1387.35) rotate(-90)" x="0" y="0" font-size="20.82" fill="#111111" font-family="'Liberation Sans', sans-serif"><tspan font-weight="bold" font-style="normal">RFU Ratio (%)</tspan></text>
<path d="M1000.65,1521.00 C1003.46,1513.17 1012.09,1492.44 1017.53,1474.01 C1022.96,1455.58 1028.58,1429.72 1033.24,1410.41 C1037.90,1391.10 1041.52,1374.08 1045.46,1358.15 C1049.40,1342.22 1053.23,1327.70 1056.87,1314.80 C1060.51,1301.91 1063.43,1294.14 1067.29,1280.78 C1071.15,1267.41 1076.01,1247.56 1080.03,1234.59 C1084.06,1221.63 1087.50,1213.06 1091.44,1203.00 C1095.38,1192.94 1099.30,1182.00 1103.66,1174.23 C1108.03,1166.47 1112.39,1161.81 1117.63,1156.41 C1122.87,1151.01 1129.75,1145.34 1135.09,1141.83 C1140.42,1138.32 1144.40,1137.17 1149.64,1135.34 C1154.88,1133.52 1158.76,1132.17 1166.52,1130.89 C1174.28,1129.61 1186.40,1128.39 1196.20,1127.65 C1206.00,1126.91 1210.75,1126.70 1225.30,1126.43 C1239.85,1126.16 1235.00,1126.10 1283.50,1126.03 C1332.00,1125.96 1477.50,1126.03 1516.30,1126.03" fill="none" stroke="#111111" stroke-width="2.60" />
<line x1="1079.80" y1="1186.60" x2="1079.80" y2="1265.30" stroke="#111111" stroke-width="1.60" stroke-linecap="butt" /><line x1="1073.80" y1="1186.60" x2="1085.80" y2="1186.60" stroke="#111111" stroke-width="1.60" stroke-linecap="butt" /><line x1="1073.80" y1="1265.30" x2="1085.80" y2="1265.30" stroke="#111111" stroke-width="1.60" stroke-linecap="butt" />
<line x1="1108.90" y1="1150.20" x2="1108.90" y2="1210.30" stroke="#111111" stroke-width="1.60" stroke-linecap="butt" /><line x1="1102.90" y1="1150.20" x2="1114.90" y2="1150.20" stroke="#111111" stroke-width="1.60" stroke-linecap="butt" /><line x1="1102.90" y1="1210.30" x2="1114.90" y2="1210.30" stroke="#111111" stroke-width="1.60" stroke-linecap="butt" />
<line x1="1138.00" y1="1129.40" x2="1138.00" y2="1176.25" stroke="#111111" stroke-width="1.60" stroke-linecap="butt" /><line x1="1132.00" y1="1129.40" x2="1144.00" y2="1129.40" stroke="#111111" stroke-width="1.60" stroke-linecap="butt" /><line x1="1132.00" y1="1176.25" x2="1144.00" y2="1176.25" stroke="#111111" stroke-width="1.60" stroke-linecap="butt" />
<line x1="1167.10" y1="1127.60" x2="1167.10" y2="1143.10" stroke="#111111" stroke-width="1.60" stroke-linecap="butt" /><line x1="1161.10" y1="1127.60" x2="1173.10" y2="1127.60" stroke="#111111" stroke-width="1.60" stroke-linecap="butt" /><line x1="1161.10" y1="1143.10" x2="1173.10" y2="1143.10" stroke="#111111" stroke-width="1.60" stroke-linecap="butt" />
<polyline points="992.50,1521.00 1021.60,1516.70 1050.70,1510.60 1079.80,1506.30 1108.90,1503.70 1138.00,1499.30 1167.10,1492.50 1196.20,1485.90 1225.30,1477.50 1254.40,1470.60 1283.50,1464.40 1312.60,1454.60 1341.70,1445.30 1370.80,1436.25 1399.90,1427.40 1429.00,1418.40 1458.10,1410.00 1487.20,1401.20 1516.30,1391.25" fill="none" stroke="#0b4ea6" stroke-width="3"/>
<line x1="1021.60" y1="1512.50" x2="1021.60" y2="1520.50" stroke="#0b4ea6" stroke-width="2.40" stroke-linecap="butt" /><line x1="1014.10" y1="1512.50" x2="1029.10" y2="1512.50" stroke="#0b4ea6" stroke-width="2.60" stroke-linecap="butt" /><line x1="1014.10" y1="1520.50" x2="1029.10" y2="1520.50" stroke="#0b4ea6" stroke-width="2.60" stroke-linecap="butt" />
<line x1="1050.70" y1="1505.00" x2="1050.70" y2="1516.00" stroke="#0b4ea6" stroke-width="2.40" stroke-linecap="butt" /><line x1="1043.20" y1="1505.00" x2="1058.20" y2="1505.00" stroke="#0b4ea6" stroke-width="2.60" stroke-linecap="butt" /><line x1="1043.20" y1="1516.00" x2="1058.20" y2="1516.00" stroke="#0b4ea6" stroke-width="2.60" stroke-linecap="butt" />
<line x1="1079.80" y1="1497.60" x2="1079.80" y2="1515.00" stroke="#0b4ea6" stroke-width="2.40" stroke-linecap="butt" /><line x1="1072.30" y1="1497.60" x2="1087.30" y2="1497.60" stroke="#0b4ea6" stroke-width="2.60" stroke-linecap="butt" /><line x1="1072.30" y1="1515.00" x2="1087.30" y2="1515.00" stroke="#0b4ea6" stroke-width="2.60" stroke-linecap="butt" />
<line x1="1108.90" y1="1489.75" x2="1108.90" y2="1517.70" stroke="#0b4ea6" stroke-width="2.40" stroke-linecap="butt" /><line x1="1101.40" y1="1489.75" x2="1116.40" y2="1489.75" stroke="#0b4ea6" stroke-width="2.60" stroke-linecap="butt" /><line x1="1101.40" y1="1517.70" x2="1116.40" y2="1517.70" stroke="#0b4ea6" stroke-width="2.60" stroke-linecap="butt" />
<line x1="1138.00" y1="1485.00" x2="1138.00" y2="1513.60" stroke="#0b4ea6" stroke-width="2.40" stroke-linecap="butt" /><line x1="1130.50" y1="1485.00" x2="1145.50" y2="1485.00" stroke="#0b4ea6" stroke-width="2.60" stroke-linecap="butt" /><line x1="1130.50" y1="1513.60" x2="1145.50" y2="1513.60" stroke="#0b4ea6" stroke-width="2.60" stroke-linecap="butt" />
<line x1="1167.10" y1="1477.50" x2="1167.10" y2="1507.00" stroke="#0b4ea6" stroke-width="2.40" stroke-linecap="butt" /><line x1="1159.60" y1="1477.50" x2="1174.60" y2="1477.50" stroke="#0b4ea6" stroke-width="2.60" stroke-linecap="butt" /><line x1="1159.60" y1="1507.00" x2="1174.60" y2="1507.00" stroke="#0b4ea6" stroke-width="2.60" stroke-linecap="butt" />
<line x1="1196.20" y1="1469.60" x2="1196.20" y2="1502.25" stroke="#0b4ea6" stroke-width="2.40" stroke-linecap="butt" /><line x1="1188.70" y1="1469.60" x2="1203.70" y2="1469.60" stroke="#0b4ea6" stroke-width="2.60" stroke-linecap="butt" /><line x1="1188.70" y1="1502.25" x2="1203.70" y2="1502.25" stroke="#0b4ea6" stroke-width="2.60" stroke-linecap="butt" />
<line x1="1225.30" y1="1460.25" x2="1225.30" y2="1495.30" stroke="#0b4ea6" stroke-width="2.40" stroke-linecap="butt" /><line x1="1217.80" y1="1460.25" x2="1232.80" y2="1460.25" stroke="#0b4ea6" stroke-width="2.60" stroke-linecap="butt" /><line x1="1217.80" y1="1495.30" x2="1232.80" y2="1495.30" stroke="#0b4ea6" stroke-width="2.60" stroke-linecap="butt" />
<line x1="1254.40" y1="1454.00" x2="1254.40" y2="1486.90" stroke="#0b4ea6" stroke-width="2.40" stroke-linecap="butt" /><line x1="1246.90" y1="1454.00" x2="1261.90" y2="1454.00" stroke="#0b4ea6" stroke-width="2.60" stroke-linecap="butt" /><line x1="1246.90" y1="1486.90" x2="1261.90" y2="1486.90" stroke="#0b4ea6" stroke-width="2.60" stroke-linecap="butt" />
<line x1="1283.50" y1="1449.40" x2="1283.50" y2="1478.40" stroke="#0b4ea6" stroke-width="2.40" stroke-linecap="butt" /><line x1="1276.00" y1="1449.40" x2="1291.00" y2="1449.40" stroke="#0b4ea6" stroke-width="2.60" stroke-linecap="butt" /><line x1="1276.00" y1="1478.40" x2="1291.00" y2="1478.40" stroke="#0b4ea6" stroke-width="2.60" stroke-linecap="butt" />
<line x1="1312.60" y1="1437.20" x2="1312.60" y2="1471.50" stroke="#0b4ea6" stroke-width="2.40" stroke-linecap="butt" /><line x1="1305.10" y1="1437.20" x2="1320.10" y2="1437.20" stroke="#0b4ea6" stroke-width="2.60" stroke-linecap="butt" /><line x1="1305.10" y1="1471.50" x2="1320.10" y2="1471.50" stroke="#0b4ea6" stroke-width="2.60" stroke-linecap="butt" />
<line x1="1341.70" y1="1427.80" x2="1341.70" y2="1463.10" stroke="#0b4ea6" stroke-width="2.40" stroke-linecap="butt" /><line x1="1334.20" y1="1427.80" x2="1349.20" y2="1427.80" stroke="#0b4ea6" stroke-width="2.60" stroke-linecap="butt" /><line x1="1334.20" y1="1463.10" x2="1349.20" y2="1463.10" stroke="#0b4ea6" stroke-width="2.60" stroke-linecap="butt" />
<line x1="1370.80" y1="1414.70" x2="1370.80" y2="1457.40" stroke="#0b4ea6" stroke-width="2.40" stroke-linecap="butt" /><line x1="1363.30" y1="1414.70" x2="1378.30" y2="1414.70" stroke="#0b4ea6" stroke-width="2.60" stroke-linecap="butt" /><line x1="1363.30" y1="1457.40" x2="1378.30" y2="1457.40" stroke="#0b4ea6" stroke-width="2.60" stroke-linecap="butt" />
<line x1="1399.90" y1="1400.70" x2="1399.90" y2="1455.00" stroke="#0b4ea6" stroke-width="2.40" stroke-linecap="butt" /><line x1="1392.40" y1="1400.70" x2="1407.40" y2="1400.70" stroke="#0b4ea6" stroke-width="2.60" stroke-linecap="butt" /><line x1="1392.40" y1="1455.00" x2="1407.40" y2="1455.00" stroke="#0b4ea6" stroke-width="2.60" stroke-linecap="butt" />
<line x1="1429.00" y1="1386.00" x2="1429.00" y2="1451.25" stroke="#0b4ea6" stroke-width="2.40" stroke-linecap="butt" /><line x1="1421.50" y1="1386.00" x2="1436.50" y2="1386.00" stroke="#0b4ea6" stroke-width="2.60" stroke-linecap="butt" /><line x1="1421.50" y1="1451.25" x2="1436.50" y2="1451.25" stroke="#0b4ea6" stroke-width="2.60" stroke-linecap="butt" />
<line x1="1458.10" y1="1371.50" x2="1458.10" y2="1449.00" stroke="#0b4ea6" stroke-width="2.40" stroke-linecap="butt" /><line x1="1450.60" y1="1371.50" x2="1465.60" y2="1371.50" stroke="#0b4ea6" stroke-width="2.60" stroke-linecap="butt" /><line x1="1450.60" y1="1449.00" x2="1465.60" y2="1449.00" stroke="#0b4ea6" stroke-width="2.60" stroke-linecap="butt" />
<line x1="1487.20" y1="1358.75" x2="1487.20" y2="1443.75" stroke="#0b4ea6" stroke-width="2.40" stroke-linecap="butt" /><line x1="1479.70" y1="1358.75" x2="1494.70" y2="1358.75" stroke="#0b4ea6" stroke-width="2.60" stroke-linecap="butt" /><line x1="1479.70" y1="1443.75" x2="1494.70" y2="1443.75" stroke="#0b4ea6" stroke-width="2.60" stroke-linecap="butt" />
<line x1="1516.30" y1="1344.75" x2="1516.30" y2="1437.75" stroke="#0b4ea6" stroke-width="2.40" stroke-linecap="butt" /><line x1="1508.80" y1="1344.75" x2="1523.80" y2="1344.75" stroke="#0b4ea6" stroke-width="2.60" stroke-linecap="butt" /><line x1="1508.80" y1="1437.75" x2="1523.80" y2="1437.75" stroke="#0b4ea6" stroke-width="2.60" stroke-linecap="butt" />
<rect x="985.20" y="1513.70" width="14.60" height="14.60" fill="#0b4ea6" />
<rect x="1014.30" y="1509.40" width="14.60" height="14.60" fill="#0b4ea6" />
<rect x="1043.40" y="1503.30" width="14.60" height="14.60" fill="#0b4ea6" />
<rect x="1072.50" y="1499.00" width="14.60" height="14.60" fill="#0b4ea6" />
<rect x="1101.60" y="1496.40" width="14.60" height="14.60" fill="#0b4ea6" />
<rect x="1130.70" y="1492.00" width="14.60" height="14.60" fill="#0b4ea6" />
<rect x="1159.80" y="1485.20" width="14.60" height="14.60" fill="#0b4ea6" />
<rect x="1188.90" y="1478.60" width="14.60" height="14.60" fill="#0b4ea6" />
<rect x="1218.00" y="1470.20" width="14.60" height="14.60" fill="#0b4ea6" />
<rect x="1247.10" y="1463.30" width="14.60" height="14.60" fill="#0b4ea6" />
<rect x="1276.20" y="1457.10" width="14.60" height="14.60" fill="#0b4ea6" />
<rect x="1305.30" y="1447.30" width="14.60" height="14.60" fill="#0b4ea6" />
<rect x="1334.40" y="1438.00" width="14.60" height="14.60" fill="#0b4ea6" />
<rect x="1363.50" y="1428.95" width="14.60" height="14.60" fill="#0b4ea6" />
<rect x="1392.60" y="1420.10" width="14.60" height="14.60" fill="#0b4ea6" />
<rect x="1421.70" y="1411.10" width="14.60" height="14.60" fill="#0b4ea6" />
<rect x="1450.80" y="1402.70" width="14.60" height="14.60" fill="#0b4ea6" />
<rect x="1479.90" y="1393.90" width="14.60" height="14.60" fill="#0b4ea6" />
<rect x="1509.00" y="1383.95" width="14.60" height="14.60" fill="#0b4ea6" />
<circle cx="1021.60" cy="1483.70" r="6.10" fill="#111111" />
<circle cx="1050.70" cy="1327.00" r="6.10" fill="#111111" />
<circle cx="1079.80" cy="1225.90" r="6.10" fill="#111111" />
<circle cx="1108.90" cy="1180.60" r="6.10" fill="#111111" />
<circle cx="1138.00" cy="1153.30" r="6.10" fill="#111111" />
<circle cx="1167.10" cy="1135.50" r="6.10" fill="#111111" />
<circle cx="1196.20" cy="1131.20" r="6.10" fill="#111111" />
<circle cx="1225.30" cy="1130.60" r="6.10" fill="#111111" />
<circle cx="1254.40" cy="1126.00" r="6.10" fill="#111111" />
<circle cx="1283.50" cy="1122.70" r="6.10" fill="#111111" />
<circle cx="1312.60" cy="1124.00" r="6.10" fill="#111111" />
<circle cx="1341.70" cy="1120.10" r="6.10" fill="#111111" />
<circle cx="1370.80" cy="1124.00" r="6.10" fill="#111111" />
<circle cx="1399.90" cy="1124.00" r="6.10" fill="#111111" />
<circle cx="1429.00" cy="1125.20" r="6.10" fill="#111111" />
<circle cx="1458.10" cy="1124.20" r="6.10" fill="#111111" />
<circle cx="1487.20" cy="1119.30" r="6.10" fill="#111111" />
<circle cx="1516.30" cy="1124.60" r="6.10" fill="#111111" />
<polyline points="992.50,1521.00 1021.60,1516.70 1050.70,1516.19 1079.80,1515.68 1108.90,1515.16 1138.00,1514.65 1167.10,1514.14 1196.20,1513.63 1225.30,1513.12 1254.40,1512.61 1283.50,1512.09 1312.60,1511.58 1341.70,1511.07 1370.80,1510.56 1399.90,1510.05 1429.00,1509.54 1458.10,1509.02 1487.20,1508.51 1516.30,1508.00" fill="none" stroke="#a3a3a3" stroke-width="2.2"/>
<polygon points="992.50,1513.60 999.90,1521.00 992.50,1528.40 985.10,1521.00" fill="#9c9c9c" stroke="#cfcfcf" stroke-width="0.8"/>
<polygon points="1021.60,1509.30 1029.00,1516.70 1021.60,1524.10 1014.20,1516.70" fill="#9c9c9c" stroke="#cfcfcf" stroke-width="0.8"/>
<polygon points="1050.70,1508.79 1058.10,1516.19 1050.70,1523.59 1043.30,1516.19" fill="#9c9c9c" stroke="#cfcfcf" stroke-width="0.8"/>
<polygon points="1079.80,1508.28 1087.20,1515.68 1079.80,1523.08 1072.40,1515.68" fill="#9c9c9c" stroke="#cfcfcf" stroke-width="0.8"/>
<polygon points="1108.90,1507.76 1116.30,1515.16 1108.90,1522.56 1101.50,1515.16" fill="#9c9c9c" stroke="#cfcfcf" stroke-width="0.8"/>
<polygon points="1138.00,1507.25 1145.40,1514.65 1138.00,1522.05 1130.60,1514.65" fill="#9c9c9c" stroke="#cfcfcf" stroke-width="0.8"/>
<polygon points="1167.10,1506.74 1174.50,1514.14 1167.10,1521.54 1159.70,1514.14" fill="#9c9c9c" stroke="#cfcfcf" stroke-width="0.8"/>
<polygon points="1196.20,1506.23 1203.60,1513.63 1196.20,1521.03 1188.80,1513.63" fill="#9c9c9c" stroke="#cfcfcf" stroke-width="0.8"/>
<polygon points="1225.30,1505.72 1232.70,1513.12 1225.30,1520.52 1217.90,1513.12" fill="#9c9c9c" stroke="#cfcfcf" stroke-width="0.8"/>
<polygon points="1254.40,1505.21 1261.80,1512.61 1254.40,1520.01 1247.00,1512.61" fill="#9c9c9c" stroke="#cfcfcf" stroke-width="0.8"/>
<polygon points="1283.50,1504.69 1290.90,1512.09 1283.50,1519.49 1276.10,1512.09" fill="#9c9c9c" stroke="#cfcfcf" stroke-width="0.8"/>
<polygon points="1312.60,1504.18 1320.00,1511.58 1312.60,1518.98 1305.20,1511.58" fill="#9c9c9c" stroke="#cfcfcf" stroke-width="0.8"/>
<polygon points="1341.70,1503.67 1349.10,1511.07 1341.70,1518.47 1334.30,1511.07" fill="#9c9c9c" stroke="#cfcfcf" stroke-width="0.8"/>
<polygon points="1370.80,1503.16 1378.20,1510.56 1370.80,1517.96 1363.40,1510.56" fill="#9c9c9c" stroke="#cfcfcf" stroke-width="0.8"/>
<polygon points="1399.90,1502.65 1407.30,1510.05 1399.90,1517.45 1392.50,1510.05" fill="#9c9c9c" stroke="#cfcfcf" stroke-width="0.8"/>
<polygon points="1429.00,1502.14 1436.40,1509.54 1429.00,1516.94 1421.60,1509.54" fill="#9c9c9c" stroke="#cfcfcf" stroke-width="0.8"/>
<polygon points="1458.10,1501.62 1465.50,1509.02 1458.10,1516.42 1450.70,1509.02" fill="#9c9c9c" stroke="#cfcfcf" stroke-width="0.8"/>
<polygon points="1487.20,1501.11 1494.60,1508.51 1487.20,1515.91 1479.80,1508.51" fill="#9c9c9c" stroke="#cfcfcf" stroke-width="0.8"/>
<polygon points="1516.30,1500.60 1523.70,1508.00 1516.30,1515.40 1508.90,1508.00" fill="#9c9c9c" stroke="#cfcfcf" stroke-width="0.8"/>
<line x1="1545.60" y1="1118.75" x2="1572.50" y2="1118.75" stroke="#a3a3a3" stroke-width="2.20" stroke-linecap="butt" /><polygon points="1558.75,1111.35 1566.15,1118.75 1558.75,1126.15 1551.35,1118.75" fill="#a8a8a8" />
<line x1="1545.60" y1="1181.90" x2="1572.50" y2="1181.90" stroke="#111111" stroke-width="2.60" stroke-linecap="butt" /><circle cx="1558.75" cy="1181.90" r="6.30" fill="#111111" />
<line x1="1545.60" y1="1246.00" x2="1572.50" y2="1246.00" stroke="#0b4ea6" stroke-width="2.80" stroke-linecap="butt" /><rect x="1551.15" y="1238.40" width="15.20" height="15.20" fill="#0b4ea6" />
<text x="1588.10" y="1113.75" font-size="20.60" fill="#111111" font-family="'Liberation Sans', sans-serif" text-anchor="start" ><tspan font-weight="normal" font-style="normal">Normal Saline</tspan></text>
<text x="1588.10" y="1137.50" font-size="20.60" fill="#111111" font-family="'Liberation Sans', sans-serif" text-anchor="start" ><tspan font-weight="normal" font-style="normal">without Caerulein</tspan></text>
<text x="1588.10" y="1176.25" font-size="20.60" fill="#111111" font-family="'Liberation Sans', sans-serif" text-anchor="start" ><tspan font-weight="normal" font-style="normal">No Virus Control</tspan></text>
<text x="1588.10" y="1200.60" font-size="20.60" fill="#111111" font-family="'Liberation Sans', sans-serif" text-anchor="start" ><tspan font-weight="normal" font-style="normal">+ Caerulein</tspan></text>
<text x="1588.10" y="1264.40" font-size="20.60" fill="#111111" font-family="'Liberation Sans', sans-serif" text-anchor="start" ><tspan font-weight="normal" font-style="normal">+ Caerulein</tspan></text>
<text x="1588.10" y="1240.00" font-size="20.60" fill="#111111" font-family="'Liberation Sans', sans-serif" text-anchor="start" ><tspan font-weight="normal" font-style="normal">AAV8-</tspan><tspan font-weight="normal" font-style="italic">hSPINK1</tspan></text></svg>
</body></html>
